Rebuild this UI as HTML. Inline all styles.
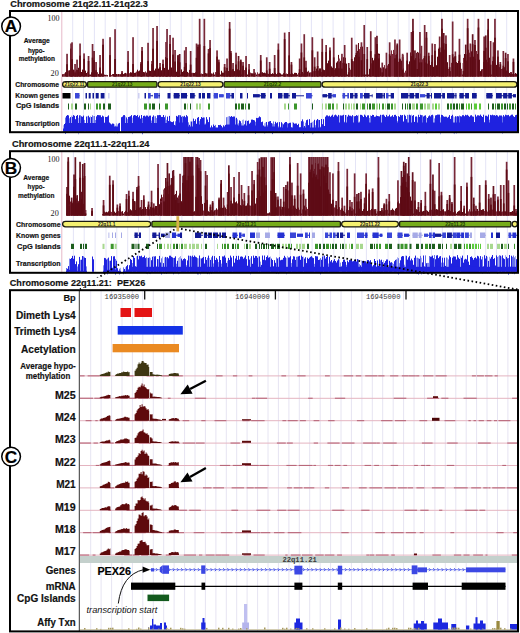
<!DOCTYPE html><html><head><meta charset="utf-8"><style>html,body{margin:0;padding:0;background:#fff;}svg{display:block}</style></head><body>
<svg width="520" height="633" viewBox="0 0 520 633">
<rect width="520" height="633" fill="#fff"/>
<text x="10.3" y="6.6" font-family="'Liberation Sans',sans-serif" font-size="9.25" font-weight="bold" font-style="normal" text-anchor="start" fill="#111"  textLength="137.7" lengthAdjust="spacingAndGlyphs" stroke="#111" stroke-width="0.18">Chromosome 21q22.11-21q22.3</text>
<line x1="72.7" y1="12" x2="72.7" y2="131" stroke="#e4e4f6" stroke-width="1"/><line x1="83.5" y1="12" x2="83.5" y2="131" stroke="#e4e4f6" stroke-width="1"/><line x1="94.4" y1="12" x2="94.4" y2="131" stroke="#e4e4f6" stroke-width="1"/><line x1="105.2" y1="12" x2="105.2" y2="131" stroke="#e4e4f6" stroke-width="1"/><line x1="116.1" y1="12" x2="116.1" y2="131" stroke="#e4e4f6" stroke-width="1"/><line x1="127.0" y1="12" x2="127.0" y2="131" stroke="#e4e4f6" stroke-width="1"/><line x1="137.8" y1="12" x2="137.8" y2="131" stroke="#e4e4f6" stroke-width="1"/><line x1="148.7" y1="12" x2="148.7" y2="131" stroke="#e4e4f6" stroke-width="1"/><line x1="159.5" y1="12" x2="159.5" y2="131" stroke="#e4e4f6" stroke-width="1"/><line x1="170.3" y1="12" x2="170.3" y2="131" stroke="#e4e4f6" stroke-width="1"/><line x1="181.2" y1="12" x2="181.2" y2="131" stroke="#e4e4f6" stroke-width="1"/><line x1="192.1" y1="12" x2="192.1" y2="131" stroke="#e4e4f6" stroke-width="1"/><line x1="202.9" y1="12" x2="202.9" y2="131" stroke="#e4e4f6" stroke-width="1"/><line x1="213.8" y1="12" x2="213.8" y2="131" stroke="#e4e4f6" stroke-width="1"/><line x1="224.6" y1="12" x2="224.6" y2="131" stroke="#e4e4f6" stroke-width="1"/><line x1="235.4" y1="12" x2="235.4" y2="131" stroke="#e4e4f6" stroke-width="1"/><line x1="246.3" y1="12" x2="246.3" y2="131" stroke="#e4e4f6" stroke-width="1"/><line x1="257.1" y1="12" x2="257.1" y2="131" stroke="#e4e4f6" stroke-width="1"/><line x1="268.0" y1="12" x2="268.0" y2="131" stroke="#e4e4f6" stroke-width="1"/><line x1="278.9" y1="12" x2="278.9" y2="131" stroke="#e4e4f6" stroke-width="1"/><line x1="289.7" y1="12" x2="289.7" y2="131" stroke="#e4e4f6" stroke-width="1"/><line x1="300.6" y1="12" x2="300.6" y2="131" stroke="#e4e4f6" stroke-width="1"/><line x1="311.4" y1="12" x2="311.4" y2="131" stroke="#e4e4f6" stroke-width="1"/><line x1="322.2" y1="12" x2="322.2" y2="131" stroke="#e4e4f6" stroke-width="1"/><line x1="333.1" y1="12" x2="333.1" y2="131" stroke="#e4e4f6" stroke-width="1"/><line x1="343.9" y1="12" x2="343.9" y2="131" stroke="#e4e4f6" stroke-width="1"/><line x1="354.8" y1="12" x2="354.8" y2="131" stroke="#e4e4f6" stroke-width="1"/><line x1="365.6" y1="12" x2="365.6" y2="131" stroke="#e4e4f6" stroke-width="1"/><line x1="376.5" y1="12" x2="376.5" y2="131" stroke="#e4e4f6" stroke-width="1"/><line x1="387.3" y1="12" x2="387.3" y2="131" stroke="#e4e4f6" stroke-width="1"/><line x1="398.2" y1="12" x2="398.2" y2="131" stroke="#e4e4f6" stroke-width="1"/><line x1="409.0" y1="12" x2="409.0" y2="131" stroke="#e4e4f6" stroke-width="1"/><line x1="419.9" y1="12" x2="419.9" y2="131" stroke="#e4e4f6" stroke-width="1"/><line x1="430.8" y1="12" x2="430.8" y2="131" stroke="#e4e4f6" stroke-width="1"/><line x1="441.6" y1="12" x2="441.6" y2="131" stroke="#e4e4f6" stroke-width="1"/><line x1="452.4" y1="12" x2="452.4" y2="131" stroke="#e4e4f6" stroke-width="1"/><line x1="463.3" y1="12" x2="463.3" y2="131" stroke="#e4e4f6" stroke-width="1"/><line x1="474.1" y1="12" x2="474.1" y2="131" stroke="#e4e4f6" stroke-width="1"/><line x1="485.0" y1="12" x2="485.0" y2="131" stroke="#e4e4f6" stroke-width="1"/><line x1="495.8" y1="12" x2="495.8" y2="131" stroke="#e4e4f6" stroke-width="1"/><line x1="506.7" y1="12" x2="506.7" y2="131" stroke="#e4e4f6" stroke-width="1"/>
<line x1="61.8" y1="12" x2="61.8" y2="131" stroke="#e6b8c8" stroke-width="1"/>
<rect x="62.0" y="74.5" width="1" height="2.0" fill="#5a0812"/><rect x="62.0" y="74.4" width="1" height="2.1" fill="#5e0a14"/><rect x="63.0" y="74.5" width="1" height="2.0" fill="#5a0812"/><rect x="63.0" y="74.1" width="1" height="2.4" fill="#7e2a3a"/><rect x="64.0" y="74.5" width="1" height="2.0" fill="#5a0812"/><rect x="64.0" y="73.5" width="1" height="3.0" fill="#7e2a3a"/><rect x="65.0" y="74.5" width="1" height="2.0" fill="#5a0812"/><rect x="65.0" y="72.2" width="1" height="4.3" fill="#5e0a14"/><rect x="66.0" y="74.5" width="1" height="2.0" fill="#5a0812"/><rect x="66.0" y="72.0" width="1" height="4.5" fill="#5e0a14"/><rect x="67.0" y="74.5" width="1" height="2.0" fill="#5a0812"/><rect x="67.0" y="70.4" width="1" height="6.1" fill="#5e0a14"/><rect x="68.0" y="74.5" width="1" height="2.0" fill="#5a0812"/><rect x="68.0" y="70.5" width="1" height="6.0" fill="#7e2a3a"/><rect x="69.0" y="74.5" width="1" height="2.0" fill="#5a0812"/><rect x="69.0" y="70.2" width="1" height="6.3" fill="#5e0a14"/><rect x="70.0" y="74.5" width="1" height="2.0" fill="#5a0812"/><rect x="70.0" y="69.8" width="1" height="6.7" fill="#5e0a14"/><rect x="71.0" y="74.5" width="1" height="2.0" fill="#5a0812"/><rect x="71.0" y="68.4" width="1" height="8.1" fill="#5e0a14"/><rect x="72.0" y="74.5" width="1" height="2.0" fill="#5a0812"/><rect x="72.0" y="70.5" width="1" height="6.0" fill="#5e0a14"/><rect x="73.0" y="74.5" width="1" height="2.0" fill="#5a0812"/><rect x="73.0" y="69.6" width="1" height="6.9" fill="#5e0a14"/><rect x="74.0" y="74.5" width="1" height="2.0" fill="#5a0812"/><rect x="74.0" y="70.3" width="1" height="6.2" fill="#7e2a3a"/><rect x="75.0" y="74.5" width="1" height="2.0" fill="#5a0812"/><rect x="75.0" y="71.0" width="1" height="5.5" fill="#5e0a14"/><rect x="76.0" y="74.5" width="1" height="2.0" fill="#5a0812"/><rect x="76.0" y="69.4" width="1" height="7.1" fill="#7e2a3a"/><rect x="77.0" y="74.5" width="1" height="2.0" fill="#5a0812"/><rect x="77.0" y="70.2" width="1" height="6.3" fill="#5e0a14"/><rect x="78.0" y="74.5" width="1" height="2.0" fill="#5a0812"/><rect x="78.0" y="67.8" width="1" height="8.7" fill="#5e0a14"/><rect x="79.0" y="74.5" width="1" height="2.0" fill="#5a0812"/><rect x="79.0" y="71.7" width="1" height="4.8" fill="#5e0a14"/><rect x="80.0" y="74.5" width="1" height="2.0" fill="#5a0812"/><rect x="80.0" y="69.9" width="1" height="6.6" fill="#5e0a14"/><rect x="81.0" y="74.5" width="1" height="2.0" fill="#5a0812"/><rect x="81.0" y="72.0" width="1" height="4.5" fill="#5e0a14"/><rect x="82.0" y="74.5" width="1" height="2.0" fill="#5a0812"/><rect x="82.0" y="69.6" width="1" height="6.9" fill="#5e0a14"/><rect x="83.0" y="74.5" width="1" height="2.0" fill="#5a0812"/><rect x="83.0" y="70.2" width="1" height="6.3" fill="#5e0a14"/><rect x="84.0" y="74.5" width="1" height="2.0" fill="#5a0812"/><rect x="84.0" y="71.0" width="1" height="5.5" fill="#7e2a3a"/><rect x="85.0" y="74.5" width="1" height="2.0" fill="#5a0812"/><rect x="85.0" y="70.6" width="1" height="5.9" fill="#5e0a14"/><rect x="86.0" y="74.5" width="1" height="2.0" fill="#5a0812"/><rect x="86.0" y="73.0" width="1" height="3.5" fill="#5e0a14"/><rect x="87.0" y="74.5" width="1" height="2.0" fill="#5a0812"/><rect x="87.0" y="71.7" width="1" height="4.8" fill="#7e2a3a"/><rect x="88.0" y="74.5" width="1" height="2.0" fill="#5a0812"/><rect x="88.0" y="72.3" width="1" height="4.2" fill="#5e0a14"/><rect x="89.0" y="74.5" width="1" height="2.0" fill="#5a0812"/><rect x="90.0" y="74.5" width="1" height="2.0" fill="#5a0812"/><rect x="91.0" y="74.5" width="1" height="2.0" fill="#5a0812"/><rect x="91.0" y="72.3" width="1" height="4.2" fill="#5e0a14"/><rect x="92.0" y="74.5" width="1" height="2.0" fill="#5a0812"/><rect x="92.0" y="73.4" width="1" height="3.1" fill="#5e0a14"/><rect x="93.0" y="74.5" width="1" height="2.0" fill="#5a0812"/><rect x="93.0" y="73.0" width="1" height="3.5" fill="#7e2a3a"/><rect x="94.0" y="74.5" width="1" height="2.0" fill="#5a0812"/><rect x="94.0" y="72.4" width="1" height="4.1" fill="#5e0a14"/><rect x="95.0" y="74.5" width="1" height="2.0" fill="#5a0812"/><rect x="95.0" y="71.9" width="1" height="4.6" fill="#7e2a3a"/><rect x="96.0" y="74.5" width="1" height="2.0" fill="#5a0812"/><rect x="96.0" y="72.4" width="1" height="4.1" fill="#5e0a14"/><rect x="97.0" y="74.5" width="1" height="2.0" fill="#5a0812"/><rect x="97.0" y="72.2" width="1" height="4.3" fill="#7e2a3a"/><rect x="98.0" y="74.5" width="1" height="2.0" fill="#5a0812"/><rect x="98.0" y="73.9" width="1" height="2.6" fill="#5e0a14"/><rect x="99.0" y="74.5" width="1" height="2.0" fill="#5a0812"/><rect x="99.0" y="72.0" width="1" height="4.5" fill="#5e0a14"/><rect x="100.0" y="74.5" width="1" height="2.0" fill="#5a0812"/><rect x="100.0" y="73.6" width="1" height="2.9" fill="#5e0a14"/><rect x="101.0" y="74.5" width="1" height="2.0" fill="#5a0812"/><rect x="101.0" y="73.5" width="1" height="3.0" fill="#5e0a14"/><rect x="102.0" y="74.5" width="1" height="2.0" fill="#5a0812"/><rect x="102.0" y="74.7" width="1" height="1.8" fill="#5e0a14"/><rect x="103.0" y="75.1" width="1" height="1.4" fill="#5e0a14"/><rect x="104.0" y="74.6" width="1" height="1.9" fill="#5e0a14"/><rect x="105.0" y="74.9" width="1" height="1.6" fill="#5e0a14"/><rect x="106.0" y="74.8" width="1" height="1.7" fill="#7e2a3a"/><rect x="107.0" y="75.1" width="1" height="1.4" fill="#5e0a14"/><rect x="109.0" y="74.3" width="1" height="2.2" fill="#5e0a14"/><rect x="110.0" y="74.3" width="1" height="2.2" fill="#5e0a14"/><rect x="111.0" y="75.0" width="1" height="1.5" fill="#7e2a3a"/><rect x="112.0" y="74.0" width="1" height="2.5" fill="#7e2a3a"/><rect x="113.0" y="74.5" width="1" height="2.0" fill="#5a0812"/><rect x="113.0" y="74.0" width="1" height="2.5" fill="#5e0a14"/><rect x="114.0" y="74.5" width="1" height="2.0" fill="#5a0812"/><rect x="114.0" y="74.4" width="1" height="2.1" fill="#5e0a14"/><rect x="115.0" y="74.5" width="1" height="2.0" fill="#5a0812"/><rect x="115.0" y="74.1" width="1" height="2.4" fill="#5e0a14"/><rect x="116.0" y="74.5" width="1" height="2.0" fill="#5a0812"/><rect x="116.0" y="74.0" width="1" height="2.5" fill="#5e0a14"/><rect x="117.0" y="74.5" width="1" height="2.0" fill="#5a0812"/><rect x="117.0" y="74.5" width="1" height="2.0" fill="#7e2a3a"/><rect x="118.0" y="74.5" width="1" height="2.0" fill="#5a0812"/><rect x="118.0" y="74.0" width="1" height="2.5" fill="#5e0a14"/><rect x="119.0" y="74.5" width="1" height="2.0" fill="#5a0812"/><rect x="119.0" y="74.4" width="1" height="2.1" fill="#7e2a3a"/><rect x="120.0" y="74.5" width="1" height="2.0" fill="#5a0812"/><rect x="120.0" y="74.3" width="1" height="2.2" fill="#5e0a14"/><rect x="121.0" y="74.5" width="1" height="2.0" fill="#5a0812"/><rect x="121.0" y="74.5" width="1" height="2.0" fill="#7e2a3a"/><rect x="122.0" y="74.5" width="1" height="2.0" fill="#5a0812"/><rect x="122.0" y="73.7" width="1" height="2.8" fill="#7e2a3a"/><rect x="123.0" y="74.5" width="1" height="2.0" fill="#5a0812"/><rect x="123.0" y="74.1" width="1" height="2.4" fill="#5e0a14"/><rect x="124.0" y="74.5" width="1" height="2.0" fill="#5a0812"/><rect x="124.0" y="73.3" width="1" height="3.2" fill="#5e0a14"/><rect x="125.0" y="74.5" width="1" height="2.0" fill="#5a0812"/><rect x="125.0" y="72.9" width="1" height="3.6" fill="#5e0a14"/><rect x="126.0" y="74.5" width="1" height="2.0" fill="#5a0812"/><rect x="126.0" y="73.4" width="1" height="3.1" fill="#7e2a3a"/><rect x="127.0" y="74.5" width="1" height="2.0" fill="#5a0812"/><rect x="127.0" y="73.2" width="1" height="3.3" fill="#5e0a14"/><rect x="128.0" y="74.5" width="1" height="2.0" fill="#5a0812"/><rect x="128.0" y="72.7" width="1" height="3.8" fill="#7e2a3a"/><rect x="129.0" y="74.5" width="1" height="2.0" fill="#5a0812"/><rect x="129.0" y="73.2" width="1" height="3.3" fill="#7e2a3a"/><rect x="130.0" y="74.5" width="1" height="2.0" fill="#5a0812"/><rect x="130.0" y="72.2" width="1" height="4.3" fill="#5e0a14"/><rect x="131.0" y="74.5" width="1" height="2.0" fill="#5a0812"/><rect x="131.0" y="72.5" width="1" height="4.0" fill="#5e0a14"/><rect x="132.0" y="74.5" width="1" height="2.0" fill="#5a0812"/><rect x="132.0" y="71.6" width="1" height="4.9" fill="#5e0a14"/><rect x="133.0" y="74.5" width="1" height="2.0" fill="#5a0812"/><rect x="133.0" y="72.4" width="1" height="4.1" fill="#5e0a14"/><rect x="134.0" y="74.5" width="1" height="2.0" fill="#5a0812"/><rect x="134.0" y="72.9" width="1" height="3.6" fill="#5e0a14"/><rect x="135.0" y="74.5" width="1" height="2.0" fill="#5a0812"/><rect x="135.0" y="72.6" width="1" height="3.9" fill="#5e0a14"/><rect x="136.0" y="74.5" width="1" height="2.0" fill="#5a0812"/><rect x="136.0" y="71.6" width="1" height="4.9" fill="#7e2a3a"/><rect x="137.0" y="74.5" width="1" height="2.0" fill="#5a0812"/><rect x="137.0" y="69.7" width="1" height="6.8" fill="#5e0a14"/><rect x="138.0" y="74.5" width="1" height="2.0" fill="#5a0812"/><rect x="138.0" y="71.2" width="1" height="5.3" fill="#5e0a14"/><rect x="139.0" y="74.5" width="1" height="2.0" fill="#5a0812"/><rect x="139.0" y="70.5" width="1" height="6.0" fill="#5e0a14"/><rect x="140.0" y="74.5" width="1" height="2.0" fill="#5a0812"/><rect x="140.0" y="69.3" width="1" height="7.2" fill="#7e2a3a"/><rect x="141.0" y="74.5" width="1" height="2.0" fill="#5a0812"/><rect x="141.0" y="71.0" width="1" height="5.5" fill="#7e2a3a"/><rect x="142.0" y="74.5" width="1" height="2.0" fill="#5a0812"/><rect x="143.0" y="74.5" width="1" height="2.0" fill="#5a0812"/><rect x="143.0" y="72.0" width="1" height="4.5" fill="#5e0a14"/><rect x="144.0" y="74.5" width="1" height="2.0" fill="#5a0812"/><rect x="144.0" y="72.3" width="1" height="4.2" fill="#5e0a14"/><rect x="145.0" y="74.5" width="1" height="2.0" fill="#5a0812"/><rect x="145.0" y="71.4" width="1" height="5.1" fill="#7e2a3a"/><rect x="146.0" y="74.5" width="1" height="2.0" fill="#5a0812"/><rect x="146.0" y="72.6" width="1" height="3.9" fill="#5e0a14"/><rect x="147.0" y="74.5" width="1" height="2.0" fill="#5a0812"/><rect x="147.0" y="70.0" width="1" height="6.5" fill="#7e2a3a"/><rect x="148.0" y="74.5" width="1" height="2.0" fill="#5a0812"/><rect x="148.0" y="70.1" width="1" height="6.4" fill="#7e2a3a"/><rect x="149.0" y="74.5" width="1" height="2.0" fill="#5a0812"/><rect x="149.0" y="70.6" width="1" height="5.9" fill="#5e0a14"/><rect x="150.0" y="74.5" width="1" height="2.0" fill="#5a0812"/><rect x="150.0" y="71.0" width="1" height="5.5" fill="#5e0a14"/><rect x="151.0" y="74.5" width="1" height="2.0" fill="#5a0812"/><rect x="151.0" y="69.9" width="1" height="6.6" fill="#7e2a3a"/><rect x="152.0" y="74.5" width="1" height="2.0" fill="#5a0812"/><rect x="152.0" y="71.9" width="1" height="4.6" fill="#7e2a3a"/><rect x="153.0" y="74.5" width="1" height="2.0" fill="#5a0812"/><rect x="153.0" y="68.5" width="1" height="8.0" fill="#5e0a14"/><rect x="154.0" y="74.5" width="1" height="2.0" fill="#5a0812"/><rect x="154.0" y="70.4" width="1" height="6.1" fill="#5e0a14"/><rect x="155.0" y="74.5" width="1" height="2.0" fill="#5a0812"/><rect x="155.0" y="68.6" width="1" height="7.9" fill="#5e0a14"/><rect x="156.0" y="74.5" width="1" height="2.0" fill="#5a0812"/><rect x="156.0" y="69.2" width="1" height="7.3" fill="#5e0a14"/><rect x="157.0" y="74.5" width="1" height="2.0" fill="#5a0812"/><rect x="158.0" y="74.5" width="1" height="2.0" fill="#5a0812"/><rect x="158.0" y="68.6" width="1" height="7.9" fill="#5e0a14"/><rect x="159.0" y="74.5" width="1" height="2.0" fill="#5a0812"/><rect x="159.0" y="68.2" width="1" height="8.3" fill="#5e0a14"/><rect x="160.0" y="74.5" width="1" height="2.0" fill="#5a0812"/><rect x="160.0" y="67.5" width="1" height="9.0" fill="#5e0a14"/><rect x="161.0" y="74.5" width="1" height="2.0" fill="#5a0812"/><rect x="161.0" y="70.3" width="1" height="6.2" fill="#5e0a14"/><rect x="162.0" y="74.5" width="1" height="2.0" fill="#5a0812"/><rect x="162.0" y="67.9" width="1" height="8.6" fill="#7e2a3a"/><rect x="163.0" y="74.5" width="1" height="2.0" fill="#5a0812"/><rect x="163.0" y="65.8" width="1" height="10.7" fill="#7e2a3a"/><rect x="164.0" y="74.5" width="1" height="2.0" fill="#5a0812"/><rect x="164.0" y="67.9" width="1" height="8.6" fill="#5e0a14"/><rect x="165.0" y="74.5" width="1" height="2.0" fill="#5a0812"/><rect x="165.0" y="70.3" width="1" height="6.2" fill="#7e2a3a"/><rect x="166.0" y="74.5" width="1" height="2.0" fill="#5a0812"/><rect x="166.0" y="70.4" width="1" height="6.1" fill="#5e0a14"/><rect x="167.0" y="74.5" width="1" height="2.0" fill="#5a0812"/><rect x="167.0" y="68.3" width="1" height="8.2" fill="#5e0a14"/><rect x="168.0" y="74.5" width="1" height="2.0" fill="#5a0812"/><rect x="168.0" y="69.7" width="1" height="6.8" fill="#5e0a14"/><rect x="169.0" y="74.5" width="1" height="2.0" fill="#5a0812"/><rect x="169.0" y="67.8" width="1" height="8.7" fill="#7e2a3a"/><rect x="170.0" y="74.5" width="1" height="2.0" fill="#5a0812"/><rect x="170.0" y="66.6" width="1" height="9.9" fill="#5e0a14"/><rect x="171.0" y="74.5" width="1" height="2.0" fill="#5a0812"/><rect x="171.0" y="67.5" width="1" height="9.0" fill="#5e0a14"/><rect x="172.0" y="74.5" width="1" height="2.0" fill="#5a0812"/><rect x="172.0" y="70.0" width="1" height="6.5" fill="#5e0a14"/><rect x="173.0" y="74.5" width="1" height="2.0" fill="#5a0812"/><rect x="173.0" y="68.3" width="1" height="8.2" fill="#7e2a3a"/><rect x="174.0" y="74.5" width="1" height="2.0" fill="#5a0812"/><rect x="174.0" y="70.4" width="1" height="6.1" fill="#5e0a14"/><rect x="175.0" y="74.5" width="1" height="2.0" fill="#5a0812"/><rect x="175.0" y="70.0" width="1" height="6.5" fill="#5e0a14"/><rect x="176.0" y="74.5" width="1" height="2.0" fill="#5a0812"/><rect x="176.0" y="71.7" width="1" height="4.8" fill="#5e0a14"/><rect x="177.0" y="74.5" width="1" height="2.0" fill="#5a0812"/><rect x="177.0" y="69.4" width="1" height="7.1" fill="#7e2a3a"/><rect x="178.0" y="74.5" width="1" height="2.0" fill="#5a0812"/><rect x="178.0" y="70.0" width="1" height="6.5" fill="#5e0a14"/><rect x="179.0" y="74.5" width="1" height="2.0" fill="#5a0812"/><rect x="179.0" y="69.3" width="1" height="7.2" fill="#7e2a3a"/><rect x="180.0" y="74.5" width="1" height="2.0" fill="#5a0812"/><rect x="181.0" y="74.5" width="1" height="2.0" fill="#5a0812"/><rect x="181.0" y="69.4" width="1" height="7.1" fill="#5e0a14"/><rect x="182.0" y="74.5" width="1" height="2.0" fill="#5a0812"/><rect x="182.0" y="71.9" width="1" height="4.6" fill="#5e0a14"/><rect x="183.0" y="74.5" width="1" height="2.0" fill="#5a0812"/><rect x="183.0" y="71.1" width="1" height="5.4" fill="#5e0a14"/><rect x="184.0" y="74.5" width="1" height="2.0" fill="#5a0812"/><rect x="184.0" y="72.4" width="1" height="4.1" fill="#5e0a14"/><rect x="185.0" y="74.5" width="1" height="2.0" fill="#5a0812"/><rect x="185.0" y="71.9" width="1" height="4.6" fill="#7e2a3a"/><rect x="186.0" y="74.5" width="1" height="2.0" fill="#5a0812"/><rect x="186.0" y="71.5" width="1" height="5.0" fill="#5e0a14"/><rect x="187.0" y="74.5" width="1" height="2.0" fill="#5a0812"/><rect x="187.0" y="71.9" width="1" height="4.6" fill="#5e0a14"/><rect x="188.0" y="74.5" width="1" height="2.0" fill="#5a0812"/><rect x="188.0" y="72.8" width="1" height="3.7" fill="#7e2a3a"/><rect x="189.0" y="74.5" width="1" height="2.0" fill="#5a0812"/><rect x="189.0" y="69.9" width="1" height="6.6" fill="#5e0a14"/><rect x="190.0" y="74.5" width="1" height="2.0" fill="#5a0812"/><rect x="190.0" y="71.3" width="1" height="5.2" fill="#5e0a14"/><rect x="191.0" y="74.5" width="1" height="2.0" fill="#5a0812"/><rect x="191.0" y="72.9" width="1" height="3.6" fill="#5e0a14"/><rect x="192.0" y="74.5" width="1" height="2.0" fill="#5a0812"/><rect x="192.0" y="72.8" width="1" height="3.7" fill="#7e2a3a"/><rect x="193.0" y="74.5" width="1" height="2.0" fill="#5a0812"/><rect x="193.0" y="72.9" width="1" height="3.6" fill="#5e0a14"/><rect x="194.0" y="74.5" width="1" height="2.0" fill="#5a0812"/><rect x="194.0" y="73.0" width="1" height="3.5" fill="#5e0a14"/><rect x="195.0" y="74.5" width="1" height="2.0" fill="#5a0812"/><rect x="195.0" y="72.2" width="1" height="4.3" fill="#5e0a14"/><rect x="196.0" y="74.5" width="1" height="2.0" fill="#5a0812"/><rect x="196.0" y="73.7" width="1" height="2.8" fill="#7e2a3a"/><rect x="197.0" y="74.5" width="1" height="2.0" fill="#5a0812"/><rect x="197.0" y="72.6" width="1" height="3.9" fill="#7e2a3a"/><rect x="198.0" y="74.5" width="1" height="2.0" fill="#5a0812"/><rect x="198.0" y="74.2" width="1" height="2.3" fill="#7e2a3a"/><rect x="199.0" y="74.5" width="1" height="2.0" fill="#5a0812"/><rect x="199.0" y="73.7" width="1" height="2.8" fill="#5e0a14"/><rect x="200.0" y="74.5" width="1" height="2.0" fill="#5a0812"/><rect x="200.0" y="74.2" width="1" height="2.3" fill="#5e0a14"/><rect x="201.0" y="74.5" width="1" height="2.0" fill="#5a0812"/><rect x="201.0" y="73.5" width="1" height="3.0" fill="#7e2a3a"/><rect x="202.0" y="74.5" width="1" height="2.0" fill="#5a0812"/><rect x="202.0" y="74.0" width="1" height="2.5" fill="#5e0a14"/><rect x="203.0" y="74.5" width="1" height="2.0" fill="#5a0812"/><rect x="203.0" y="73.9" width="1" height="2.6" fill="#7e2a3a"/><rect x="204.0" y="74.5" width="1" height="2.0" fill="#5a0812"/><rect x="204.0" y="73.8" width="1" height="2.7" fill="#5e0a14"/><rect x="205.0" y="74.5" width="1" height="2.0" fill="#5a0812"/><rect x="205.0" y="73.0" width="1" height="3.5" fill="#5e0a14"/><rect x="206.0" y="74.5" width="1" height="2.0" fill="#5a0812"/><rect x="206.0" y="73.4" width="1" height="3.1" fill="#5e0a14"/><rect x="207.0" y="74.5" width="1" height="2.0" fill="#5a0812"/><rect x="207.0" y="73.4" width="1" height="3.1" fill="#7e2a3a"/><rect x="208.0" y="74.5" width="1" height="2.0" fill="#5a0812"/><rect x="208.0" y="73.4" width="1" height="3.1" fill="#5e0a14"/><rect x="209.0" y="74.5" width="1" height="2.0" fill="#5a0812"/><rect x="209.0" y="73.2" width="1" height="3.3" fill="#5e0a14"/><rect x="210.0" y="74.5" width="1" height="2.0" fill="#5a0812"/><rect x="210.0" y="73.3" width="1" height="3.2" fill="#5e0a14"/><rect x="211.0" y="74.5" width="1" height="2.0" fill="#5a0812"/><rect x="211.0" y="73.4" width="1" height="3.1" fill="#5e0a14"/><rect x="212.0" y="74.5" width="1" height="2.0" fill="#5a0812"/><rect x="212.0" y="73.7" width="1" height="2.8" fill="#7e2a3a"/><rect x="213.0" y="74.5" width="1" height="2.0" fill="#5a0812"/><rect x="213.0" y="72.5" width="1" height="4.0" fill="#5e0a14"/><rect x="214.0" y="74.5" width="1" height="2.0" fill="#5a0812"/><rect x="215.0" y="74.5" width="1" height="2.0" fill="#5a0812"/><rect x="215.0" y="72.1" width="1" height="4.4" fill="#7e2a3a"/><rect x="216.0" y="74.5" width="1" height="2.0" fill="#5a0812"/><rect x="216.0" y="72.4" width="1" height="4.1" fill="#7e2a3a"/><rect x="217.0" y="74.5" width="1" height="2.0" fill="#5a0812"/><rect x="217.0" y="72.4" width="1" height="4.1" fill="#5e0a14"/><rect x="218.0" y="74.5" width="1" height="2.0" fill="#5a0812"/><rect x="218.0" y="72.1" width="1" height="4.4" fill="#5e0a14"/><rect x="219.0" y="74.5" width="1" height="2.0" fill="#5a0812"/><rect x="219.0" y="72.9" width="1" height="3.6" fill="#7e2a3a"/><rect x="220.0" y="74.5" width="1" height="2.0" fill="#5a0812"/><rect x="221.0" y="74.5" width="1" height="2.0" fill="#5a0812"/><rect x="221.0" y="70.8" width="1" height="5.7" fill="#5e0a14"/><rect x="222.0" y="74.5" width="1" height="2.0" fill="#5a0812"/><rect x="222.0" y="72.6" width="1" height="3.9" fill="#5e0a14"/><rect x="223.0" y="74.5" width="1" height="2.0" fill="#5a0812"/><rect x="223.0" y="72.7" width="1" height="3.8" fill="#5e0a14"/><rect x="224.0" y="74.5" width="1" height="2.0" fill="#5a0812"/><rect x="224.0" y="71.9" width="1" height="4.6" fill="#5e0a14"/><rect x="225.0" y="74.5" width="1" height="2.0" fill="#5a0812"/><rect x="225.0" y="70.6" width="1" height="5.9" fill="#7e2a3a"/><rect x="226.0" y="74.5" width="1" height="2.0" fill="#5a0812"/><rect x="226.0" y="71.2" width="1" height="5.3" fill="#5e0a14"/><rect x="227.0" y="74.5" width="1" height="2.0" fill="#5a0812"/><rect x="227.0" y="72.1" width="1" height="4.4" fill="#5e0a14"/><rect x="228.0" y="74.5" width="1" height="2.0" fill="#5a0812"/><rect x="228.0" y="71.0" width="1" height="5.5" fill="#5e0a14"/><rect x="229.0" y="74.5" width="1" height="2.0" fill="#5a0812"/><rect x="229.0" y="70.2" width="1" height="6.3" fill="#5e0a14"/><rect x="230.0" y="74.5" width="1" height="2.0" fill="#5a0812"/><rect x="230.0" y="72.6" width="1" height="3.9" fill="#7e2a3a"/><rect x="231.0" y="74.5" width="1" height="2.0" fill="#5a0812"/><rect x="231.0" y="70.4" width="1" height="6.1" fill="#7e2a3a"/><rect x="232.0" y="74.5" width="1" height="2.0" fill="#5a0812"/><rect x="232.0" y="69.7" width="1" height="6.8" fill="#5e0a14"/><rect x="233.0" y="74.5" width="1" height="2.0" fill="#5a0812"/><rect x="233.0" y="70.5" width="1" height="6.0" fill="#7e2a3a"/><rect x="234.0" y="74.5" width="1" height="2.0" fill="#5a0812"/><rect x="234.0" y="71.1" width="1" height="5.4" fill="#5e0a14"/><rect x="235.0" y="74.5" width="1" height="2.0" fill="#5a0812"/><rect x="235.0" y="69.4" width="1" height="7.1" fill="#7e2a3a"/><rect x="236.0" y="74.5" width="1" height="2.0" fill="#5a0812"/><rect x="236.0" y="70.0" width="1" height="6.5" fill="#7e2a3a"/><rect x="237.0" y="74.5" width="1" height="2.0" fill="#5a0812"/><rect x="237.0" y="69.3" width="1" height="7.2" fill="#5e0a14"/><rect x="238.0" y="74.5" width="1" height="2.0" fill="#5a0812"/><rect x="238.0" y="70.7" width="1" height="5.8" fill="#5e0a14"/><rect x="239.0" y="74.5" width="1" height="2.0" fill="#5a0812"/><rect x="239.0" y="70.2" width="1" height="6.3" fill="#5e0a14"/><rect x="240.0" y="74.5" width="1" height="2.0" fill="#5a0812"/><rect x="240.0" y="69.3" width="1" height="7.2" fill="#5e0a14"/><rect x="241.0" y="74.5" width="1" height="2.0" fill="#5a0812"/><rect x="242.0" y="74.5" width="1" height="2.0" fill="#5a0812"/><rect x="242.0" y="69.6" width="1" height="6.9" fill="#5e0a14"/><rect x="243.0" y="74.5" width="1" height="2.0" fill="#5a0812"/><rect x="243.0" y="70.8" width="1" height="5.7" fill="#7e2a3a"/><rect x="244.0" y="74.5" width="1" height="2.0" fill="#5a0812"/><rect x="244.0" y="70.1" width="1" height="6.4" fill="#7e2a3a"/><rect x="245.0" y="74.5" width="1" height="2.0" fill="#5a0812"/><rect x="245.0" y="70.3" width="1" height="6.2" fill="#7e2a3a"/><rect x="246.0" y="74.5" width="1" height="2.0" fill="#5a0812"/><rect x="246.0" y="72.2" width="1" height="4.3" fill="#5e0a14"/><rect x="247.0" y="74.5" width="1" height="2.0" fill="#5a0812"/><rect x="248.0" y="74.5" width="1" height="2.0" fill="#5a0812"/><rect x="248.0" y="72.0" width="1" height="4.5" fill="#5e0a14"/><rect x="249.0" y="74.5" width="1" height="2.0" fill="#5a0812"/><rect x="249.0" y="71.8" width="1" height="4.7" fill="#5e0a14"/><rect x="250.0" y="74.5" width="1" height="2.0" fill="#5a0812"/><rect x="250.0" y="72.6" width="1" height="3.9" fill="#7e2a3a"/><rect x="251.0" y="74.5" width="1" height="2.0" fill="#5a0812"/><rect x="251.0" y="73.2" width="1" height="3.3" fill="#5e0a14"/><rect x="252.0" y="74.5" width="1" height="2.0" fill="#5a0812"/><rect x="252.0" y="73.3" width="1" height="3.2" fill="#5e0a14"/><rect x="253.0" y="74.5" width="1" height="2.0" fill="#5a0812"/><rect x="253.0" y="73.1" width="1" height="3.4" fill="#7e2a3a"/><rect x="254.0" y="74.5" width="1" height="2.0" fill="#5a0812"/><rect x="254.0" y="72.2" width="1" height="4.3" fill="#5e0a14"/><rect x="255.0" y="74.5" width="1" height="2.0" fill="#5a0812"/><rect x="255.0" y="72.6" width="1" height="3.9" fill="#7e2a3a"/><rect x="256.0" y="74.5" width="1" height="2.0" fill="#5a0812"/><rect x="257.0" y="74.5" width="1" height="2.0" fill="#5a0812"/><rect x="257.0" y="72.3" width="1" height="4.2" fill="#7e2a3a"/><rect x="258.0" y="74.5" width="1" height="2.0" fill="#5a0812"/><rect x="258.0" y="73.8" width="1" height="2.7" fill="#7e2a3a"/><rect x="259.0" y="74.5" width="1" height="2.0" fill="#5a0812"/><rect x="259.0" y="73.5" width="1" height="3.0" fill="#5e0a14"/><rect x="260.0" y="74.5" width="1" height="2.0" fill="#5a0812"/><rect x="260.0" y="74.1" width="1" height="2.4" fill="#5e0a14"/><rect x="261.0" y="74.5" width="1" height="2.0" fill="#5a0812"/><rect x="261.0" y="72.6" width="1" height="3.9" fill="#7e2a3a"/><rect x="262.0" y="74.5" width="1" height="2.0" fill="#5a0812"/><rect x="262.0" y="72.2" width="1" height="4.3" fill="#5e0a14"/><rect x="263.0" y="74.5" width="1" height="2.0" fill="#5a0812"/><rect x="263.0" y="72.9" width="1" height="3.6" fill="#5e0a14"/><rect x="264.0" y="74.5" width="1" height="2.0" fill="#5a0812"/><rect x="264.0" y="72.6" width="1" height="3.9" fill="#5e0a14"/><rect x="265.0" y="74.5" width="1" height="2.0" fill="#5a0812"/><rect x="265.0" y="73.2" width="1" height="3.3" fill="#5e0a14"/><rect x="266.0" y="74.5" width="1" height="2.0" fill="#5a0812"/><rect x="266.0" y="73.2" width="1" height="3.3" fill="#5e0a14"/><rect x="267.0" y="74.5" width="1" height="2.0" fill="#5a0812"/><rect x="267.0" y="73.5" width="1" height="3.0" fill="#5e0a14"/><rect x="268.0" y="74.5" width="1" height="2.0" fill="#5a0812"/><rect x="268.0" y="73.8" width="1" height="2.7" fill="#5e0a14"/><rect x="269.0" y="74.5" width="1" height="2.0" fill="#5a0812"/><rect x="269.0" y="72.2" width="1" height="4.3" fill="#5e0a14"/><rect x="270.0" y="74.5" width="1" height="2.0" fill="#5a0812"/><rect x="270.0" y="73.7" width="1" height="2.8" fill="#5e0a14"/><rect x="271.0" y="74.5" width="1" height="2.0" fill="#5a0812"/><rect x="271.0" y="74.0" width="1" height="2.5" fill="#5e0a14"/><rect x="272.0" y="74.5" width="1" height="2.0" fill="#5a0812"/><rect x="272.0" y="73.2" width="1" height="3.3" fill="#5e0a14"/><rect x="273.0" y="74.5" width="1" height="2.0" fill="#5a0812"/><rect x="273.0" y="73.9" width="1" height="2.6" fill="#5e0a14"/><rect x="274.0" y="74.5" width="1" height="2.0" fill="#5a0812"/><rect x="274.0" y="73.9" width="1" height="2.6" fill="#5e0a14"/><rect x="275.0" y="74.5" width="1" height="2.0" fill="#5a0812"/><rect x="275.0" y="72.9" width="1" height="3.6" fill="#5e0a14"/><rect x="276.0" y="74.5" width="1" height="2.0" fill="#5a0812"/><rect x="276.0" y="74.2" width="1" height="2.3" fill="#5e0a14"/><rect x="277.0" y="74.5" width="1" height="2.0" fill="#5a0812"/><rect x="277.0" y="73.1" width="1" height="3.4" fill="#5e0a14"/><rect x="278.0" y="74.5" width="1" height="2.0" fill="#5a0812"/><rect x="278.0" y="73.1" width="1" height="3.4" fill="#5e0a14"/><rect x="279.0" y="74.5" width="1" height="2.0" fill="#5a0812"/><rect x="279.0" y="72.8" width="1" height="3.7" fill="#5e0a14"/><rect x="280.0" y="74.5" width="1" height="2.0" fill="#5a0812"/><rect x="280.0" y="73.4" width="1" height="3.1" fill="#5e0a14"/><rect x="281.0" y="74.5" width="1" height="2.0" fill="#5a0812"/><rect x="282.0" y="74.5" width="1" height="2.0" fill="#5a0812"/><rect x="283.0" y="74.5" width="1" height="2.0" fill="#5a0812"/><rect x="283.0" y="73.2" width="1" height="3.3" fill="#5e0a14"/><rect x="284.0" y="74.5" width="1" height="2.0" fill="#5a0812"/><rect x="284.0" y="73.5" width="1" height="3.0" fill="#5e0a14"/><rect x="285.0" y="74.5" width="1" height="2.0" fill="#5a0812"/><rect x="285.0" y="74.3" width="1" height="2.2" fill="#5e0a14"/><rect x="286.0" y="74.5" width="1" height="2.0" fill="#5a0812"/><rect x="286.0" y="73.5" width="1" height="3.0" fill="#7e2a3a"/><rect x="287.0" y="74.5" width="1" height="2.0" fill="#5a0812"/><rect x="287.0" y="74.0" width="1" height="2.5" fill="#5e0a14"/><rect x="288.0" y="74.5" width="1" height="2.0" fill="#5a0812"/><rect x="288.0" y="73.4" width="1" height="3.1" fill="#7e2a3a"/><rect x="289.0" y="74.5" width="1" height="2.0" fill="#5a0812"/><rect x="289.0" y="74.3" width="1" height="2.2" fill="#7e2a3a"/><rect x="290.0" y="74.5" width="1" height="2.0" fill="#5a0812"/><rect x="290.0" y="73.9" width="1" height="2.6" fill="#5e0a14"/><rect x="291.0" y="74.5" width="1" height="2.0" fill="#5a0812"/><rect x="291.0" y="73.8" width="1" height="2.7" fill="#5e0a14"/><rect x="292.0" y="74.5" width="1" height="2.0" fill="#5a0812"/><rect x="292.0" y="73.4" width="1" height="3.1" fill="#5e0a14"/><rect x="293.0" y="74.5" width="1" height="2.0" fill="#5a0812"/><rect x="293.0" y="74.3" width="1" height="2.2" fill="#5e0a14"/><rect x="294.0" y="74.5" width="1" height="2.0" fill="#5a0812"/><rect x="294.0" y="72.8" width="1" height="3.7" fill="#5e0a14"/><rect x="295.0" y="74.5" width="1" height="2.0" fill="#5a0812"/><rect x="295.0" y="72.8" width="1" height="3.7" fill="#5e0a14"/><rect x="296.0" y="74.5" width="1" height="2.0" fill="#5a0812"/><rect x="296.0" y="73.0" width="1" height="3.5" fill="#5e0a14"/><rect x="297.0" y="74.5" width="1" height="2.0" fill="#5a0812"/><rect x="298.0" y="74.5" width="1" height="2.0" fill="#5a0812"/><rect x="298.0" y="72.8" width="1" height="3.7" fill="#7e2a3a"/><rect x="299.0" y="74.5" width="1" height="2.0" fill="#5a0812"/><rect x="299.0" y="72.4" width="1" height="4.1" fill="#5e0a14"/><rect x="300.0" y="74.5" width="1" height="2.0" fill="#5a0812"/><rect x="300.0" y="73.9" width="1" height="2.6" fill="#5e0a14"/><rect x="301.0" y="74.5" width="1" height="2.0" fill="#5a0812"/><rect x="301.0" y="73.4" width="1" height="3.1" fill="#7e2a3a"/><rect x="302.0" y="74.5" width="1" height="2.0" fill="#5a0812"/><rect x="302.0" y="72.0" width="1" height="4.5" fill="#5e0a14"/><rect x="303.0" y="74.5" width="1" height="2.0" fill="#5a0812"/><rect x="303.0" y="73.4" width="1" height="3.1" fill="#5e0a14"/><rect x="304.0" y="74.5" width="1" height="2.0" fill="#5a0812"/><rect x="304.0" y="72.7" width="1" height="3.8" fill="#7e2a3a"/><rect x="305.0" y="74.5" width="1" height="2.0" fill="#5a0812"/><rect x="305.0" y="72.1" width="1" height="4.4" fill="#5e0a14"/><rect x="306.0" y="74.5" width="1" height="2.0" fill="#5a0812"/><rect x="306.0" y="72.2" width="1" height="4.3" fill="#7e2a3a"/><rect x="307.0" y="74.5" width="1" height="2.0" fill="#5a0812"/><rect x="307.0" y="71.7" width="1" height="4.8" fill="#5e0a14"/><rect x="308.0" y="74.5" width="1" height="2.0" fill="#5a0812"/><rect x="308.0" y="70.8" width="1" height="5.7" fill="#7e2a3a"/><rect x="309.0" y="74.5" width="1" height="2.0" fill="#5a0812"/><rect x="309.0" y="72.5" width="1" height="4.0" fill="#5e0a14"/><rect x="310.0" y="74.5" width="1" height="2.0" fill="#5a0812"/><rect x="310.0" y="72.3" width="1" height="4.2" fill="#7e2a3a"/><rect x="311.0" y="74.5" width="1" height="2.0" fill="#5a0812"/><rect x="311.0" y="72.3" width="1" height="4.2" fill="#5e0a14"/><rect x="312.0" y="74.5" width="1" height="2.0" fill="#5a0812"/><rect x="312.0" y="70.6" width="1" height="5.9" fill="#7e2a3a"/><rect x="313.0" y="74.5" width="1" height="2.0" fill="#5a0812"/><rect x="313.0" y="71.2" width="1" height="5.3" fill="#7e2a3a"/><rect x="314.0" y="74.5" width="1" height="2.0" fill="#5a0812"/><rect x="314.0" y="69.8" width="1" height="6.7" fill="#7e2a3a"/><rect x="315.0" y="74.5" width="1" height="2.0" fill="#5a0812"/><rect x="315.0" y="71.0" width="1" height="5.5" fill="#7e2a3a"/><rect x="316.0" y="74.5" width="1" height="2.0" fill="#5a0812"/><rect x="316.0" y="68.6" width="1" height="7.9" fill="#5e0a14"/><rect x="317.0" y="74.5" width="1" height="2.0" fill="#5a0812"/><rect x="317.0" y="68.8" width="1" height="7.7" fill="#5e0a14"/><rect x="318.0" y="74.5" width="1" height="2.0" fill="#5a0812"/><rect x="318.0" y="70.5" width="1" height="6.0" fill="#5e0a14"/><rect x="319.0" y="74.5" width="1" height="2.0" fill="#5a0812"/><rect x="319.0" y="68.4" width="1" height="8.1" fill="#5e0a14"/><rect x="320.0" y="74.5" width="1" height="2.0" fill="#5a0812"/><rect x="320.0" y="68.4" width="1" height="8.1" fill="#5e0a14"/><rect x="321.0" y="74.5" width="1" height="2.0" fill="#5a0812"/><rect x="321.0" y="71.9" width="1" height="4.6" fill="#5e0a14"/><rect x="322.0" y="74.5" width="1" height="2.0" fill="#5a0812"/><rect x="322.0" y="72.4" width="1" height="4.1" fill="#5e0a14"/><rect x="323.0" y="74.5" width="1" height="2.0" fill="#5a0812"/><rect x="323.0" y="69.6" width="1" height="6.9" fill="#5e0a14"/><rect x="324.0" y="74.5" width="1" height="2.0" fill="#5a0812"/><rect x="324.0" y="70.1" width="1" height="6.4" fill="#5e0a14"/><rect x="325.0" y="74.5" width="1" height="2.0" fill="#5a0812"/><rect x="325.0" y="69.5" width="1" height="7.0" fill="#5e0a14"/><rect x="326.0" y="74.5" width="1" height="2.0" fill="#5a0812"/><rect x="326.0" y="63.3" width="1" height="13.2" fill="#5e0a14"/><rect x="327.0" y="74.5" width="1" height="2.0" fill="#5a0812"/><rect x="327.0" y="63.2" width="1" height="13.3" fill="#5e0a14"/><rect x="328.0" y="74.5" width="1" height="2.0" fill="#5a0812"/><rect x="328.0" y="60.6" width="1" height="15.9" fill="#5e0a14"/><rect x="329.0" y="74.5" width="1" height="2.0" fill="#5a0812"/><rect x="329.0" y="64.3" width="1" height="12.2" fill="#7e2a3a"/><rect x="330.0" y="74.5" width="1" height="2.0" fill="#5a0812"/><rect x="330.0" y="62.6" width="1" height="13.9" fill="#5e0a14"/><rect x="331.0" y="74.5" width="1" height="2.0" fill="#5a0812"/><rect x="331.0" y="66.4" width="1" height="10.1" fill="#5e0a14"/><rect x="332.0" y="74.5" width="1" height="2.0" fill="#5a0812"/><rect x="332.0" y="67.7" width="1" height="8.8" fill="#5e0a14"/><rect x="333.0" y="74.5" width="1" height="2.0" fill="#5a0812"/><rect x="333.0" y="70.9" width="1" height="5.6" fill="#5e0a14"/><rect x="334.0" y="74.5" width="1" height="2.0" fill="#5a0812"/><rect x="334.0" y="69.8" width="1" height="6.7" fill="#5e0a14"/><rect x="335.0" y="74.5" width="1" height="2.0" fill="#5a0812"/><rect x="335.0" y="68.2" width="1" height="8.3" fill="#5e0a14"/><rect x="336.0" y="74.5" width="1" height="2.0" fill="#5a0812"/><rect x="336.0" y="62.6" width="1" height="13.9" fill="#5e0a14"/><rect x="337.0" y="74.5" width="1" height="2.0" fill="#5a0812"/><rect x="337.0" y="61.3" width="1" height="15.2" fill="#5e0a14"/><rect x="338.0" y="74.5" width="1" height="2.0" fill="#5a0812"/><rect x="338.0" y="54.9" width="1" height="21.6" fill="#5e0a14"/><rect x="339.0" y="74.5" width="1" height="2.0" fill="#5a0812"/><rect x="339.0" y="62.0" width="1" height="14.5" fill="#5e0a14"/><rect x="340.0" y="74.5" width="1" height="2.0" fill="#5a0812"/><rect x="340.0" y="60.8" width="1" height="15.7" fill="#5e0a14"/><rect x="341.0" y="74.5" width="1" height="2.0" fill="#5a0812"/><rect x="341.0" y="57.7" width="1" height="18.8" fill="#5e0a14"/><rect x="342.0" y="74.5" width="1" height="2.0" fill="#5a0812"/><rect x="342.0" y="62.9" width="1" height="13.6" fill="#5e0a14"/><rect x="343.0" y="74.5" width="1" height="2.0" fill="#5a0812"/><rect x="343.0" y="57.2" width="1" height="19.3" fill="#5e0a14"/><rect x="344.0" y="74.5" width="1" height="2.0" fill="#5a0812"/><rect x="344.0" y="62.5" width="1" height="14.0" fill="#5e0a14"/><rect x="345.0" y="74.5" width="1" height="2.0" fill="#5a0812"/><rect x="345.0" y="57.7" width="1" height="18.8" fill="#5e0a14"/><rect x="346.0" y="74.5" width="1" height="2.0" fill="#5a0812"/><rect x="346.0" y="63.6" width="1" height="12.9" fill="#5e0a14"/><rect x="347.0" y="74.5" width="1" height="2.0" fill="#5a0812"/><rect x="348.0" y="74.5" width="1" height="2.0" fill="#5a0812"/><rect x="348.0" y="66.9" width="1" height="9.6" fill="#5e0a14"/><rect x="349.0" y="74.5" width="1" height="2.0" fill="#5a0812"/><rect x="349.0" y="67.9" width="1" height="8.6" fill="#5e0a14"/><rect x="350.0" y="74.5" width="1" height="2.0" fill="#5a0812"/><rect x="350.0" y="69.7" width="1" height="6.8" fill="#7e2a3a"/><rect x="351.0" y="74.5" width="1" height="2.0" fill="#5a0812"/><rect x="351.0" y="67.3" width="1" height="9.2" fill="#5e0a14"/><rect x="352.0" y="74.5" width="1" height="2.0" fill="#5a0812"/><rect x="352.0" y="60.9" width="1" height="15.6" fill="#5e0a14"/><rect x="353.0" y="74.5" width="1" height="2.0" fill="#5a0812"/><rect x="353.0" y="61.2" width="1" height="15.3" fill="#7e2a3a"/><rect x="354.0" y="74.5" width="1" height="2.0" fill="#5a0812"/><rect x="354.0" y="57.3" width="1" height="19.2" fill="#5e0a14"/><rect x="355.0" y="74.5" width="1" height="2.0" fill="#5a0812"/><rect x="355.0" y="55.0" width="1" height="21.5" fill="#5e0a14"/><rect x="356.0" y="74.5" width="1" height="2.0" fill="#5a0812"/><rect x="356.0" y="53.3" width="1" height="23.2" fill="#5e0a14"/><rect x="357.0" y="74.5" width="1" height="2.0" fill="#5a0812"/><rect x="357.0" y="50.9" width="1" height="25.6" fill="#5e0a14"/><rect x="358.0" y="74.5" width="1" height="2.0" fill="#5a0812"/><rect x="358.0" y="43.0" width="1" height="33.5" fill="#5e0a14"/><rect x="359.0" y="74.5" width="1" height="2.0" fill="#5a0812"/><rect x="359.0" y="49.1" width="1" height="27.4" fill="#7e2a3a"/><rect x="360.0" y="74.5" width="1" height="2.0" fill="#5a0812"/><rect x="360.0" y="46.9" width="1" height="29.6" fill="#7e2a3a"/><rect x="361.0" y="74.5" width="1" height="2.0" fill="#5a0812"/><rect x="361.0" y="47.1" width="1" height="29.4" fill="#5e0a14"/><rect x="362.0" y="74.5" width="1" height="2.0" fill="#5a0812"/><rect x="362.0" y="46.6" width="1" height="29.9" fill="#5e0a14"/><rect x="363.0" y="74.5" width="1" height="2.0" fill="#5a0812"/><rect x="364.0" y="74.5" width="1" height="2.0" fill="#5a0812"/><rect x="364.0" y="44.9" width="1" height="31.6" fill="#5e0a14"/><rect x="365.0" y="74.5" width="1" height="2.0" fill="#5a0812"/><rect x="366.0" y="74.5" width="1" height="2.0" fill="#5a0812"/><rect x="367.0" y="74.5" width="1" height="2.0" fill="#5a0812"/><rect x="367.0" y="65.1" width="1" height="11.4" fill="#7e2a3a"/><rect x="368.0" y="74.5" width="1" height="2.0" fill="#5a0812"/><rect x="369.0" y="74.5" width="1" height="2.0" fill="#5a0812"/><rect x="369.0" y="68.8" width="1" height="7.7" fill="#5e0a14"/><rect x="370.0" y="74.5" width="1" height="2.0" fill="#5a0812"/><rect x="370.0" y="63.1" width="1" height="13.4" fill="#7e2a3a"/><rect x="371.0" y="74.5" width="1" height="2.0" fill="#5a0812"/><rect x="371.0" y="63.3" width="1" height="13.2" fill="#7e2a3a"/><rect x="372.0" y="74.5" width="1" height="2.0" fill="#5a0812"/><rect x="372.0" y="57.8" width="1" height="18.7" fill="#5e0a14"/><rect x="373.0" y="74.5" width="1" height="2.0" fill="#5a0812"/><rect x="373.0" y="60.3" width="1" height="16.2" fill="#5e0a14"/><rect x="374.0" y="74.5" width="1" height="2.0" fill="#5a0812"/><rect x="374.0" y="58.4" width="1" height="18.1" fill="#5e0a14"/><rect x="375.0" y="74.5" width="1" height="2.0" fill="#5a0812"/><rect x="375.0" y="48.4" width="1" height="28.1" fill="#5e0a14"/><rect x="376.0" y="74.5" width="1" height="2.0" fill="#5a0812"/><rect x="376.0" y="55.9" width="1" height="20.6" fill="#5e0a14"/><rect x="377.0" y="74.5" width="1" height="2.0" fill="#5a0812"/><rect x="377.0" y="49.9" width="1" height="26.6" fill="#7e2a3a"/><rect x="378.0" y="74.5" width="1" height="2.0" fill="#5a0812"/><rect x="378.0" y="53.5" width="1" height="23.0" fill="#5e0a14"/><rect x="379.0" y="74.5" width="1" height="2.0" fill="#5a0812"/><rect x="379.0" y="53.8" width="1" height="22.7" fill="#5e0a14"/><rect x="380.0" y="74.5" width="1" height="2.0" fill="#5a0812"/><rect x="380.0" y="67.6" width="1" height="8.9" fill="#5e0a14"/><rect x="381.0" y="74.5" width="1" height="2.0" fill="#5a0812"/><rect x="381.0" y="68.5" width="1" height="8.0" fill="#7e2a3a"/><rect x="382.0" y="74.5" width="1" height="2.0" fill="#5a0812"/><rect x="382.0" y="66.3" width="1" height="10.2" fill="#5e0a14"/><rect x="383.0" y="74.5" width="1" height="2.0" fill="#5a0812"/><rect x="383.0" y="67.3" width="1" height="9.2" fill="#5e0a14"/><rect x="384.0" y="74.5" width="1" height="2.0" fill="#5a0812"/><rect x="384.0" y="65.1" width="1" height="11.4" fill="#7e2a3a"/><rect x="385.0" y="74.5" width="1" height="2.0" fill="#5a0812"/><rect x="385.0" y="68.8" width="1" height="7.7" fill="#5e0a14"/><rect x="386.0" y="74.5" width="1" height="2.0" fill="#5a0812"/><rect x="386.0" y="64.8" width="1" height="11.7" fill="#5e0a14"/><rect x="387.0" y="74.5" width="1" height="2.0" fill="#5a0812"/><rect x="387.0" y="65.4" width="1" height="11.1" fill="#7e2a3a"/><rect x="388.0" y="74.5" width="1" height="2.0" fill="#5a0812"/><rect x="388.0" y="64.0" width="1" height="12.5" fill="#5e0a14"/><rect x="389.0" y="74.5" width="1" height="2.0" fill="#5a0812"/><rect x="389.0" y="58.4" width="1" height="18.1" fill="#5e0a14"/><rect x="390.0" y="74.5" width="1" height="2.0" fill="#5a0812"/><rect x="390.0" y="55.7" width="1" height="20.8" fill="#5e0a14"/><rect x="391.0" y="74.5" width="1" height="2.0" fill="#5a0812"/><rect x="391.0" y="50.4" width="1" height="26.1" fill="#7e2a3a"/><rect x="392.0" y="74.5" width="1" height="2.0" fill="#5a0812"/><rect x="392.0" y="54.0" width="1" height="22.5" fill="#7e2a3a"/><rect x="393.0" y="74.5" width="1" height="2.0" fill="#5a0812"/><rect x="393.0" y="49.9" width="1" height="26.6" fill="#7e2a3a"/><rect x="394.0" y="74.5" width="1" height="2.0" fill="#5a0812"/><rect x="394.0" y="53.2" width="1" height="23.3" fill="#5e0a14"/><rect x="395.0" y="74.5" width="1" height="2.0" fill="#5a0812"/><rect x="395.0" y="54.9" width="1" height="21.6" fill="#5e0a14"/><rect x="396.0" y="74.5" width="1" height="2.0" fill="#5a0812"/><rect x="396.0" y="54.3" width="1" height="22.2" fill="#5e0a14"/><rect x="397.0" y="74.5" width="1" height="2.0" fill="#5a0812"/><rect x="397.0" y="57.2" width="1" height="19.3" fill="#7e2a3a"/><rect x="398.0" y="74.5" width="1" height="2.0" fill="#5a0812"/><rect x="398.0" y="61.8" width="1" height="14.7" fill="#7e2a3a"/><rect x="399.0" y="74.5" width="1" height="2.0" fill="#5a0812"/><rect x="399.0" y="62.2" width="1" height="14.3" fill="#5e0a14"/><rect x="400.0" y="74.5" width="1" height="2.0" fill="#5a0812"/><rect x="400.0" y="59.3" width="1" height="17.2" fill="#5e0a14"/><rect x="401.0" y="74.5" width="1" height="2.0" fill="#5a0812"/><rect x="401.0" y="60.7" width="1" height="15.8" fill="#5e0a14"/><rect x="402.0" y="74.5" width="1" height="2.0" fill="#5a0812"/><rect x="402.0" y="67.8" width="1" height="8.7" fill="#5e0a14"/><rect x="403.0" y="74.5" width="1" height="2.0" fill="#5a0812"/><rect x="403.0" y="68.3" width="1" height="8.2" fill="#5e0a14"/><rect x="404.0" y="74.5" width="1" height="2.0" fill="#5a0812"/><rect x="404.0" y="72.6" width="1" height="3.9" fill="#7e2a3a"/><rect x="405.0" y="74.5" width="1" height="2.0" fill="#5a0812"/><rect x="405.0" y="70.7" width="1" height="5.8" fill="#7e2a3a"/><rect x="406.0" y="74.5" width="1" height="2.0" fill="#5a0812"/><rect x="406.0" y="72.9" width="1" height="3.6" fill="#7e2a3a"/><rect x="407.0" y="74.5" width="1" height="2.0" fill="#5a0812"/><rect x="408.0" y="74.5" width="1" height="2.0" fill="#5a0812"/><rect x="408.0" y="64.2" width="1" height="12.3" fill="#7e2a3a"/><rect x="409.0" y="74.5" width="1" height="2.0" fill="#5a0812"/><rect x="409.0" y="61.4" width="1" height="15.1" fill="#5e0a14"/><rect x="410.0" y="74.5" width="1" height="2.0" fill="#5a0812"/><rect x="410.0" y="52.4" width="1" height="24.1" fill="#5e0a14"/><rect x="411.0" y="74.5" width="1" height="2.0" fill="#5a0812"/><rect x="411.0" y="50.6" width="1" height="25.9" fill="#5e0a14"/><rect x="412.0" y="74.5" width="1" height="2.0" fill="#5a0812"/><rect x="412.0" y="55.3" width="1" height="21.2" fill="#7e2a3a"/><rect x="413.0" y="74.5" width="1" height="2.0" fill="#5a0812"/><rect x="413.0" y="54.4" width="1" height="22.1" fill="#5e0a14"/><rect x="414.0" y="74.5" width="1" height="2.0" fill="#5a0812"/><rect x="414.0" y="59.6" width="1" height="16.9" fill="#5e0a14"/><rect x="415.0" y="74.5" width="1" height="2.0" fill="#5a0812"/><rect x="415.0" y="58.1" width="1" height="18.4" fill="#5e0a14"/><rect x="416.0" y="74.5" width="1" height="2.0" fill="#5a0812"/><rect x="416.0" y="53.0" width="1" height="23.5" fill="#5e0a14"/><rect x="417.0" y="74.5" width="1" height="2.0" fill="#5a0812"/><rect x="417.0" y="51.9" width="1" height="24.6" fill="#5e0a14"/><rect x="418.0" y="74.5" width="1" height="2.0" fill="#5a0812"/><rect x="418.0" y="52.6" width="1" height="23.9" fill="#5e0a14"/><rect x="419.0" y="74.5" width="1" height="2.0" fill="#5a0812"/><rect x="419.0" y="58.7" width="1" height="17.8" fill="#5e0a14"/><rect x="420.0" y="74.5" width="1" height="2.0" fill="#5a0812"/><rect x="420.0" y="53.6" width="1" height="22.9" fill="#5e0a14"/><rect x="421.0" y="74.5" width="1" height="2.0" fill="#5a0812"/><rect x="421.0" y="60.8" width="1" height="15.7" fill="#7e2a3a"/><rect x="422.0" y="74.5" width="1" height="2.0" fill="#5a0812"/><rect x="422.0" y="59.3" width="1" height="17.2" fill="#7e2a3a"/><rect x="423.0" y="74.5" width="1" height="2.0" fill="#5a0812"/><rect x="423.0" y="58.2" width="1" height="18.3" fill="#7e2a3a"/><rect x="424.0" y="74.5" width="1" height="2.0" fill="#5a0812"/><rect x="424.0" y="60.8" width="1" height="15.7" fill="#5e0a14"/><rect x="425.0" y="74.5" width="1" height="2.0" fill="#5a0812"/><rect x="425.0" y="62.5" width="1" height="14.0" fill="#5e0a14"/><rect x="426.0" y="74.5" width="1" height="2.0" fill="#5a0812"/><rect x="426.0" y="58.4" width="1" height="18.1" fill="#7e2a3a"/><rect x="427.0" y="74.5" width="1" height="2.0" fill="#5a0812"/><rect x="427.0" y="63.6" width="1" height="12.9" fill="#7e2a3a"/><rect x="428.0" y="74.5" width="1" height="2.0" fill="#5a0812"/><rect x="428.0" y="62.4" width="1" height="14.1" fill="#7e2a3a"/><rect x="429.0" y="74.5" width="1" height="2.0" fill="#5a0812"/><rect x="429.0" y="60.6" width="1" height="15.9" fill="#7e2a3a"/><rect x="430.0" y="74.5" width="1" height="2.0" fill="#5a0812"/><rect x="430.0" y="65.0" width="1" height="11.5" fill="#5e0a14"/><rect x="431.0" y="74.5" width="1" height="2.0" fill="#5a0812"/><rect x="431.0" y="61.8" width="1" height="14.7" fill="#5e0a14"/><rect x="432.0" y="74.5" width="1" height="2.0" fill="#5a0812"/><rect x="432.0" y="59.6" width="1" height="16.9" fill="#5e0a14"/><rect x="433.0" y="74.5" width="1" height="2.0" fill="#5a0812"/><rect x="433.0" y="66.8" width="1" height="9.7" fill="#5e0a14"/><rect x="434.0" y="74.5" width="1" height="2.0" fill="#5a0812"/><rect x="434.0" y="61.0" width="1" height="15.5" fill="#5e0a14"/><rect x="435.0" y="74.5" width="1" height="2.0" fill="#5a0812"/><rect x="435.0" y="60.9" width="1" height="15.6" fill="#5e0a14"/><rect x="436.0" y="74.5" width="1" height="2.0" fill="#5a0812"/><rect x="436.0" y="65.2" width="1" height="11.3" fill="#5e0a14"/><rect x="437.0" y="74.5" width="1" height="2.0" fill="#5a0812"/><rect x="437.0" y="56.7" width="1" height="19.8" fill="#5e0a14"/><rect x="438.0" y="74.5" width="1" height="2.0" fill="#5a0812"/><rect x="438.0" y="48.7" width="1" height="27.8" fill="#5e0a14"/><rect x="439.0" y="74.5" width="1" height="2.0" fill="#5a0812"/><rect x="439.0" y="48.7" width="1" height="27.8" fill="#5e0a14"/><rect x="440.0" y="74.5" width="1" height="2.0" fill="#5a0812"/><rect x="440.0" y="52.2" width="1" height="24.3" fill="#5e0a14"/><rect x="441.0" y="74.5" width="1" height="2.0" fill="#5a0812"/><rect x="441.0" y="54.3" width="1" height="22.2" fill="#5e0a14"/><rect x="442.0" y="74.5" width="1" height="2.0" fill="#5a0812"/><rect x="442.0" y="47.1" width="1" height="29.4" fill="#7e2a3a"/><rect x="443.0" y="74.5" width="1" height="2.0" fill="#5a0812"/><rect x="443.0" y="52.2" width="1" height="24.3" fill="#5e0a14"/><rect x="444.0" y="74.5" width="1" height="2.0" fill="#5a0812"/><rect x="444.0" y="49.6" width="1" height="26.9" fill="#7e2a3a"/><rect x="445.0" y="74.5" width="1" height="2.0" fill="#5a0812"/><rect x="445.0" y="47.0" width="1" height="29.5" fill="#5e0a14"/><rect x="446.0" y="74.5" width="1" height="2.0" fill="#5a0812"/><rect x="446.0" y="50.2" width="1" height="26.3" fill="#5e0a14"/><rect x="447.0" y="74.5" width="1" height="2.0" fill="#5a0812"/><rect x="447.0" y="62.2" width="1" height="14.3" fill="#5e0a14"/><rect x="448.0" y="74.5" width="1" height="2.0" fill="#5a0812"/><rect x="448.0" y="68.9" width="1" height="7.6" fill="#7e2a3a"/><rect x="449.0" y="74.5" width="1" height="2.0" fill="#5a0812"/><rect x="450.0" y="74.5" width="1" height="2.0" fill="#5a0812"/><rect x="450.0" y="71.1" width="1" height="5.4" fill="#5e0a14"/><rect x="451.0" y="74.5" width="1" height="2.0" fill="#5a0812"/><rect x="451.0" y="62.8" width="1" height="13.7" fill="#7e2a3a"/><rect x="452.0" y="74.5" width="1" height="2.0" fill="#5a0812"/><rect x="452.0" y="63.9" width="1" height="12.6" fill="#5e0a14"/><rect x="453.0" y="74.5" width="1" height="2.0" fill="#5a0812"/><rect x="453.0" y="57.5" width="1" height="19.0" fill="#5e0a14"/><rect x="454.0" y="74.5" width="1" height="2.0" fill="#5a0812"/><rect x="454.0" y="56.6" width="1" height="19.9" fill="#7e2a3a"/><rect x="455.0" y="74.5" width="1" height="2.0" fill="#5a0812"/><rect x="455.0" y="59.0" width="1" height="17.5" fill="#7e2a3a"/><rect x="456.0" y="74.5" width="1" height="2.0" fill="#5a0812"/><rect x="456.0" y="62.1" width="1" height="14.4" fill="#5e0a14"/><rect x="457.0" y="74.5" width="1" height="2.0" fill="#5a0812"/><rect x="457.0" y="63.0" width="1" height="13.5" fill="#5e0a14"/><rect x="458.0" y="74.5" width="1" height="2.0" fill="#5a0812"/><rect x="458.0" y="61.0" width="1" height="15.5" fill="#5e0a14"/><rect x="459.0" y="74.5" width="1" height="2.0" fill="#5a0812"/><rect x="459.0" y="65.6" width="1" height="10.9" fill="#5e0a14"/><rect x="460.0" y="74.5" width="1" height="2.0" fill="#5a0812"/><rect x="460.0" y="62.7" width="1" height="13.8" fill="#5e0a14"/><rect x="461.0" y="74.5" width="1" height="2.0" fill="#5a0812"/><rect x="461.0" y="68.8" width="1" height="7.7" fill="#7e2a3a"/><rect x="462.0" y="74.5" width="1" height="2.0" fill="#5a0812"/><rect x="463.0" y="74.5" width="1" height="2.0" fill="#5a0812"/><rect x="463.0" y="57.9" width="1" height="18.6" fill="#7e2a3a"/><rect x="464.0" y="74.5" width="1" height="2.0" fill="#5a0812"/><rect x="464.0" y="54.0" width="1" height="22.5" fill="#5e0a14"/><rect x="465.0" y="74.5" width="1" height="2.0" fill="#5a0812"/><rect x="465.0" y="51.9" width="1" height="24.6" fill="#5e0a14"/><rect x="466.0" y="74.5" width="1" height="2.0" fill="#5a0812"/><rect x="466.0" y="60.6" width="1" height="15.9" fill="#5e0a14"/><rect x="467.0" y="74.5" width="1" height="2.0" fill="#5a0812"/><rect x="467.0" y="51.9" width="1" height="24.6" fill="#5e0a14"/><rect x="468.0" y="74.5" width="1" height="2.0" fill="#5a0812"/><rect x="468.0" y="49.7" width="1" height="26.8" fill="#5e0a14"/><rect x="469.0" y="74.5" width="1" height="2.0" fill="#5a0812"/><rect x="469.0" y="52.7" width="1" height="23.8" fill="#7e2a3a"/><rect x="470.0" y="74.5" width="1" height="2.0" fill="#5a0812"/><rect x="470.0" y="57.0" width="1" height="19.5" fill="#5e0a14"/><rect x="471.0" y="74.5" width="1" height="2.0" fill="#5a0812"/><rect x="471.0" y="51.3" width="1" height="25.2" fill="#5e0a14"/><rect x="472.0" y="74.5" width="1" height="2.0" fill="#5a0812"/><rect x="472.0" y="51.6" width="1" height="24.9" fill="#5e0a14"/><rect x="473.0" y="74.5" width="1" height="2.0" fill="#5a0812"/><rect x="473.0" y="56.7" width="1" height="19.8" fill="#5e0a14"/><rect x="474.0" y="74.5" width="1" height="2.0" fill="#5a0812"/><rect x="474.0" y="55.5" width="1" height="21.0" fill="#7e2a3a"/><rect x="475.0" y="74.5" width="1" height="2.0" fill="#5a0812"/><rect x="475.0" y="58.7" width="1" height="17.8" fill="#5e0a14"/><rect x="476.0" y="74.5" width="1" height="2.0" fill="#5a0812"/><rect x="476.0" y="51.0" width="1" height="25.5" fill="#7e2a3a"/><rect x="477.0" y="74.5" width="1" height="2.0" fill="#5a0812"/><rect x="477.0" y="54.0" width="1" height="22.5" fill="#5e0a14"/><rect x="478.0" y="74.5" width="1" height="2.0" fill="#5a0812"/><rect x="478.0" y="51.1" width="1" height="25.4" fill="#7e2a3a"/><rect x="479.0" y="74.5" width="1" height="2.0" fill="#5a0812"/><rect x="479.0" y="59.7" width="1" height="16.8" fill="#5e0a14"/><rect x="480.0" y="74.5" width="1" height="2.0" fill="#5a0812"/><rect x="480.0" y="71.1" width="1" height="5.4" fill="#5e0a14"/><rect x="481.0" y="74.5" width="1" height="2.0" fill="#5a0812"/><rect x="481.0" y="69.4" width="1" height="7.1" fill="#5e0a14"/><rect x="482.0" y="74.5" width="1" height="2.0" fill="#5a0812"/><rect x="482.0" y="69.1" width="1" height="7.4" fill="#7e2a3a"/><rect x="483.0" y="74.5" width="1" height="2.0" fill="#5a0812"/><rect x="483.0" y="61.9" width="1" height="14.6" fill="#5e0a14"/><rect x="484.0" y="74.5" width="1" height="2.0" fill="#5a0812"/><rect x="484.0" y="63.8" width="1" height="12.7" fill="#7e2a3a"/><rect x="485.0" y="74.5" width="1" height="2.0" fill="#5a0812"/><rect x="485.0" y="59.0" width="1" height="17.5" fill="#5e0a14"/><rect x="486.0" y="74.5" width="1" height="2.0" fill="#5a0812"/><rect x="486.0" y="59.7" width="1" height="16.8" fill="#5e0a14"/><rect x="487.0" y="74.5" width="1" height="2.0" fill="#5a0812"/><rect x="487.0" y="62.1" width="1" height="14.4" fill="#7e2a3a"/><rect x="488.0" y="74.5" width="1" height="2.0" fill="#5a0812"/><rect x="488.0" y="57.9" width="1" height="18.6" fill="#5e0a14"/><rect x="489.0" y="74.5" width="1" height="2.0" fill="#5a0812"/><rect x="489.0" y="57.7" width="1" height="18.8" fill="#5e0a14"/><rect x="490.0" y="74.5" width="1" height="2.0" fill="#5a0812"/><rect x="490.0" y="60.3" width="1" height="16.2" fill="#5e0a14"/><rect x="491.0" y="74.5" width="1" height="2.0" fill="#5a0812"/><rect x="492.0" y="74.5" width="1" height="2.0" fill="#5a0812"/><rect x="492.0" y="61.1" width="1" height="15.4" fill="#5e0a14"/><rect x="493.0" y="74.5" width="1" height="2.0" fill="#5a0812"/><rect x="493.0" y="59.0" width="1" height="17.5" fill="#7e2a3a"/><rect x="494.0" y="74.5" width="1" height="2.0" fill="#5a0812"/><rect x="494.0" y="65.9" width="1" height="10.6" fill="#7e2a3a"/><rect x="495.0" y="74.5" width="1" height="2.0" fill="#5a0812"/><rect x="495.0" y="62.9" width="1" height="13.6" fill="#5e0a14"/><rect x="496.0" y="74.5" width="1" height="2.0" fill="#5a0812"/><rect x="496.0" y="64.9" width="1" height="11.6" fill="#5e0a14"/><rect x="497.0" y="74.5" width="1" height="2.0" fill="#5a0812"/><rect x="497.0" y="60.9" width="1" height="15.6" fill="#5e0a14"/><rect x="498.0" y="74.5" width="1" height="2.0" fill="#5a0812"/><rect x="498.0" y="63.4" width="1" height="13.1" fill="#5e0a14"/><rect x="499.0" y="74.5" width="1" height="2.0" fill="#5a0812"/><rect x="499.0" y="67.1" width="1" height="9.4" fill="#5e0a14"/><rect x="500.0" y="74.5" width="1" height="2.0" fill="#5a0812"/><rect x="500.0" y="67.8" width="1" height="8.7" fill="#5e0a14"/><rect x="501.0" y="74.5" width="1" height="2.0" fill="#5a0812"/><rect x="501.0" y="69.0" width="1" height="7.5" fill="#7e2a3a"/><rect x="502.0" y="74.5" width="1" height="2.0" fill="#5a0812"/><rect x="502.0" y="68.4" width="1" height="8.1" fill="#5e0a14"/><rect x="503.0" y="74.5" width="1" height="2.0" fill="#5a0812"/><rect x="503.0" y="68.6" width="1" height="7.9" fill="#5e0a14"/><rect x="504.0" y="74.5" width="1" height="2.0" fill="#5a0812"/><rect x="504.0" y="67.2" width="1" height="9.3" fill="#5e0a14"/><rect x="505.0" y="74.5" width="1" height="2.0" fill="#5a0812"/><rect x="505.0" y="67.9" width="1" height="8.6" fill="#5e0a14"/><rect x="506.0" y="74.5" width="1" height="2.0" fill="#5a0812"/><rect x="506.0" y="70.5" width="1" height="6.0" fill="#5e0a14"/><rect x="507.0" y="74.5" width="1" height="2.0" fill="#5a0812"/><rect x="507.0" y="71.1" width="1" height="5.4" fill="#5e0a14"/><rect x="508.0" y="74.5" width="1" height="2.0" fill="#5a0812"/><rect x="508.0" y="71.9" width="1" height="4.6" fill="#5e0a14"/><rect x="509.0" y="74.5" width="1" height="2.0" fill="#5a0812"/><rect x="509.0" y="73.0" width="1" height="3.5" fill="#5e0a14"/><rect x="510.0" y="74.5" width="1" height="2.0" fill="#5a0812"/><rect x="510.0" y="73.7" width="1" height="2.8" fill="#5e0a14"/><rect x="511.0" y="74.5" width="1" height="2.0" fill="#5a0812"/><rect x="511.0" y="72.2" width="1" height="4.3" fill="#5e0a14"/><rect x="512.0" y="74.5" width="1" height="2.0" fill="#5a0812"/><rect x="512.0" y="74.0" width="1" height="2.5" fill="#5e0a14"/><rect x="513.0" y="74.5" width="1" height="2.0" fill="#5a0812"/><rect x="513.0" y="74.1" width="1" height="2.4" fill="#5e0a14"/><rect x="514.0" y="74.5" width="1" height="2.0" fill="#5a0812"/><rect x="514.0" y="74.2" width="1" height="2.3" fill="#7e2a3a"/><rect x="515.0" y="74.5" width="1" height="2.0" fill="#5a0812"/><rect x="515.0" y="73.0" width="1" height="3.5" fill="#5e0a14"/><rect x="516.0" y="74.5" width="1" height="2.0" fill="#5a0812"/><rect x="516.0" y="73.7" width="1" height="2.8" fill="#5e0a14"/><rect x="66.2" y="53.8" width="1.7" height="22.7" fill="#782838"/><rect x="66.2" y="64.2" width="1.7" height="12.3" fill="#5e0a14"/><rect x="70.2" y="43.5" width="1.7" height="33.0" fill="#782838"/><rect x="70.2" y="48.6" width="1.7" height="27.9" fill="#5e0a14"/><rect x="71.2" y="42.3" width="1.7" height="34.2" fill="#782838"/><rect x="71.2" y="59.2" width="1.7" height="17.3" fill="#5e0a14"/><rect x="74.2" y="64.0" width="1.7" height="12.5" fill="#782838"/><rect x="74.2" y="72.4" width="1.7" height="4.1" fill="#5e0a14"/><rect x="76.2" y="59.6" width="1.7" height="16.9" fill="#782838"/><rect x="76.2" y="70.0" width="1.7" height="6.5" fill="#5e0a14"/><rect x="79.2" y="43.5" width="1.7" height="33.0" fill="#782838"/><rect x="79.2" y="55.6" width="1.7" height="20.9" fill="#5e0a14"/><rect x="83.2" y="53.4" width="1.7" height="23.1" fill="#782838"/><rect x="83.2" y="58.8" width="1.7" height="17.7" fill="#5e0a14"/><rect x="87.7" y="56.0" width="1.7" height="20.5" fill="#782838"/><rect x="87.7" y="61.0" width="1.7" height="15.5" fill="#5e0a14"/><rect x="91.7" y="44.0" width="1.7" height="32.5" fill="#782838"/><rect x="91.7" y="57.6" width="1.7" height="18.9" fill="#5e0a14"/><rect x="93.2" y="51.0" width="1.7" height="25.5" fill="#641422"/><rect x="93.2" y="60.1" width="1.7" height="16.4" fill="#5e0a14"/><rect x="95.2" y="62.0" width="1.7" height="14.5" fill="#782838"/><rect x="95.2" y="70.2" width="1.7" height="6.3" fill="#5e0a14"/><rect x="99.2" y="55.0" width="1.7" height="21.5" fill="#782838"/><rect x="99.2" y="67.5" width="1.7" height="9.0" fill="#5e0a14"/><rect x="102.2" y="38.8" width="1.7" height="37.7" fill="#782838"/><rect x="102.2" y="44.7" width="1.7" height="31.8" fill="#5e0a14"/><rect x="109.2" y="37.2" width="1.7" height="39.3" fill="#782838"/><rect x="109.2" y="55.1" width="1.7" height="21.4" fill="#5e0a14"/><rect x="114.2" y="29.2" width="1.7" height="47.3" fill="#782838"/><rect x="114.2" y="59.0" width="1.7" height="17.5" fill="#5e0a14"/><rect x="121.2" y="71.0" width="1.7" height="5.5" fill="#782838"/><rect x="121.2" y="72.7" width="1.7" height="3.8" fill="#5e0a14"/><rect x="127.2" y="51.0" width="1.7" height="25.5" fill="#782838"/><rect x="127.2" y="61.9" width="1.7" height="14.6" fill="#5e0a14"/><rect x="132.2" y="37.2" width="1.7" height="39.3" fill="#782838"/><rect x="132.2" y="64.0" width="1.7" height="12.5" fill="#5e0a14"/><rect x="140.2" y="62.0" width="1.7" height="14.5" fill="#782838"/><rect x="140.2" y="63.6" width="1.7" height="12.9" fill="#5e0a14"/><rect x="141.2" y="47.0" width="1.7" height="29.5" fill="#782838"/><rect x="141.2" y="50.9" width="1.7" height="25.6" fill="#5e0a14"/><rect x="147.2" y="42.8" width="1.7" height="33.7" fill="#782838"/><rect x="147.2" y="61.1" width="1.7" height="15.4" fill="#5e0a14"/><rect x="151.2" y="61.0" width="1.7" height="15.5" fill="#782838"/><rect x="151.2" y="64.1" width="1.7" height="12.4" fill="#5e0a14"/><rect x="152.2" y="28.0" width="1.7" height="48.5" fill="#782838"/><rect x="152.2" y="48.7" width="1.7" height="27.8" fill="#5e0a14"/><rect x="156.2" y="26.0" width="1.7" height="50.5" fill="#782838"/><rect x="156.2" y="40.9" width="1.7" height="35.6" fill="#5e0a14"/><rect x="159.2" y="63.0" width="1.7" height="13.5" fill="#782838"/><rect x="159.2" y="67.2" width="1.7" height="9.3" fill="#5e0a14"/><rect x="162.2" y="59.6" width="1.7" height="16.9" fill="#782838"/><rect x="162.2" y="64.0" width="1.7" height="12.5" fill="#5e0a14"/><rect x="165.2" y="42.0" width="1.7" height="34.5" fill="#782838"/><rect x="165.2" y="57.0" width="1.7" height="19.5" fill="#5e0a14"/><rect x="166.2" y="29.0" width="1.7" height="47.5" fill="#782838"/><rect x="166.2" y="58.1" width="1.7" height="18.4" fill="#5e0a14"/><rect x="169.2" y="35.0" width="1.7" height="41.5" fill="#782838"/><rect x="169.2" y="44.0" width="1.7" height="32.5" fill="#5e0a14"/><rect x="172.2" y="37.7" width="1.7" height="38.8" fill="#782838"/><rect x="172.2" y="54.6" width="1.7" height="21.9" fill="#5e0a14"/><rect x="174.2" y="50.0" width="1.7" height="26.5" fill="#782838"/><rect x="174.2" y="61.5" width="1.7" height="15.0" fill="#5e0a14"/><rect x="177.2" y="55.0" width="1.7" height="21.5" fill="#641422"/><rect x="177.2" y="58.4" width="1.7" height="18.1" fill="#5e0a14"/><rect x="177.0" y="56.0" width="1.7" height="20.5" fill="#641422"/><rect x="177.0" y="61.4" width="1.7" height="15.1" fill="#5e0a14"/><rect x="178.8" y="54.0" width="1.7" height="22.5" fill="#641422"/><rect x="178.8" y="62.3" width="1.7" height="14.2" fill="#5e0a14"/><rect x="183.8" y="50.4" width="1.7" height="26.1" fill="#782838"/><rect x="183.8" y="66.9" width="1.7" height="9.6" fill="#5e0a14"/><rect x="185.2" y="47.0" width="1.7" height="29.5" fill="#782838"/><rect x="185.2" y="63.1" width="1.7" height="13.4" fill="#5e0a14"/><rect x="189.8" y="51.0" width="1.7" height="25.5" fill="#782838"/><rect x="189.8" y="64.6" width="1.7" height="11.9" fill="#5e0a14"/><rect x="195.7" y="43.5" width="1.7" height="33.0" fill="#782838"/><rect x="195.7" y="57.8" width="1.7" height="18.7" fill="#5e0a14"/><rect x="197.2" y="44.6" width="1.7" height="31.9" fill="#641422"/><rect x="197.2" y="46.9" width="1.7" height="29.6" fill="#5e0a14"/><rect x="198.8" y="18.8" width="1.7" height="57.7" fill="#782838"/><rect x="198.8" y="44.4" width="1.7" height="32.1" fill="#5e0a14"/><rect x="203.5" y="18.8" width="1.7" height="57.7" fill="#782838"/><rect x="203.5" y="46.0" width="1.7" height="30.5" fill="#5e0a14"/><rect x="207.7" y="49.0" width="1.7" height="27.5" fill="#782838"/><rect x="207.7" y="53.4" width="1.7" height="23.1" fill="#5e0a14"/><rect x="209.2" y="40.0" width="1.7" height="36.5" fill="#782838"/><rect x="209.2" y="48.1" width="1.7" height="28.4" fill="#5e0a14"/><rect x="216.2" y="50.4" width="1.7" height="26.1" fill="#782838"/><rect x="216.2" y="56.6" width="1.7" height="19.9" fill="#5e0a14"/><rect x="218.0" y="59.6" width="1.7" height="16.9" fill="#782838"/><rect x="218.0" y="62.2" width="1.7" height="14.3" fill="#5e0a14"/><rect x="223.8" y="64.0" width="1.7" height="12.5" fill="#782838"/><rect x="223.8" y="67.2" width="1.7" height="9.3" fill="#5e0a14"/><rect x="226.2" y="58.5" width="1.7" height="18.0" fill="#782838"/><rect x="226.2" y="67.8" width="1.7" height="8.7" fill="#5e0a14"/><rect x="228.8" y="22.0" width="1.7" height="54.5" fill="#782838"/><rect x="228.8" y="28.7" width="1.7" height="47.8" fill="#5e0a14"/><rect x="230.0" y="51.0" width="1.7" height="25.5" fill="#641422"/><rect x="230.0" y="53.2" width="1.7" height="23.3" fill="#5e0a14"/><rect x="232.2" y="63.0" width="1.7" height="13.5" fill="#782838"/><rect x="232.2" y="69.1" width="1.7" height="7.4" fill="#5e0a14"/><rect x="235.2" y="52.7" width="1.7" height="23.8" fill="#782838"/><rect x="235.2" y="64.5" width="1.7" height="12.0" fill="#5e0a14"/><rect x="237.7" y="56.0" width="1.7" height="20.5" fill="#641422"/><rect x="237.7" y="61.3" width="1.7" height="15.2" fill="#5e0a14"/><rect x="240.0" y="59.6" width="1.7" height="16.9" fill="#641422"/><rect x="240.0" y="61.6" width="1.7" height="14.9" fill="#5e0a14"/><rect x="242.2" y="62.0" width="1.7" height="14.5" fill="#782838"/><rect x="242.2" y="65.7" width="1.7" height="10.8" fill="#5e0a14"/><rect x="245.2" y="56.0" width="1.7" height="20.5" fill="#782838"/><rect x="245.2" y="67.5" width="1.7" height="9.0" fill="#5e0a14"/><rect x="248.2" y="64.0" width="1.7" height="12.5" fill="#782838"/><rect x="248.2" y="69.5" width="1.7" height="7.0" fill="#5e0a14"/><rect x="253.2" y="69.0" width="1.7" height="7.5" fill="#782838"/><rect x="253.2" y="73.9" width="1.7" height="2.6" fill="#5e0a14"/><rect x="259.9" y="55.0" width="1.7" height="21.5" fill="#782838"/><rect x="259.9" y="60.5" width="1.7" height="16.0" fill="#5e0a14"/><rect x="265.9" y="57.3" width="1.7" height="19.2" fill="#782838"/><rect x="265.9" y="70.3" width="1.7" height="6.2" fill="#5e0a14"/><rect x="268.8" y="62.0" width="1.7" height="14.5" fill="#782838"/><rect x="268.8" y="68.7" width="1.7" height="7.8" fill="#5e0a14"/><rect x="273.8" y="55.0" width="1.7" height="21.5" fill="#782838"/><rect x="273.8" y="68.1" width="1.7" height="8.4" fill="#5e0a14"/><rect x="277.5" y="43.5" width="1.7" height="33.0" fill="#782838"/><rect x="277.5" y="49.7" width="1.7" height="26.8" fill="#5e0a14"/><rect x="283.8" y="32.6" width="1.7" height="43.9" fill="#782838"/><rect x="283.8" y="39.1" width="1.7" height="37.4" fill="#5e0a14"/><rect x="288.3" y="32.0" width="1.7" height="44.5" fill="#782838"/><rect x="288.3" y="55.4" width="1.7" height="21.1" fill="#5e0a14"/><rect x="290.6" y="62.0" width="1.7" height="14.5" fill="#782838"/><rect x="290.6" y="64.6" width="1.7" height="11.9" fill="#5e0a14"/><rect x="298.8" y="58.5" width="1.7" height="18.0" fill="#782838"/><rect x="298.8" y="69.2" width="1.7" height="7.3" fill="#5e0a14"/><rect x="300.6" y="43.5" width="1.7" height="33.0" fill="#782838"/><rect x="300.6" y="52.5" width="1.7" height="24.0" fill="#5e0a14"/><rect x="303.4" y="34.2" width="1.7" height="42.3" fill="#782838"/><rect x="303.4" y="57.4" width="1.7" height="19.1" fill="#5e0a14"/><rect x="305.1" y="60.8" width="1.7" height="15.7" fill="#782838"/><rect x="305.1" y="67.6" width="1.7" height="8.9" fill="#5e0a14"/><rect x="311.5" y="37.2" width="1.7" height="39.3" fill="#782838"/><rect x="311.5" y="50.3" width="1.7" height="26.2" fill="#5e0a14"/><rect x="313.8" y="57.3" width="1.7" height="19.2" fill="#782838"/><rect x="313.8" y="66.7" width="1.7" height="9.8" fill="#5e0a14"/><rect x="316.8" y="51.5" width="1.7" height="25.0" fill="#782838"/><rect x="316.8" y="66.0" width="1.7" height="10.5" fill="#5e0a14"/><rect x="321.4" y="38.8" width="1.7" height="37.7" fill="#782838"/><rect x="321.4" y="51.9" width="1.7" height="24.6" fill="#5e0a14"/><rect x="325.3" y="45.0" width="1.7" height="31.5" fill="#782838"/><rect x="325.3" y="52.0" width="1.7" height="24.5" fill="#5e0a14"/><rect x="329.1" y="47.4" width="1.7" height="29.1" fill="#782838"/><rect x="329.1" y="50.4" width="1.7" height="26.1" fill="#5e0a14"/><rect x="332.9" y="37.7" width="1.7" height="38.8" fill="#782838"/><rect x="332.9" y="57.4" width="1.7" height="19.1" fill="#5e0a14"/><rect x="338.1" y="58.5" width="1.7" height="18.0" fill="#782838"/><rect x="338.1" y="68.3" width="1.7" height="8.2" fill="#5e0a14"/><rect x="341.1" y="53.8" width="1.7" height="22.7" fill="#782838"/><rect x="341.1" y="68.6" width="1.7" height="7.9" fill="#5e0a14"/><rect x="343.8" y="45.0" width="1.7" height="31.5" fill="#782838"/><rect x="343.8" y="63.2" width="1.7" height="13.3" fill="#5e0a14"/><rect x="347.9" y="63.0" width="1.7" height="13.5" fill="#782838"/><rect x="347.9" y="72.2" width="1.7" height="4.3" fill="#5e0a14"/><rect x="350.9" y="37.7" width="1.7" height="38.8" fill="#782838"/><rect x="350.9" y="59.0" width="1.7" height="17.5" fill="#5e0a14"/><rect x="355.6" y="44.6" width="1.7" height="31.9" fill="#782838"/><rect x="355.6" y="53.0" width="1.7" height="23.5" fill="#5e0a14"/><rect x="358.1" y="52.7" width="1.7" height="23.8" fill="#641422"/><rect x="358.1" y="56.8" width="1.7" height="19.7" fill="#5e0a14"/><rect x="360.6" y="42.3" width="1.7" height="34.2" fill="#782838"/><rect x="360.6" y="60.2" width="1.7" height="16.3" fill="#5e0a14"/><rect x="363.4" y="25.0" width="1.7" height="51.5" fill="#782838"/><rect x="363.4" y="54.0" width="1.7" height="22.5" fill="#5e0a14"/><rect x="366.4" y="47.0" width="1.7" height="29.5" fill="#782838"/><rect x="366.4" y="59.1" width="1.7" height="17.4" fill="#5e0a14"/><rect x="369.9" y="31.2" width="1.7" height="45.3" fill="#782838"/><rect x="369.9" y="51.1" width="1.7" height="25.4" fill="#5e0a14"/><rect x="374.5" y="37.2" width="1.7" height="39.3" fill="#782838"/><rect x="374.5" y="54.2" width="1.7" height="22.3" fill="#5e0a14"/><rect x="376.1" y="35.8" width="1.7" height="40.7" fill="#641422"/><rect x="376.1" y="44.0" width="1.7" height="32.5" fill="#5e0a14"/><rect x="378.0" y="55.0" width="1.7" height="21.5" fill="#782838"/><rect x="378.0" y="58.4" width="1.7" height="18.1" fill="#5e0a14"/><rect x="381.4" y="62.6" width="1.7" height="13.9" fill="#782838"/><rect x="381.4" y="72.3" width="1.7" height="4.2" fill="#5e0a14"/><rect x="385.6" y="52.7" width="1.7" height="23.8" fill="#782838"/><rect x="385.6" y="68.2" width="1.7" height="8.3" fill="#5e0a14"/><rect x="388.8" y="42.3" width="1.7" height="34.2" fill="#782838"/><rect x="388.8" y="54.2" width="1.7" height="22.3" fill="#5e0a14"/><rect x="394.1" y="39.5" width="1.7" height="37.0" fill="#782838"/><rect x="394.1" y="58.3" width="1.7" height="18.2" fill="#5e0a14"/><rect x="396.4" y="43.5" width="1.7" height="33.0" fill="#641422"/><rect x="396.4" y="45.3" width="1.7" height="31.2" fill="#5e0a14"/><rect x="398.8" y="39.5" width="1.7" height="37.0" fill="#782838"/><rect x="398.8" y="58.6" width="1.7" height="17.9" fill="#5e0a14"/><rect x="401.8" y="53.8" width="1.7" height="22.7" fill="#782838"/><rect x="401.8" y="57.1" width="1.7" height="19.4" fill="#5e0a14"/><rect x="406.3" y="52.7" width="1.7" height="23.8" fill="#782838"/><rect x="406.3" y="60.6" width="1.7" height="15.9" fill="#5e0a14"/><rect x="401.9" y="55.0" width="1.7" height="21.5" fill="#782838"/><rect x="401.9" y="69.7" width="1.7" height="6.8" fill="#5e0a14"/><rect x="410.6" y="32.0" width="1.7" height="44.5" fill="#782838"/><rect x="410.6" y="56.1" width="1.7" height="20.4" fill="#5e0a14"/><rect x="412.1" y="18.8" width="1.7" height="57.7" fill="#641422"/><rect x="412.1" y="31.0" width="1.7" height="45.5" fill="#5e0a14"/><rect x="414.1" y="50.4" width="1.7" height="26.1" fill="#641422"/><rect x="414.1" y="60.4" width="1.7" height="16.1" fill="#5e0a14"/><rect x="416.4" y="52.7" width="1.7" height="23.8" fill="#782838"/><rect x="416.4" y="69.0" width="1.7" height="7.5" fill="#5e0a14"/><rect x="419.1" y="32.0" width="1.7" height="44.5" fill="#782838"/><rect x="419.1" y="62.4" width="1.7" height="14.1" fill="#5e0a14"/><rect x="420.6" y="45.8" width="1.7" height="30.7" fill="#782838"/><rect x="420.6" y="62.3" width="1.7" height="14.2" fill="#5e0a14"/><rect x="423.8" y="25.0" width="1.7" height="51.5" fill="#782838"/><rect x="423.8" y="55.9" width="1.7" height="20.6" fill="#5e0a14"/><rect x="425.6" y="32.0" width="1.7" height="44.5" fill="#641422"/><rect x="425.6" y="37.7" width="1.7" height="38.8" fill="#5e0a14"/><rect x="427.9" y="52.7" width="1.7" height="23.8" fill="#782838"/><rect x="427.9" y="55.9" width="1.7" height="20.6" fill="#5e0a14"/><rect x="431.4" y="43.5" width="1.7" height="33.0" fill="#782838"/><rect x="431.4" y="55.1" width="1.7" height="21.4" fill="#5e0a14"/><rect x="434.1" y="44.0" width="1.7" height="32.5" fill="#782838"/><rect x="434.1" y="50.7" width="1.7" height="25.8" fill="#5e0a14"/><rect x="438.8" y="36.5" width="1.7" height="40.0" fill="#782838"/><rect x="438.8" y="47.5" width="1.7" height="29.0" fill="#5e0a14"/><rect x="441.1" y="18.8" width="1.7" height="57.7" fill="#641422"/><rect x="441.1" y="28.7" width="1.7" height="47.8" fill="#5e0a14"/><rect x="442.9" y="33.0" width="1.7" height="43.5" fill="#641422"/><rect x="442.9" y="43.3" width="1.7" height="33.2" fill="#5e0a14"/><rect x="445.1" y="35.4" width="1.7" height="41.1" fill="#782838"/><rect x="445.1" y="43.9" width="1.7" height="32.6" fill="#5e0a14"/><rect x="448.8" y="55.0" width="1.7" height="21.5" fill="#782838"/><rect x="448.8" y="67.2" width="1.7" height="9.3" fill="#5e0a14"/><rect x="451.8" y="21.5" width="1.7" height="55.0" fill="#782838"/><rect x="451.8" y="54.2" width="1.7" height="22.3" fill="#5e0a14"/><rect x="454.5" y="51.5" width="1.7" height="25.0" fill="#782838"/><rect x="454.5" y="56.2" width="1.7" height="20.3" fill="#5e0a14"/><rect x="458.6" y="38.8" width="1.7" height="37.7" fill="#782838"/><rect x="458.6" y="54.7" width="1.7" height="21.8" fill="#5e0a14"/><rect x="462.6" y="63.0" width="1.7" height="13.5" fill="#782838"/><rect x="462.6" y="71.0" width="1.7" height="5.5" fill="#5e0a14"/><rect x="464.9" y="44.6" width="1.7" height="31.9" fill="#641422"/><rect x="464.9" y="54.2" width="1.7" height="22.3" fill="#5e0a14"/><rect x="466.8" y="18.8" width="1.7" height="57.7" fill="#782838"/><rect x="466.8" y="28.2" width="1.7" height="48.3" fill="#5e0a14"/><rect x="469.5" y="43.5" width="1.7" height="33.0" fill="#782838"/><rect x="469.5" y="57.2" width="1.7" height="19.3" fill="#5e0a14"/><rect x="471.8" y="34.2" width="1.7" height="42.3" fill="#641422"/><rect x="471.8" y="44.2" width="1.7" height="32.3" fill="#5e0a14"/><rect x="474.1" y="40.0" width="1.7" height="36.5" fill="#782838"/><rect x="474.1" y="45.0" width="1.7" height="31.5" fill="#5e0a14"/><rect x="477.6" y="18.8" width="1.7" height="57.7" fill="#782838"/><rect x="477.6" y="27.5" width="1.7" height="49.0" fill="#5e0a14"/><rect x="483.3" y="36.5" width="1.7" height="40.0" fill="#782838"/><rect x="483.3" y="50.9" width="1.7" height="25.6" fill="#5e0a14"/><rect x="484.9" y="35.4" width="1.7" height="41.1" fill="#641422"/><rect x="484.9" y="47.7" width="1.7" height="28.8" fill="#5e0a14"/><rect x="487.3" y="18.8" width="1.7" height="57.7" fill="#641422"/><rect x="487.3" y="29.7" width="1.7" height="46.8" fill="#5e0a14"/><rect x="489.8" y="41.0" width="1.7" height="35.5" fill="#782838"/><rect x="489.8" y="64.7" width="1.7" height="11.8" fill="#5e0a14"/><rect x="492.6" y="42.3" width="1.7" height="34.2" fill="#782838"/><rect x="492.6" y="56.6" width="1.7" height="19.9" fill="#5e0a14"/><rect x="494.1" y="18.8" width="1.7" height="57.7" fill="#782838"/><rect x="494.1" y="37.7" width="1.7" height="38.8" fill="#5e0a14"/><rect x="497.1" y="50.4" width="1.7" height="26.1" fill="#782838"/><rect x="497.1" y="56.6" width="1.7" height="19.9" fill="#5e0a14"/><rect x="499.5" y="62.0" width="1.7" height="14.5" fill="#782838"/><rect x="499.5" y="64.3" width="1.7" height="12.2" fill="#5e0a14"/><rect x="502.5" y="51.0" width="1.7" height="25.5" fill="#782838"/><rect x="502.5" y="65.7" width="1.7" height="10.8" fill="#5e0a14"/><rect x="504.8" y="52.7" width="1.7" height="23.8" fill="#641422"/><rect x="504.8" y="58.1" width="1.7" height="18.4" fill="#5e0a14"/><rect x="507.1" y="54.0" width="1.7" height="22.5" fill="#782838"/><rect x="507.1" y="61.3" width="1.7" height="15.2" fill="#5e0a14"/><rect x="509.9" y="72.0" width="1.7" height="4.5" fill="#782838"/><rect x="509.9" y="73.9" width="1.7" height="2.6" fill="#5e0a14"/><rect x="512.6" y="58.5" width="1.7" height="18.0" fill="#782838"/><rect x="512.6" y="61.9" width="1.7" height="14.6" fill="#5e0a14"/>
<text x="59.5" y="21" font-family="'Liberation Serif',serif" font-size="9" font-weight="normal" font-style="normal" text-anchor="end" fill="#222"  textLength="12" lengthAdjust="spacingAndGlyphs">100</text>
<text x="58.8" y="75.8" font-family="'Liberation Serif',serif" font-size="9" font-weight="normal" font-style="normal" text-anchor="end" fill="#222"  textLength="8.2" lengthAdjust="spacingAndGlyphs">20</text>
<text x="23.8" y="42.9" font-family="'Liberation Sans',sans-serif" font-size="6.8" font-weight="bold" font-style="normal" text-anchor="start" fill="#111"  textLength="26" lengthAdjust="spacingAndGlyphs" stroke="#111" stroke-width="0.18">Average</text>
<text x="27.9" y="52.5" font-family="'Liberation Sans',sans-serif" font-size="6.8" font-weight="bold" font-style="normal" text-anchor="start" fill="#111"  textLength="16.7" lengthAdjust="spacingAndGlyphs" stroke="#111" stroke-width="0.18">hypo-</text>
<text x="18.7" y="60.8" font-family="'Liberation Sans',sans-serif" font-size="6.8" font-weight="bold" font-style="normal" text-anchor="start" fill="#111"  textLength="36.3" lengthAdjust="spacingAndGlyphs" stroke="#111" stroke-width="0.18">methylation</text>
<text x="59.1" y="86.6" font-family="'Liberation Sans',sans-serif" font-size="6.8" font-weight="bold" font-style="normal" text-anchor="end" fill="#111"  textLength="43.8" lengthAdjust="spacingAndGlyphs" stroke="#111" stroke-width="0.18">Chromosome</text>
<text x="59.1" y="97.9" font-family="'Liberation Sans',sans-serif" font-size="6.8" font-weight="bold" font-style="normal" text-anchor="end" fill="#111"  textLength="43.8" lengthAdjust="spacingAndGlyphs" stroke="#111" stroke-width="0.18">Known genes</text>
<text x="59.1" y="108.3" font-family="'Liberation Sans',sans-serif" font-size="6.8" font-weight="bold" font-style="normal" text-anchor="end" fill="#111"  textLength="43.2" lengthAdjust="spacingAndGlyphs" stroke="#111" stroke-width="0.18">CpG Islands</text>
<text x="59.6" y="126.2" font-family="'Liberation Sans',sans-serif" font-size="6.8" font-weight="bold" font-style="normal" text-anchor="end" fill="#111"  textLength="44.4" lengthAdjust="spacingAndGlyphs" stroke="#111" stroke-width="0.18">Transcription</text>
<rect x="62.6" y="81.69999999999999" width="23.8" height="5.500000000000003" rx="3" fill="#f4f070" stroke="#1a1a10" stroke-width="1.3"/><text x="74.5" y="85.8" font-family="Liberation Sans" font-size="4.8" font-weight="bold" text-anchor="middle" fill="#222">21q22.11</text><rect x="87.6" y="81.69999999999999" width="69.3" height="5.500000000000003" rx="1.2" fill="#76ac1a" stroke="#1a1a10" stroke-width="1.3"/><text x="122.25" y="85.8" font-family="Liberation Sans" font-size="4.8" font-weight="bold" text-anchor="middle" fill="#1e3a06">21q22.13</text><rect x="158.1" y="81.69999999999999" width="64.8" height="5.500000000000003" rx="3" fill="#f4f070" stroke="#1a1a10" stroke-width="1.3"/><text x="190.5" y="85.8" font-family="Liberation Sans" font-size="4.8" font-weight="bold" text-anchor="middle" fill="#222">21q22.13</text><rect x="224.1" y="81.69999999999999" width="96.8" height="5.500000000000003" rx="1.2" fill="#76ac1a" stroke="#1a1a10" stroke-width="1.3"/><text x="272.5" y="85.8" font-family="Liberation Sans" font-size="4.8" font-weight="bold" text-anchor="middle" fill="#1e3a06">21q22.2</text><rect x="322.1" y="81.69999999999999" width="194.8" height="5.500000000000003" rx="3" fill="#f4f070" stroke="#1a1a10" stroke-width="1.3"/><text x="419.5" y="85.8" font-family="Liberation Sans" font-size="4.8" font-weight="bold" text-anchor="middle" fill="#222">21q22.3</text>
<rect x="62.5" y="93" width="8.0" height="5.5" fill="#000"/><rect x="75" y="95.25" width="4.5" height="1" fill="#121a96"/><rect x="75.0" y="93.0" width="4.5" height="5.5" fill="#3a46d8"/><rect x="85.5" y="93" width="1.5" height="5.5" fill="#121a96"/><rect x="88.7" y="93" width="2.0" height="5.5" fill="#121a96"/><rect x="92.5" y="93" width="1.5" height="5.5" fill="#121a96"/><rect x="95.7" y="93" width="3.0" height="5.5" fill="#121a96"/><rect x="100.7" y="93" width="3.799999999999997" height="5.5" fill="#121a96"/><rect x="108.5" y="93" width="0.7999999999999972" height="5.5" fill="#a6aae6"/><rect x="138.5" y="93" width="0.8000000000000114" height="5.5" fill="#a6aae6"/><rect x="144.5" y="93" width="1.5" height="5.5" fill="#121a96"/><rect x="148" y="95.25" width="5" height="1" fill="#121a96"/><rect x="148.0" y="93.0" width="2.7" height="5.5" fill="#3a46d8"/><rect x="152.9" y="94.1" width="0.1" height="3.3" fill="#121a96"/><rect x="154" y="95.25" width="6" height="1" fill="#121a96"/><rect x="154.0" y="93.0" width="4.6" height="5.5" fill="#3a46d8"/><rect x="159.4" y="93.0" width="0.6" height="5.5" fill="#121a96"/><rect x="167.5" y="93" width="3.0" height="5.5" fill="#121a96"/><rect x="173.7" y="95.25" width="6.300000000000011" height="1" fill="#121a96"/><rect x="173.7" y="93.0" width="5.8" height="5.5" fill="#121a96"/><rect x="181" y="95.25" width="6.5" height="1" fill="#121a96"/><rect x="181.0" y="93.0" width="6.0" height="5.5" fill="#121a96"/><rect x="190" y="95.25" width="5.5" height="1" fill="#121a96"/><rect x="190.0" y="93.0" width="4.7" height="5.5" fill="#121a96"/><rect x="198.7" y="93" width="2.3000000000000114" height="5.5" fill="#121a96"/><rect x="202" y="93" width="3" height="5.5" fill="#121a96"/><rect x="207" y="93" width="3.5" height="5.5" fill="#121a96"/><rect x="213.7" y="95.25" width="4.300000000000011" height="1" fill="#2632d2"/><rect x="213.7" y="93.0" width="4.3" height="5.5" fill="#3a46d8"/><rect x="219" y="95.25" width="4.699999999999989" height="1" fill="#2632d2"/><rect x="219.0" y="94.1" width="4.7" height="3.3" fill="#3a46d8"/><rect x="226" y="95.25" width="8" height="1" fill="#121a96"/><rect x="226.0" y="93.0" width="4.3" height="5.5" fill="#3a46d8"/><rect x="231.4" y="93.0" width="2.6" height="5.5" fill="#121a96"/><rect x="240" y="93" width="2.5" height="5.5" fill="#121a96"/><rect x="247" y="93" width="1" height="5.5" fill="#121a96"/><rect x="253" y="95.25" width="13" height="1" fill="#121a96"/><rect x="253.0" y="94.1" width="6.8" height="3.3" fill="#121a96"/><rect x="260.9" y="93.0" width="4.6" height="5.5" fill="#121a96"/><rect x="270" y="93" width="2" height="5.5" fill="#121a96"/><rect x="278" y="95.25" width="4.5" height="1" fill="#121a96"/><rect x="278.0" y="93.0" width="4.4" height="5.5" fill="#121a96"/><rect x="283.7" y="95.25" width="6.300000000000011" height="1" fill="#121a96"/><rect x="283.7" y="93.0" width="4.9" height="5.5" fill="#121a96"/><rect x="289.8" y="93.0" width="0.2" height="5.5" fill="#121a96"/><rect x="292" y="93" width="4" height="5.5" fill="#121a96"/><rect x="306" y="95.25" width="6.5" height="1" fill="#121a96"/><rect x="306.0" y="93.0" width="5.8" height="5.5" fill="#3a46d8"/><rect x="322.5" y="95.25" width="13.5" height="1" fill="#121a96"/><rect x="322.5" y="94.1" width="4.6" height="3.3" fill="#121a96"/><rect x="328.1" y="93.0" width="3.6" height="5.5" fill="#121a96"/><rect x="332.5" y="94.1" width="3.5" height="3.3" fill="#3a46d8"/><rect x="342.5" y="95.25" width="6.5" height="1" fill="#121a96"/><rect x="342.5" y="93.0" width="2.6" height="5.5" fill="#3a46d8"/><rect x="347.3" y="93.0" width="1.7" height="5.5" fill="#3a46d8"/><rect x="350" y="95.25" width="7.5" height="1" fill="#121a96"/><rect x="350.0" y="93.0" width="3.3" height="5.5" fill="#121a96"/><rect x="354.6" y="93.0" width="2.9" height="5.5" fill="#121a96"/><rect x="360" y="95.25" width="12.5" height="1" fill="#121a96"/><rect x="360.0" y="93.0" width="2.8" height="5.5" fill="#3a46d8"/><rect x="364.0" y="93.0" width="5.6" height="5.5" fill="#121a96"/><rect x="371.8" y="94.1" width="0.7" height="3.3" fill="#121a96"/><rect x="376" y="95.25" width="9" height="1" fill="#121a96"/><rect x="376.0" y="93.0" width="6.7" height="5.5" fill="#121a96"/><rect x="383.5" y="93.0" width="1.5" height="5.5" fill="#121a96"/><rect x="386" y="95.25" width="8" height="1" fill="#121a96"/><rect x="386.0" y="93.0" width="2.5" height="5.5" fill="#3a46d8"/><rect x="390.7" y="93.0" width="3.3" height="5.5" fill="#121a96"/><rect x="401" y="95.25" width="18" height="1" fill="#121a96"/><rect x="401.0" y="93.0" width="7.3" height="5.5" fill="#121a96"/><rect x="409.5" y="93.0" width="4.6" height="5.5" fill="#121a96"/><rect x="415.3" y="93.0" width="3.7" height="5.5" fill="#121a96"/><rect x="420" y="95.25" width="12" height="1" fill="#121a96"/><rect x="420.0" y="94.1" width="5.2" height="3.3" fill="#3a46d8"/><rect x="426.6" y="93.0" width="3.1" height="5.5" fill="#121a96"/><rect x="431.0" y="93.0" width="1.0" height="5.5" fill="#121a96"/><rect x="434" y="95.25" width="11" height="1" fill="#121a96"/><rect x="434.0" y="93.0" width="7.0" height="5.5" fill="#121a96"/><rect x="442.2" y="93.0" width="2.8" height="5.5" fill="#121a96"/><rect x="447" y="95.25" width="9.5" height="1" fill="#121a96"/><rect x="447.0" y="93.0" width="7.4" height="5.5" fill="#121a96"/><rect x="455.3" y="93.0" width="1.2" height="5.5" fill="#121a96"/><rect x="459.4" y="95.25" width="9.600000000000023" height="1" fill="#121a96"/><rect x="459.4" y="93.0" width="4.4" height="5.5" fill="#121a96"/><rect x="465.1" y="93.0" width="3.9" height="5.5" fill="#121a96"/><rect x="472" y="95.25" width="4.699999999999989" height="1" fill="#121a96"/><rect x="472.0" y="93.0" width="4.7" height="5.5" fill="#121a96"/><rect x="486.3" y="95.25" width="6.699999999999989" height="1" fill="#121a96"/><rect x="486.3" y="93.0" width="6.1" height="5.5" fill="#121a96"/><rect x="496" y="95.25" width="20" height="1" fill="#121a96"/><rect x="496.0" y="93.0" width="5.8" height="5.5" fill="#121a96"/><rect x="503.1" y="93.0" width="4.3" height="5.5" fill="#121a96"/><rect x="508.2" y="93.0" width="3.7" height="5.5" fill="#121a96"/><rect x="513.0" y="94.1" width="3.0" height="3.3" fill="#121a96"/>
<line x1="296" y1="95.8" x2="304" y2="95.8" stroke="#121a96" stroke-width="1"/>
<rect x="68" y="103.5" width="1" height="6.0" fill="#1d5e1d"/><rect x="71" y="103.5" width="2" height="6.0" fill="#a8d890"/><rect x="75" y="103.5" width="2" height="6.0" fill="#1d5e1d"/><rect x="84" y="103.5" width="2" height="6.0" fill="#1d5e1d"/><rect x="88" y="103.5" width="1" height="6.0" fill="#1d5e1d"/><rect x="90" y="103.5" width="1" height="6.0" fill="#a8d890"/><rect x="96" y="103.5" width="2" height="6.0" fill="#3c962c"/><rect x="99" y="103.5" width="2" height="6.0" fill="#3c962c"/><rect x="103" y="103.5" width="2" height="6.0" fill="#1d5e1d"/><rect x="108" y="103.5" width="3" height="6.0" fill="#1d5e1d"/><rect x="144" y="103.5" width="3" height="6.0" fill="#3c962c"/><rect x="149" y="103.5" width="2" height="6.0" fill="#3c962c"/><rect x="152" y="103.5" width="3" height="6.0" fill="#1d5e1d"/><rect x="159" y="103.5" width="1" height="6.0" fill="#1d5e1d"/><rect x="165" y="103.5" width="3" height="6.0" fill="#3c962c"/><rect x="184" y="103.5" width="2" height="6.0" fill="#1d5e1d"/><rect x="187" y="103.5" width="1" height="6.0" fill="#a8d890"/><rect x="190" y="103.5" width="1" height="6.0" fill="#1d5e1d"/><rect x="196" y="103.5" width="2" height="6.0" fill="#a8d890"/><rect x="199" y="103.5" width="2" height="6.0" fill="#a8d890"/><rect x="208" y="103.5" width="2" height="6.0" fill="#3c962c"/><rect x="235" y="103.5" width="2" height="6.0" fill="#1d5e1d"/><rect x="238" y="103.5" width="2" height="6.0" fill="#3c962c"/><rect x="241" y="103.5" width="3" height="6.0" fill="#1d5e1d"/><rect x="245" y="103.5" width="1" height="6.0" fill="#3c962c"/><rect x="248" y="103.5" width="2" height="6.0" fill="#1d5e1d"/><rect x="284" y="103.5" width="2" height="6.0" fill="#a8d890"/><rect x="288" y="103.5" width="1" height="6.0" fill="#3c962c"/><rect x="294" y="103.5" width="3" height="6.0" fill="#3c962c"/><rect x="312" y="103.5" width="1" height="6.0" fill="#1d5e1d"/><rect x="322" y="103.5" width="1" height="6.0" fill="#a8d890"/><rect x="325" y="103.5" width="2" height="6.0" fill="#a8d890"/><rect x="328" y="103.5" width="3" height="6.0" fill="#3c962c"/><rect x="332" y="103.5" width="2" height="6.0" fill="#3c962c"/><rect x="336" y="103.5" width="2" height="6.0" fill="#a8d890"/><rect x="343" y="103.5" width="1" height="6.0" fill="#1d5e1d"/><rect x="345" y="103.5" width="2" height="6.0" fill="#a8d890"/><rect x="348" y="103.5" width="2" height="6.0" fill="#a8d890"/><rect x="351" y="103.5" width="1" height="6.0" fill="#a8d890"/><rect x="353" y="103.5" width="2" height="6.0" fill="#a8d890"/><rect x="356" y="103.5" width="2" height="6.0" fill="#1d5e1d"/><rect x="360" y="103.5" width="1" height="6.0" fill="#a8d890"/><rect x="362" y="103.5" width="3" height="6.0" fill="#3c962c"/><rect x="367" y="103.5" width="1" height="6.0" fill="#3c962c"/><rect x="369" y="103.5" width="2" height="6.0" fill="#1d5e1d"/><rect x="372" y="103.5" width="3" height="6.0" fill="#3c962c"/><rect x="376" y="103.5" width="2" height="6.0" fill="#a8d890"/><rect x="379" y="103.5" width="1" height="6.0" fill="#3c962c"/><rect x="382" y="103.5" width="2" height="6.0" fill="#3c962c"/><rect x="385" y="103.5" width="1" height="6.0" fill="#a8d890"/><rect x="387" y="103.5" width="3" height="6.0" fill="#1d5e1d"/><rect x="391" y="103.5" width="2" height="6.0" fill="#3c962c"/><rect x="394" y="103.5" width="2" height="6.0" fill="#a8d890"/><rect x="402" y="103.5" width="1" height="6.0" fill="#1d5e1d"/><rect x="405" y="103.5" width="1" height="6.0" fill="#1d5e1d"/><rect x="407" y="103.5" width="1" height="6.0" fill="#3c962c"/><rect x="409" y="103.5" width="2" height="6.0" fill="#1d5e1d"/><rect x="412" y="103.5" width="3" height="6.0" fill="#a8d890"/><rect x="416" y="103.5" width="2" height="6.0" fill="#3c962c"/><rect x="420" y="103.5" width="3" height="6.0" fill="#3c962c"/><rect x="424" y="103.5" width="2" height="6.0" fill="#a8d890"/><rect x="427" y="103.5" width="3" height="6.0" fill="#a8d890"/><rect x="432" y="103.5" width="2" height="6.0" fill="#a8d890"/><rect x="435" y="103.5" width="2" height="6.0" fill="#5ccc3c"/><rect x="438" y="103.5" width="2" height="6.0" fill="#a8d890"/><rect x="447" y="103.5" width="2" height="6.0" fill="#1d5e1d"/><rect x="450" y="103.5" width="2" height="6.0" fill="#3c962c"/><rect x="453" y="103.5" width="2" height="6.0" fill="#1d5e1d"/><rect x="456" y="103.5" width="2" height="6.0" fill="#1d5e1d"/><rect x="459" y="103.5" width="1" height="6.0" fill="#3c962c"/><rect x="461" y="103.5" width="3" height="6.0" fill="#1d5e1d"/><rect x="466" y="103.5" width="1" height="6.0" fill="#5ccc3c"/><rect x="468" y="103.5" width="2" height="6.0" fill="#5ccc3c"/><rect x="471" y="103.5" width="1" height="6.0" fill="#3c962c"/><rect x="474" y="103.5" width="3" height="6.0" fill="#5ccc3c"/><rect x="479" y="103.5" width="2" height="6.0" fill="#5ccc3c"/><rect x="488" y="103.5" width="1" height="6.0" fill="#1d5e1d"/><rect x="492" y="103.5" width="2" height="6.0" fill="#1d5e1d"/><rect x="495" y="103.5" width="1" height="6.0" fill="#3c962c"/><rect x="497" y="103.5" width="3" height="6.0" fill="#1d5e1d"/><rect x="501" y="103.5" width="2" height="6.0" fill="#3c962c"/><rect x="504" y="103.5" width="2" height="6.0" fill="#1d5e1d"/><rect x="507" y="103.5" width="1" height="6.0" fill="#1d5e1d"/><rect x="509" y="103.5" width="2" height="6.0" fill="#3c962c"/><rect x="512" y="103.5" width="2" height="6.0" fill="#1d5e1d"/><rect x="515" y="103.5" width="1" height="6.0" fill="#3c962c"/>
<rect x="63" y="125.2" width="1" height="7.5" fill="#a8aef2"/><rect x="64" y="124.0" width="1" height="7.5" fill="#1f22e0"/><rect x="63" y="128.5" width="2" height="3" fill="#1f22e0"/><rect x="65" y="117.5" width="1" height="16.5" fill="#6670ea"/><rect x="66" y="115.9" width="1" height="15.6" fill="#1f22e0"/><rect x="67" y="115.0" width="1" height="16.5" fill="#1f22e0"/><rect x="68" y="115.4" width="1" height="16.1" fill="#1f22e0"/><rect x="69" y="118.3" width="1" height="13.2" fill="#8088ee"/><rect x="70" y="117.1" width="1" height="14.4" fill="#1f22e0"/><rect x="71" y="115.6" width="1" height="16.5" fill="#a8aef2"/><rect x="72" y="116.8" width="1" height="14.7" fill="#1f22e0"/><rect x="73" y="115.1" width="1" height="16.4" fill="#1f22e0"/><rect x="74" y="115.8" width="1" height="15.7" fill="#1f22e0"/><rect x="75" y="119.2" width="1" height="12.3" fill="#1f22e0"/><rect x="76" y="115.9" width="1" height="15.6" fill="#1f22e0"/><rect x="77" y="115.0" width="1" height="16.5" fill="#1f22e0"/><rect x="78" y="117.8" width="1" height="16.5" fill="#a8aef2"/><rect x="79" y="115.3" width="1" height="16.2" fill="#1f22e0"/><rect x="80" y="115.3" width="1" height="16.5" fill="#6670ea"/><rect x="81" y="116.3" width="1" height="15.2" fill="#1f22e0"/><rect x="82" y="116.8" width="1" height="14.7" fill="#1f22e0"/><rect x="83" y="115.6" width="1" height="15.9" fill="#1f22e0"/><rect x="84" y="119.9" width="1" height="11.6" fill="#8088ee"/><rect x="85" y="123.0" width="1" height="8.5" fill="#8088ee"/><rect x="86" y="116.5" width="1" height="15.0" fill="#1f22e0"/><rect x="87" y="116.2" width="1" height="16.5" fill="#a8aef2"/><rect x="88" y="115.7" width="1" height="15.8" fill="#1f22e0"/><rect x="89" y="117.3" width="1" height="14.2" fill="#1f22e0"/><rect x="90" y="116.2" width="1" height="16.5" fill="#a8aef2"/><rect x="91" y="117.0" width="1" height="14.5" fill="#1f22e0"/><rect x="92" y="115.3" width="1" height="16.5" fill="#6670ea"/><rect x="93" y="116.0" width="1" height="16.5" fill="#a8aef2"/><rect x="94" y="116.0" width="1" height="16.5" fill="#6670ea"/><rect x="95" y="120.0" width="1" height="11.5" fill="#8088ee"/><rect x="96" y="116.4" width="1" height="15.1" fill="#1f22e0"/><rect x="97" y="115.0" width="1" height="16.5" fill="#1f22e0"/><rect x="98" y="115.1" width="1" height="16.4" fill="#1f22e0"/><rect x="99" y="115.2" width="1" height="16.3" fill="#1f22e0"/><rect x="100" y="115.3" width="1" height="16.2" fill="#1f22e0"/><rect x="101" y="117.1" width="1" height="14.4" fill="#1f22e0"/><rect x="102" y="115.6" width="1" height="15.9" fill="#1f22e0"/><rect x="103" y="116.4" width="1" height="15.1" fill="#1f22e0"/><rect x="104" y="122.7" width="1" height="8.8" fill="#1f22e0"/><rect x="105" y="116.9" width="1" height="14.6" fill="#1f22e0"/><rect x="106" y="117.0" width="1" height="14.5" fill="#1f22e0"/><rect x="107" y="116.5" width="1" height="15.0" fill="#1f22e0"/><rect x="108" y="115.4" width="1" height="16.1" fill="#1f22e0"/><rect x="65" y="123.0" width="44" height="8.5" fill="#1f22e0"/><rect x="109" y="122.5" width="1" height="9.0" fill="#1f22e0"/><rect x="110" y="123.5" width="1" height="8.0" fill="#1f22e0"/><rect x="111" y="124.4" width="1" height="7.1" fill="#1f22e0"/><rect x="112" y="123.5" width="1" height="8.0" fill="#1f22e0"/><rect x="113" y="123.7" width="1" height="7.8" fill="#1f22e0"/><rect x="114" y="124.2" width="1" height="9.0" fill="#a8aef2"/><rect x="115" y="125.7" width="1" height="5.8" fill="#8088ee"/><rect x="116" y="123.2" width="1" height="9.0" fill="#a8aef2"/><rect x="117" y="124.5" width="1" height="9.0" fill="#a8aef2"/><rect x="118" y="123.5" width="1" height="8.0" fill="#1f22e0"/><rect x="119" y="122.9" width="1" height="8.6" fill="#1f22e0"/><rect x="109" y="126.5" width="11" height="5" fill="#1f22e0"/><rect x="121" y="117.2" width="1" height="14.3" fill="#1f22e0"/><rect x="122" y="116.6" width="1" height="14.9" fill="#1f22e0"/><rect x="123" y="115.2" width="1" height="16.3" fill="#1f22e0"/><rect x="124" y="115.1" width="1" height="16.4" fill="#1f22e0"/><rect x="125" y="116.3" width="1" height="16.5" fill="#a8aef2"/><rect x="126" y="117.4" width="1" height="14.1" fill="#1f22e0"/><rect x="127" y="119.2" width="1" height="12.3" fill="#8088ee"/><rect x="128" y="117.0" width="1" height="14.5" fill="#1f22e0"/><rect x="129" y="116.7" width="1" height="14.8" fill="#1f22e0"/><rect x="130" y="116.2" width="1" height="15.3" fill="#1f22e0"/><rect x="131" y="115.1" width="1" height="16.4" fill="#1f22e0"/><rect x="132" y="117.6" width="1" height="16.5" fill="#a8aef2"/><rect x="133" y="115.6" width="1" height="15.9" fill="#1f22e0"/><rect x="134" y="115.0" width="1" height="16.5" fill="#1f22e0"/><rect x="135" y="115.3" width="1" height="16.2" fill="#1f22e0"/><rect x="136" y="116.0" width="1" height="15.5" fill="#1f22e0"/><rect x="137" y="115.0" width="1" height="16.5" fill="#1f22e0"/><rect x="138" y="117.2" width="1" height="14.3" fill="#1f22e0"/><rect x="139" y="115.6" width="1" height="15.9" fill="#1f22e0"/><rect x="140" y="118.6" width="1" height="12.9" fill="#1f22e0"/><rect x="141" y="115.0" width="1" height="16.5" fill="#1f22e0"/><rect x="142" y="117.8" width="1" height="16.5" fill="#6670ea"/><rect x="143" y="115.9" width="1" height="15.6" fill="#1f22e0"/><rect x="144" y="115.6" width="1" height="15.9" fill="#1f22e0"/><rect x="145" y="116.5" width="1" height="15.0" fill="#1f22e0"/><rect x="146" y="115.5" width="1" height="16.0" fill="#1f22e0"/><rect x="147" y="115.6" width="1" height="15.9" fill="#1f22e0"/><rect x="148" y="116.7" width="1" height="14.8" fill="#1f22e0"/><rect x="149" y="115.7" width="1" height="15.8" fill="#1f22e0"/><rect x="150" y="115.6" width="1" height="15.9" fill="#1f22e0"/><rect x="151" y="120.5" width="1" height="11.0" fill="#8088ee"/><rect x="152" y="116.8" width="1" height="14.7" fill="#1f22e0"/><rect x="153" y="115.4" width="1" height="16.1" fill="#1f22e0"/><rect x="154" y="116.4" width="1" height="16.5" fill="#a8aef2"/><rect x="155" y="116.2" width="1" height="16.5" fill="#6670ea"/><rect x="156" y="118.1" width="1" height="13.4" fill="#8088ee"/><rect x="157" y="115.2" width="1" height="16.3" fill="#1f22e0"/><rect x="158" y="115.2" width="1" height="16.3" fill="#1f22e0"/><rect x="159" y="115.0" width="1" height="16.5" fill="#1f22e0"/><rect x="160" y="115.2" width="1" height="16.3" fill="#1f22e0"/><rect x="161" y="116.9" width="1" height="14.6" fill="#1f22e0"/><rect x="162" y="116.9" width="1" height="14.6" fill="#1f22e0"/><rect x="163" y="115.0" width="1" height="16.5" fill="#1f22e0"/><rect x="164" y="117.2" width="1" height="14.3" fill="#1f22e0"/><rect x="165" y="115.6" width="1" height="16.5" fill="#6670ea"/><rect x="166" y="119.8" width="1" height="11.7" fill="#8088ee"/><rect x="167" y="116.6" width="1" height="14.9" fill="#1f22e0"/><rect x="168" y="121.0" width="1" height="10.5" fill="#1f22e0"/><rect x="169" y="115.9" width="1" height="15.6" fill="#1f22e0"/><rect x="121" y="123.0" width="49" height="8.5" fill="#1f22e0"/><rect x="170" y="121.3" width="1" height="10.2" fill="#1f22e0"/><rect x="171" y="121.9" width="1" height="9.6" fill="#1f22e0"/><rect x="172" y="122.1" width="1" height="9.4" fill="#1f22e0"/><rect x="173" y="121.3" width="1" height="10.2" fill="#1f22e0"/><rect x="174" y="124.9" width="1" height="6.6" fill="#1f22e0"/><rect x="175" y="121.3" width="1" height="10.5" fill="#6670ea"/><rect x="170" y="125.5" width="6" height="6" fill="#1f22e0"/><rect x="176" y="115.9" width="1" height="15.6" fill="#1f22e0"/><rect x="177" y="116.6" width="1" height="14.9" fill="#1f22e0"/><rect x="178" y="115.2" width="1" height="16.3" fill="#1f22e0"/><rect x="179" y="115.1" width="1" height="16.5" fill="#6670ea"/><rect x="180" y="115.3" width="1" height="16.2" fill="#1f22e0"/><rect x="181" y="116.8" width="1" height="14.7" fill="#1f22e0"/><rect x="182" y="116.1" width="1" height="16.5" fill="#6670ea"/><rect x="183" y="116.6" width="1" height="14.9" fill="#1f22e0"/><rect x="184" y="115.8" width="1" height="15.7" fill="#1f22e0"/><rect x="185" y="117.2" width="1" height="14.3" fill="#1f22e0"/><rect x="186" y="115.1" width="1" height="16.4" fill="#1f22e0"/><rect x="187" y="116.3" width="1" height="15.2" fill="#1f22e0"/><rect x="176" y="122.5" width="12" height="9" fill="#1f22e0"/><rect x="188" y="122.3" width="1" height="11.5" fill="#6670ea"/><rect x="189" y="124.8" width="1" height="6.7" fill="#1f22e0"/><rect x="190" y="121.4" width="1" height="11.5" fill="#a8aef2"/><rect x="191" y="121.5" width="1" height="10.0" fill="#1f22e0"/><rect x="192" y="121.3" width="1" height="11.5" fill="#a8aef2"/><rect x="188" y="126.5" width="5" height="5" fill="#1f22e0"/><rect x="193" y="118.6" width="1" height="12.9" fill="#1f22e0"/><rect x="194" y="121.0" width="1" height="10.5" fill="#1f22e0"/><rect x="195" y="119.3" width="1" height="12.2" fill="#1f22e0"/><rect x="196" y="123.8" width="1" height="7.7" fill="#1f22e0"/><rect x="197" y="117.8" width="1" height="13.7" fill="#1f22e0"/><rect x="198" y="117.0" width="1" height="14.5" fill="#1f22e0"/><rect x="199" y="120.9" width="1" height="10.6" fill="#8088ee"/><rect x="200" y="119.1" width="1" height="12.4" fill="#1f22e0"/><rect x="201" y="117.0" width="1" height="14.5" fill="#1f22e0"/><rect x="202" y="117.8" width="1" height="13.7" fill="#1f22e0"/><rect x="203" y="117.4" width="1" height="14.1" fill="#1f22e0"/><rect x="204" y="117.5" width="1" height="14.5" fill="#6670ea"/><rect x="205" y="123.5" width="1" height="8.0" fill="#8088ee"/><rect x="206" y="117.1" width="1" height="14.4" fill="#1f22e0"/><rect x="207" y="119.5" width="1" height="12.0" fill="#1f22e0"/><rect x="208" y="122.1" width="1" height="9.4" fill="#1f22e0"/><rect x="209" y="117.2" width="1" height="14.3" fill="#1f22e0"/><rect x="193" y="124.5" width="17" height="7" fill="#1f22e0"/><rect x="210" y="127.8" width="1" height="3.7" fill="#8088ee"/><rect x="211" y="125.5" width="1" height="6.0" fill="#1f22e0"/><rect x="212" y="127.5" width="1" height="4.0" fill="#1f22e0"/><rect x="213" y="124.5" width="1" height="7.0" fill="#1f22e0"/><rect x="214" y="125.9" width="1" height="5.6" fill="#1f22e0"/><rect x="215" y="124.9" width="1" height="7.0" fill="#6670ea"/><rect x="216" y="127.9" width="1" height="3.6" fill="#1f22e0"/><rect x="217" y="128.0" width="1" height="3.5" fill="#1f22e0"/><rect x="218" y="125.0" width="1" height="6.5" fill="#1f22e0"/><rect x="219" y="125.1" width="1" height="6.4" fill="#1f22e0"/><rect x="220" y="124.8" width="1" height="6.7" fill="#1f22e0"/><rect x="221" y="125.9" width="1" height="5.6" fill="#1f22e0"/><rect x="222" y="127.6" width="1" height="3.9" fill="#8088ee"/><rect x="223" y="125.3" width="1" height="6.2" fill="#1f22e0"/><rect x="224" y="126.4" width="1" height="5.1" fill="#1f22e0"/><rect x="225" y="124.9" width="1" height="6.6" fill="#1f22e0"/><rect x="210" y="127.5" width="16" height="4" fill="#1f22e0"/><rect x="226" y="117.2" width="1" height="15.5" fill="#6670ea"/><rect x="227" y="116.8" width="1" height="15.5" fill="#a8aef2"/><rect x="228" y="116.3" width="1" height="15.5" fill="#a8aef2"/><rect x="229" y="116.1" width="1" height="15.5" fill="#6670ea"/><rect x="230" y="116.8" width="1" height="14.7" fill="#1f22e0"/><rect x="231" y="116.0" width="1" height="15.5" fill="#1f22e0"/><rect x="232" y="116.9" width="1" height="14.6" fill="#1f22e0"/><rect x="233" y="116.5" width="1" height="15.0" fill="#1f22e0"/><rect x="234" y="116.5" width="1" height="15.0" fill="#1f22e0"/><rect x="235" y="118.4" width="1" height="15.5" fill="#a8aef2"/><rect x="236" y="117.8" width="1" height="13.7" fill="#1f22e0"/><rect x="237" y="119.4" width="1" height="12.1" fill="#8088ee"/><rect x="226" y="124.5" width="12" height="7" fill="#1f22e0"/><rect x="238" y="123.3" width="1" height="8.2" fill="#8088ee"/><rect x="239" y="120.4" width="1" height="11.1" fill="#1f22e0"/><rect x="240" y="121.2" width="1" height="10.3" fill="#1f22e0"/><rect x="241" y="123.2" width="1" height="8.3" fill="#8088ee"/><rect x="242" y="119.9" width="1" height="12.0" fill="#a8aef2"/><rect x="243" y="119.5" width="1" height="12.0" fill="#a8aef2"/><rect x="244" y="124.3" width="1" height="7.2" fill="#1f22e0"/><rect x="245" y="120.7" width="1" height="10.8" fill="#1f22e0"/><rect x="246" y="120.3" width="1" height="12.0" fill="#a8aef2"/><rect x="247" y="121.0" width="1" height="10.5" fill="#1f22e0"/><rect x="248" y="120.5" width="1" height="11.0" fill="#1f22e0"/><rect x="249" y="123.7" width="1" height="7.8" fill="#1f22e0"/><rect x="250" y="122.6" width="1" height="8.9" fill="#1f22e0"/><rect x="251" y="119.6" width="1" height="11.9" fill="#1f22e0"/><rect x="252" y="119.6" width="1" height="11.9" fill="#1f22e0"/><rect x="253" y="120.0" width="1" height="11.5" fill="#1f22e0"/><rect x="254" y="120.4" width="1" height="11.1" fill="#1f22e0"/><rect x="255" y="121.8" width="1" height="12.0" fill="#6670ea"/><rect x="238" y="125.5" width="18" height="6" fill="#1f22e0"/><rect x="256" y="117.9" width="1" height="13.6" fill="#1f22e0"/><rect x="257" y="118.1" width="1" height="13.4" fill="#1f22e0"/><rect x="258" y="117.6" width="1" height="13.9" fill="#1f22e0"/><rect x="259" y="116.4" width="1" height="15.1" fill="#1f22e0"/><rect x="260" y="117.2" width="1" height="14.3" fill="#1f22e0"/><rect x="256" y="124.5" width="5" height="7" fill="#1f22e0"/><rect x="261" y="122.1" width="1" height="9.4" fill="#1f22e0"/><rect x="262" y="121.6" width="1" height="9.9" fill="#1f22e0"/><rect x="263" y="125.5" width="1" height="6.0" fill="#1f22e0"/><rect x="264" y="123.2" width="1" height="10.5" fill="#a8aef2"/><rect x="265" y="122.6" width="1" height="10.5" fill="#a8aef2"/><rect x="266" y="122.0" width="1" height="9.5" fill="#1f22e0"/><rect x="267" y="124.8" width="1" height="6.7" fill="#8088ee"/><rect x="268" y="121.8" width="1" height="9.7" fill="#1f22e0"/><rect x="269" y="121.3" width="1" height="10.2" fill="#1f22e0"/><rect x="270" y="121.0" width="1" height="10.5" fill="#1f22e0"/><rect x="271" y="123.1" width="1" height="8.4" fill="#1f22e0"/><rect x="272" y="123.6" width="1" height="10.5" fill="#6670ea"/><rect x="273" y="121.4" width="1" height="10.5" fill="#6670ea"/><rect x="274" y="124.1" width="1" height="7.4" fill="#8088ee"/><rect x="275" y="121.8" width="1" height="9.7" fill="#1f22e0"/><rect x="276" y="123.2" width="1" height="8.3" fill="#1f22e0"/><rect x="261" y="126.5" width="16" height="5" fill="#1f22e0"/><rect x="277" y="122.3" width="1" height="9.2" fill="#1f22e0"/><rect x="278" y="126.4" width="1" height="5.1" fill="#8088ee"/><rect x="279" y="122.1" width="1" height="9.4" fill="#1f22e0"/><rect x="280" y="126.8" width="1" height="4.7" fill="#8088ee"/><rect x="281" y="122.2" width="1" height="9.3" fill="#1f22e0"/><rect x="282" y="123.4" width="1" height="9.5" fill="#6670ea"/><rect x="283" y="124.3" width="1" height="7.2" fill="#1f22e0"/><rect x="284" y="122.8" width="1" height="8.7" fill="#1f22e0"/><rect x="285" y="122.0" width="1" height="9.5" fill="#1f22e0"/><rect x="286" y="122.0" width="1" height="9.5" fill="#1f22e0"/><rect x="287" y="123.2" width="1" height="9.5" fill="#6670ea"/><rect x="288" y="123.4" width="1" height="8.1" fill="#1f22e0"/><rect x="289" y="122.9" width="1" height="8.6" fill="#1f22e0"/><rect x="290" y="122.7" width="1" height="8.8" fill="#1f22e0"/><rect x="291" y="127.1" width="1" height="4.4" fill="#8088ee"/><rect x="292" y="122.2" width="1" height="9.5" fill="#a8aef2"/><rect x="293" y="122.7" width="1" height="8.8" fill="#1f22e0"/><rect x="294" y="123.7" width="1" height="7.8" fill="#1f22e0"/><rect x="295" y="123.5" width="1" height="8.0" fill="#1f22e0"/><rect x="296" y="123.5" width="1" height="8.0" fill="#1f22e0"/><rect x="297" y="125.0" width="1" height="6.5" fill="#1f22e0"/><rect x="298" y="123.8" width="1" height="7.7" fill="#1f22e0"/><rect x="299" y="127.0" width="1" height="4.5" fill="#8088ee"/><rect x="277" y="127.5" width="23" height="4" fill="#1f22e0"/><rect x="300" y="127.3" width="1" height="4.2" fill="#1f22e0"/><rect x="301" y="121.2" width="1" height="10.3" fill="#1f22e0"/><rect x="302" y="119.4" width="1" height="12.1" fill="#1f22e0"/><rect x="303" y="121.5" width="1" height="12.5" fill="#6670ea"/><rect x="304" y="126.0" width="1" height="5.5" fill="#1f22e0"/><rect x="305" y="122.7" width="1" height="8.8" fill="#8088ee"/><rect x="306" y="120.2" width="1" height="11.3" fill="#1f22e0"/><rect x="307" y="119.6" width="1" height="11.9" fill="#1f22e0"/><rect x="308" y="125.1" width="1" height="6.4" fill="#1f22e0"/><rect x="309" y="119.1" width="1" height="12.4" fill="#1f22e0"/><rect x="310" y="122.9" width="1" height="8.6" fill="#8088ee"/><rect x="311" y="122.7" width="1" height="8.8" fill="#1f22e0"/><rect x="312" y="121.9" width="1" height="12.5" fill="#a8aef2"/><rect x="313" y="121.1" width="1" height="12.5" fill="#a8aef2"/><rect x="314" y="119.8" width="1" height="11.7" fill="#1f22e0"/><rect x="315" y="125.2" width="1" height="6.3" fill="#8088ee"/><rect x="316" y="120.3" width="1" height="11.2" fill="#1f22e0"/><rect x="317" y="119.0" width="1" height="12.5" fill="#1f22e0"/><rect x="318" y="119.8" width="1" height="12.5" fill="#6670ea"/><rect x="319" y="120.0" width="1" height="11.5" fill="#1f22e0"/><rect x="320" y="126.7" width="1" height="4.8" fill="#8088ee"/><rect x="321" y="119.0" width="1" height="12.5" fill="#1f22e0"/><rect x="322" y="124.2" width="1" height="7.3" fill="#1f22e0"/><rect x="323" y="119.2" width="1" height="12.3" fill="#1f22e0"/><rect x="324" y="126.0" width="1" height="5.5" fill="#1f22e0"/><rect x="300" y="127.5" width="25" height="4" fill="#1f22e0"/><rect x="325" y="116.7" width="1" height="14.8" fill="#1f22e0"/><rect x="326" y="115.4" width="1" height="16.1" fill="#1f22e0"/><rect x="327" y="115.4" width="1" height="16.1" fill="#1f22e0"/><rect x="328" y="116.3" width="1" height="15.2" fill="#1f22e0"/><rect x="329" y="115.6" width="1" height="15.9" fill="#1f22e0"/><rect x="330" y="116.8" width="1" height="14.7" fill="#1f22e0"/><rect x="331" y="115.7" width="1" height="15.8" fill="#1f22e0"/><rect x="332" y="114.7" width="1" height="16.8" fill="#1f22e0"/><rect x="333" y="116.8" width="1" height="14.7" fill="#1f22e0"/><rect x="334" y="115.3" width="1" height="16.2" fill="#1f22e0"/><rect x="335" y="114.6" width="1" height="16.9" fill="#1f22e0"/><rect x="336" y="115.4" width="1" height="16.1" fill="#1f22e0"/><rect x="337" y="116.5" width="1" height="15.0" fill="#1f22e0"/><rect x="338" y="114.9" width="1" height="16.6" fill="#1f22e0"/><rect x="339" y="115.5" width="1" height="16.9" fill="#a8aef2"/><rect x="340" y="115.4" width="1" height="16.1" fill="#1f22e0"/><rect x="341" y="115.6" width="1" height="15.9" fill="#1f22e0"/><rect x="342" y="115.4" width="1" height="16.1" fill="#1f22e0"/><rect x="343" y="114.8" width="1" height="16.7" fill="#1f22e0"/><rect x="344" y="121.7" width="1" height="9.8" fill="#8088ee"/><rect x="345" y="115.0" width="1" height="16.5" fill="#1f22e0"/><rect x="346" y="115.1" width="1" height="16.9" fill="#a8aef2"/><rect x="347" y="116.6" width="1" height="14.9" fill="#1f22e0"/><rect x="348" y="114.8" width="1" height="16.7" fill="#1f22e0"/><rect x="349" y="115.7" width="1" height="15.8" fill="#1f22e0"/><rect x="350" y="115.7" width="1" height="15.8" fill="#1f22e0"/><rect x="351" y="116.3" width="1" height="15.2" fill="#1f22e0"/><rect x="352" y="115.1" width="1" height="16.4" fill="#1f22e0"/><rect x="353" y="116.0" width="1" height="16.9" fill="#a8aef2"/><rect x="354" y="116.3" width="1" height="15.2" fill="#1f22e0"/><rect x="355" y="116.0" width="1" height="15.5" fill="#1f22e0"/><rect x="356" y="115.1" width="1" height="16.4" fill="#1f22e0"/><rect x="357" y="115.7" width="1" height="15.8" fill="#1f22e0"/><rect x="358" y="114.8" width="1" height="16.9" fill="#a8aef2"/><rect x="359" y="121.5" width="1" height="10.0" fill="#8088ee"/><rect x="360" y="114.8" width="1" height="16.7" fill="#1f22e0"/><rect x="361" y="114.9" width="1" height="16.6" fill="#1f22e0"/><rect x="362" y="115.6" width="1" height="15.9" fill="#1f22e0"/><rect x="363" y="117.0" width="1" height="14.5" fill="#1f22e0"/><rect x="364" y="114.6" width="1" height="16.9" fill="#1f22e0"/><rect x="365" y="115.6" width="1" height="15.9" fill="#1f22e0"/><rect x="366" y="117.1" width="1" height="14.4" fill="#1f22e0"/><rect x="367" y="115.4" width="1" height="16.1" fill="#1f22e0"/><rect x="368" y="115.3" width="1" height="16.2" fill="#1f22e0"/><rect x="369" y="117.9" width="1" height="13.6" fill="#8088ee"/><rect x="370" y="115.4" width="1" height="16.9" fill="#6670ea"/><rect x="371" y="116.0" width="1" height="15.5" fill="#1f22e0"/><rect x="372" y="114.8" width="1" height="16.7" fill="#1f22e0"/><rect x="373" y="115.0" width="1" height="16.5" fill="#1f22e0"/><rect x="374" y="116.8" width="1" height="14.7" fill="#1f22e0"/><rect x="375" y="116.6" width="1" height="14.9" fill="#1f22e0"/><rect x="376" y="115.5" width="1" height="16.0" fill="#1f22e0"/><rect x="377" y="116.0" width="1" height="15.5" fill="#1f22e0"/><rect x="378" y="116.2" width="1" height="15.3" fill="#1f22e0"/><rect x="379" y="116.4" width="1" height="15.1" fill="#1f22e0"/><rect x="380" y="114.8" width="1" height="16.7" fill="#1f22e0"/><rect x="381" y="115.1" width="1" height="16.9" fill="#a8aef2"/><rect x="382" y="114.8" width="1" height="16.7" fill="#1f22e0"/><rect x="383" y="114.6" width="1" height="16.9" fill="#1f22e0"/><rect x="384" y="115.7" width="1" height="15.8" fill="#1f22e0"/><rect x="385" y="117.0" width="1" height="14.5" fill="#1f22e0"/><rect x="386" y="114.9" width="1" height="16.6" fill="#1f22e0"/><rect x="387" y="116.4" width="1" height="15.1" fill="#1f22e0"/><rect x="388" y="116.2" width="1" height="15.3" fill="#1f22e0"/><rect x="389" y="114.7" width="1" height="16.8" fill="#1f22e0"/><rect x="390" y="116.7" width="1" height="14.8" fill="#1f22e0"/><rect x="391" y="116.3" width="1" height="15.2" fill="#1f22e0"/><rect x="392" y="115.2" width="1" height="16.3" fill="#1f22e0"/><rect x="393" y="116.8" width="1" height="14.7" fill="#1f22e0"/><rect x="394" y="114.9" width="1" height="16.6" fill="#1f22e0"/><rect x="395" y="114.8" width="1" height="16.7" fill="#1f22e0"/><rect x="396" y="116.2" width="1" height="15.3" fill="#1f22e0"/><rect x="397" y="120.9" width="1" height="10.6" fill="#8088ee"/><rect x="398" y="116.1" width="1" height="15.4" fill="#1f22e0"/><rect x="399" y="116.9" width="1" height="14.6" fill="#1f22e0"/><rect x="400" y="114.9" width="1" height="16.6" fill="#1f22e0"/><rect x="401" y="115.4" width="1" height="16.1" fill="#1f22e0"/><rect x="402" y="115.0" width="1" height="16.5" fill="#1f22e0"/><rect x="403" y="121.5" width="1" height="10.0" fill="#1f22e0"/><rect x="404" y="114.7" width="1" height="16.8" fill="#1f22e0"/><rect x="405" y="115.8" width="1" height="15.7" fill="#1f22e0"/><rect x="406" y="119.1" width="1" height="12.4" fill="#1f22e0"/><rect x="407" y="114.9" width="1" height="16.9" fill="#6670ea"/><rect x="408" y="115.1" width="1" height="16.9" fill="#a8aef2"/><rect x="409" y="114.7" width="1" height="16.8" fill="#1f22e0"/><rect x="410" y="115.3" width="1" height="16.2" fill="#1f22e0"/><rect x="411" y="114.6" width="1" height="16.9" fill="#a8aef2"/><rect x="412" y="115.8" width="1" height="15.7" fill="#1f22e0"/><rect x="413" y="115.0" width="1" height="16.5" fill="#1f22e0"/><rect x="414" y="121.9" width="1" height="9.6" fill="#1f22e0"/><rect x="415" y="116.6" width="1" height="14.9" fill="#1f22e0"/><rect x="416" y="116.4" width="1" height="15.1" fill="#1f22e0"/><rect x="417" y="117.2" width="1" height="16.9" fill="#a8aef2"/><rect x="418" y="114.8" width="1" height="16.7" fill="#1f22e0"/><rect x="419" y="117.0" width="1" height="14.5" fill="#1f22e0"/><rect x="420" y="114.8" width="1" height="16.7" fill="#1f22e0"/><rect x="421" y="115.2" width="1" height="16.3" fill="#1f22e0"/><rect x="422" y="115.2" width="1" height="16.9" fill="#6670ea"/><rect x="423" y="116.5" width="1" height="15.0" fill="#1f22e0"/><rect x="424" y="115.7" width="1" height="15.8" fill="#1f22e0"/><rect x="425" y="115.3" width="1" height="16.2" fill="#1f22e0"/><rect x="426" y="116.9" width="1" height="16.9" fill="#a8aef2"/><rect x="427" y="118.0" width="1" height="13.5" fill="#1f22e0"/><rect x="428" y="116.4" width="1" height="15.1" fill="#1f22e0"/><rect x="429" y="115.4" width="1" height="16.1" fill="#1f22e0"/><rect x="430" y="116.4" width="1" height="15.1" fill="#1f22e0"/><rect x="431" y="115.1" width="1" height="16.4" fill="#1f22e0"/><rect x="432" y="114.7" width="1" height="16.8" fill="#1f22e0"/><rect x="433" y="115.6" width="1" height="16.9" fill="#a8aef2"/><rect x="434" y="118.4" width="1" height="13.1" fill="#8088ee"/><rect x="435" y="115.4" width="1" height="16.1" fill="#1f22e0"/><rect x="436" y="115.1" width="1" height="16.4" fill="#1f22e0"/><rect x="437" y="114.6" width="1" height="16.9" fill="#1f22e0"/><rect x="438" y="114.6" width="1" height="16.9" fill="#1f22e0"/><rect x="439" y="114.6" width="1" height="16.9" fill="#1f22e0"/><rect x="440" y="117.4" width="1" height="16.9" fill="#a8aef2"/><rect x="441" y="114.8" width="1" height="16.7" fill="#1f22e0"/><rect x="442" y="115.1" width="1" height="16.4" fill="#1f22e0"/><rect x="443" y="116.3" width="1" height="15.2" fill="#1f22e0"/><rect x="444" y="116.8" width="1" height="14.7" fill="#1f22e0"/><rect x="445" y="116.6" width="1" height="14.9" fill="#1f22e0"/><rect x="446" y="116.7" width="1" height="14.8" fill="#1f22e0"/><rect x="447" y="117.7" width="1" height="13.8" fill="#1f22e0"/><rect x="448" y="116.8" width="1" height="14.7" fill="#1f22e0"/><rect x="449" y="115.1" width="1" height="16.4" fill="#1f22e0"/><rect x="450" y="118.9" width="1" height="12.6" fill="#1f22e0"/><rect x="451" y="115.9" width="1" height="15.6" fill="#1f22e0"/><rect x="452" y="114.8" width="1" height="16.7" fill="#1f22e0"/><rect x="453" y="116.4" width="1" height="16.9" fill="#a8aef2"/><rect x="454" y="117.2" width="1" height="16.9" fill="#a8aef2"/><rect x="455" y="116.2" width="1" height="15.3" fill="#1f22e0"/><rect x="456" y="116.5" width="1" height="16.9" fill="#6670ea"/><rect x="457" y="116.1" width="1" height="15.4" fill="#1f22e0"/><rect x="458" y="116.4" width="1" height="15.1" fill="#1f22e0"/><rect x="459" y="115.5" width="1" height="16.9" fill="#6670ea"/><rect x="460" y="116.2" width="1" height="15.3" fill="#1f22e0"/><rect x="461" y="116.5" width="1" height="15.0" fill="#1f22e0"/><rect x="462" y="115.2" width="1" height="16.3" fill="#1f22e0"/><rect x="463" y="115.2" width="1" height="16.3" fill="#1f22e0"/><rect x="464" y="116.2" width="1" height="15.3" fill="#1f22e0"/><rect x="465" y="114.8" width="1" height="16.7" fill="#1f22e0"/><rect x="466" y="115.3" width="1" height="16.2" fill="#1f22e0"/><rect x="467" y="114.8" width="1" height="16.7" fill="#1f22e0"/><rect x="468" y="115.8" width="1" height="15.7" fill="#1f22e0"/><rect x="469" y="116.8" width="1" height="14.7" fill="#1f22e0"/><rect x="470" y="115.5" width="1" height="16.0" fill="#1f22e0"/><rect x="471" y="115.2" width="1" height="16.3" fill="#1f22e0"/><rect x="472" y="116.4" width="1" height="15.1" fill="#1f22e0"/><rect x="473" y="116.7" width="1" height="14.8" fill="#1f22e0"/><rect x="474" y="122.1" width="1" height="9.4" fill="#1f22e0"/><rect x="475" y="114.6" width="1" height="16.9" fill="#1f22e0"/><rect x="476" y="116.5" width="1" height="15.0" fill="#1f22e0"/><rect x="477" y="115.3" width="1" height="16.2" fill="#1f22e0"/><rect x="478" y="115.3" width="1" height="16.2" fill="#1f22e0"/><rect x="479" y="115.7" width="1" height="15.8" fill="#1f22e0"/><rect x="480" y="114.6" width="1" height="16.9" fill="#1f22e0"/><rect x="481" y="115.9" width="1" height="15.6" fill="#1f22e0"/><rect x="482" y="117.0" width="1" height="14.5" fill="#1f22e0"/><rect x="483" y="114.7" width="1" height="16.8" fill="#1f22e0"/><rect x="484" y="122.0" width="1" height="9.5" fill="#8088ee"/><rect x="485" y="115.7" width="1" height="15.8" fill="#1f22e0"/><rect x="486" y="115.7" width="1" height="15.8" fill="#1f22e0"/><rect x="487" y="116.5" width="1" height="15.0" fill="#1f22e0"/><rect x="488" y="114.6" width="1" height="16.9" fill="#1f22e0"/><rect x="489" y="119.7" width="1" height="11.8" fill="#8088ee"/><rect x="490" y="114.9" width="1" height="16.6" fill="#1f22e0"/><rect x="491" y="115.3" width="1" height="16.2" fill="#1f22e0"/><rect x="492" y="114.7" width="1" height="16.8" fill="#1f22e0"/><rect x="493" y="115.3" width="1" height="16.2" fill="#1f22e0"/><rect x="494" y="115.1" width="1" height="16.4" fill="#1f22e0"/><rect x="495" y="115.8" width="1" height="15.7" fill="#1f22e0"/><rect x="496" y="115.0" width="1" height="16.5" fill="#1f22e0"/><rect x="497" y="115.5" width="1" height="16.0" fill="#1f22e0"/><rect x="498" y="116.6" width="1" height="14.9" fill="#1f22e0"/><rect x="499" y="115.4" width="1" height="16.1" fill="#1f22e0"/><rect x="500" y="115.5" width="1" height="16.0" fill="#1f22e0"/><rect x="501" y="115.5" width="1" height="16.0" fill="#1f22e0"/><rect x="502" y="116.6" width="1" height="16.9" fill="#6670ea"/><rect x="503" y="115.1" width="1" height="16.4" fill="#1f22e0"/><rect x="504" y="116.4" width="1" height="15.1" fill="#1f22e0"/><rect x="505" y="114.7" width="1" height="16.8" fill="#1f22e0"/><rect x="506" y="115.2" width="1" height="16.3" fill="#1f22e0"/><rect x="507" y="115.2" width="1" height="16.3" fill="#1f22e0"/><rect x="508" y="114.9" width="1" height="16.6" fill="#1f22e0"/><rect x="509" y="116.3" width="1" height="15.2" fill="#1f22e0"/><rect x="510" y="115.5" width="1" height="16.0" fill="#1f22e0"/><rect x="511" y="114.7" width="1" height="16.8" fill="#1f22e0"/><rect x="512" y="114.6" width="1" height="16.9" fill="#1f22e0"/><rect x="513" y="116.2" width="1" height="15.3" fill="#1f22e0"/><rect x="514" y="117.0" width="1" height="14.5" fill="#1f22e0"/><rect x="515" y="115.2" width="1" height="16.3" fill="#1f22e0"/><rect x="516" y="114.8" width="1" height="16.7" fill="#1f22e0"/><rect x="325" y="122.5" width="192" height="9" fill="#1f22e0"/>
<rect x="10" y="11" width="508" height="121.2" fill="none" stroke="#000" stroke-width="2"/>
<circle cx="11.1" cy="26.3" r="9.35" fill="#fff" stroke="#000" stroke-width="1.5"/>
<text x="11.1" y="32.3" font-family="'Liberation Sans',sans-serif" font-size="17.3" font-weight="bold" font-style="normal" text-anchor="middle" fill="#000"  stroke="#000" stroke-width="0.18">A</text>
<text x="12" y="147.1" font-family="'Liberation Sans',sans-serif" font-size="9.25" font-weight="bold" font-style="normal" text-anchor="start" fill="#111"  textLength="137.5" lengthAdjust="spacingAndGlyphs" stroke="#111" stroke-width="0.18">Chromosome 22q11.1-22q11.24</text>
<line x1="73.4" y1="152" x2="73.4" y2="272" stroke="#e4e4f6" stroke-width="1"/><line x1="84.2" y1="152" x2="84.2" y2="272" stroke="#e4e4f6" stroke-width="1"/><line x1="95.1" y1="152" x2="95.1" y2="272" stroke="#e4e4f6" stroke-width="1"/><line x1="106.0" y1="152" x2="106.0" y2="272" stroke="#e4e4f6" stroke-width="1"/><line x1="116.8" y1="152" x2="116.8" y2="272" stroke="#e4e4f6" stroke-width="1"/><line x1="127.7" y1="152" x2="127.7" y2="272" stroke="#e4e4f6" stroke-width="1"/><line x1="138.5" y1="152" x2="138.5" y2="272" stroke="#e4e4f6" stroke-width="1"/><line x1="149.4" y1="152" x2="149.4" y2="272" stroke="#e4e4f6" stroke-width="1"/><line x1="160.2" y1="152" x2="160.2" y2="272" stroke="#e4e4f6" stroke-width="1"/><line x1="171.1" y1="152" x2="171.1" y2="272" stroke="#e4e4f6" stroke-width="1"/><line x1="181.9" y1="152" x2="181.9" y2="272" stroke="#e4e4f6" stroke-width="1"/><line x1="192.8" y1="152" x2="192.8" y2="272" stroke="#e4e4f6" stroke-width="1"/><line x1="203.6" y1="152" x2="203.6" y2="272" stroke="#e4e4f6" stroke-width="1"/><line x1="214.4" y1="152" x2="214.4" y2="272" stroke="#e4e4f6" stroke-width="1"/><line x1="225.3" y1="152" x2="225.3" y2="272" stroke="#e4e4f6" stroke-width="1"/><line x1="236.2" y1="152" x2="236.2" y2="272" stroke="#e4e4f6" stroke-width="1"/><line x1="247.0" y1="152" x2="247.0" y2="272" stroke="#e4e4f6" stroke-width="1"/><line x1="257.9" y1="152" x2="257.9" y2="272" stroke="#e4e4f6" stroke-width="1"/><line x1="268.7" y1="152" x2="268.7" y2="272" stroke="#e4e4f6" stroke-width="1"/><line x1="279.6" y1="152" x2="279.6" y2="272" stroke="#e4e4f6" stroke-width="1"/><line x1="290.4" y1="152" x2="290.4" y2="272" stroke="#e4e4f6" stroke-width="1"/><line x1="301.2" y1="152" x2="301.2" y2="272" stroke="#e4e4f6" stroke-width="1"/><line x1="312.1" y1="152" x2="312.1" y2="272" stroke="#e4e4f6" stroke-width="1"/><line x1="322.9" y1="152" x2="322.9" y2="272" stroke="#e4e4f6" stroke-width="1"/><line x1="333.8" y1="152" x2="333.8" y2="272" stroke="#e4e4f6" stroke-width="1"/><line x1="344.6" y1="152" x2="344.6" y2="272" stroke="#e4e4f6" stroke-width="1"/><line x1="355.5" y1="152" x2="355.5" y2="272" stroke="#e4e4f6" stroke-width="1"/><line x1="366.4" y1="152" x2="366.4" y2="272" stroke="#e4e4f6" stroke-width="1"/><line x1="377.2" y1="152" x2="377.2" y2="272" stroke="#e4e4f6" stroke-width="1"/><line x1="388.0" y1="152" x2="388.0" y2="272" stroke="#e4e4f6" stroke-width="1"/><line x1="398.9" y1="152" x2="398.9" y2="272" stroke="#e4e4f6" stroke-width="1"/><line x1="409.8" y1="152" x2="409.8" y2="272" stroke="#e4e4f6" stroke-width="1"/><line x1="420.6" y1="152" x2="420.6" y2="272" stroke="#e4e4f6" stroke-width="1"/><line x1="431.5" y1="152" x2="431.5" y2="272" stroke="#e4e4f6" stroke-width="1"/><line x1="442.3" y1="152" x2="442.3" y2="272" stroke="#e4e4f6" stroke-width="1"/><line x1="453.1" y1="152" x2="453.1" y2="272" stroke="#e4e4f6" stroke-width="1"/><line x1="464.0" y1="152" x2="464.0" y2="272" stroke="#e4e4f6" stroke-width="1"/><line x1="474.9" y1="152" x2="474.9" y2="272" stroke="#e4e4f6" stroke-width="1"/><line x1="485.7" y1="152" x2="485.7" y2="272" stroke="#e4e4f6" stroke-width="1"/><line x1="496.5" y1="152" x2="496.5" y2="272" stroke="#e4e4f6" stroke-width="1"/><line x1="507.4" y1="152" x2="507.4" y2="272" stroke="#e4e4f6" stroke-width="1"/>
<line x1="61.8" y1="152" x2="61.8" y2="272" stroke="#e6b8c8" stroke-width="1"/>
<rect x="66.0" y="213.5" width="1" height="2.0" fill="#5a0812"/><rect x="67.0" y="213.5" width="1" height="2.0" fill="#5a0812"/><rect x="67.0" y="204.1" width="1" height="11.4" fill="#5e0a14"/><rect x="68.0" y="213.5" width="1" height="2.0" fill="#5a0812"/><rect x="69.0" y="213.5" width="1" height="2.0" fill="#5a0812"/><rect x="69.0" y="195.7" width="1" height="19.8" fill="#5e0a14"/><rect x="70.0" y="213.5" width="1" height="2.0" fill="#5a0812"/><rect x="70.0" y="201.6" width="1" height="13.9" fill="#7e2a3a"/><rect x="71.0" y="213.5" width="1" height="2.0" fill="#5a0812"/><rect x="71.0" y="198.8" width="1" height="16.7" fill="#5e0a14"/><rect x="72.0" y="213.5" width="1" height="2.0" fill="#5a0812"/><rect x="72.0" y="203.1" width="1" height="12.4" fill="#5e0a14"/><rect x="73.0" y="213.5" width="1" height="2.0" fill="#5a0812"/><rect x="73.0" y="195.0" width="1" height="20.5" fill="#5e0a14"/><rect x="74.0" y="213.5" width="1" height="2.0" fill="#5a0812"/><rect x="74.0" y="200.8" width="1" height="14.7" fill="#7e2a3a"/><rect x="75.0" y="213.5" width="1" height="2.0" fill="#5a0812"/><rect x="75.0" y="194.9" width="1" height="20.6" fill="#5e0a14"/><rect x="76.0" y="213.5" width="1" height="2.0" fill="#5a0812"/><rect x="76.0" y="198.4" width="1" height="17.1" fill="#5e0a14"/><rect x="77.0" y="213.5" width="1" height="2.0" fill="#5a0812"/><rect x="77.0" y="195.4" width="1" height="20.1" fill="#5e0a14"/><rect x="78.0" y="213.5" width="1" height="2.0" fill="#5a0812"/><rect x="78.0" y="200.9" width="1" height="14.6" fill="#7e2a3a"/><rect x="79.0" y="213.5" width="1" height="2.0" fill="#5a0812"/><rect x="79.0" y="198.6" width="1" height="16.9" fill="#5e0a14"/><rect x="80.0" y="213.5" width="1" height="2.0" fill="#5a0812"/><rect x="80.0" y="203.1" width="1" height="12.4" fill="#5e0a14"/><rect x="81.0" y="213.5" width="1" height="2.0" fill="#5a0812"/><rect x="81.0" y="201.7" width="1" height="13.8" fill="#7e2a3a"/><rect x="82.0" y="213.5" width="1" height="2.0" fill="#5a0812"/><rect x="82.0" y="207.2" width="1" height="8.3" fill="#5e0a14"/><rect x="83.0" y="213.5" width="1" height="2.0" fill="#5a0812"/><rect x="83.0" y="203.8" width="1" height="11.7" fill="#5e0a14"/><rect x="84.0" y="213.5" width="1" height="2.0" fill="#5a0812"/><rect x="84.0" y="210.3" width="1" height="5.2" fill="#5e0a14"/><rect x="85.0" y="213.5" width="1" height="2.0" fill="#5a0812"/><rect x="85.0" y="212.0" width="1" height="3.5" fill="#5e0a14"/><rect x="91.0" y="213.5" width="1" height="2.0" fill="#5a0812"/><rect x="91.0" y="212.4" width="1" height="3.1" fill="#7e2a3a"/><rect x="92.0" y="213.5" width="1" height="2.0" fill="#5a0812"/><rect x="92.0" y="212.5" width="1" height="3.0" fill="#5e0a14"/><rect x="102.0" y="214.0" width="1" height="1.5" fill="#7e2a3a"/><rect x="103.0" y="213.5" width="1" height="2.0" fill="#5a0812"/><rect x="104.0" y="213.5" width="1" height="2.0" fill="#5a0812"/><rect x="104.0" y="211.5" width="1" height="4.0" fill="#5e0a14"/><rect x="105.0" y="213.5" width="1" height="2.0" fill="#5a0812"/><rect x="105.0" y="212.3" width="1" height="3.2" fill="#5e0a14"/><rect x="106.0" y="213.5" width="1" height="2.0" fill="#5a0812"/><rect x="106.0" y="211.8" width="1" height="3.7" fill="#5e0a14"/><rect x="107.0" y="213.5" width="1" height="2.0" fill="#5a0812"/><rect x="107.0" y="212.3" width="1" height="3.2" fill="#5e0a14"/><rect x="108.0" y="213.5" width="1" height="2.0" fill="#5a0812"/><rect x="108.0" y="211.3" width="1" height="4.2" fill="#5e0a14"/><rect x="109.0" y="213.5" width="1" height="2.0" fill="#5a0812"/><rect x="109.0" y="211.7" width="1" height="3.8" fill="#5e0a14"/><rect x="110.0" y="213.5" width="1" height="2.0" fill="#5a0812"/><rect x="110.0" y="211.5" width="1" height="4.0" fill="#7e2a3a"/><rect x="111.0" y="213.5" width="1" height="2.0" fill="#5a0812"/><rect x="111.0" y="211.9" width="1" height="3.6" fill="#7e2a3a"/><rect x="112.0" y="213.5" width="1" height="2.0" fill="#5a0812"/><rect x="113.0" y="213.5" width="1" height="2.0" fill="#5a0812"/><rect x="113.0" y="212.0" width="1" height="3.5" fill="#7e2a3a"/><rect x="114.0" y="213.5" width="1" height="2.0" fill="#5a0812"/><rect x="114.0" y="211.6" width="1" height="3.9" fill="#5e0a14"/><rect x="115.0" y="213.5" width="1" height="2.0" fill="#5a0812"/><rect x="115.0" y="212.8" width="1" height="2.7" fill="#5e0a14"/><rect x="116.0" y="213.5" width="1" height="2.0" fill="#5a0812"/><rect x="116.0" y="211.9" width="1" height="3.6" fill="#5e0a14"/><rect x="117.0" y="213.5" width="1" height="2.0" fill="#5a0812"/><rect x="117.0" y="212.7" width="1" height="2.8" fill="#7e2a3a"/><rect x="118.0" y="213.5" width="1" height="2.0" fill="#5a0812"/><rect x="118.0" y="211.1" width="1" height="4.4" fill="#7e2a3a"/><rect x="119.0" y="213.5" width="1" height="2.0" fill="#5a0812"/><rect x="119.0" y="212.2" width="1" height="3.3" fill="#5e0a14"/><rect x="120.0" y="213.5" width="1" height="2.0" fill="#5a0812"/><rect x="120.0" y="211.8" width="1" height="3.7" fill="#5e0a14"/><rect x="121.0" y="213.5" width="1" height="2.0" fill="#5a0812"/><rect x="121.0" y="211.6" width="1" height="3.9" fill="#7e2a3a"/><rect x="122.0" y="213.5" width="1" height="2.0" fill="#5a0812"/><rect x="122.0" y="211.1" width="1" height="4.4" fill="#5e0a14"/><rect x="123.0" y="213.5" width="1" height="2.0" fill="#5a0812"/><rect x="124.0" y="213.5" width="1" height="2.0" fill="#5a0812"/><rect x="124.0" y="212.0" width="1" height="3.5" fill="#7e2a3a"/><rect x="125.0" y="213.5" width="1" height="2.0" fill="#5a0812"/><rect x="125.0" y="210.8" width="1" height="4.7" fill="#5e0a14"/><rect x="126.0" y="213.5" width="1" height="2.0" fill="#5a0812"/><rect x="126.0" y="212.3" width="1" height="3.2" fill="#5e0a14"/><rect x="127.0" y="213.5" width="1" height="2.0" fill="#5a0812"/><rect x="127.0" y="212.2" width="1" height="3.3" fill="#5e0a14"/><rect x="128.0" y="213.5" width="1" height="2.0" fill="#5a0812"/><rect x="128.0" y="209.6" width="1" height="5.9" fill="#5e0a14"/><rect x="129.0" y="213.5" width="1" height="2.0" fill="#5a0812"/><rect x="129.0" y="210.5" width="1" height="5.0" fill="#5e0a14"/><rect x="130.0" y="213.5" width="1" height="2.0" fill="#5a0812"/><rect x="130.0" y="209.3" width="1" height="6.2" fill="#5e0a14"/><rect x="131.0" y="213.5" width="1" height="2.0" fill="#5a0812"/><rect x="131.0" y="210.3" width="1" height="5.2" fill="#5e0a14"/><rect x="132.0" y="213.5" width="1" height="2.0" fill="#5a0812"/><rect x="132.0" y="211.3" width="1" height="4.2" fill="#5e0a14"/><rect x="133.0" y="213.5" width="1" height="2.0" fill="#5a0812"/><rect x="133.0" y="208.7" width="1" height="6.8" fill="#7e2a3a"/><rect x="134.0" y="213.5" width="1" height="2.0" fill="#5a0812"/><rect x="134.0" y="208.8" width="1" height="6.7" fill="#7e2a3a"/><rect x="135.0" y="213.5" width="1" height="2.0" fill="#5a0812"/><rect x="135.0" y="210.0" width="1" height="5.5" fill="#5e0a14"/><rect x="136.0" y="213.5" width="1" height="2.0" fill="#5a0812"/><rect x="136.0" y="208.6" width="1" height="6.9" fill="#5e0a14"/><rect x="137.0" y="213.5" width="1" height="2.0" fill="#5a0812"/><rect x="137.0" y="207.2" width="1" height="8.3" fill="#5e0a14"/><rect x="138.0" y="213.5" width="1" height="2.0" fill="#5a0812"/><rect x="138.0" y="209.2" width="1" height="6.3" fill="#5e0a14"/><rect x="139.0" y="213.5" width="1" height="2.0" fill="#5a0812"/><rect x="139.0" y="207.5" width="1" height="8.0" fill="#5e0a14"/><rect x="140.0" y="213.5" width="1" height="2.0" fill="#5a0812"/><rect x="140.0" y="207.1" width="1" height="8.4" fill="#5e0a14"/><rect x="141.0" y="213.5" width="1" height="2.0" fill="#5a0812"/><rect x="141.0" y="209.1" width="1" height="6.4" fill="#5e0a14"/><rect x="142.0" y="213.5" width="1" height="2.0" fill="#5a0812"/><rect x="142.0" y="209.0" width="1" height="6.5" fill="#5e0a14"/><rect x="143.0" y="213.5" width="1" height="2.0" fill="#5a0812"/><rect x="144.0" y="213.5" width="1" height="2.0" fill="#5a0812"/><rect x="144.0" y="209.1" width="1" height="6.4" fill="#7e2a3a"/><rect x="145.0" y="213.5" width="1" height="2.0" fill="#5a0812"/><rect x="145.0" y="207.1" width="1" height="8.4" fill="#5e0a14"/><rect x="146.0" y="213.5" width="1" height="2.0" fill="#5a0812"/><rect x="146.0" y="209.0" width="1" height="6.5" fill="#7e2a3a"/><rect x="147.0" y="213.5" width="1" height="2.0" fill="#5a0812"/><rect x="147.0" y="206.7" width="1" height="8.8" fill="#5e0a14"/><rect x="148.0" y="213.5" width="1" height="2.0" fill="#5a0812"/><rect x="148.0" y="206.9" width="1" height="8.6" fill="#7e2a3a"/><rect x="149.0" y="213.5" width="1" height="2.0" fill="#5a0812"/><rect x="149.0" y="209.2" width="1" height="6.3" fill="#5e0a14"/><rect x="150.0" y="213.5" width="1" height="2.0" fill="#5a0812"/><rect x="150.0" y="206.8" width="1" height="8.7" fill="#5e0a14"/><rect x="151.0" y="213.5" width="1" height="2.0" fill="#5a0812"/><rect x="151.0" y="210.4" width="1" height="5.1" fill="#5e0a14"/><rect x="152.0" y="213.5" width="1" height="2.0" fill="#5a0812"/><rect x="152.0" y="207.6" width="1" height="7.9" fill="#5e0a14"/><rect x="153.0" y="213.5" width="1" height="2.0" fill="#5a0812"/><rect x="153.0" y="209.5" width="1" height="6.0" fill="#5e0a14"/><rect x="154.0" y="213.5" width="1" height="2.0" fill="#5a0812"/><rect x="154.0" y="209.3" width="1" height="6.2" fill="#5e0a14"/><rect x="155.0" y="213.5" width="1" height="2.0" fill="#5a0812"/><rect x="155.0" y="205.9" width="1" height="9.6" fill="#5e0a14"/><rect x="156.0" y="213.5" width="1" height="2.0" fill="#5a0812"/><rect x="156.0" y="206.0" width="1" height="9.5" fill="#5e0a14"/><rect x="157.0" y="213.5" width="1" height="2.0" fill="#5a0812"/><rect x="158.0" y="213.5" width="1" height="2.0" fill="#5a0812"/><rect x="158.0" y="203.9" width="1" height="11.6" fill="#7e2a3a"/><rect x="159.0" y="213.5" width="1" height="2.0" fill="#5a0812"/><rect x="159.0" y="204.2" width="1" height="11.3" fill="#5e0a14"/><rect x="160.0" y="213.5" width="1" height="2.0" fill="#5a0812"/><rect x="160.0" y="198.6" width="1" height="16.9" fill="#5e0a14"/><rect x="161.0" y="213.5" width="1" height="2.0" fill="#5a0812"/><rect x="161.0" y="194.7" width="1" height="20.8" fill="#5e0a14"/><rect x="162.0" y="213.5" width="1" height="2.0" fill="#5a0812"/><rect x="162.0" y="197.2" width="1" height="18.3" fill="#7e2a3a"/><rect x="163.0" y="213.5" width="1" height="2.0" fill="#5a0812"/><rect x="163.0" y="194.4" width="1" height="21.1" fill="#5e0a14"/><rect x="164.0" y="213.5" width="1" height="2.0" fill="#5a0812"/><rect x="164.0" y="188.3" width="1" height="27.2" fill="#5e0a14"/><rect x="165.0" y="213.5" width="1" height="2.0" fill="#5a0812"/><rect x="165.0" y="186.0" width="1" height="29.5" fill="#7e2a3a"/><rect x="166.0" y="213.5" width="1" height="2.0" fill="#5a0812"/><rect x="166.0" y="190.0" width="1" height="25.5" fill="#5e0a14"/><rect x="167.0" y="213.5" width="1" height="2.0" fill="#5a0812"/><rect x="167.0" y="188.9" width="1" height="26.6" fill="#5e0a14"/><rect x="168.0" y="213.5" width="1" height="2.0" fill="#5a0812"/><rect x="168.0" y="194.1" width="1" height="21.4" fill="#5e0a14"/><rect x="169.0" y="213.5" width="1" height="2.0" fill="#5a0812"/><rect x="169.0" y="180.8" width="1" height="34.7" fill="#5e0a14"/><rect x="170.0" y="213.5" width="1" height="2.0" fill="#5a0812"/><rect x="170.0" y="185.2" width="1" height="30.3" fill="#7e2a3a"/><rect x="171.0" y="213.5" width="1" height="2.0" fill="#5a0812"/><rect x="171.0" y="189.2" width="1" height="26.3" fill="#5e0a14"/><rect x="172.0" y="213.5" width="1" height="2.0" fill="#5a0812"/><rect x="172.0" y="183.2" width="1" height="32.3" fill="#7e2a3a"/><rect x="173.0" y="213.5" width="1" height="2.0" fill="#5a0812"/><rect x="173.0" y="184.4" width="1" height="31.1" fill="#5e0a14"/><rect x="174.0" y="213.5" width="1" height="2.0" fill="#5a0812"/><rect x="174.0" y="194.8" width="1" height="20.7" fill="#5e0a14"/><rect x="175.0" y="213.5" width="1" height="2.0" fill="#5a0812"/><rect x="175.0" y="196.6" width="1" height="18.9" fill="#7e2a3a"/><rect x="176.0" y="213.5" width="1" height="2.0" fill="#5a0812"/><rect x="176.0" y="190.8" width="1" height="24.7" fill="#5e0a14"/><rect x="177.0" y="213.5" width="1" height="2.0" fill="#5a0812"/><rect x="177.0" y="197.5" width="1" height="18.0" fill="#5e0a14"/><rect x="178.0" y="213.5" width="1" height="2.0" fill="#5a0812"/><rect x="178.0" y="195.5" width="1" height="20.0" fill="#7e2a3a"/><rect x="179.0" y="213.5" width="1" height="2.0" fill="#5a0812"/><rect x="179.0" y="202.8" width="1" height="12.7" fill="#5e0a14"/><rect x="180.0" y="213.5" width="1" height="2.0" fill="#5a0812"/><rect x="180.0" y="203.0" width="1" height="12.5" fill="#7e2a3a"/><rect x="181.0" y="213.5" width="1" height="2.0" fill="#5a0812"/><rect x="181.0" y="201.2" width="1" height="14.3" fill="#5e0a14"/><rect x="182.0" y="213.5" width="1" height="2.0" fill="#5a0812"/><rect x="182.0" y="202.6" width="1" height="12.9" fill="#5e0a14"/><rect x="183.0" y="213.5" width="1" height="2.0" fill="#5a0812"/><rect x="183.0" y="196.7" width="1" height="18.8" fill="#5e0a14"/><rect x="184.0" y="213.5" width="1" height="2.0" fill="#5a0812"/><rect x="184.0" y="185.3" width="1" height="30.2" fill="#5e0a14"/><rect x="185.0" y="213.5" width="1" height="2.0" fill="#5a0812"/><rect x="185.0" y="196.1" width="1" height="19.4" fill="#5e0a14"/><rect x="186.0" y="213.5" width="1" height="2.0" fill="#5a0812"/><rect x="186.0" y="190.9" width="1" height="24.6" fill="#5e0a14"/><rect x="187.0" y="213.5" width="1" height="2.0" fill="#5a0812"/><rect x="187.0" y="187.8" width="1" height="27.7" fill="#5e0a14"/><rect x="188.0" y="213.5" width="1" height="2.0" fill="#5a0812"/><rect x="188.0" y="183.6" width="1" height="31.9" fill="#5e0a14"/><rect x="189.0" y="213.5" width="1" height="2.0" fill="#5a0812"/><rect x="189.0" y="191.7" width="1" height="23.8" fill="#5e0a14"/><rect x="190.0" y="213.5" width="1" height="2.0" fill="#5a0812"/><rect x="190.0" y="179.7" width="1" height="35.8" fill="#5e0a14"/><rect x="191.0" y="213.5" width="1" height="2.0" fill="#5a0812"/><rect x="191.0" y="181.3" width="1" height="34.2" fill="#5e0a14"/><rect x="192.0" y="213.5" width="1" height="2.0" fill="#5a0812"/><rect x="192.0" y="201.2" width="1" height="14.3" fill="#7e2a3a"/><rect x="193.0" y="213.5" width="1" height="2.0" fill="#5a0812"/><rect x="193.0" y="211.8" width="1" height="3.7" fill="#5e0a14"/><rect x="194.0" y="213.5" width="1" height="2.0" fill="#5a0812"/><rect x="194.0" y="211.2" width="1" height="4.3" fill="#5e0a14"/><rect x="195.0" y="213.5" width="1" height="2.0" fill="#5a0812"/><rect x="195.0" y="212.7" width="1" height="2.8" fill="#7e2a3a"/><rect x="196.0" y="213.5" width="1" height="2.0" fill="#5a0812"/><rect x="196.0" y="189.6" width="1" height="25.9" fill="#7e2a3a"/><rect x="197.0" y="213.5" width="1" height="2.0" fill="#5a0812"/><rect x="197.0" y="192.3" width="1" height="23.2" fill="#7e2a3a"/><rect x="198.0" y="213.5" width="1" height="2.0" fill="#5a0812"/><rect x="198.0" y="189.9" width="1" height="25.6" fill="#7e2a3a"/><rect x="199.0" y="213.5" width="1" height="2.0" fill="#5a0812"/><rect x="199.0" y="185.2" width="1" height="30.3" fill="#5e0a14"/><rect x="200.0" y="213.5" width="1" height="2.0" fill="#5a0812"/><rect x="200.0" y="197.7" width="1" height="17.8" fill="#7e2a3a"/><rect x="201.0" y="213.5" width="1" height="2.0" fill="#5a0812"/><rect x="201.0" y="196.2" width="1" height="19.3" fill="#5e0a14"/><rect x="202.0" y="213.5" width="1" height="2.0" fill="#5a0812"/><rect x="202.0" y="203.9" width="1" height="11.6" fill="#5e0a14"/><rect x="203.0" y="213.5" width="1" height="2.0" fill="#5a0812"/><rect x="203.0" y="210.6" width="1" height="4.9" fill="#7e2a3a"/><rect x="204.0" y="213.5" width="1" height="2.0" fill="#5a0812"/><rect x="204.0" y="202.9" width="1" height="12.6" fill="#5e0a14"/><rect x="205.0" y="213.5" width="1" height="2.0" fill="#5a0812"/><rect x="205.0" y="204.2" width="1" height="11.3" fill="#5e0a14"/><rect x="206.0" y="213.5" width="1" height="2.0" fill="#5a0812"/><rect x="206.0" y="207.5" width="1" height="8.0" fill="#5e0a14"/><rect x="207.0" y="213.5" width="1" height="2.0" fill="#5a0812"/><rect x="208.0" y="213.5" width="1" height="2.0" fill="#5a0812"/><rect x="208.0" y="211.2" width="1" height="4.3" fill="#5e0a14"/><rect x="209.0" y="213.5" width="1" height="2.0" fill="#5a0812"/><rect x="209.0" y="212.0" width="1" height="3.5" fill="#5e0a14"/><rect x="210.0" y="213.5" width="1" height="2.0" fill="#5a0812"/><rect x="210.0" y="211.8" width="1" height="3.7" fill="#7e2a3a"/><rect x="211.0" y="213.5" width="1" height="2.0" fill="#5a0812"/><rect x="211.0" y="210.1" width="1" height="5.4" fill="#5e0a14"/><rect x="212.0" y="213.5" width="1" height="2.0" fill="#5a0812"/><rect x="212.0" y="211.0" width="1" height="4.5" fill="#7e2a3a"/><rect x="213.0" y="213.5" width="1" height="2.0" fill="#5a0812"/><rect x="213.0" y="211.5" width="1" height="4.0" fill="#5e0a14"/><rect x="214.0" y="213.5" width="1" height="2.0" fill="#5a0812"/><rect x="214.0" y="210.3" width="1" height="5.2" fill="#5e0a14"/><rect x="215.0" y="213.5" width="1" height="2.0" fill="#5a0812"/><rect x="215.0" y="209.8" width="1" height="5.7" fill="#7e2a3a"/><rect x="216.0" y="213.5" width="1" height="2.0" fill="#5a0812"/><rect x="216.0" y="208.3" width="1" height="7.2" fill="#5e0a14"/><rect x="217.0" y="213.5" width="1" height="2.0" fill="#5a0812"/><rect x="217.0" y="209.6" width="1" height="5.9" fill="#7e2a3a"/><rect x="218.0" y="213.5" width="1" height="2.0" fill="#5a0812"/><rect x="218.0" y="208.8" width="1" height="6.7" fill="#5e0a14"/><rect x="219.0" y="213.5" width="1" height="2.0" fill="#5a0812"/><rect x="219.0" y="208.8" width="1" height="6.7" fill="#5e0a14"/><rect x="220.0" y="213.5" width="1" height="2.0" fill="#5a0812"/><rect x="220.0" y="207.7" width="1" height="7.8" fill="#5e0a14"/><rect x="221.0" y="213.5" width="1" height="2.0" fill="#5a0812"/><rect x="221.0" y="206.4" width="1" height="9.1" fill="#7e2a3a"/><rect x="222.0" y="213.5" width="1" height="2.0" fill="#5a0812"/><rect x="222.0" y="208.0" width="1" height="7.5" fill="#5e0a14"/><rect x="223.0" y="213.5" width="1" height="2.0" fill="#5a0812"/><rect x="223.0" y="208.1" width="1" height="7.4" fill="#7e2a3a"/><rect x="224.0" y="213.5" width="1" height="2.0" fill="#5a0812"/><rect x="224.0" y="205.5" width="1" height="10.0" fill="#7e2a3a"/><rect x="225.0" y="213.5" width="1" height="2.0" fill="#5a0812"/><rect x="225.0" y="207.5" width="1" height="8.0" fill="#5e0a14"/><rect x="226.0" y="213.5" width="1" height="2.0" fill="#5a0812"/><rect x="226.0" y="209.1" width="1" height="6.4" fill="#7e2a3a"/><rect x="227.0" y="213.5" width="1" height="2.0" fill="#5a0812"/><rect x="227.0" y="207.3" width="1" height="8.2" fill="#5e0a14"/><rect x="228.0" y="213.5" width="1" height="2.0" fill="#5a0812"/><rect x="229.0" y="213.5" width="1" height="2.0" fill="#5a0812"/><rect x="230.0" y="213.5" width="1" height="2.0" fill="#5a0812"/><rect x="230.0" y="203.9" width="1" height="11.6" fill="#5e0a14"/><rect x="231.0" y="213.5" width="1" height="2.0" fill="#5a0812"/><rect x="231.0" y="205.7" width="1" height="9.8" fill="#5e0a14"/><rect x="232.0" y="213.5" width="1" height="2.0" fill="#5a0812"/><rect x="232.0" y="203.4" width="1" height="12.1" fill="#5e0a14"/><rect x="233.0" y="213.5" width="1" height="2.0" fill="#5a0812"/><rect x="233.0" y="204.2" width="1" height="11.3" fill="#5e0a14"/><rect x="234.0" y="213.5" width="1" height="2.0" fill="#5a0812"/><rect x="234.0" y="202.3" width="1" height="13.2" fill="#5e0a14"/><rect x="235.0" y="213.5" width="1" height="2.0" fill="#5a0812"/><rect x="235.0" y="202.3" width="1" height="13.2" fill="#5e0a14"/><rect x="236.0" y="213.5" width="1" height="2.0" fill="#5a0812"/><rect x="236.0" y="201.3" width="1" height="14.2" fill="#5e0a14"/><rect x="237.0" y="213.5" width="1" height="2.0" fill="#5a0812"/><rect x="237.0" y="203.4" width="1" height="12.1" fill="#7e2a3a"/><rect x="238.0" y="213.5" width="1" height="2.0" fill="#5a0812"/><rect x="238.0" y="202.2" width="1" height="13.3" fill="#5e0a14"/><rect x="239.0" y="213.5" width="1" height="2.0" fill="#5a0812"/><rect x="239.0" y="201.5" width="1" height="14.0" fill="#5e0a14"/><rect x="240.0" y="213.5" width="1" height="2.0" fill="#5a0812"/><rect x="240.0" y="205.1" width="1" height="10.4" fill="#5e0a14"/><rect x="241.0" y="213.5" width="1" height="2.0" fill="#5a0812"/><rect x="241.0" y="205.1" width="1" height="10.4" fill="#7e2a3a"/><rect x="242.0" y="213.5" width="1" height="2.0" fill="#5a0812"/><rect x="242.0" y="199.3" width="1" height="16.2" fill="#5e0a14"/><rect x="243.0" y="213.5" width="1" height="2.0" fill="#5a0812"/><rect x="243.0" y="204.6" width="1" height="10.9" fill="#5e0a14"/><rect x="244.0" y="213.5" width="1" height="2.0" fill="#5a0812"/><rect x="244.0" y="203.0" width="1" height="12.5" fill="#5e0a14"/><rect x="245.0" y="213.5" width="1" height="2.0" fill="#5a0812"/><rect x="245.0" y="205.8" width="1" height="9.7" fill="#5e0a14"/><rect x="246.0" y="213.5" width="1" height="2.0" fill="#5a0812"/><rect x="246.0" y="205.5" width="1" height="10.0" fill="#5e0a14"/><rect x="247.0" y="213.5" width="1" height="2.0" fill="#5a0812"/><rect x="247.0" y="203.3" width="1" height="12.2" fill="#5e0a14"/><rect x="248.0" y="213.5" width="1" height="2.0" fill="#5a0812"/><rect x="248.0" y="201.9" width="1" height="13.6" fill="#7e2a3a"/><rect x="249.0" y="213.5" width="1" height="2.0" fill="#5a0812"/><rect x="249.0" y="205.3" width="1" height="10.2" fill="#5e0a14"/><rect x="250.0" y="213.5" width="1" height="2.0" fill="#5a0812"/><rect x="250.0" y="205.6" width="1" height="9.9" fill="#7e2a3a"/><rect x="251.0" y="213.5" width="1" height="2.0" fill="#5a0812"/><rect x="251.0" y="200.8" width="1" height="14.7" fill="#5e0a14"/><rect x="252.0" y="213.5" width="1" height="2.0" fill="#5a0812"/><rect x="252.0" y="202.4" width="1" height="13.1" fill="#7e2a3a"/><rect x="253.0" y="213.5" width="1" height="2.0" fill="#5a0812"/><rect x="253.0" y="205.5" width="1" height="10.0" fill="#7e2a3a"/><rect x="254.0" y="213.5" width="1" height="2.0" fill="#5a0812"/><rect x="254.0" y="204.7" width="1" height="10.8" fill="#7e2a3a"/><rect x="255.0" y="213.5" width="1" height="2.0" fill="#5a0812"/><rect x="255.0" y="203.6" width="1" height="11.9" fill="#5e0a14"/><rect x="256.0" y="213.5" width="1" height="2.0" fill="#5a0812"/><rect x="256.0" y="198.1" width="1" height="17.4" fill="#7e2a3a"/><rect x="257.0" y="213.5" width="1" height="2.0" fill="#5a0812"/><rect x="257.0" y="195.1" width="1" height="20.4" fill="#5e0a14"/><rect x="258.0" y="213.5" width="1" height="2.0" fill="#5a0812"/><rect x="258.0" y="190.4" width="1" height="25.1" fill="#7e2a3a"/><rect x="259.0" y="213.5" width="1" height="2.0" fill="#5a0812"/><rect x="259.0" y="197.8" width="1" height="17.7" fill="#5e0a14"/><rect x="260.0" y="213.5" width="1" height="2.0" fill="#5a0812"/><rect x="260.0" y="196.0" width="1" height="19.5" fill="#5e0a14"/><rect x="261.0" y="213.5" width="1" height="2.0" fill="#5a0812"/><rect x="261.0" y="191.4" width="1" height="24.1" fill="#7e2a3a"/><rect x="262.0" y="213.5" width="1" height="2.0" fill="#5a0812"/><rect x="262.0" y="188.9" width="1" height="26.6" fill="#5e0a14"/><rect x="263.0" y="213.5" width="1" height="2.0" fill="#5a0812"/><rect x="263.0" y="192.7" width="1" height="22.8" fill="#5e0a14"/><rect x="264.0" y="213.5" width="1" height="2.0" fill="#5a0812"/><rect x="264.0" y="189.0" width="1" height="26.5" fill="#5e0a14"/><rect x="265.0" y="213.5" width="1" height="2.0" fill="#5a0812"/><rect x="265.0" y="190.7" width="1" height="24.8" fill="#5e0a14"/><rect x="266.0" y="213.5" width="1" height="2.0" fill="#5a0812"/><rect x="266.0" y="196.1" width="1" height="19.4" fill="#5e0a14"/><rect x="267.0" y="213.5" width="1" height="2.0" fill="#5a0812"/><rect x="267.0" y="213.6" width="1" height="1.9" fill="#5e0a14"/><rect x="268.0" y="213.5" width="1" height="2.0" fill="#5a0812"/><rect x="268.0" y="213.4" width="1" height="2.1" fill="#5e0a14"/><rect x="269.0" y="213.5" width="1" height="2.0" fill="#5a0812"/><rect x="269.0" y="212.4" width="1" height="3.1" fill="#5e0a14"/><rect x="270.0" y="213.5" width="1" height="2.0" fill="#5a0812"/><rect x="270.0" y="213.4" width="1" height="2.1" fill="#5e0a14"/><rect x="271.0" y="213.5" width="1" height="2.0" fill="#5a0812"/><rect x="271.0" y="200.1" width="1" height="15.4" fill="#5e0a14"/><rect x="272.0" y="213.5" width="1" height="2.0" fill="#5a0812"/><rect x="272.0" y="199.8" width="1" height="15.7" fill="#5e0a14"/><rect x="273.0" y="213.5" width="1" height="2.0" fill="#5a0812"/><rect x="273.0" y="200.5" width="1" height="15.0" fill="#5e0a14"/><rect x="274.0" y="213.5" width="1" height="2.0" fill="#5a0812"/><rect x="274.0" y="197.2" width="1" height="18.3" fill="#5e0a14"/><rect x="275.0" y="213.5" width="1" height="2.0" fill="#5a0812"/><rect x="275.0" y="204.3" width="1" height="11.2" fill="#7e2a3a"/><rect x="276.0" y="213.5" width="1" height="2.0" fill="#5a0812"/><rect x="276.0" y="207.2" width="1" height="8.3" fill="#5e0a14"/><rect x="277.0" y="213.5" width="1" height="2.0" fill="#5a0812"/><rect x="277.0" y="209.8" width="1" height="5.7" fill="#5e0a14"/><rect x="278.0" y="213.5" width="1" height="2.0" fill="#5a0812"/><rect x="278.0" y="206.2" width="1" height="9.3" fill="#7e2a3a"/><rect x="279.0" y="213.5" width="1" height="2.0" fill="#5a0812"/><rect x="279.0" y="206.4" width="1" height="9.1" fill="#7e2a3a"/><rect x="280.0" y="213.5" width="1" height="2.0" fill="#5a0812"/><rect x="280.0" y="208.4" width="1" height="7.1" fill="#5e0a14"/><rect x="281.0" y="213.5" width="1" height="2.0" fill="#5a0812"/><rect x="281.0" y="209.4" width="1" height="6.1" fill="#5e0a14"/><rect x="282.0" y="213.5" width="1" height="2.0" fill="#5a0812"/><rect x="282.0" y="206.9" width="1" height="8.6" fill="#5e0a14"/><rect x="283.0" y="213.5" width="1" height="2.0" fill="#5a0812"/><rect x="283.0" y="208.5" width="1" height="7.0" fill="#7e2a3a"/><rect x="284.0" y="213.5" width="1" height="2.0" fill="#5a0812"/><rect x="284.0" y="207.1" width="1" height="8.4" fill="#7e2a3a"/><rect x="285.0" y="213.5" width="1" height="2.0" fill="#5a0812"/><rect x="285.0" y="208.9" width="1" height="6.6" fill="#5e0a14"/><rect x="286.0" y="213.5" width="1" height="2.0" fill="#5a0812"/><rect x="286.0" y="207.8" width="1" height="7.7" fill="#5e0a14"/><rect x="287.0" y="213.5" width="1" height="2.0" fill="#5a0812"/><rect x="287.0" y="205.2" width="1" height="10.3" fill="#5e0a14"/><rect x="288.0" y="213.5" width="1" height="2.0" fill="#5a0812"/><rect x="288.0" y="208.4" width="1" height="7.1" fill="#5e0a14"/><rect x="289.0" y="213.5" width="1" height="2.0" fill="#5a0812"/><rect x="289.0" y="207.9" width="1" height="7.6" fill="#5e0a14"/><rect x="290.0" y="213.5" width="1" height="2.0" fill="#5a0812"/><rect x="290.0" y="206.5" width="1" height="9.0" fill="#5e0a14"/><rect x="291.0" y="213.5" width="1" height="2.0" fill="#5a0812"/><rect x="291.0" y="209.1" width="1" height="6.4" fill="#5e0a14"/><rect x="292.0" y="213.5" width="1" height="2.0" fill="#5a0812"/><rect x="292.0" y="209.0" width="1" height="6.5" fill="#7e2a3a"/><rect x="293.0" y="213.5" width="1" height="2.0" fill="#5a0812"/><rect x="293.0" y="205.6" width="1" height="9.9" fill="#5e0a14"/><rect x="294.0" y="213.5" width="1" height="2.0" fill="#5a0812"/><rect x="294.0" y="207.9" width="1" height="7.6" fill="#5e0a14"/><rect x="295.0" y="213.5" width="1" height="2.0" fill="#5a0812"/><rect x="295.0" y="207.7" width="1" height="7.8" fill="#5e0a14"/><rect x="296.0" y="213.5" width="1" height="2.0" fill="#5a0812"/><rect x="296.0" y="208.9" width="1" height="6.6" fill="#5e0a14"/><rect x="297.0" y="213.5" width="1" height="2.0" fill="#5a0812"/><rect x="297.0" y="208.8" width="1" height="6.7" fill="#5e0a14"/><rect x="298.0" y="213.5" width="1" height="2.0" fill="#5a0812"/><rect x="298.0" y="207.6" width="1" height="7.9" fill="#5e0a14"/><rect x="299.0" y="213.5" width="1" height="2.0" fill="#5a0812"/><rect x="299.0" y="209.7" width="1" height="5.8" fill="#7e2a3a"/><rect x="300.0" y="213.5" width="1" height="2.0" fill="#5a0812"/><rect x="300.0" y="206.6" width="1" height="8.9" fill="#7e2a3a"/><rect x="301.0" y="213.5" width="1" height="2.0" fill="#5a0812"/><rect x="302.0" y="213.5" width="1" height="2.0" fill="#5a0812"/><rect x="302.0" y="209.4" width="1" height="6.1" fill="#7e2a3a"/><rect x="303.0" y="213.5" width="1" height="2.0" fill="#5a0812"/><rect x="303.0" y="208.8" width="1" height="6.7" fill="#5e0a14"/><rect x="304.0" y="213.5" width="1" height="2.0" fill="#5a0812"/><rect x="304.0" y="205.6" width="1" height="9.9" fill="#5e0a14"/><rect x="305.0" y="213.5" width="1" height="2.0" fill="#5a0812"/><rect x="305.0" y="207.7" width="1" height="7.8" fill="#7e2a3a"/><rect x="306.0" y="213.5" width="1" height="2.0" fill="#5a0812"/><rect x="306.0" y="207.2" width="1" height="8.3" fill="#5e0a14"/><rect x="307.0" y="213.5" width="1" height="2.0" fill="#5a0812"/><rect x="307.0" y="208.9" width="1" height="6.6" fill="#7e2a3a"/><rect x="308.0" y="213.5" width="1" height="2.0" fill="#5a0812"/><rect x="309.0" y="213.5" width="1" height="2.0" fill="#5a0812"/><rect x="309.0" y="189.8" width="1" height="25.7" fill="#5e0a14"/><rect x="310.0" y="213.5" width="1" height="2.0" fill="#5a0812"/><rect x="310.0" y="169.5" width="1" height="46.0" fill="#7e2a3a"/><rect x="311.0" y="213.5" width="1" height="2.0" fill="#5a0812"/><rect x="311.0" y="167.7" width="1" height="47.8" fill="#7e2a3a"/><rect x="312.0" y="213.5" width="1" height="2.0" fill="#5a0812"/><rect x="312.0" y="177.5" width="1" height="38.0" fill="#5e0a14"/><rect x="313.0" y="213.5" width="1" height="2.0" fill="#5a0812"/><rect x="313.0" y="171.0" width="1" height="44.5" fill="#5e0a14"/><rect x="314.0" y="213.5" width="1" height="2.0" fill="#5a0812"/><rect x="314.0" y="168.9" width="1" height="46.6" fill="#7e2a3a"/><rect x="315.0" y="213.5" width="1" height="2.0" fill="#5a0812"/><rect x="315.0" y="163.0" width="1" height="52.5" fill="#7e2a3a"/><rect x="316.0" y="213.5" width="1" height="2.0" fill="#5a0812"/><rect x="316.0" y="174.7" width="1" height="40.8" fill="#5e0a14"/><rect x="317.0" y="213.5" width="1" height="2.0" fill="#5a0812"/><rect x="317.0" y="164.0" width="1" height="51.5" fill="#7e2a3a"/><rect x="318.0" y="213.5" width="1" height="2.0" fill="#5a0812"/><rect x="318.0" y="163.5" width="1" height="52.0" fill="#5e0a14"/><rect x="319.0" y="213.5" width="1" height="2.0" fill="#5a0812"/><rect x="319.0" y="179.4" width="1" height="36.1" fill="#5e0a14"/><rect x="320.0" y="213.5" width="1" height="2.0" fill="#5a0812"/><rect x="320.0" y="186.3" width="1" height="29.2" fill="#5e0a14"/><rect x="321.0" y="213.5" width="1" height="2.0" fill="#5a0812"/><rect x="321.0" y="170.9" width="1" height="44.6" fill="#5e0a14"/><rect x="322.0" y="213.5" width="1" height="2.0" fill="#5a0812"/><rect x="323.0" y="213.5" width="1" height="2.0" fill="#5a0812"/><rect x="323.0" y="173.1" width="1" height="42.4" fill="#5e0a14"/><rect x="324.0" y="213.5" width="1" height="2.0" fill="#5a0812"/><rect x="324.0" y="175.8" width="1" height="39.7" fill="#7e2a3a"/><rect x="325.0" y="213.5" width="1" height="2.0" fill="#5a0812"/><rect x="325.0" y="183.0" width="1" height="32.5" fill="#5e0a14"/><rect x="326.0" y="213.5" width="1" height="2.0" fill="#5a0812"/><rect x="326.0" y="182.9" width="1" height="32.6" fill="#5e0a14"/><rect x="327.0" y="213.5" width="1" height="2.0" fill="#5a0812"/><rect x="327.0" y="183.7" width="1" height="31.8" fill="#5e0a14"/><rect x="328.0" y="213.5" width="1" height="2.0" fill="#5a0812"/><rect x="328.0" y="189.5" width="1" height="26.0" fill="#5e0a14"/><rect x="329.0" y="213.5" width="1" height="2.0" fill="#5a0812"/><rect x="329.0" y="192.2" width="1" height="23.3" fill="#7e2a3a"/><rect x="330.0" y="213.5" width="1" height="2.0" fill="#5a0812"/><rect x="330.0" y="202.8" width="1" height="12.7" fill="#5e0a14"/><rect x="331.0" y="213.5" width="1" height="2.0" fill="#5a0812"/><rect x="331.0" y="203.7" width="1" height="11.8" fill="#5e0a14"/><rect x="332.0" y="213.5" width="1" height="2.0" fill="#5a0812"/><rect x="332.0" y="209.5" width="1" height="6.0" fill="#5e0a14"/><rect x="333.0" y="213.5" width="1" height="2.0" fill="#5a0812"/><rect x="333.0" y="208.3" width="1" height="7.2" fill="#5e0a14"/><rect x="334.0" y="213.5" width="1" height="2.0" fill="#5a0812"/><rect x="334.0" y="207.4" width="1" height="8.1" fill="#7e2a3a"/><rect x="335.0" y="213.5" width="1" height="2.0" fill="#5a0812"/><rect x="335.0" y="208.2" width="1" height="7.3" fill="#7e2a3a"/><rect x="336.0" y="213.5" width="1" height="2.0" fill="#5a0812"/><rect x="336.0" y="206.4" width="1" height="9.1" fill="#7e2a3a"/><rect x="337.0" y="213.5" width="1" height="2.0" fill="#5a0812"/><rect x="337.0" y="209.1" width="1" height="6.4" fill="#7e2a3a"/><rect x="338.0" y="213.5" width="1" height="2.0" fill="#5a0812"/><rect x="338.0" y="208.7" width="1" height="6.8" fill="#5e0a14"/><rect x="339.0" y="213.5" width="1" height="2.0" fill="#5a0812"/><rect x="339.0" y="207.1" width="1" height="8.4" fill="#7e2a3a"/><rect x="340.0" y="213.5" width="1" height="2.0" fill="#5a0812"/><rect x="340.0" y="209.8" width="1" height="5.7" fill="#7e2a3a"/><rect x="341.0" y="213.5" width="1" height="2.0" fill="#5a0812"/><rect x="341.0" y="208.2" width="1" height="7.3" fill="#5e0a14"/><rect x="342.0" y="213.5" width="1" height="2.0" fill="#5a0812"/><rect x="342.0" y="209.4" width="1" height="6.1" fill="#5e0a14"/><rect x="343.0" y="213.5" width="1" height="2.0" fill="#5a0812"/><rect x="343.0" y="210.8" width="1" height="4.7" fill="#5e0a14"/><rect x="344.0" y="213.5" width="1" height="2.0" fill="#5a0812"/><rect x="344.0" y="208.0" width="1" height="7.5" fill="#5e0a14"/><rect x="345.0" y="213.5" width="1" height="2.0" fill="#5a0812"/><rect x="346.0" y="213.5" width="1" height="2.0" fill="#5a0812"/><rect x="346.0" y="209.5" width="1" height="6.0" fill="#7e2a3a"/><rect x="347.0" y="213.5" width="1" height="2.0" fill="#5a0812"/><rect x="347.0" y="210.9" width="1" height="4.6" fill="#5e0a14"/><rect x="348.0" y="213.5" width="1" height="2.0" fill="#5a0812"/><rect x="348.0" y="210.1" width="1" height="5.4" fill="#7e2a3a"/><rect x="349.0" y="213.5" width="1" height="2.0" fill="#5a0812"/><rect x="349.0" y="209.5" width="1" height="6.0" fill="#5e0a14"/><rect x="350.0" y="213.5" width="1" height="2.0" fill="#5a0812"/><rect x="350.0" y="209.3" width="1" height="6.2" fill="#7e2a3a"/><rect x="351.0" y="213.5" width="1" height="2.0" fill="#5a0812"/><rect x="351.0" y="207.7" width="1" height="7.8" fill="#5e0a14"/><rect x="352.0" y="213.5" width="1" height="2.0" fill="#5a0812"/><rect x="352.0" y="208.0" width="1" height="7.5" fill="#5e0a14"/><rect x="353.0" y="213.5" width="1" height="2.0" fill="#5a0812"/><rect x="353.0" y="209.3" width="1" height="6.2" fill="#7e2a3a"/><rect x="354.0" y="213.5" width="1" height="2.0" fill="#5a0812"/><rect x="354.0" y="208.2" width="1" height="7.3" fill="#5e0a14"/><rect x="355.0" y="213.5" width="1" height="2.0" fill="#5a0812"/><rect x="356.0" y="213.5" width="1" height="2.0" fill="#5a0812"/><rect x="356.0" y="207.9" width="1" height="7.6" fill="#5e0a14"/><rect x="357.0" y="213.5" width="1" height="2.0" fill="#5a0812"/><rect x="358.0" y="213.5" width="1" height="2.0" fill="#5a0812"/><rect x="358.0" y="207.9" width="1" height="7.6" fill="#7e2a3a"/><rect x="359.0" y="213.5" width="1" height="2.0" fill="#5a0812"/><rect x="359.0" y="208.6" width="1" height="6.9" fill="#5e0a14"/><rect x="360.0" y="213.5" width="1" height="2.0" fill="#5a0812"/><rect x="360.0" y="209.9" width="1" height="5.6" fill="#5e0a14"/><rect x="361.0" y="213.5" width="1" height="2.0" fill="#5a0812"/><rect x="361.0" y="210.3" width="1" height="5.2" fill="#7e2a3a"/><rect x="362.0" y="213.5" width="1" height="2.0" fill="#5a0812"/><rect x="362.0" y="210.9" width="1" height="4.6" fill="#5e0a14"/><rect x="363.0" y="213.5" width="1" height="2.0" fill="#5a0812"/><rect x="363.0" y="209.1" width="1" height="6.4" fill="#5e0a14"/><rect x="364.0" y="213.5" width="1" height="2.0" fill="#5a0812"/><rect x="364.0" y="207.8" width="1" height="7.7" fill="#7e2a3a"/><rect x="365.0" y="213.5" width="1" height="2.0" fill="#5a0812"/><rect x="365.0" y="211.2" width="1" height="4.3" fill="#7e2a3a"/><rect x="366.0" y="213.5" width="1" height="2.0" fill="#5a0812"/><rect x="366.0" y="208.2" width="1" height="7.3" fill="#5e0a14"/><rect x="367.0" y="213.5" width="1" height="2.0" fill="#5a0812"/><rect x="367.0" y="210.9" width="1" height="4.6" fill="#5e0a14"/><rect x="368.0" y="213.5" width="1" height="2.0" fill="#5a0812"/><rect x="368.0" y="210.0" width="1" height="5.5" fill="#5e0a14"/><rect x="369.0" y="213.5" width="1" height="2.0" fill="#5a0812"/><rect x="369.0" y="209.2" width="1" height="6.3" fill="#5e0a14"/><rect x="370.0" y="213.5" width="1" height="2.0" fill="#5a0812"/><rect x="370.0" y="210.1" width="1" height="5.4" fill="#7e2a3a"/><rect x="371.0" y="213.5" width="1" height="2.0" fill="#5a0812"/><rect x="371.0" y="208.9" width="1" height="6.6" fill="#5e0a14"/><rect x="372.0" y="213.5" width="1" height="2.0" fill="#5a0812"/><rect x="372.0" y="211.8" width="1" height="3.7" fill="#5e0a14"/><rect x="373.0" y="213.5" width="1" height="2.0" fill="#5a0812"/><rect x="373.0" y="209.4" width="1" height="6.1" fill="#7e2a3a"/><rect x="374.0" y="213.5" width="1" height="2.0" fill="#5a0812"/><rect x="374.0" y="209.3" width="1" height="6.2" fill="#5e0a14"/><rect x="375.0" y="213.5" width="1" height="2.0" fill="#5a0812"/><rect x="375.0" y="211.6" width="1" height="3.9" fill="#5e0a14"/><rect x="376.0" y="213.5" width="1" height="2.0" fill="#5a0812"/><rect x="377.0" y="213.5" width="1" height="2.0" fill="#5a0812"/><rect x="377.0" y="211.3" width="1" height="4.2" fill="#7e2a3a"/><rect x="378.0" y="213.5" width="1" height="2.0" fill="#5a0812"/><rect x="378.0" y="210.9" width="1" height="4.6" fill="#5e0a14"/><rect x="379.0" y="213.5" width="1" height="2.0" fill="#5a0812"/><rect x="379.0" y="210.9" width="1" height="4.6" fill="#5e0a14"/><rect x="380.0" y="213.5" width="1" height="2.0" fill="#5a0812"/><rect x="380.0" y="211.0" width="1" height="4.5" fill="#5e0a14"/><rect x="381.0" y="213.5" width="1" height="2.0" fill="#5a0812"/><rect x="381.0" y="211.9" width="1" height="3.6" fill="#5e0a14"/><rect x="382.0" y="213.5" width="1" height="2.0" fill="#5a0812"/><rect x="382.0" y="211.9" width="1" height="3.6" fill="#7e2a3a"/><rect x="383.0" y="213.5" width="1" height="2.0" fill="#5a0812"/><rect x="383.0" y="211.4" width="1" height="4.1" fill="#5e0a14"/><rect x="384.0" y="213.5" width="1" height="2.0" fill="#5a0812"/><rect x="385.0" y="213.5" width="1" height="2.0" fill="#5a0812"/><rect x="385.0" y="210.1" width="1" height="5.4" fill="#7e2a3a"/><rect x="386.0" y="213.5" width="1" height="2.0" fill="#5a0812"/><rect x="387.0" y="213.5" width="1" height="2.0" fill="#5a0812"/><rect x="387.0" y="209.8" width="1" height="5.7" fill="#7e2a3a"/><rect x="388.0" y="213.5" width="1" height="2.0" fill="#5a0812"/><rect x="389.0" y="213.5" width="1" height="2.0" fill="#5a0812"/><rect x="389.0" y="210.3" width="1" height="5.2" fill="#7e2a3a"/><rect x="390.0" y="213.5" width="1" height="2.0" fill="#5a0812"/><rect x="390.0" y="210.2" width="1" height="5.3" fill="#7e2a3a"/><rect x="391.0" y="213.5" width="1" height="2.0" fill="#5a0812"/><rect x="391.0" y="209.9" width="1" height="5.6" fill="#5e0a14"/><rect x="392.0" y="213.5" width="1" height="2.0" fill="#5a0812"/><rect x="392.0" y="208.5" width="1" height="7.0" fill="#5e0a14"/><rect x="393.0" y="213.5" width="1" height="2.0" fill="#5a0812"/><rect x="393.0" y="209.8" width="1" height="5.7" fill="#5e0a14"/><rect x="394.0" y="213.5" width="1" height="2.0" fill="#5a0812"/><rect x="394.0" y="210.7" width="1" height="4.8" fill="#7e2a3a"/><rect x="395.0" y="213.5" width="1" height="2.0" fill="#5a0812"/><rect x="395.0" y="208.7" width="1" height="6.8" fill="#5e0a14"/><rect x="396.0" y="213.5" width="1" height="2.0" fill="#5a0812"/><rect x="396.0" y="207.9" width="1" height="7.6" fill="#5e0a14"/><rect x="397.0" y="213.5" width="1" height="2.0" fill="#5a0812"/><rect x="397.0" y="206.8" width="1" height="8.7" fill="#7e2a3a"/><rect x="398.0" y="213.5" width="1" height="2.0" fill="#5a0812"/><rect x="398.0" y="200.9" width="1" height="14.6" fill="#5e0a14"/><rect x="399.0" y="213.5" width="1" height="2.0" fill="#5a0812"/><rect x="399.0" y="203.4" width="1" height="12.1" fill="#7e2a3a"/><rect x="400.0" y="213.5" width="1" height="2.0" fill="#5a0812"/><rect x="400.0" y="197.1" width="1" height="18.4" fill="#5e0a14"/><rect x="401.0" y="213.5" width="1" height="2.0" fill="#5a0812"/><rect x="402.0" y="213.5" width="1" height="2.0" fill="#5a0812"/><rect x="402.0" y="200.2" width="1" height="15.3" fill="#7e2a3a"/><rect x="403.0" y="213.5" width="1" height="2.0" fill="#5a0812"/><rect x="403.0" y="190.4" width="1" height="25.1" fill="#7e2a3a"/><rect x="404.0" y="213.5" width="1" height="2.0" fill="#5a0812"/><rect x="404.0" y="196.8" width="1" height="18.7" fill="#5e0a14"/><rect x="405.0" y="213.5" width="1" height="2.0" fill="#5a0812"/><rect x="405.0" y="188.8" width="1" height="26.7" fill="#7e2a3a"/><rect x="406.0" y="213.5" width="1" height="2.0" fill="#5a0812"/><rect x="406.0" y="186.9" width="1" height="28.6" fill="#5e0a14"/><rect x="407.0" y="213.5" width="1" height="2.0" fill="#5a0812"/><rect x="407.0" y="187.2" width="1" height="28.3" fill="#5e0a14"/><rect x="408.0" y="213.5" width="1" height="2.0" fill="#5a0812"/><rect x="408.0" y="197.8" width="1" height="17.7" fill="#5e0a14"/><rect x="409.0" y="213.5" width="1" height="2.0" fill="#5a0812"/><rect x="409.0" y="192.2" width="1" height="23.3" fill="#7e2a3a"/><rect x="410.0" y="213.5" width="1" height="2.0" fill="#5a0812"/><rect x="410.0" y="196.6" width="1" height="18.9" fill="#5e0a14"/><rect x="411.0" y="213.5" width="1" height="2.0" fill="#5a0812"/><rect x="411.0" y="200.6" width="1" height="14.9" fill="#5e0a14"/><rect x="412.0" y="213.5" width="1" height="2.0" fill="#5a0812"/><rect x="412.0" y="201.3" width="1" height="14.2" fill="#7e2a3a"/><rect x="413.0" y="213.5" width="1" height="2.0" fill="#5a0812"/><rect x="414.0" y="213.5" width="1" height="2.0" fill="#5a0812"/><rect x="414.0" y="208.4" width="1" height="7.1" fill="#7e2a3a"/><rect x="415.0" y="213.5" width="1" height="2.0" fill="#5a0812"/><rect x="415.0" y="211.2" width="1" height="4.3" fill="#7e2a3a"/><rect x="416.0" y="213.5" width="1" height="2.0" fill="#5a0812"/><rect x="416.0" y="209.2" width="1" height="6.3" fill="#5e0a14"/><rect x="417.0" y="213.5" width="1" height="2.0" fill="#5a0812"/><rect x="417.0" y="209.8" width="1" height="5.7" fill="#5e0a14"/><rect x="418.0" y="213.5" width="1" height="2.0" fill="#5a0812"/><rect x="418.0" y="209.8" width="1" height="5.7" fill="#5e0a14"/><rect x="419.0" y="213.5" width="1" height="2.0" fill="#5a0812"/><rect x="419.0" y="211.9" width="1" height="3.6" fill="#5e0a14"/><rect x="420.0" y="213.5" width="1" height="2.0" fill="#5a0812"/><rect x="420.0" y="210.3" width="1" height="5.2" fill="#5e0a14"/><rect x="421.0" y="213.5" width="1" height="2.0" fill="#5a0812"/><rect x="421.0" y="209.1" width="1" height="6.4" fill="#5e0a14"/><rect x="422.0" y="213.5" width="1" height="2.0" fill="#5a0812"/><rect x="422.0" y="211.4" width="1" height="4.1" fill="#5e0a14"/><rect x="423.0" y="213.5" width="1" height="2.0" fill="#5a0812"/><rect x="423.0" y="210.9" width="1" height="4.6" fill="#5e0a14"/><rect x="424.0" y="213.5" width="1" height="2.0" fill="#5a0812"/><rect x="424.0" y="210.9" width="1" height="4.6" fill="#5e0a14"/><rect x="425.0" y="213.5" width="1" height="2.0" fill="#5a0812"/><rect x="425.0" y="209.5" width="1" height="6.0" fill="#7e2a3a"/><rect x="426.0" y="213.5" width="1" height="2.0" fill="#5a0812"/><rect x="426.0" y="210.1" width="1" height="5.4" fill="#7e2a3a"/><rect x="427.0" y="213.5" width="1" height="2.0" fill="#5a0812"/><rect x="427.0" y="210.8" width="1" height="4.7" fill="#5e0a14"/><rect x="428.0" y="213.5" width="1" height="2.0" fill="#5a0812"/><rect x="428.0" y="211.8" width="1" height="3.7" fill="#5e0a14"/><rect x="429.0" y="213.5" width="1" height="2.0" fill="#5a0812"/><rect x="429.0" y="210.1" width="1" height="5.4" fill="#7e2a3a"/><rect x="430.0" y="213.5" width="1" height="2.0" fill="#5a0812"/><rect x="430.0" y="209.5" width="1" height="6.0" fill="#7e2a3a"/><rect x="431.0" y="213.5" width="1" height="2.0" fill="#5a0812"/><rect x="431.0" y="209.8" width="1" height="5.7" fill="#7e2a3a"/><rect x="432.0" y="213.5" width="1" height="2.0" fill="#5a0812"/><rect x="432.0" y="211.8" width="1" height="3.7" fill="#5e0a14"/><rect x="433.0" y="213.5" width="1" height="2.0" fill="#5a0812"/><rect x="433.0" y="211.3" width="1" height="4.2" fill="#5e0a14"/><rect x="434.0" y="213.5" width="1" height="2.0" fill="#5a0812"/><rect x="434.0" y="209.3" width="1" height="6.2" fill="#7e2a3a"/><rect x="435.0" y="213.5" width="1" height="2.0" fill="#5a0812"/><rect x="435.0" y="209.6" width="1" height="5.9" fill="#5e0a14"/><rect x="436.0" y="213.5" width="1" height="2.0" fill="#5a0812"/><rect x="436.0" y="209.1" width="1" height="6.4" fill="#5e0a14"/><rect x="437.0" y="213.5" width="1" height="2.0" fill="#5a0812"/><rect x="437.0" y="209.5" width="1" height="6.0" fill="#5e0a14"/><rect x="438.0" y="213.5" width="1" height="2.0" fill="#5a0812"/><rect x="438.0" y="209.9" width="1" height="5.6" fill="#5e0a14"/><rect x="439.0" y="213.5" width="1" height="2.0" fill="#5a0812"/><rect x="439.0" y="209.9" width="1" height="5.6" fill="#5e0a14"/><rect x="440.0" y="213.5" width="1" height="2.0" fill="#5a0812"/><rect x="440.0" y="211.0" width="1" height="4.5" fill="#5e0a14"/><rect x="441.0" y="213.5" width="1" height="2.0" fill="#5a0812"/><rect x="441.0" y="210.1" width="1" height="5.4" fill="#7e2a3a"/><rect x="442.0" y="213.5" width="1" height="2.0" fill="#5a0812"/><rect x="442.0" y="209.7" width="1" height="5.8" fill="#5e0a14"/><rect x="443.0" y="213.5" width="1" height="2.0" fill="#5a0812"/><rect x="443.0" y="209.2" width="1" height="6.3" fill="#5e0a14"/><rect x="444.0" y="213.5" width="1" height="2.0" fill="#5a0812"/><rect x="444.0" y="211.3" width="1" height="4.2" fill="#7e2a3a"/><rect x="445.0" y="213.5" width="1" height="2.0" fill="#5a0812"/><rect x="445.0" y="211.3" width="1" height="4.2" fill="#5e0a14"/><rect x="446.0" y="213.5" width="1" height="2.0" fill="#5a0812"/><rect x="446.0" y="210.0" width="1" height="5.5" fill="#7e2a3a"/><rect x="447.0" y="213.5" width="1" height="2.0" fill="#5a0812"/><rect x="447.0" y="210.5" width="1" height="5.0" fill="#5e0a14"/><rect x="448.0" y="213.5" width="1" height="2.0" fill="#5a0812"/><rect x="448.0" y="209.9" width="1" height="5.6" fill="#5e0a14"/><rect x="449.0" y="213.5" width="1" height="2.0" fill="#5a0812"/><rect x="449.0" y="211.0" width="1" height="4.5" fill="#7e2a3a"/><rect x="450.0" y="213.5" width="1" height="2.0" fill="#5a0812"/><rect x="450.0" y="211.1" width="1" height="4.4" fill="#5e0a14"/><rect x="451.0" y="213.5" width="1" height="2.0" fill="#5a0812"/><rect x="452.0" y="213.5" width="1" height="2.0" fill="#5a0812"/><rect x="452.0" y="212.2" width="1" height="3.3" fill="#5e0a14"/><rect x="453.0" y="213.5" width="1" height="2.0" fill="#5a0812"/><rect x="453.0" y="212.2" width="1" height="3.3" fill="#5e0a14"/><rect x="454.0" y="213.5" width="1" height="2.0" fill="#5a0812"/><rect x="454.0" y="211.1" width="1" height="4.4" fill="#7e2a3a"/><rect x="455.0" y="213.5" width="1" height="2.0" fill="#5a0812"/><rect x="455.0" y="211.3" width="1" height="4.2" fill="#5e0a14"/><rect x="456.0" y="213.5" width="1" height="2.0" fill="#5a0812"/><rect x="457.0" y="213.5" width="1" height="2.0" fill="#5a0812"/><rect x="457.0" y="211.9" width="1" height="3.6" fill="#5e0a14"/><rect x="458.0" y="213.5" width="1" height="2.0" fill="#5a0812"/><rect x="458.0" y="211.1" width="1" height="4.4" fill="#5e0a14"/><rect x="459.0" y="213.5" width="1" height="2.0" fill="#5a0812"/><rect x="459.0" y="210.5" width="1" height="5.0" fill="#5e0a14"/><rect x="460.0" y="213.5" width="1" height="2.0" fill="#5a0812"/><rect x="460.0" y="211.9" width="1" height="3.6" fill="#5e0a14"/><rect x="461.0" y="213.5" width="1" height="2.0" fill="#5a0812"/><rect x="461.0" y="211.6" width="1" height="3.9" fill="#7e2a3a"/><rect x="462.0" y="213.5" width="1" height="2.0" fill="#5a0812"/><rect x="462.0" y="212.0" width="1" height="3.5" fill="#5e0a14"/><rect x="463.0" y="213.5" width="1" height="2.0" fill="#5a0812"/><rect x="463.0" y="211.0" width="1" height="4.5" fill="#5e0a14"/><rect x="464.0" y="213.5" width="1" height="2.0" fill="#5a0812"/><rect x="464.0" y="212.1" width="1" height="3.4" fill="#7e2a3a"/><rect x="465.0" y="213.5" width="1" height="2.0" fill="#5a0812"/><rect x="466.0" y="213.5" width="1" height="2.0" fill="#5a0812"/><rect x="466.0" y="211.2" width="1" height="4.3" fill="#7e2a3a"/><rect x="467.0" y="213.5" width="1" height="2.0" fill="#5a0812"/><rect x="467.0" y="211.6" width="1" height="3.9" fill="#5e0a14"/><rect x="468.0" y="213.5" width="1" height="2.0" fill="#5a0812"/><rect x="468.0" y="211.4" width="1" height="4.1" fill="#7e2a3a"/><rect x="469.0" y="213.5" width="1" height="2.0" fill="#5a0812"/><rect x="469.0" y="209.3" width="1" height="6.2" fill="#7e2a3a"/><rect x="470.0" y="213.5" width="1" height="2.0" fill="#5a0812"/><rect x="470.0" y="211.5" width="1" height="4.0" fill="#5e0a14"/><rect x="471.0" y="213.5" width="1" height="2.0" fill="#5a0812"/><rect x="471.0" y="209.5" width="1" height="6.0" fill="#5e0a14"/><rect x="472.0" y="213.5" width="1" height="2.0" fill="#5a0812"/><rect x="472.0" y="211.4" width="1" height="4.1" fill="#7e2a3a"/><rect x="473.0" y="213.5" width="1" height="2.0" fill="#5a0812"/><rect x="473.0" y="210.0" width="1" height="5.5" fill="#7e2a3a"/><rect x="474.0" y="213.5" width="1" height="2.0" fill="#5a0812"/><rect x="474.0" y="209.2" width="1" height="6.3" fill="#7e2a3a"/><rect x="475.0" y="213.5" width="1" height="2.0" fill="#5a0812"/><rect x="475.0" y="211.2" width="1" height="4.3" fill="#7e2a3a"/><rect x="476.0" y="213.5" width="1" height="2.0" fill="#5a0812"/><rect x="476.0" y="208.8" width="1" height="6.7" fill="#7e2a3a"/><rect x="477.0" y="213.5" width="1" height="2.0" fill="#5a0812"/><rect x="477.0" y="209.0" width="1" height="6.5" fill="#5e0a14"/><rect x="478.0" y="213.5" width="1" height="2.0" fill="#5a0812"/><rect x="478.0" y="210.9" width="1" height="4.6" fill="#7e2a3a"/><rect x="479.0" y="213.5" width="1" height="2.0" fill="#5a0812"/><rect x="480.0" y="213.5" width="1" height="2.0" fill="#5a0812"/><rect x="480.0" y="209.6" width="1" height="5.9" fill="#5e0a14"/><rect x="481.0" y="213.5" width="1" height="2.0" fill="#5a0812"/><rect x="481.0" y="210.0" width="1" height="5.5" fill="#5e0a14"/><rect x="482.0" y="213.5" width="1" height="2.0" fill="#5a0812"/><rect x="482.0" y="209.4" width="1" height="6.1" fill="#5e0a14"/><rect x="483.0" y="213.5" width="1" height="2.0" fill="#5a0812"/><rect x="483.0" y="209.2" width="1" height="6.3" fill="#5e0a14"/><rect x="484.0" y="213.5" width="1" height="2.0" fill="#5a0812"/><rect x="484.0" y="211.0" width="1" height="4.5" fill="#7e2a3a"/><rect x="485.0" y="213.5" width="1" height="2.0" fill="#5a0812"/><rect x="485.0" y="210.1" width="1" height="5.4" fill="#7e2a3a"/><rect x="486.0" y="213.5" width="1" height="2.0" fill="#5a0812"/><rect x="486.0" y="210.1" width="1" height="5.4" fill="#5e0a14"/><rect x="487.0" y="213.5" width="1" height="2.0" fill="#5a0812"/><rect x="487.0" y="211.6" width="1" height="3.9" fill="#7e2a3a"/><rect x="488.0" y="213.5" width="1" height="2.0" fill="#5a0812"/><rect x="489.0" y="213.5" width="1" height="2.0" fill="#5a0812"/><rect x="489.0" y="210.2" width="1" height="5.3" fill="#5e0a14"/><rect x="490.0" y="213.5" width="1" height="2.0" fill="#5a0812"/><rect x="490.0" y="210.9" width="1" height="4.6" fill="#7e2a3a"/><rect x="491.0" y="213.5" width="1" height="2.0" fill="#5a0812"/><rect x="491.0" y="209.3" width="1" height="6.2" fill="#7e2a3a"/><rect x="492.0" y="213.5" width="1" height="2.0" fill="#5a0812"/><rect x="492.0" y="209.6" width="1" height="5.9" fill="#7e2a3a"/><rect x="493.0" y="213.5" width="1" height="2.0" fill="#5a0812"/><rect x="494.0" y="213.5" width="1" height="2.0" fill="#5a0812"/><rect x="494.0" y="211.9" width="1" height="3.6" fill="#5e0a14"/><rect x="495.0" y="213.5" width="1" height="2.0" fill="#5a0812"/><rect x="495.0" y="209.8" width="1" height="5.7" fill="#5e0a14"/><rect x="496.0" y="213.5" width="1" height="2.0" fill="#5a0812"/><rect x="496.0" y="211.4" width="1" height="4.1" fill="#7e2a3a"/><rect x="497.0" y="213.5" width="1" height="2.0" fill="#5a0812"/><rect x="497.0" y="210.3" width="1" height="5.2" fill="#5e0a14"/><rect x="498.0" y="213.5" width="1" height="2.0" fill="#5a0812"/><rect x="498.0" y="210.1" width="1" height="5.4" fill="#5e0a14"/><rect x="499.0" y="213.5" width="1" height="2.0" fill="#5a0812"/><rect x="499.0" y="211.2" width="1" height="4.3" fill="#5e0a14"/><rect x="500.0" y="213.5" width="1" height="2.0" fill="#5a0812"/><rect x="500.0" y="212.2" width="1" height="3.3" fill="#5e0a14"/><rect x="501.0" y="213.5" width="1" height="2.0" fill="#5a0812"/><rect x="501.0" y="212.1" width="1" height="3.4" fill="#5e0a14"/><rect x="502.0" y="213.5" width="1" height="2.0" fill="#5a0812"/><rect x="502.0" y="211.5" width="1" height="4.0" fill="#7e2a3a"/><rect x="503.0" y="213.5" width="1" height="2.0" fill="#5a0812"/><rect x="503.0" y="210.3" width="1" height="5.2" fill="#7e2a3a"/><rect x="504.0" y="213.5" width="1" height="2.0" fill="#5a0812"/><rect x="504.0" y="211.2" width="1" height="4.3" fill="#5e0a14"/><rect x="505.0" y="213.5" width="1" height="2.0" fill="#5a0812"/><rect x="505.0" y="211.3" width="1" height="4.2" fill="#5e0a14"/><rect x="506.0" y="213.5" width="1" height="2.0" fill="#5a0812"/><rect x="506.0" y="211.8" width="1" height="3.7" fill="#5e0a14"/><rect x="507.0" y="213.5" width="1" height="2.0" fill="#5a0812"/><rect x="507.0" y="211.7" width="1" height="3.8" fill="#7e2a3a"/><rect x="508.0" y="213.5" width="1" height="2.0" fill="#5a0812"/><rect x="508.0" y="211.9" width="1" height="3.6" fill="#5e0a14"/><rect x="509.0" y="213.5" width="1" height="2.0" fill="#5a0812"/><rect x="509.0" y="212.1" width="1" height="3.4" fill="#7e2a3a"/><rect x="510.0" y="213.5" width="1" height="2.0" fill="#5a0812"/><rect x="510.0" y="212.0" width="1" height="3.5" fill="#5e0a14"/><rect x="511.0" y="213.5" width="1" height="2.0" fill="#5a0812"/><rect x="511.0" y="211.8" width="1" height="3.7" fill="#5e0a14"/><rect x="512.0" y="213.5" width="1" height="2.0" fill="#5a0812"/><rect x="512.0" y="211.0" width="1" height="4.5" fill="#5e0a14"/><rect x="513.0" y="213.5" width="1" height="2.0" fill="#5a0812"/><rect x="513.0" y="211.6" width="1" height="3.9" fill="#5e0a14"/><rect x="514.0" y="213.5" width="1" height="2.0" fill="#5a0812"/><rect x="514.0" y="212.9" width="1" height="2.6" fill="#7e2a3a"/><rect x="515.0" y="213.5" width="1" height="2.0" fill="#5a0812"/><rect x="515.0" y="211.7" width="1" height="3.8" fill="#5e0a14"/><rect x="516.0" y="213.5" width="1" height="2.0" fill="#5a0812"/><rect x="516.0" y="211.1" width="1" height="4.4" fill="#5e0a14"/><rect x="66.2" y="187.0" width="1.7" height="28.5" fill="#641422"/><rect x="66.2" y="193.8" width="1.7" height="21.7" fill="#5e0a14"/><rect x="67.4" y="157.2" width="1.7" height="58.3" fill="#641422"/><rect x="67.4" y="161.6" width="1.7" height="53.9" fill="#5e0a14"/><rect x="68.5" y="204.5" width="1.7" height="11.0" fill="#641422"/><rect x="68.5" y="205.7" width="1.7" height="9.8" fill="#5e0a14"/><rect x="70.8" y="197.6" width="1.7" height="17.9" fill="#641422"/><rect x="70.8" y="201.5" width="1.7" height="14.0" fill="#5e0a14"/><rect x="73.2" y="174.5" width="1.7" height="41.0" fill="#641422"/><rect x="73.2" y="186.7" width="1.7" height="28.8" fill="#5e0a14"/><rect x="74.5" y="157.2" width="1.7" height="58.3" fill="#641422"/><rect x="74.5" y="179.1" width="1.7" height="36.4" fill="#5e0a14"/><rect x="76.2" y="195.3" width="1.7" height="20.2" fill="#641422"/><rect x="76.2" y="203.2" width="1.7" height="12.3" fill="#5e0a14"/><rect x="77.2" y="202.0" width="1.7" height="13.5" fill="#641422"/><rect x="77.2" y="203.1" width="1.7" height="12.4" fill="#5e0a14"/><rect x="79.2" y="161.8" width="1.7" height="53.7" fill="#641422"/><rect x="79.2" y="177.7" width="1.7" height="37.8" fill="#5e0a14"/><rect x="80.7" y="191.8" width="1.7" height="23.7" fill="#641422"/><rect x="80.7" y="198.8" width="1.7" height="16.7" fill="#5e0a14"/><rect x="81.9" y="164.0" width="1.7" height="51.5" fill="#641422"/><rect x="81.9" y="177.9" width="1.7" height="37.6" fill="#5e0a14"/><rect x="83.7" y="163.0" width="1.7" height="52.5" fill="#641422"/><rect x="83.7" y="176.0" width="1.7" height="39.5" fill="#5e0a14"/><rect x="84.7" y="210.0" width="1.7" height="5.5" fill="#782838"/><rect x="84.7" y="213.4" width="1.7" height="2.1" fill="#5e0a14"/><rect x="91.2" y="208.0" width="1.7" height="7.5" fill="#782838"/><rect x="91.2" y="210.8" width="1.7" height="4.7" fill="#5e0a14"/><rect x="102.7" y="200.0" width="1.7" height="15.5" fill="#782838"/><rect x="102.7" y="205.4" width="1.7" height="10.1" fill="#5e0a14"/><rect x="108.9" y="175.7" width="1.7" height="39.8" fill="#782838"/><rect x="108.9" y="184.8" width="1.7" height="30.7" fill="#5e0a14"/><rect x="112.2" y="180.3" width="1.7" height="35.2" fill="#782838"/><rect x="112.2" y="184.6" width="1.7" height="30.9" fill="#5e0a14"/><rect x="116.5" y="204.5" width="1.7" height="11.0" fill="#782838"/><rect x="116.5" y="207.7" width="1.7" height="7.8" fill="#5e0a14"/><rect x="119.2" y="203.4" width="1.7" height="12.1" fill="#782838"/><rect x="119.2" y="206.2" width="1.7" height="9.3" fill="#5e0a14"/><rect x="125.7" y="194.0" width="1.7" height="21.5" fill="#782838"/><rect x="125.7" y="199.0" width="1.7" height="16.5" fill="#5e0a14"/><rect x="128.0" y="190.7" width="1.7" height="24.8" fill="#782838"/><rect x="128.0" y="195.8" width="1.7" height="19.7" fill="#5e0a14"/><rect x="132.2" y="191.8" width="1.7" height="23.7" fill="#782838"/><rect x="132.2" y="198.9" width="1.7" height="16.6" fill="#5e0a14"/><rect x="133.8" y="201.0" width="1.7" height="14.5" fill="#641422"/><rect x="133.8" y="202.2" width="1.7" height="13.3" fill="#5e0a14"/><rect x="136.2" y="187.0" width="1.7" height="28.5" fill="#641422"/><rect x="136.2" y="189.6" width="1.7" height="25.9" fill="#5e0a14"/><rect x="137.7" y="176.0" width="1.7" height="39.5" fill="#782838"/><rect x="137.7" y="185.8" width="1.7" height="29.7" fill="#5e0a14"/><rect x="140.7" y="200.0" width="1.7" height="15.5" fill="#782838"/><rect x="140.7" y="209.8" width="1.7" height="5.7" fill="#5e0a14"/><rect x="143.0" y="195.3" width="1.7" height="20.2" fill="#782838"/><rect x="143.0" y="199.6" width="1.7" height="15.9" fill="#5e0a14"/><rect x="147.7" y="201.5" width="1.7" height="14.0" fill="#782838"/><rect x="147.7" y="204.6" width="1.7" height="10.9" fill="#5e0a14"/><rect x="150.7" y="190.7" width="1.7" height="24.8" fill="#782838"/><rect x="150.7" y="202.2" width="1.7" height="13.3" fill="#5e0a14"/><rect x="153.0" y="203.4" width="1.7" height="12.1" fill="#782838"/><rect x="153.0" y="207.5" width="1.7" height="8.0" fill="#5e0a14"/><rect x="157.2" y="164.0" width="1.7" height="51.5" fill="#782838"/><rect x="157.2" y="187.9" width="1.7" height="27.6" fill="#5e0a14"/><rect x="160.2" y="201.0" width="1.7" height="14.5" fill="#782838"/><rect x="160.2" y="202.5" width="1.7" height="13.0" fill="#5e0a14"/><rect x="163.2" y="189.5" width="1.7" height="26.0" fill="#782838"/><rect x="163.2" y="201.4" width="1.7" height="14.1" fill="#5e0a14"/><rect x="165.0" y="178.0" width="1.7" height="37.5" fill="#641422"/><rect x="165.0" y="186.8" width="1.7" height="28.7" fill="#5e0a14"/><rect x="166.6" y="163.0" width="1.7" height="52.5" fill="#641422"/><rect x="166.6" y="181.6" width="1.7" height="33.9" fill="#5e0a14"/><rect x="168.3" y="173.4" width="1.7" height="42.1" fill="#641422"/><rect x="168.3" y="185.9" width="1.7" height="29.6" fill="#5e0a14"/><rect x="170.7" y="178.0" width="1.7" height="37.5" fill="#641422"/><rect x="170.7" y="184.2" width="1.7" height="31.3" fill="#5e0a14"/><rect x="172.6" y="170.0" width="1.7" height="45.5" fill="#641422"/><rect x="172.6" y="175.8" width="1.7" height="39.7" fill="#5e0a14"/><rect x="172.0" y="171.0" width="1.7" height="44.5" fill="#641422"/><rect x="172.0" y="177.4" width="1.7" height="38.1" fill="#5e0a14"/><rect x="175.0" y="194.0" width="1.7" height="21.5" fill="#641422"/><rect x="175.0" y="200.0" width="1.7" height="15.5" fill="#5e0a14"/><rect x="177.2" y="198.8" width="1.7" height="16.7" fill="#641422"/><rect x="177.2" y="203.1" width="1.7" height="12.4" fill="#5e0a14"/><rect x="179.2" y="173.8" width="1.7" height="41.7" fill="#782838"/><rect x="179.2" y="193.5" width="1.7" height="22.0" fill="#5e0a14"/><rect x="182.2" y="175.7" width="1.7" height="39.8" fill="#641422"/><rect x="182.2" y="182.9" width="1.7" height="32.6" fill="#5e0a14"/><rect x="183.2" y="157.0" width="1.7" height="58.5" fill="#641422"/><rect x="183.2" y="174.9" width="1.7" height="40.6" fill="#5e0a14"/><rect x="184.7" y="157.0" width="1.7" height="58.5" fill="#641422"/><rect x="184.7" y="163.1" width="1.7" height="52.4" fill="#5e0a14"/><rect x="186.2" y="157.0" width="1.7" height="58.5" fill="#641422"/><rect x="186.2" y="180.2" width="1.7" height="35.3" fill="#5e0a14"/><rect x="187.7" y="157.0" width="1.7" height="58.5" fill="#641422"/><rect x="187.7" y="175.9" width="1.7" height="39.6" fill="#5e0a14"/><rect x="189.2" y="157.0" width="1.7" height="58.5" fill="#641422"/><rect x="189.2" y="161.7" width="1.7" height="53.8" fill="#5e0a14"/><rect x="190.7" y="157.0" width="1.7" height="58.5" fill="#641422"/><rect x="190.7" y="176.2" width="1.7" height="39.3" fill="#5e0a14"/><rect x="191.8" y="157.0" width="1.7" height="58.5" fill="#641422"/><rect x="191.8" y="175.6" width="1.7" height="39.9" fill="#5e0a14"/><rect x="195.2" y="157.0" width="1.7" height="58.5" fill="#782838"/><rect x="195.2" y="196.8" width="1.7" height="18.7" fill="#5e0a14"/><rect x="196.7" y="157.0" width="1.7" height="58.5" fill="#641422"/><rect x="196.7" y="164.7" width="1.7" height="50.8" fill="#5e0a14"/><rect x="198.2" y="158.0" width="1.7" height="57.5" fill="#641422"/><rect x="198.2" y="168.1" width="1.7" height="47.4" fill="#5e0a14"/><rect x="199.7" y="160.0" width="1.7" height="55.5" fill="#782838"/><rect x="199.7" y="171.2" width="1.7" height="44.3" fill="#5e0a14"/><rect x="204.7" y="171.0" width="1.7" height="44.5" fill="#782838"/><rect x="204.7" y="185.6" width="1.7" height="29.9" fill="#5e0a14"/><rect x="206.2" y="175.0" width="1.7" height="40.5" fill="#782838"/><rect x="206.2" y="199.9" width="1.7" height="15.6" fill="#5e0a14"/><rect x="209.6" y="204.5" width="1.7" height="11.0" fill="#782838"/><rect x="209.6" y="206.8" width="1.7" height="8.7" fill="#5e0a14"/><rect x="211.8" y="201.0" width="1.7" height="14.5" fill="#782838"/><rect x="211.8" y="202.6" width="1.7" height="12.9" fill="#5e0a14"/><rect x="218.2" y="197.6" width="1.7" height="17.9" fill="#782838"/><rect x="218.2" y="199.5" width="1.7" height="16.0" fill="#5e0a14"/><rect x="220.3" y="180.0" width="1.7" height="35.5" fill="#641422"/><rect x="220.3" y="183.6" width="1.7" height="31.9" fill="#5e0a14"/><rect x="222.7" y="197.6" width="1.7" height="17.9" fill="#782838"/><rect x="222.7" y="207.5" width="1.7" height="8.0" fill="#5e0a14"/><rect x="226.8" y="192.0" width="1.7" height="23.5" fill="#782838"/><rect x="226.8" y="204.5" width="1.7" height="11.0" fill="#5e0a14"/><rect x="228.0" y="165.3" width="1.7" height="50.2" fill="#641422"/><rect x="228.0" y="173.6" width="1.7" height="41.9" fill="#5e0a14"/><rect x="230.2" y="187.0" width="1.7" height="28.5" fill="#782838"/><rect x="230.2" y="200.7" width="1.7" height="14.8" fill="#5e0a14"/><rect x="233.2" y="177.0" width="1.7" height="38.5" fill="#782838"/><rect x="233.2" y="197.5" width="1.7" height="18.0" fill="#5e0a14"/><rect x="238.2" y="172.0" width="1.7" height="43.5" fill="#782838"/><rect x="238.2" y="193.9" width="1.7" height="21.6" fill="#5e0a14"/><rect x="240.7" y="185.0" width="1.7" height="30.5" fill="#782838"/><rect x="240.7" y="205.8" width="1.7" height="9.7" fill="#5e0a14"/><rect x="243.5" y="193.0" width="1.7" height="22.5" fill="#782838"/><rect x="243.5" y="200.9" width="1.7" height="14.6" fill="#5e0a14"/><rect x="247.7" y="186.0" width="1.7" height="29.5" fill="#782838"/><rect x="247.7" y="195.2" width="1.7" height="20.3" fill="#5e0a14"/><rect x="251.2" y="171.0" width="1.7" height="44.5" fill="#782838"/><rect x="251.2" y="190.4" width="1.7" height="25.1" fill="#5e0a14"/><rect x="253.3" y="180.0" width="1.7" height="35.5" fill="#782838"/><rect x="253.3" y="184.2" width="1.7" height="31.3" fill="#5e0a14"/><rect x="256.8" y="162.0" width="1.7" height="53.5" fill="#782838"/><rect x="256.8" y="174.6" width="1.7" height="40.9" fill="#5e0a14"/><rect x="258.6" y="158.4" width="1.7" height="57.1" fill="#641422"/><rect x="258.6" y="169.5" width="1.7" height="46.0" fill="#5e0a14"/><rect x="260.4" y="157.2" width="1.7" height="58.3" fill="#641422"/><rect x="260.4" y="176.6" width="1.7" height="38.9" fill="#5e0a14"/><rect x="262.1" y="157.2" width="1.7" height="58.3" fill="#641422"/><rect x="262.1" y="166.9" width="1.7" height="48.6" fill="#5e0a14"/><rect x="263.8" y="157.2" width="1.7" height="58.3" fill="#641422"/><rect x="263.8" y="177.3" width="1.7" height="38.2" fill="#5e0a14"/><rect x="265.3" y="157.2" width="1.7" height="58.3" fill="#782838"/><rect x="265.3" y="185.2" width="1.7" height="30.3" fill="#5e0a14"/><rect x="270.3" y="157.2" width="1.7" height="58.3" fill="#782838"/><rect x="270.3" y="190.7" width="1.7" height="24.8" fill="#5e0a14"/><rect x="271.8" y="157.2" width="1.7" height="58.3" fill="#641422"/><rect x="271.8" y="179.2" width="1.7" height="36.3" fill="#5e0a14"/><rect x="273.3" y="157.2" width="1.7" height="58.3" fill="#641422"/><rect x="273.3" y="172.1" width="1.7" height="43.4" fill="#5e0a14"/><rect x="274.8" y="193.0" width="1.7" height="22.5" fill="#641422"/><rect x="274.8" y="196.7" width="1.7" height="18.8" fill="#5e0a14"/><rect x="277.1" y="196.5" width="1.7" height="19.0" fill="#782838"/><rect x="277.1" y="199.7" width="1.7" height="15.8" fill="#5e0a14"/><rect x="279.9" y="198.8" width="1.7" height="16.7" fill="#782838"/><rect x="279.9" y="206.6" width="1.7" height="8.9" fill="#5e0a14"/><rect x="282.9" y="187.0" width="1.7" height="28.5" fill="#782838"/><rect x="282.9" y="201.6" width="1.7" height="13.9" fill="#5e0a14"/><rect x="285.1" y="185.0" width="1.7" height="30.5" fill="#641422"/><rect x="285.1" y="189.0" width="1.7" height="26.5" fill="#5e0a14"/><rect x="286.8" y="181.5" width="1.7" height="34.0" fill="#641422"/><rect x="286.8" y="190.4" width="1.7" height="25.1" fill="#5e0a14"/><rect x="289.1" y="157.0" width="1.7" height="58.5" fill="#641422"/><rect x="289.1" y="164.4" width="1.7" height="51.1" fill="#5e0a14"/><rect x="291.1" y="182.6" width="1.7" height="32.9" fill="#782838"/><rect x="291.1" y="195.3" width="1.7" height="20.2" fill="#5e0a14"/><rect x="293.8" y="195.3" width="1.7" height="20.2" fill="#782838"/><rect x="293.8" y="198.8" width="1.7" height="16.7" fill="#5e0a14"/><rect x="296.8" y="163.0" width="1.7" height="52.5" fill="#782838"/><rect x="296.8" y="185.7" width="1.7" height="29.8" fill="#5e0a14"/><rect x="299.8" y="173.4" width="1.7" height="42.1" fill="#782838"/><rect x="299.8" y="194.7" width="1.7" height="20.8" fill="#5e0a14"/><rect x="302.6" y="189.5" width="1.7" height="26.0" fill="#782838"/><rect x="302.6" y="193.7" width="1.7" height="21.8" fill="#5e0a14"/><rect x="304.9" y="198.8" width="1.7" height="16.7" fill="#782838"/><rect x="304.9" y="210.4" width="1.7" height="5.1" fill="#5e0a14"/><rect x="308.1" y="157.0" width="1.7" height="58.5" fill="#782838"/><rect x="308.1" y="182.7" width="1.7" height="32.8" fill="#5e0a14"/><rect x="309.1" y="157.0" width="1.7" height="58.5" fill="#641422"/><rect x="309.1" y="172.1" width="1.7" height="43.4" fill="#5e0a14"/><rect x="311.1" y="157.0" width="1.7" height="58.5" fill="#641422"/><rect x="311.1" y="164.5" width="1.7" height="51.0" fill="#5e0a14"/><rect x="313.1" y="157.0" width="1.7" height="58.5" fill="#641422"/><rect x="313.1" y="173.6" width="1.7" height="41.9" fill="#5e0a14"/><rect x="315.1" y="157.0" width="1.7" height="58.5" fill="#641422"/><rect x="315.1" y="176.8" width="1.7" height="38.7" fill="#5e0a14"/><rect x="317.1" y="157.0" width="1.7" height="58.5" fill="#641422"/><rect x="317.1" y="179.3" width="1.7" height="36.2" fill="#5e0a14"/><rect x="319.1" y="157.0" width="1.7" height="58.5" fill="#641422"/><rect x="319.1" y="169.3" width="1.7" height="46.2" fill="#5e0a14"/><rect x="321.1" y="157.0" width="1.7" height="58.5" fill="#641422"/><rect x="321.1" y="166.5" width="1.7" height="49.0" fill="#5e0a14"/><rect x="323.1" y="157.0" width="1.7" height="58.5" fill="#641422"/><rect x="323.1" y="167.3" width="1.7" height="48.2" fill="#5e0a14"/><rect x="325.1" y="157.0" width="1.7" height="58.5" fill="#641422"/><rect x="325.1" y="164.6" width="1.7" height="50.9" fill="#5e0a14"/><rect x="326.8" y="157.0" width="1.7" height="58.5" fill="#641422"/><rect x="326.8" y="167.2" width="1.7" height="48.3" fill="#5e0a14"/><rect x="329.1" y="172.2" width="1.7" height="43.3" fill="#782838"/><rect x="329.1" y="193.9" width="1.7" height="21.6" fill="#5e0a14"/><rect x="332.1" y="173.4" width="1.7" height="42.1" fill="#782838"/><rect x="332.1" y="199.8" width="1.7" height="15.7" fill="#5e0a14"/><rect x="335.3" y="201.0" width="1.7" height="14.5" fill="#782838"/><rect x="335.3" y="205.1" width="1.7" height="10.4" fill="#5e0a14"/><rect x="337.6" y="162.0" width="1.7" height="53.5" fill="#782838"/><rect x="337.6" y="171.1" width="1.7" height="44.4" fill="#5e0a14"/><rect x="341.3" y="197.6" width="1.7" height="17.9" fill="#782838"/><rect x="341.3" y="208.7" width="1.7" height="6.8" fill="#5e0a14"/><rect x="343.6" y="205.7" width="1.7" height="9.8" fill="#782838"/><rect x="343.6" y="212.0" width="1.7" height="3.5" fill="#5e0a14"/><rect x="346.4" y="168.8" width="1.7" height="46.7" fill="#782838"/><rect x="346.4" y="186.5" width="1.7" height="29.0" fill="#5e0a14"/><rect x="349.1" y="200.0" width="1.7" height="15.5" fill="#782838"/><rect x="349.1" y="206.6" width="1.7" height="8.9" fill="#5e0a14"/><rect x="351.1" y="202.0" width="1.7" height="13.5" fill="#782838"/><rect x="351.1" y="210.8" width="1.7" height="4.7" fill="#5e0a14"/><rect x="353.8" y="173.4" width="1.7" height="42.1" fill="#782838"/><rect x="353.8" y="196.8" width="1.7" height="18.7" fill="#5e0a14"/><rect x="356.1" y="194.0" width="1.7" height="21.5" fill="#641422"/><rect x="356.1" y="201.5" width="1.7" height="14.0" fill="#5e0a14"/><rect x="357.9" y="193.0" width="1.7" height="22.5" fill="#641422"/><rect x="357.9" y="201.3" width="1.7" height="14.2" fill="#5e0a14"/><rect x="360.1" y="191.8" width="1.7" height="23.7" fill="#782838"/><rect x="360.1" y="199.0" width="1.7" height="16.5" fill="#5e0a14"/><rect x="363.8" y="197.6" width="1.7" height="17.9" fill="#782838"/><rect x="363.8" y="203.4" width="1.7" height="12.1" fill="#5e0a14"/><rect x="365.3" y="173.4" width="1.7" height="42.1" fill="#782838"/><rect x="365.3" y="183.8" width="1.7" height="31.7" fill="#5e0a14"/><rect x="368.3" y="189.5" width="1.7" height="26.0" fill="#782838"/><rect x="368.3" y="193.5" width="1.7" height="22.0" fill="#5e0a14"/><rect x="371.8" y="188.4" width="1.7" height="27.1" fill="#782838"/><rect x="371.8" y="192.0" width="1.7" height="23.5" fill="#5e0a14"/><rect x="374.6" y="209.0" width="1.7" height="6.5" fill="#782838"/><rect x="374.6" y="210.5" width="1.7" height="5.0" fill="#5e0a14"/><rect x="377.6" y="157.0" width="1.7" height="58.5" fill="#782838"/><rect x="377.6" y="177.5" width="1.7" height="38.0" fill="#5e0a14"/><rect x="381.1" y="208.0" width="1.7" height="7.5" fill="#782838"/><rect x="381.1" y="210.1" width="1.7" height="5.4" fill="#5e0a14"/><rect x="383.3" y="203.4" width="1.7" height="12.1" fill="#641422"/><rect x="383.3" y="205.2" width="1.7" height="10.3" fill="#5e0a14"/><rect x="385.6" y="198.8" width="1.7" height="16.7" fill="#782838"/><rect x="385.6" y="204.3" width="1.7" height="11.2" fill="#5e0a14"/><rect x="388.4" y="194.0" width="1.7" height="21.5" fill="#782838"/><rect x="388.4" y="201.4" width="1.7" height="14.1" fill="#5e0a14"/><rect x="397.1" y="180.3" width="1.7" height="35.2" fill="#782838"/><rect x="397.1" y="202.3" width="1.7" height="13.2" fill="#5e0a14"/><rect x="400.6" y="171.0" width="1.7" height="44.5" fill="#641422"/><rect x="400.6" y="185.7" width="1.7" height="29.8" fill="#5e0a14"/><rect x="402.9" y="161.8" width="1.7" height="53.7" fill="#641422"/><rect x="402.9" y="165.7" width="1.7" height="49.8" fill="#5e0a14"/><rect x="401.9" y="177.0" width="1.7" height="38.5" fill="#641422"/><rect x="401.9" y="182.7" width="1.7" height="32.8" fill="#5e0a14"/><rect x="403.1" y="171.0" width="1.7" height="44.5" fill="#641422"/><rect x="403.1" y="175.2" width="1.7" height="40.3" fill="#5e0a14"/><rect x="404.9" y="163.0" width="1.7" height="52.5" fill="#641422"/><rect x="404.9" y="181.8" width="1.7" height="33.7" fill="#5e0a14"/><rect x="406.5" y="173.4" width="1.7" height="42.1" fill="#641422"/><rect x="406.5" y="187.6" width="1.7" height="27.9" fill="#5e0a14"/><rect x="407.9" y="157.0" width="1.7" height="58.5" fill="#641422"/><rect x="407.9" y="176.0" width="1.7" height="39.5" fill="#5e0a14"/><rect x="409.5" y="208.0" width="1.7" height="7.5" fill="#641422"/><rect x="409.5" y="208.7" width="1.7" height="6.8" fill="#5e0a14"/><rect x="411.8" y="172.2" width="1.7" height="43.3" fill="#641422"/><rect x="411.8" y="180.0" width="1.7" height="35.5" fill="#5e0a14"/><rect x="414.1" y="181.5" width="1.7" height="34.0" fill="#782838"/><rect x="414.1" y="200.4" width="1.7" height="15.1" fill="#5e0a14"/><rect x="417.6" y="202.0" width="1.7" height="13.5" fill="#782838"/><rect x="417.6" y="207.0" width="1.7" height="8.5" fill="#5e0a14"/><rect x="420.3" y="200.0" width="1.7" height="15.5" fill="#782838"/><rect x="420.3" y="203.1" width="1.7" height="12.4" fill="#5e0a14"/><rect x="424.5" y="191.8" width="1.7" height="23.7" fill="#782838"/><rect x="424.5" y="205.9" width="1.7" height="9.6" fill="#5e0a14"/><rect x="429.6" y="159.5" width="1.7" height="56.0" fill="#782838"/><rect x="429.6" y="183.8" width="1.7" height="31.7" fill="#5e0a14"/><rect x="432.1" y="174.5" width="1.7" height="41.0" fill="#641422"/><rect x="432.1" y="189.7" width="1.7" height="25.8" fill="#5e0a14"/><rect x="433.8" y="190.7" width="1.7" height="24.8" fill="#782838"/><rect x="433.8" y="204.2" width="1.7" height="11.3" fill="#5e0a14"/><rect x="438.3" y="163.0" width="1.7" height="52.5" fill="#782838"/><rect x="438.3" y="196.3" width="1.7" height="19.2" fill="#5e0a14"/><rect x="440.6" y="191.8" width="1.7" height="23.7" fill="#782838"/><rect x="440.6" y="195.3" width="1.7" height="20.2" fill="#5e0a14"/><rect x="446.4" y="200.0" width="1.7" height="15.5" fill="#782838"/><rect x="446.4" y="204.0" width="1.7" height="11.5" fill="#5e0a14"/><rect x="448.8" y="195.0" width="1.7" height="20.5" fill="#641422"/><rect x="448.8" y="198.5" width="1.7" height="17.0" fill="#5e0a14"/><rect x="451.1" y="202.0" width="1.7" height="13.5" fill="#782838"/><rect x="451.1" y="203.7" width="1.7" height="11.8" fill="#5e0a14"/><rect x="453.8" y="157.0" width="1.7" height="58.5" fill="#782838"/><rect x="453.8" y="184.5" width="1.7" height="31.0" fill="#5e0a14"/><rect x="460.3" y="186.0" width="1.7" height="29.5" fill="#782838"/><rect x="460.3" y="201.0" width="1.7" height="14.5" fill="#5e0a14"/><rect x="463.3" y="205.7" width="1.7" height="9.8" fill="#782838"/><rect x="463.3" y="208.5" width="1.7" height="7.0" fill="#5e0a14"/><rect x="466.1" y="182.6" width="1.7" height="32.9" fill="#782838"/><rect x="466.1" y="186.7" width="1.7" height="28.8" fill="#5e0a14"/><rect x="470.6" y="157.0" width="1.7" height="58.5" fill="#782838"/><rect x="470.6" y="176.9" width="1.7" height="38.6" fill="#5e0a14"/><rect x="472.9" y="197.6" width="1.7" height="17.9" fill="#641422"/><rect x="472.9" y="204.0" width="1.7" height="11.5" fill="#5e0a14"/><rect x="475.1" y="205.7" width="1.7" height="9.8" fill="#782838"/><rect x="475.1" y="211.1" width="1.7" height="4.4" fill="#5e0a14"/><rect x="478.8" y="185.0" width="1.7" height="30.5" fill="#782838"/><rect x="478.8" y="202.6" width="1.7" height="12.9" fill="#5e0a14"/><rect x="484.9" y="180.3" width="1.7" height="35.2" fill="#782838"/><rect x="484.9" y="184.9" width="1.7" height="30.6" fill="#5e0a14"/><rect x="487.9" y="194.0" width="1.7" height="21.5" fill="#782838"/><rect x="487.9" y="198.8" width="1.7" height="16.7" fill="#5e0a14"/><rect x="490.1" y="197.6" width="1.7" height="17.9" fill="#641422"/><rect x="490.1" y="204.6" width="1.7" height="10.9" fill="#5e0a14"/><rect x="492.6" y="186.0" width="1.7" height="29.5" fill="#641422"/><rect x="492.6" y="194.3" width="1.7" height="21.2" fill="#5e0a14"/><rect x="494.1" y="194.0" width="1.7" height="21.5" fill="#782838"/><rect x="494.1" y="201.2" width="1.7" height="14.3" fill="#5e0a14"/><rect x="497.1" y="196.5" width="1.7" height="19.0" fill="#782838"/><rect x="497.1" y="199.7" width="1.7" height="15.8" fill="#5e0a14"/><rect x="499.9" y="185.0" width="1.7" height="30.5" fill="#782838"/><rect x="499.9" y="199.0" width="1.7" height="16.5" fill="#5e0a14"/><rect x="502.9" y="185.0" width="1.7" height="30.5" fill="#782838"/><rect x="502.9" y="203.4" width="1.7" height="12.1" fill="#5e0a14"/><rect x="505.8" y="161.8" width="1.7" height="53.7" fill="#782838"/><rect x="505.8" y="169.6" width="1.7" height="45.9" fill="#5e0a14"/><rect x="507.6" y="180.3" width="1.7" height="35.2" fill="#782838"/><rect x="507.6" y="192.9" width="1.7" height="22.6" fill="#5e0a14"/><rect x="513.4" y="185.0" width="1.7" height="30.5" fill="#782838"/><rect x="513.4" y="205.5" width="1.7" height="10.0" fill="#5e0a14"/><rect x="515.1" y="209.0" width="1.7" height="6.5" fill="#782838"/><rect x="515.1" y="212.9" width="1.7" height="2.6" fill="#5e0a14"/>
<text x="59.5" y="161.5" font-family="'Liberation Serif',serif" font-size="9" font-weight="normal" font-style="normal" text-anchor="end" fill="#222"  textLength="12" lengthAdjust="spacingAndGlyphs">100</text>
<text x="58.8" y="215.5" font-family="'Liberation Serif',serif" font-size="9" font-weight="normal" font-style="normal" text-anchor="end" fill="#222"  textLength="8.2" lengthAdjust="spacingAndGlyphs">20</text>
<text x="23.3" y="180.2" font-family="'Liberation Sans',sans-serif" font-size="7.1" font-weight="bold" font-style="normal" text-anchor="start" fill="#111"  textLength="25.9" lengthAdjust="spacingAndGlyphs" stroke="#111" stroke-width="0.18">Average</text>
<text x="27.6" y="189.3" font-family="'Liberation Sans',sans-serif" font-size="7.1" font-weight="bold" font-style="normal" text-anchor="start" fill="#111"  textLength="17" lengthAdjust="spacingAndGlyphs" stroke="#111" stroke-width="0.18">hypo-</text>
<text x="18" y="197.5" font-family="'Liberation Sans',sans-serif" font-size="7.1" font-weight="bold" font-style="normal" text-anchor="start" fill="#111"  textLength="36.4" lengthAdjust="spacingAndGlyphs" stroke="#111" stroke-width="0.18">methylation</text>
<text x="60.6" y="227.1" font-family="'Liberation Sans',sans-serif" font-size="7.2" font-weight="bold" font-style="normal" text-anchor="end" fill="#111"  textLength="44.5" lengthAdjust="spacingAndGlyphs" stroke="#111" stroke-width="0.18">Chromosome</text>
<text x="60.6" y="237.7" font-family="'Liberation Sans',sans-serif" font-size="7.2" font-weight="bold" font-style="normal" text-anchor="end" fill="#111"  textLength="44.5" lengthAdjust="spacingAndGlyphs" stroke="#111" stroke-width="0.18">Known genes</text>
<text x="60.6" y="249.3" font-family="'Liberation Sans',sans-serif" font-size="7.2" font-weight="bold" font-style="normal" text-anchor="end" fill="#111"  textLength="43.5" lengthAdjust="spacingAndGlyphs" stroke="#111" stroke-width="0.18">CpG Islands</text>
<text x="60.6" y="266.4" font-family="'Liberation Sans',sans-serif" font-size="7.2" font-weight="bold" font-style="normal" text-anchor="end" fill="#111"  textLength="44.5" lengthAdjust="spacingAndGlyphs" stroke="#111" stroke-width="0.18">Transcription</text>
<rect x="62.6" y="221.29999999999998" width="88.10000000000001" height="5.600000000000011" rx="3" fill="#f4f070" stroke="#1a1a10" stroke-width="1.3"/><text x="106.65" y="225.5" font-family="Liberation Sans" font-size="4.8" font-weight="bold" text-anchor="middle" fill="#222">22q11.1</text><rect x="151.9" y="221.29999999999998" width="188.5" height="5.600000000000011" rx="1.2" fill="#76ac1a" stroke="#1a1a10" stroke-width="1.3"/><text x="246.15" y="225.5" font-family="Liberation Sans" font-size="4.8" font-weight="bold" text-anchor="middle" fill="#1e3a06">22q11.21</text><rect x="341.6" y="221.29999999999998" width="56.8" height="5.600000000000011" rx="3" fill="#f4f070" stroke="#1a1a10" stroke-width="1.3"/><text x="370.0" y="225.5" font-family="Liberation Sans" font-size="4.8" font-weight="bold" text-anchor="middle" fill="#222">22q11.22</text><rect x="399.6" y="221.29999999999998" width="111.3" height="5.600000000000011" rx="1.2" fill="#76ac1a" stroke="#1a1a10" stroke-width="1.3"/><text x="455.25" y="225.5" font-family="Liberation Sans" font-size="4.8" font-weight="bold" text-anchor="middle" fill="#1e3a06">22q11.23</text><rect x="512.1" y="221.29999999999998" width="5.3" height="5.600000000000011" rx="3" fill="#f4f070" stroke="#1a1a10" stroke-width="1.3"/>
<rect x="108.5" y="232.5" width="0.7999999999999972" height="5.5" fill="#a6aae6"/><rect x="112" y="232.5" width="1" height="5.5" fill="#a6aae6"/><rect x="115" y="232.5" width="1" height="5.5" fill="#a6aae6"/><rect x="121" y="232.5" width="1" height="5.5" fill="#a6aae6"/><rect x="134.5" y="234.75" width="6.5" height="1" fill="#121a96"/><rect x="134.5" y="232.5" width="3.3" height="5.5" fill="#121a96"/><rect x="139.0" y="232.5" width="2.0" height="5.5" fill="#121a96"/><rect x="152.3" y="234.75" width="7.699999999999989" height="1" fill="#121a96"/><rect x="152.3" y="232.5" width="4.1" height="5.5" fill="#121a96"/><rect x="158.6" y="232.5" width="1.4" height="5.5" fill="#121a96"/><rect x="161" y="234.75" width="5" height="1" fill="#121a96"/><rect x="161.0" y="233.6" width="3.7" height="3.3" fill="#121a96"/><rect x="165.7" y="232.5" width="0.3" height="5.5" fill="#121a96"/><rect x="166" y="232.5" width="4" height="5.5" fill="#a6aae6"/><rect x="172" y="234.75" width="8" height="1" fill="#2632d2"/><rect x="172.0" y="232.5" width="4.1" height="5.5" fill="#2632d2"/><rect x="177.5" y="233.6" width="2.5" height="3.3" fill="#2632d2"/><rect x="180" y="232.5" width="2" height="5.5" fill="#121a96"/><rect x="195" y="234.75" width="8" height="1" fill="#121a96"/><rect x="195.0" y="232.5" width="6.2" height="5.5" fill="#121a96"/><rect x="204" y="234.75" width="8" height="1" fill="#121a96"/><rect x="204.0" y="232.5" width="3.1" height="5.5" fill="#121a96"/><rect x="208.0" y="232.5" width="4.0" height="5.5" fill="#121a96"/><rect x="213" y="234.75" width="8" height="1" fill="#121a96"/><rect x="213.0" y="232.5" width="5.0" height="5.5" fill="#121a96"/><rect x="219.3" y="232.5" width="1.7" height="5.5" fill="#121a96"/><rect x="222" y="232.5" width="4" height="5.5" fill="#121a96"/><rect x="232.5" y="234.75" width="5.5" height="1" fill="#2632d2"/><rect x="232.5" y="232.5" width="4.4" height="5.5" fill="#2632d2"/><rect x="237.8" y="232.5" width="0.2" height="5.5" fill="#2632d2"/><rect x="239" y="234.75" width="6" height="1" fill="#2632d2"/><rect x="239.0" y="232.5" width="2.5" height="5.5" fill="#2632d2"/><rect x="242.3" y="233.6" width="2.7" height="3.3" fill="#3a46d8"/><rect x="250" y="234.75" width="5" height="1" fill="#2632d2"/><rect x="250.0" y="232.5" width="5.0" height="5.5" fill="#2632d2"/><rect x="256" y="232.5" width="4" height="5.5" fill="#a6aae6"/><rect x="265" y="234.75" width="5" height="1" fill="#a6aae6"/><rect x="265.0" y="232.5" width="4.9" height="5.5" fill="#a6aae6"/><rect x="277.5" y="234.75" width="7.5" height="1" fill="#2632d2"/><rect x="277.5" y="232.5" width="6.8" height="5.5" fill="#2632d2"/><rect x="290" y="234.75" width="6" height="1" fill="#121a96"/><rect x="290.0" y="232.5" width="6.0" height="5.5" fill="#3a46d8"/><rect x="297" y="234.75" width="6" height="1" fill="#2632d2"/><rect x="297.0" y="233.6" width="6.0" height="3.3" fill="#2632d2"/><rect x="305" y="234.75" width="5" height="1" fill="#2632d2"/><rect x="305.0" y="232.5" width="2.8" height="5.5" fill="#3a46d8"/><rect x="309.0" y="232.5" width="1.0" height="5.5" fill="#2632d2"/><rect x="312" y="232.5" width="3" height="5.5" fill="#a6aae6"/><rect x="325" y="234.75" width="7" height="1" fill="#121a96"/><rect x="325.0" y="232.5" width="3.2" height="5.5" fill="#3a46d8"/><rect x="329.5" y="232.5" width="2.5" height="5.5" fill="#3a46d8"/><rect x="333" y="234.75" width="6" height="1" fill="#121a96"/><rect x="333.0" y="232.5" width="2.6" height="5.5" fill="#3a46d8"/><rect x="336.7" y="232.5" width="2.3" height="5.5" fill="#121a96"/><rect x="340" y="234.75" width="5" height="1" fill="#121a96"/><rect x="340.0" y="232.5" width="3.2" height="5.5" fill="#121a96"/><rect x="347" y="232.5" width="3" height="5.5" fill="#2632d2"/><rect x="357" y="234.75" width="10.5" height="1" fill="#2632d2"/><rect x="357.0" y="232.5" width="7.1" height="5.5" fill="#3a46d8"/><rect x="365.1" y="232.5" width="2.4" height="5.5" fill="#2632d2"/><rect x="372.5" y="234.75" width="10.0" height="1" fill="#2632d2"/><rect x="372.5" y="232.5" width="6.2" height="5.5" fill="#2632d2"/><rect x="379.7" y="233.6" width="2.7" height="3.3" fill="#2632d2"/><rect x="387" y="234.75" width="5" height="1" fill="#a6aae6"/><rect x="387.0" y="232.5" width="5.0" height="5.5" fill="#3a46d8"/><rect x="397.5" y="234.75" width="5.5" height="1" fill="#2632d2"/><rect x="397.5" y="232.5" width="5.0" height="5.5" fill="#3a46d8"/><rect x="404" y="234.75" width="6" height="1" fill="#2632d2"/><rect x="404.0" y="233.6" width="4.9" height="3.3" fill="#2632d2"/><rect x="412.5" y="234.75" width="10.5" height="1" fill="#a6aae6"/><rect x="412.5" y="232.5" width="5.3" height="5.5" fill="#a6aae6"/><rect x="418.7" y="232.5" width="2.9" height="5.5" fill="#a6aae6"/><rect x="424" y="234.75" width="11" height="1" fill="#2632d2"/><rect x="424.0" y="233.6" width="4.0" height="3.3" fill="#3a46d8"/><rect x="429.0" y="232.5" width="2.7" height="5.5" fill="#3a46d8"/><rect x="432.7" y="232.5" width="2.3" height="5.5" fill="#2632d2"/><rect x="435" y="234.75" width="11" height="1" fill="#121a96"/><rect x="435.0" y="233.6" width="6.1" height="3.3" fill="#121a96"/><rect x="442.3" y="232.5" width="3.7" height="5.5" fill="#3a46d8"/><rect x="447" y="234.75" width="9.5" height="1" fill="#121a96"/><rect x="447.0" y="232.5" width="4.9" height="5.5" fill="#121a96"/><rect x="452.8" y="232.5" width="3.7" height="5.5" fill="#3a46d8"/><rect x="456.5" y="234.75" width="7.5" height="1" fill="#2632d2"/><rect x="456.5" y="232.5" width="3.8" height="5.5" fill="#2632d2"/><rect x="461.1" y="232.5" width="2.9" height="5.5" fill="#2632d2"/><rect x="465" y="234.75" width="7" height="1" fill="#a6aae6"/><rect x="465.0" y="232.5" width="3.9" height="5.5" fill="#3a46d8"/><rect x="469.9" y="232.5" width="2.1" height="5.5" fill="#a6aae6"/><rect x="480" y="234.75" width="6" height="1" fill="#a6aae6"/><rect x="480.0" y="232.5" width="5.3" height="5.5" fill="#a6aae6"/><rect x="491" y="232.5" width="2" height="5.5" fill="#2632d2"/><rect x="496" y="232.5" width="4" height="5.5" fill="#121a96"/><rect x="508.5" y="234.75" width="8.5" height="1" fill="#2632d2"/><rect x="508.5" y="232.5" width="2.7" height="5.5" fill="#3a46d8"/><rect x="512.4" y="232.5" width="3.8" height="5.5" fill="#2632d2"/>
<rect x="71" y="243.8" width="3" height="5.199999999999989" fill="#1d5e1d"/><rect x="80" y="243.8" width="2" height="5.199999999999989" fill="#1d5e1d"/><rect x="83" y="243.8" width="1" height="5.199999999999989" fill="#1d5e1d"/><rect x="85" y="243.8" width="2" height="5.199999999999989" fill="#1d5e1d"/><rect x="102.5" y="243.8" width="2" height="5.199999999999989" fill="#a8d890"/><rect x="110.7" y="243.8" width="3" height="5.199999999999989" fill="#3c962c"/><rect x="114.7" y="243.8" width="2" height="5.199999999999989" fill="#a8d890"/><rect x="131.5" y="243.8" width="3" height="5.199999999999989" fill="#1d5e1d"/><rect x="135.5" y="243.8" width="1" height="5.199999999999989" fill="#1d5e1d"/><rect x="137.5" y="243.8" width="2" height="5.199999999999989" fill="#1d5e1d"/><rect x="146" y="243.8" width="3" height="5.199999999999989" fill="#1d5e1d"/><rect x="157" y="243.8" width="1" height="5.199999999999989" fill="#1d5e1d"/><rect x="159" y="243.8" width="3" height="5.199999999999989" fill="#3c962c"/><rect x="164" y="243.8" width="1" height="5.199999999999989" fill="#a8d890"/><rect x="167" y="243.8" width="2" height="5.199999999999989" fill="#a8d890"/><rect x="170" y="243.8" width="1" height="5.199999999999989" fill="#a8d890"/><rect x="173" y="243.8" width="2" height="5.199999999999989" fill="#3c962c"/><rect x="176" y="243.8" width="2" height="5.199999999999989" fill="#1d5e1d"/><rect x="179" y="243.8" width="1" height="5.199999999999989" fill="#a8d890"/><rect x="181" y="243.8" width="2" height="5.199999999999989" fill="#3c962c"/><rect x="184" y="243.8" width="3" height="5.199999999999989" fill="#a8d890"/><rect x="189" y="243.8" width="2" height="5.199999999999989" fill="#a8d890"/><rect x="192" y="243.8" width="3" height="5.199999999999989" fill="#a8d890"/><rect x="196" y="243.8" width="3" height="5.199999999999989" fill="#a8d890"/><rect x="201" y="243.8" width="1" height="5.199999999999989" fill="#a8d890"/><rect x="205" y="243.8" width="2" height="5.199999999999989" fill="#1d5e1d"/><rect x="217" y="243.8" width="1" height="5.199999999999989" fill="#a8d890"/><rect x="222" y="243.8" width="1" height="5.199999999999989" fill="#3c962c"/><rect x="224" y="243.8" width="2" height="5.199999999999989" fill="#3c962c"/><rect x="227" y="243.8" width="2" height="5.199999999999989" fill="#3c962c"/><rect x="232" y="243.8" width="2" height="5.199999999999989" fill="#1d5e1d"/><rect x="235" y="243.8" width="1" height="5.199999999999989" fill="#3c962c"/><rect x="237" y="243.8" width="2" height="5.199999999999989" fill="#3c962c"/><rect x="244" y="243.8" width="1" height="5.199999999999989" fill="#a8d890"/><rect x="246" y="243.8" width="2" height="5.199999999999989" fill="#1d5e1d"/><rect x="249" y="243.8" width="2" height="5.199999999999989" fill="#a8d890"/><rect x="255" y="243.8" width="2" height="5.199999999999989" fill="#1d5e1d"/><rect x="259" y="243.8" width="1" height="5.199999999999989" fill="#1d5e1d"/><rect x="261" y="243.8" width="1" height="5.199999999999989" fill="#1d5e1d"/><rect x="263" y="243.8" width="2" height="5.199999999999989" fill="#1d5e1d"/><rect x="266" y="243.8" width="1" height="5.199999999999989" fill="#1d5e1d"/><rect x="268" y="243.8" width="1" height="5.199999999999989" fill="#1d5e1d"/><rect x="271" y="243.8" width="3" height="5.199999999999989" fill="#1d5e1d"/><rect x="275" y="243.8" width="1" height="5.199999999999989" fill="#3c962c"/><rect x="277" y="243.8" width="3" height="5.199999999999989" fill="#1d5e1d"/><rect x="282" y="243.8" width="2" height="5.199999999999989" fill="#a8d890"/><rect x="285" y="243.8" width="2" height="5.199999999999989" fill="#a8d890"/><rect x="288" y="243.8" width="2" height="5.199999999999989" fill="#3c962c"/><rect x="291" y="243.8" width="1" height="5.199999999999989" fill="#3c962c"/><rect x="296" y="243.8" width="2" height="5.199999999999989" fill="#a8d890"/><rect x="299" y="243.8" width="2" height="5.199999999999989" fill="#a8d890"/><rect x="302" y="243.8" width="3" height="5.199999999999989" fill="#a8d890"/><rect x="307" y="243.8" width="2" height="5.199999999999989" fill="#1d5e1d"/><rect x="315" y="243.8" width="3" height="5.199999999999989" fill="#3c962c"/><rect x="319" y="243.8" width="2" height="5.199999999999989" fill="#1d5e1d"/><rect x="323" y="243.8" width="2" height="5.199999999999989" fill="#1d5e1d"/><rect x="326" y="243.8" width="3" height="5.199999999999989" fill="#3c962c"/><rect x="330" y="243.8" width="1" height="5.199999999999989" fill="#3c962c"/><rect x="332" y="243.8" width="2" height="5.199999999999989" fill="#1d5e1d"/><rect x="335" y="243.8" width="2" height="5.199999999999989" fill="#1d5e1d"/><rect x="340" y="243.8" width="1" height="5.199999999999989" fill="#1d5e1d"/><rect x="342" y="243.8" width="2" height="5.199999999999989" fill="#1d5e1d"/><rect x="345" y="243.8" width="2" height="5.199999999999989" fill="#a8d890"/><rect x="349" y="243.8" width="1" height="5.199999999999989" fill="#a8d890"/><rect x="351" y="243.8" width="2" height="5.199999999999989" fill="#3c962c"/><rect x="356" y="243.8" width="3" height="5.199999999999989" fill="#a8d890"/><rect x="360" y="243.8" width="3" height="5.199999999999989" fill="#a8d890"/><rect x="370" y="243.8" width="3" height="5.199999999999989" fill="#1d5e1d"/><rect x="374" y="243.8" width="1" height="5.199999999999989" fill="#1d5e1d"/><rect x="376" y="243.8" width="2" height="5.199999999999989" fill="#3c962c"/><rect x="379" y="243.8" width="2" height="5.199999999999989" fill="#3c962c"/><rect x="385" y="243.8" width="3" height="5.199999999999989" fill="#3c962c"/><rect x="389" y="243.8" width="3" height="5.199999999999989" fill="#1d5e1d"/><rect x="397.5" y="243.8" width="2" height="5.199999999999989" fill="#1d5e1d"/><rect x="400.5" y="243.8" width="3" height="5.199999999999989" fill="#3c962c"/><rect x="404.5" y="243.8" width="3" height="5.199999999999989" fill="#3c962c"/><rect x="409.5" y="243.8" width="2" height="5.199999999999989" fill="#1d5e1d"/><rect x="416" y="243.8" width="3" height="5.199999999999989" fill="#1d5e1d"/><rect x="421" y="243.8" width="2" height="5.199999999999989" fill="#1d5e1d"/><rect x="425" y="243.8" width="3" height="5.199999999999989" fill="#3c962c"/><rect x="429" y="243.8" width="2" height="5.199999999999989" fill="#1d5e1d"/><rect x="432" y="243.8" width="3" height="5.199999999999989" fill="#1d5e1d"/><rect x="438" y="243.8" width="3" height="5.199999999999989" fill="#1d5e1d"/><rect x="442" y="243.8" width="1" height="5.199999999999989" fill="#1d5e1d"/><rect x="446" y="243.8" width="1" height="5.199999999999989" fill="#1d5e1d"/><rect x="450" y="243.8" width="2" height="5.199999999999989" fill="#a8d890"/><rect x="454" y="243.8" width="3" height="5.199999999999989" fill="#1d5e1d"/><rect x="458" y="243.8" width="3" height="5.199999999999989" fill="#1d5e1d"/><rect x="461" y="243.8" width="1" height="5.199999999999989" fill="#a8d890"/><rect x="464" y="243.8" width="1" height="5.199999999999989" fill="#3c962c"/><rect x="466" y="243.8" width="2" height="5.199999999999989" fill="#5ccc3c"/><rect x="469" y="243.8" width="2" height="5.199999999999989" fill="#3c962c"/><rect x="472" y="243.8" width="2" height="5.199999999999989" fill="#5ccc3c"/><rect x="475" y="243.8" width="2" height="5.199999999999989" fill="#5ccc3c"/><rect x="478" y="243.8" width="1" height="5.199999999999989" fill="#5ccc3c"/><rect x="480" y="243.8" width="1" height="5.199999999999989" fill="#5ccc3c"/><rect x="487" y="243.8" width="2" height="5.199999999999989" fill="#a8d890"/><rect x="490" y="243.8" width="3" height="5.199999999999989" fill="#a8d890"/><rect x="497" y="243.8" width="3" height="5.199999999999989" fill="#a8d890"/><rect x="501" y="243.8" width="2" height="5.199999999999989" fill="#1d5e1d"/><rect x="504" y="243.8" width="3" height="5.199999999999989" fill="#a8d890"/><rect x="508" y="243.8" width="1" height="5.199999999999989" fill="#1d5e1d"/><rect x="514" y="243.8" width="1" height="5.199999999999989" fill="#3c962c"/>
<rect x="66" y="268.0" width="1" height="5.8" fill="#6670ea"/><rect x="67" y="268.8" width="1" height="3.0" fill="#1f22e0"/><rect x="68" y="266.1" width="1" height="5.7" fill="#1f22e0"/><rect x="66" y="270.8" width="3" height="1" fill="#1f22e0"/><rect x="69" y="258.6" width="1" height="13.2" fill="#8088ee"/><rect x="70" y="259.0" width="1" height="12.8" fill="#1f22e0"/><rect x="71" y="258.0" width="1" height="13.8" fill="#1f22e0"/><rect x="72" y="255.9" width="1" height="15.9" fill="#1f22e0"/><rect x="73" y="258.8" width="1" height="13.0" fill="#1f22e0"/><rect x="74" y="255.7" width="1" height="16.1" fill="#1f22e0"/><rect x="69" y="269.8" width="6" height="2" fill="#1f22e0"/><rect x="75" y="264.1" width="1" height="7.7" fill="#1f22e0"/><rect x="76" y="261.4" width="1" height="10.4" fill="#1f22e0"/><rect x="77" y="266.5" width="1" height="5.3" fill="#8088ee"/><rect x="78" y="264.2" width="1" height="7.6" fill="#1f22e0"/><rect x="75" y="270.8" width="4" height="1" fill="#1f22e0"/><rect x="79" y="256.9" width="1" height="14.9" fill="#1f22e0"/><rect x="80" y="259.8" width="1" height="12.0" fill="#8088ee"/><rect x="81" y="259.7" width="1" height="12.1" fill="#1f22e0"/><rect x="79" y="270.8" width="3" height="1" fill="#1f22e0"/><rect x="82" y="256.0" width="1" height="15.8" fill="#1f22e0"/><rect x="83" y="256.3" width="1" height="15.8" fill="#6670ea"/><rect x="84" y="257.5" width="1" height="14.3" fill="#1f22e0"/><rect x="85" y="258.0" width="1" height="13.8" fill="#1f22e0"/><rect x="86" y="266.4" width="1" height="5.4" fill="#8088ee"/><rect x="82" y="270.8" width="5" height="1" fill="#1f22e0"/><rect x="92" y="256.5" width="1" height="15.3" fill="#1f22e0"/><rect x="93" y="259.3" width="1" height="12.5" fill="#1f22e0"/><rect x="103" y="265.3" width="1" height="6.5" fill="#8088ee"/><rect x="104" y="257.9" width="1" height="13.9" fill="#1f22e0"/><rect x="105" y="258.2" width="1" height="13.6" fill="#1f22e0"/><rect x="106" y="259.5" width="1" height="12.3" fill="#1f22e0"/><rect x="103" y="270.8" width="4" height="1" fill="#1f22e0"/><rect x="107" y="258.6" width="1" height="15.8" fill="#6670ea"/><rect x="108" y="257.6" width="1" height="14.2" fill="#1f22e0"/><rect x="109" y="260.7" width="1" height="11.1" fill="#8088ee"/><rect x="110" y="260.7" width="1" height="11.1" fill="#1f22e0"/><rect x="111" y="256.1" width="1" height="15.7" fill="#1f22e0"/><rect x="112" y="267.8" width="1" height="4.0" fill="#1f22e0"/><rect x="113" y="256.4" width="1" height="15.4" fill="#1f22e0"/><rect x="114" y="256.2" width="1" height="15.6" fill="#1f22e0"/><rect x="115" y="258.9" width="1" height="15.8" fill="#6670ea"/><rect x="116" y="260.7" width="1" height="11.1" fill="#1f22e0"/><rect x="107" y="269.8" width="10" height="2" fill="#1f22e0"/><rect x="117" y="268.2" width="1" height="3.6" fill="#1f22e0"/><rect x="118" y="271.0" width="1" height="0.8" fill="#1f22e0"/><rect x="119" y="268.7" width="1" height="5.8" fill="#6670ea"/><rect x="120" y="267.8" width="1" height="5.8" fill="#a8aef2"/><rect x="117" y="270.8" width="4" height="1" fill="#1f22e0"/><rect x="123" y="267.4" width="1" height="6.8" fill="#6670ea"/><rect x="124" y="269.0" width="1" height="2.8" fill="#1f22e0"/><rect x="125" y="267.2" width="1" height="6.8" fill="#a8aef2"/><rect x="126" y="266.2" width="1" height="5.6" fill="#1f22e0"/><rect x="127" y="265.0" width="1" height="6.8" fill="#1f22e0"/><rect x="128" y="269.4" width="1" height="2.4" fill="#1f22e0"/><rect x="129" y="265.2" width="1" height="6.6" fill="#1f22e0"/><rect x="123" y="270.8" width="7" height="1" fill="#1f22e0"/><rect x="130" y="258.9" width="1" height="12.9" fill="#1f22e0"/><rect x="131" y="259.9" width="1" height="11.9" fill="#1f22e0"/><rect x="132" y="263.0" width="1" height="8.8" fill="#8088ee"/><rect x="133" y="256.1" width="1" height="15.7" fill="#1f22e0"/><rect x="134" y="257.9" width="1" height="13.9" fill="#1f22e0"/><rect x="135" y="266.3" width="1" height="5.5" fill="#1f22e0"/><rect x="136" y="256.3" width="1" height="16.3" fill="#a8aef2"/><rect x="137" y="255.8" width="1" height="16.0" fill="#1f22e0"/><rect x="138" y="259.4" width="1" height="12.4" fill="#1f22e0"/><rect x="139" y="255.9" width="1" height="15.9" fill="#1f22e0"/><rect x="140" y="256.3" width="1" height="15.5" fill="#1f22e0"/><rect x="141" y="255.7" width="1" height="16.1" fill="#1f22e0"/><rect x="142" y="257.3" width="1" height="14.5" fill="#1f22e0"/><rect x="143" y="257.0" width="1" height="14.8" fill="#1f22e0"/><rect x="144" y="255.6" width="1" height="16.2" fill="#1f22e0"/><rect x="145" y="258.1" width="1" height="13.7" fill="#1f22e0"/><rect x="146" y="257.2" width="1" height="16.3" fill="#6670ea"/><rect x="147" y="257.9" width="1" height="16.3" fill="#a8aef2"/><rect x="148" y="257.9" width="1" height="13.9" fill="#1f22e0"/><rect x="149" y="257.3" width="1" height="16.3" fill="#6670ea"/><rect x="150" y="257.8" width="1" height="16.3" fill="#a8aef2"/><rect x="151" y="260.2" width="1" height="11.6" fill="#1f22e0"/><rect x="152" y="256.7" width="1" height="15.1" fill="#1f22e0"/><rect x="153" y="256.0" width="1" height="16.3" fill="#a8aef2"/><rect x="154" y="256.5" width="1" height="15.3" fill="#1f22e0"/><rect x="155" y="256.2" width="1" height="15.6" fill="#1f22e0"/><rect x="156" y="266.4" width="1" height="5.4" fill="#8088ee"/><rect x="157" y="259.0" width="1" height="12.8" fill="#1f22e0"/><rect x="158" y="259.3" width="1" height="12.5" fill="#8088ee"/><rect x="159" y="255.9" width="1" height="15.9" fill="#1f22e0"/><rect x="160" y="262.5" width="1" height="9.3" fill="#1f22e0"/><rect x="161" y="258.3" width="1" height="16.3" fill="#6670ea"/><rect x="162" y="256.6" width="1" height="16.3" fill="#a8aef2"/><rect x="163" y="263.1" width="1" height="8.7" fill="#1f22e0"/><rect x="164" y="257.6" width="1" height="16.3" fill="#a8aef2"/><rect x="165" y="256.9" width="1" height="14.9" fill="#1f22e0"/><rect x="166" y="257.5" width="1" height="16.3" fill="#6670ea"/><rect x="167" y="257.1" width="1" height="14.7" fill="#1f22e0"/><rect x="168" y="258.3" width="1" height="13.5" fill="#1f22e0"/><rect x="169" y="255.7" width="1" height="16.1" fill="#1f22e0"/><rect x="170" y="255.7" width="1" height="16.1" fill="#1f22e0"/><rect x="171" y="256.8" width="1" height="15.0" fill="#1f22e0"/><rect x="172" y="257.4" width="1" height="14.4" fill="#1f22e0"/><rect x="173" y="258.0" width="1" height="16.3" fill="#6670ea"/><rect x="174" y="257.8" width="1" height="14.0" fill="#1f22e0"/><rect x="175" y="256.3" width="1" height="15.5" fill="#1f22e0"/><rect x="176" y="263.7" width="1" height="8.1" fill="#8088ee"/><rect x="177" y="260.8" width="1" height="11.0" fill="#1f22e0"/><rect x="178" y="258.0" width="1" height="16.3" fill="#a8aef2"/><rect x="179" y="257.1" width="1" height="16.3" fill="#a8aef2"/><rect x="130" y="266.8" width="50" height="5" fill="#1f22e0"/><rect x="180" y="256.0" width="1" height="16.3" fill="#a8aef2"/><rect x="181" y="258.6" width="1" height="13.2" fill="#1f22e0"/><rect x="182" y="260.4" width="1" height="11.4" fill="#1f22e0"/><rect x="183" y="259.0" width="1" height="12.8" fill="#1f22e0"/><rect x="184" y="258.3" width="1" height="13.5" fill="#1f22e0"/><rect x="185" y="259.1" width="1" height="12.7" fill="#1f22e0"/><rect x="186" y="265.2" width="1" height="6.6" fill="#8088ee"/><rect x="187" y="260.4" width="1" height="11.4" fill="#1f22e0"/><rect x="188" y="255.6" width="1" height="16.2" fill="#1f22e0"/><rect x="189" y="255.8" width="1" height="16.3" fill="#a8aef2"/><rect x="190" y="255.8" width="1" height="16.0" fill="#1f22e0"/><rect x="191" y="256.6" width="1" height="16.3" fill="#6670ea"/><rect x="192" y="255.6" width="1" height="16.2" fill="#1f22e0"/><rect x="193" y="257.0" width="1" height="14.8" fill="#1f22e0"/><rect x="194" y="255.5" width="1" height="16.3" fill="#1f22e0"/><rect x="195" y="256.7" width="1" height="15.1" fill="#1f22e0"/><rect x="196" y="257.3" width="1" height="14.5" fill="#1f22e0"/><rect x="197" y="258.1" width="1" height="16.3" fill="#6670ea"/><rect x="198" y="258.3" width="1" height="16.3" fill="#a8aef2"/><rect x="199" y="255.5" width="1" height="16.3" fill="#1f22e0"/><rect x="200" y="258.3" width="1" height="16.3" fill="#a8aef2"/><rect x="201" y="258.5" width="1" height="13.3" fill="#1f22e0"/><rect x="202" y="257.8" width="1" height="14.0" fill="#1f22e0"/><rect x="203" y="256.9" width="1" height="14.9" fill="#1f22e0"/><rect x="204" y="263.5" width="1" height="8.3" fill="#1f22e0"/><rect x="205" y="257.0" width="1" height="14.8" fill="#1f22e0"/><rect x="206" y="259.9" width="1" height="11.9" fill="#1f22e0"/><rect x="207" y="257.8" width="1" height="16.3" fill="#6670ea"/><rect x="208" y="255.6" width="1" height="16.2" fill="#1f22e0"/><rect x="209" y="258.0" width="1" height="16.3" fill="#a8aef2"/><rect x="210" y="259.9" width="1" height="11.9" fill="#1f22e0"/><rect x="211" y="257.3" width="1" height="16.3" fill="#6670ea"/><rect x="212" y="255.8" width="1" height="16.0" fill="#1f22e0"/><rect x="213" y="263.4" width="1" height="8.4" fill="#8088ee"/><rect x="214" y="256.1" width="1" height="15.7" fill="#1f22e0"/><rect x="215" y="260.0" width="1" height="11.8" fill="#1f22e0"/><rect x="216" y="257.8" width="1" height="14.0" fill="#1f22e0"/><rect x="217" y="259.4" width="1" height="12.4" fill="#1f22e0"/><rect x="218" y="262.1" width="1" height="9.7" fill="#8088ee"/><rect x="219" y="256.0" width="1" height="15.8" fill="#1f22e0"/><rect x="220" y="260.0" width="1" height="11.8" fill="#1f22e0"/><rect x="221" y="263.6" width="1" height="8.2" fill="#8088ee"/><rect x="222" y="256.4" width="1" height="15.4" fill="#1f22e0"/><rect x="223" y="256.5" width="1" height="15.3" fill="#1f22e0"/><rect x="224" y="255.5" width="1" height="16.3" fill="#1f22e0"/><rect x="225" y="257.6" width="1" height="14.2" fill="#1f22e0"/><rect x="226" y="262.9" width="1" height="8.9" fill="#1f22e0"/><rect x="227" y="260.7" width="1" height="11.1" fill="#8088ee"/><rect x="228" y="257.9" width="1" height="13.9" fill="#1f22e0"/><rect x="229" y="259.9" width="1" height="11.9" fill="#1f22e0"/><rect x="230" y="255.6" width="1" height="16.2" fill="#1f22e0"/><rect x="231" y="257.5" width="1" height="14.3" fill="#1f22e0"/><rect x="232" y="266.3" width="1" height="5.5" fill="#8088ee"/><rect x="233" y="255.9" width="1" height="15.9" fill="#1f22e0"/><rect x="234" y="262.7" width="1" height="9.1" fill="#1f22e0"/><rect x="235" y="258.5" width="1" height="13.3" fill="#1f22e0"/><rect x="236" y="255.9" width="1" height="15.9" fill="#1f22e0"/><rect x="237" y="259.9" width="1" height="11.9" fill="#1f22e0"/><rect x="238" y="255.8" width="1" height="16.0" fill="#1f22e0"/><rect x="239" y="259.5" width="1" height="12.3" fill="#1f22e0"/><rect x="240" y="256.7" width="1" height="15.1" fill="#1f22e0"/><rect x="241" y="256.4" width="1" height="15.4" fill="#1f22e0"/><rect x="242" y="256.8" width="1" height="15.0" fill="#1f22e0"/><rect x="243" y="258.7" width="1" height="13.1" fill="#1f22e0"/><rect x="244" y="257.5" width="1" height="14.3" fill="#1f22e0"/><rect x="245" y="255.5" width="1" height="16.3" fill="#1f22e0"/><rect x="246" y="259.1" width="1" height="12.7" fill="#1f22e0"/><rect x="247" y="265.7" width="1" height="6.1" fill="#1f22e0"/><rect x="248" y="256.0" width="1" height="15.8" fill="#1f22e0"/><rect x="249" y="259.6" width="1" height="12.2" fill="#1f22e0"/><rect x="250" y="258.2" width="1" height="16.3" fill="#a8aef2"/><rect x="251" y="256.2" width="1" height="15.6" fill="#1f22e0"/><rect x="252" y="263.8" width="1" height="8.0" fill="#1f22e0"/><rect x="253" y="255.6" width="1" height="16.2" fill="#1f22e0"/><rect x="254" y="257.8" width="1" height="14.0" fill="#1f22e0"/><rect x="255" y="255.9" width="1" height="15.9" fill="#1f22e0"/><rect x="256" y="256.0" width="1" height="15.8" fill="#1f22e0"/><rect x="257" y="257.7" width="1" height="14.1" fill="#1f22e0"/><rect x="258" y="256.4" width="1" height="16.3" fill="#a8aef2"/><rect x="259" y="256.4" width="1" height="15.4" fill="#1f22e0"/><rect x="260" y="261.6" width="1" height="10.2" fill="#8088ee"/><rect x="261" y="264.9" width="1" height="6.9" fill="#1f22e0"/><rect x="262" y="255.5" width="1" height="16.3" fill="#1f22e0"/><rect x="263" y="259.8" width="1" height="12.0" fill="#1f22e0"/><rect x="264" y="255.5" width="1" height="16.3" fill="#1f22e0"/><rect x="265" y="260.2" width="1" height="11.6" fill="#1f22e0"/><rect x="266" y="257.0" width="1" height="14.8" fill="#1f22e0"/><rect x="267" y="255.5" width="1" height="16.3" fill="#1f22e0"/><rect x="268" y="257.7" width="1" height="14.1" fill="#1f22e0"/><rect x="269" y="257.2" width="1" height="14.6" fill="#1f22e0"/><rect x="270" y="256.5" width="1" height="16.3" fill="#a8aef2"/><rect x="271" y="258.6" width="1" height="13.2" fill="#1f22e0"/><rect x="272" y="260.0" width="1" height="11.8" fill="#1f22e0"/><rect x="273" y="266.4" width="1" height="5.4" fill="#1f22e0"/><rect x="274" y="260.2" width="1" height="11.6" fill="#1f22e0"/><rect x="275" y="262.8" width="1" height="9.0" fill="#1f22e0"/><rect x="276" y="257.4" width="1" height="16.3" fill="#6670ea"/><rect x="277" y="258.5" width="1" height="13.3" fill="#1f22e0"/><rect x="278" y="257.8" width="1" height="16.3" fill="#a8aef2"/><rect x="279" y="257.1" width="1" height="14.7" fill="#1f22e0"/><rect x="280" y="260.3" width="1" height="11.5" fill="#1f22e0"/><rect x="281" y="259.8" width="1" height="12.0" fill="#1f22e0"/><rect x="282" y="259.7" width="1" height="12.1" fill="#1f22e0"/><rect x="283" y="257.9" width="1" height="13.9" fill="#1f22e0"/><rect x="284" y="255.8" width="1" height="16.0" fill="#1f22e0"/><rect x="285" y="257.4" width="1" height="14.4" fill="#1f22e0"/><rect x="286" y="258.1" width="1" height="16.3" fill="#a8aef2"/><rect x="287" y="255.9" width="1" height="16.3" fill="#a8aef2"/><rect x="288" y="257.5" width="1" height="14.3" fill="#1f22e0"/><rect x="289" y="257.4" width="1" height="14.4" fill="#1f22e0"/><rect x="290" y="256.2" width="1" height="15.6" fill="#1f22e0"/><rect x="291" y="263.1" width="1" height="8.7" fill="#8088ee"/><rect x="292" y="259.3" width="1" height="12.5" fill="#1f22e0"/><rect x="293" y="256.2" width="1" height="15.6" fill="#1f22e0"/><rect x="294" y="256.5" width="1" height="15.3" fill="#1f22e0"/><rect x="295" y="259.9" width="1" height="11.9" fill="#1f22e0"/><rect x="296" y="256.8" width="1" height="16.3" fill="#6670ea"/><rect x="297" y="256.6" width="1" height="16.3" fill="#6670ea"/><rect x="298" y="256.4" width="1" height="15.4" fill="#1f22e0"/><rect x="299" y="255.9" width="1" height="15.9" fill="#1f22e0"/><rect x="180" y="266.8" width="120" height="5" fill="#1f22e0"/><rect x="300" y="259.8" width="1" height="12.0" fill="#1f22e0"/><rect x="301" y="255.6" width="1" height="16.2" fill="#1f22e0"/><rect x="302" y="256.8" width="1" height="15.0" fill="#1f22e0"/><rect x="303" y="256.6" width="1" height="16.3" fill="#a8aef2"/><rect x="304" y="258.6" width="1" height="13.2" fill="#1f22e0"/><rect x="305" y="257.2" width="1" height="14.6" fill="#1f22e0"/><rect x="306" y="263.1" width="1" height="8.7" fill="#1f22e0"/><rect x="307" y="257.7" width="1" height="14.1" fill="#1f22e0"/><rect x="308" y="258.9" width="1" height="12.9" fill="#1f22e0"/><rect x="309" y="257.7" width="1" height="14.1" fill="#1f22e0"/><rect x="310" y="256.8" width="1" height="15.0" fill="#1f22e0"/><rect x="311" y="256.2" width="1" height="15.6" fill="#1f22e0"/><rect x="312" y="257.5" width="1" height="14.3" fill="#1f22e0"/><rect x="313" y="258.1" width="1" height="13.7" fill="#1f22e0"/><rect x="314" y="263.8" width="1" height="8.0" fill="#8088ee"/><rect x="315" y="256.1" width="1" height="15.7" fill="#1f22e0"/><rect x="316" y="256.3" width="1" height="15.5" fill="#1f22e0"/><rect x="317" y="256.4" width="1" height="15.4" fill="#1f22e0"/><rect x="318" y="260.0" width="1" height="11.8" fill="#1f22e0"/><rect x="319" y="259.6" width="1" height="12.2" fill="#1f22e0"/><rect x="320" y="258.1" width="1" height="16.3" fill="#6670ea"/><rect x="321" y="259.8" width="1" height="12.0" fill="#1f22e0"/><rect x="322" y="256.5" width="1" height="15.3" fill="#1f22e0"/><rect x="323" y="256.1" width="1" height="16.3" fill="#a8aef2"/><rect x="324" y="255.6" width="1" height="16.2" fill="#1f22e0"/><rect x="325" y="258.6" width="1" height="13.2" fill="#1f22e0"/><rect x="326" y="257.0" width="1" height="14.8" fill="#1f22e0"/><rect x="327" y="255.9" width="1" height="15.9" fill="#1f22e0"/><rect x="328" y="263.5" width="1" height="8.3" fill="#8088ee"/><rect x="329" y="256.8" width="1" height="15.0" fill="#1f22e0"/><rect x="300" y="266.8" width="30" height="5" fill="#1f22e0"/><rect x="330" y="261.4" width="1" height="10.4" fill="#1f22e0"/><rect x="331" y="260.0" width="1" height="11.8" fill="#1f22e0"/><rect x="332" y="262.5" width="1" height="9.3" fill="#1f22e0"/><rect x="333" y="260.7" width="1" height="11.1" fill="#1f22e0"/><rect x="334" y="259.1" width="1" height="12.7" fill="#1f22e0"/><rect x="335" y="261.0" width="1" height="10.8" fill="#1f22e0"/><rect x="336" y="262.5" width="1" height="9.3" fill="#1f22e0"/><rect x="337" y="260.5" width="1" height="11.3" fill="#1f22e0"/><rect x="338" y="259.2" width="1" height="12.6" fill="#1f22e0"/><rect x="339" y="259.5" width="1" height="12.8" fill="#a8aef2"/><rect x="340" y="262.6" width="1" height="9.2" fill="#8088ee"/><rect x="341" y="265.9" width="1" height="5.9" fill="#8088ee"/><rect x="342" y="261.9" width="1" height="9.9" fill="#1f22e0"/><rect x="343" y="259.7" width="1" height="12.1" fill="#1f22e0"/><rect x="344" y="259.7" width="1" height="12.1" fill="#1f22e0"/><rect x="345" y="261.8" width="1" height="10.0" fill="#1f22e0"/><rect x="346" y="264.8" width="1" height="7.0" fill="#8088ee"/><rect x="347" y="260.6" width="1" height="11.2" fill="#1f22e0"/><rect x="348" y="262.2" width="1" height="9.6" fill="#1f22e0"/><rect x="349" y="259.9" width="1" height="11.9" fill="#1f22e0"/><rect x="350" y="260.1" width="1" height="11.7" fill="#1f22e0"/><rect x="351" y="259.7" width="1" height="12.1" fill="#1f22e0"/><rect x="352" y="261.4" width="1" height="10.4" fill="#1f22e0"/><rect x="353" y="261.1" width="1" height="10.7" fill="#1f22e0"/><rect x="354" y="259.7" width="1" height="12.1" fill="#1f22e0"/><rect x="355" y="259.7" width="1" height="12.1" fill="#1f22e0"/><rect x="356" y="261.5" width="1" height="10.3" fill="#1f22e0"/><rect x="357" y="259.1" width="1" height="12.7" fill="#1f22e0"/><rect x="358" y="259.5" width="1" height="12.8" fill="#6670ea"/><rect x="359" y="263.9" width="1" height="7.9" fill="#8088ee"/><rect x="360" y="265.3" width="1" height="6.5" fill="#1f22e0"/><rect x="361" y="260.4" width="1" height="12.8" fill="#a8aef2"/><rect x="362" y="261.1" width="1" height="10.7" fill="#1f22e0"/><rect x="363" y="261.2" width="1" height="10.6" fill="#1f22e0"/><rect x="364" y="261.1" width="1" height="10.7" fill="#1f22e0"/><rect x="365" y="261.2" width="1" height="10.6" fill="#1f22e0"/><rect x="366" y="263.2" width="1" height="8.6" fill="#1f22e0"/><rect x="367" y="260.1" width="1" height="11.7" fill="#1f22e0"/><rect x="368" y="260.1" width="1" height="11.7" fill="#1f22e0"/><rect x="369" y="261.4" width="1" height="10.4" fill="#1f22e0"/><rect x="370" y="260.2" width="1" height="11.6" fill="#1f22e0"/><rect x="371" y="263.0" width="1" height="8.8" fill="#1f22e0"/><rect x="372" y="265.9" width="1" height="5.9" fill="#8088ee"/><rect x="373" y="265.1" width="1" height="6.7" fill="#1f22e0"/><rect x="374" y="259.0" width="1" height="12.8" fill="#1f22e0"/><rect x="375" y="261.0" width="1" height="10.8" fill="#1f22e0"/><rect x="376" y="266.6" width="1" height="5.2" fill="#8088ee"/><rect x="377" y="260.4" width="1" height="11.4" fill="#1f22e0"/><rect x="378" y="265.9" width="1" height="5.9" fill="#1f22e0"/><rect x="379" y="259.3" width="1" height="12.5" fill="#1f22e0"/><rect x="380" y="260.4" width="1" height="12.8" fill="#6670ea"/><rect x="381" y="259.7" width="1" height="12.1" fill="#1f22e0"/><rect x="382" y="262.1" width="1" height="9.7" fill="#1f22e0"/><rect x="383" y="260.2" width="1" height="12.8" fill="#a8aef2"/><rect x="384" y="262.9" width="1" height="8.9" fill="#1f22e0"/><rect x="385" y="261.1" width="1" height="10.7" fill="#1f22e0"/><rect x="386" y="259.5" width="1" height="12.3" fill="#1f22e0"/><rect x="387" y="259.5" width="1" height="12.3" fill="#1f22e0"/><rect x="388" y="266.8" width="1" height="5.0" fill="#8088ee"/><rect x="389" y="260.8" width="1" height="11.0" fill="#1f22e0"/><rect x="390" y="262.6" width="1" height="9.2" fill="#1f22e0"/><rect x="391" y="262.2" width="1" height="9.6" fill="#1f22e0"/><rect x="392" y="262.9" width="1" height="8.9" fill="#8088ee"/><rect x="393" y="263.9" width="1" height="7.9" fill="#8088ee"/><rect x="394" y="261.2" width="1" height="10.6" fill="#1f22e0"/><rect x="395" y="259.9" width="1" height="11.9" fill="#1f22e0"/><rect x="396" y="259.3" width="1" height="12.8" fill="#6670ea"/><rect x="330" y="266.8" width="67" height="5" fill="#1f22e0"/><rect x="397" y="257.3" width="1" height="16.3" fill="#a8aef2"/><rect x="398" y="258.2" width="1" height="16.3" fill="#6670ea"/><rect x="399" y="263.2" width="1" height="8.6" fill="#8088ee"/><rect x="400" y="260.3" width="1" height="11.5" fill="#1f22e0"/><rect x="401" y="256.7" width="1" height="15.1" fill="#1f22e0"/><rect x="402" y="256.0" width="1" height="15.8" fill="#1f22e0"/><rect x="403" y="256.2" width="1" height="15.6" fill="#1f22e0"/><rect x="404" y="264.7" width="1" height="7.1" fill="#8088ee"/><rect x="405" y="255.5" width="1" height="16.3" fill="#a8aef2"/><rect x="406" y="255.8" width="1" height="16.0" fill="#1f22e0"/><rect x="407" y="259.6" width="1" height="12.2" fill="#1f22e0"/><rect x="408" y="257.4" width="1" height="14.4" fill="#1f22e0"/><rect x="409" y="256.1" width="1" height="15.7" fill="#1f22e0"/><rect x="410" y="260.4" width="1" height="11.4" fill="#1f22e0"/><rect x="411" y="258.6" width="1" height="13.2" fill="#1f22e0"/><rect x="412" y="260.3" width="1" height="11.5" fill="#1f22e0"/><rect x="413" y="264.8" width="1" height="7.0" fill="#1f22e0"/><rect x="414" y="257.8" width="1" height="14.0" fill="#1f22e0"/><rect x="415" y="255.6" width="1" height="16.2" fill="#1f22e0"/><rect x="416" y="257.8" width="1" height="16.3" fill="#a8aef2"/><rect x="417" y="257.7" width="1" height="16.3" fill="#6670ea"/><rect x="418" y="258.3" width="1" height="16.3" fill="#6670ea"/><rect x="419" y="258.8" width="1" height="13.0" fill="#1f22e0"/><rect x="397" y="266.8" width="23" height="5" fill="#1f22e0"/><rect x="420" y="255.9" width="1" height="16.8" fill="#6670ea"/><rect x="421" y="257.8" width="1" height="16.8" fill="#a8aef2"/><rect x="422" y="262.4" width="1" height="9.4" fill="#1f22e0"/><rect x="423" y="255.5" width="1" height="16.3" fill="#1f22e0"/><rect x="424" y="266.5" width="1" height="5.3" fill="#1f22e0"/><rect x="425" y="255.4" width="1" height="16.8" fill="#6670ea"/><rect x="426" y="263.2" width="1" height="8.6" fill="#1f22e0"/><rect x="427" y="262.9" width="1" height="8.9" fill="#8088ee"/><rect x="428" y="262.9" width="1" height="8.9" fill="#8088ee"/><rect x="429" y="256.0" width="1" height="16.8" fill="#6670ea"/><rect x="430" y="256.7" width="1" height="15.1" fill="#1f22e0"/><rect x="431" y="256.6" width="1" height="15.2" fill="#1f22e0"/><rect x="432" y="255.6" width="1" height="16.2" fill="#1f22e0"/><rect x="433" y="258.2" width="1" height="13.6" fill="#1f22e0"/><rect x="434" y="255.0" width="1" height="16.8" fill="#6670ea"/><rect x="435" y="259.2" width="1" height="12.6" fill="#1f22e0"/><rect x="436" y="255.5" width="1" height="16.3" fill="#1f22e0"/><rect x="437" y="255.2" width="1" height="16.6" fill="#1f22e0"/><rect x="438" y="258.1" width="1" height="13.7" fill="#1f22e0"/><rect x="439" y="256.6" width="1" height="15.2" fill="#1f22e0"/><rect x="440" y="256.1" width="1" height="15.7" fill="#1f22e0"/><rect x="441" y="262.6" width="1" height="9.2" fill="#8088ee"/><rect x="442" y="257.7" width="1" height="14.1" fill="#1f22e0"/><rect x="443" y="262.6" width="1" height="9.2" fill="#8088ee"/><rect x="444" y="257.7" width="1" height="14.1" fill="#1f22e0"/><rect x="445" y="265.9" width="1" height="5.9" fill="#1f22e0"/><rect x="446" y="257.4" width="1" height="16.8" fill="#6670ea"/><rect x="447" y="257.8" width="1" height="16.8" fill="#a8aef2"/><rect x="448" y="259.4" width="1" height="12.4" fill="#8088ee"/><rect x="449" y="255.5" width="1" height="16.3" fill="#1f22e0"/><rect x="450" y="257.2" width="1" height="14.6" fill="#1f22e0"/><rect x="451" y="263.5" width="1" height="8.3" fill="#1f22e0"/><rect x="452" y="257.7" width="1" height="14.1" fill="#1f22e0"/><rect x="453" y="256.4" width="1" height="15.4" fill="#1f22e0"/><rect x="454" y="256.5" width="1" height="15.3" fill="#1f22e0"/><rect x="455" y="256.6" width="1" height="15.2" fill="#1f22e0"/><rect x="456" y="259.5" width="1" height="12.3" fill="#1f22e0"/><rect x="457" y="255.1" width="1" height="16.7" fill="#1f22e0"/><rect x="458" y="257.6" width="1" height="14.2" fill="#1f22e0"/><rect x="459" y="258.9" width="1" height="12.9" fill="#1f22e0"/><rect x="460" y="256.3" width="1" height="16.8" fill="#a8aef2"/><rect x="461" y="257.8" width="1" height="14.0" fill="#1f22e0"/><rect x="462" y="255.6" width="1" height="16.2" fill="#1f22e0"/><rect x="463" y="262.7" width="1" height="9.1" fill="#1f22e0"/><rect x="464" y="259.6" width="1" height="12.2" fill="#1f22e0"/><rect x="465" y="258.8" width="1" height="13.0" fill="#1f22e0"/><rect x="466" y="259.4" width="1" height="12.4" fill="#1f22e0"/><rect x="467" y="255.2" width="1" height="16.6" fill="#1f22e0"/><rect x="468" y="261.6" width="1" height="10.2" fill="#1f22e0"/><rect x="469" y="264.9" width="1" height="6.9" fill="#1f22e0"/><rect x="470" y="257.0" width="1" height="14.8" fill="#1f22e0"/><rect x="471" y="256.4" width="1" height="15.4" fill="#1f22e0"/><rect x="472" y="257.8" width="1" height="14.0" fill="#1f22e0"/><rect x="473" y="259.7" width="1" height="12.1" fill="#1f22e0"/><rect x="474" y="258.0" width="1" height="13.8" fill="#1f22e0"/><rect x="475" y="257.3" width="1" height="14.5" fill="#1f22e0"/><rect x="476" y="258.5" width="1" height="13.3" fill="#1f22e0"/><rect x="477" y="255.8" width="1" height="16.0" fill="#1f22e0"/><rect x="478" y="256.4" width="1" height="15.4" fill="#1f22e0"/><rect x="479" y="258.4" width="1" height="13.4" fill="#8088ee"/><rect x="480" y="256.1" width="1" height="15.7" fill="#1f22e0"/><rect x="481" y="259.4" width="1" height="12.4" fill="#1f22e0"/><rect x="482" y="256.7" width="1" height="16.8" fill="#6670ea"/><rect x="483" y="266.4" width="1" height="5.4" fill="#1f22e0"/><rect x="484" y="255.2" width="1" height="16.6" fill="#1f22e0"/><rect x="485" y="258.5" width="1" height="13.3" fill="#1f22e0"/><rect x="486" y="255.9" width="1" height="15.9" fill="#1f22e0"/><rect x="487" y="256.8" width="1" height="16.8" fill="#a8aef2"/><rect x="488" y="260.9" width="1" height="10.9" fill="#1f22e0"/><rect x="489" y="256.8" width="1" height="16.8" fill="#a8aef2"/><rect x="490" y="258.6" width="1" height="13.2" fill="#1f22e0"/><rect x="491" y="256.8" width="1" height="15.0" fill="#1f22e0"/><rect x="492" y="255.0" width="1" height="16.8" fill="#1f22e0"/><rect x="493" y="259.0" width="1" height="12.8" fill="#1f22e0"/><rect x="494" y="258.1" width="1" height="13.7" fill="#1f22e0"/><rect x="495" y="265.5" width="1" height="6.3" fill="#1f22e0"/><rect x="496" y="255.4" width="1" height="16.4" fill="#1f22e0"/><rect x="497" y="256.9" width="1" height="16.8" fill="#6670ea"/><rect x="498" y="256.2" width="1" height="16.8" fill="#a8aef2"/><rect x="499" y="255.2" width="1" height="16.8" fill="#6670ea"/><rect x="500" y="255.7" width="1" height="16.1" fill="#1f22e0"/><rect x="501" y="256.5" width="1" height="16.8" fill="#a8aef2"/><rect x="502" y="255.3" width="1" height="16.5" fill="#1f22e0"/><rect x="503" y="258.3" width="1" height="13.5" fill="#1f22e0"/><rect x="504" y="259.1" width="1" height="12.7" fill="#1f22e0"/><rect x="505" y="255.2" width="1" height="16.8" fill="#a8aef2"/><rect x="506" y="256.9" width="1" height="14.9" fill="#1f22e0"/><rect x="507" y="258.4" width="1" height="13.4" fill="#1f22e0"/><rect x="508" y="258.0" width="1" height="16.8" fill="#6670ea"/><rect x="509" y="255.0" width="1" height="16.8" fill="#1f22e0"/><rect x="510" y="266.6" width="1" height="5.2" fill="#8088ee"/><rect x="511" y="255.7" width="1" height="16.1" fill="#1f22e0"/><rect x="512" y="256.8" width="1" height="16.8" fill="#6670ea"/><rect x="513" y="255.5" width="1" height="16.8" fill="#6670ea"/><rect x="514" y="257.4" width="1" height="16.8" fill="#6670ea"/><rect x="515" y="256.0" width="1" height="16.8" fill="#a8aef2"/><rect x="516" y="259.2" width="1" height="12.6" fill="#1f22e0"/><rect x="420" y="266.8" width="97" height="5" fill="#1f22e0"/>
<rect x="10" y="151.2" width="508" height="121.6" fill="none" stroke="#000" stroke-width="2"/>
<circle cx="11.1" cy="167.8" r="9.35" fill="#fff" stroke="#000" stroke-width="1.5"/>
<text x="11.1" y="173.8" font-family="'Liberation Sans',sans-serif" font-size="17.3" font-weight="bold" font-style="normal" text-anchor="middle" fill="#000"  stroke="#000" stroke-width="0.18">B</text>
<line x1="90.7" y1="291" x2="90.7" y2="631" stroke="#e6e4f2" stroke-width="1"/><line x1="101.1" y1="291" x2="101.1" y2="631" stroke="#e6e4f2" stroke-width="1"/><line x1="111.6" y1="291" x2="111.6" y2="631" stroke="#e6e4f2" stroke-width="1"/><line x1="122.0" y1="291" x2="122.0" y2="631" stroke="#e6e4f2" stroke-width="1"/><line x1="132.4" y1="291" x2="132.4" y2="631" stroke="#e6e4f2" stroke-width="1"/><line x1="142.8" y1="291" x2="142.8" y2="631" stroke="#e6e4f2" stroke-width="1"/><line x1="153.3" y1="291" x2="153.3" y2="631" stroke="#e6e4f2" stroke-width="1"/><line x1="163.7" y1="291" x2="163.7" y2="631" stroke="#e6e4f2" stroke-width="1"/><line x1="174.1" y1="291" x2="174.1" y2="631" stroke="#e6e4f2" stroke-width="1"/><line x1="184.6" y1="291" x2="184.6" y2="631" stroke="#e6e4f2" stroke-width="1"/><line x1="195.0" y1="291" x2="195.0" y2="631" stroke="#e6e4f2" stroke-width="1"/><line x1="205.4" y1="291" x2="205.4" y2="631" stroke="#e6e4f2" stroke-width="1"/><line x1="215.9" y1="291" x2="215.9" y2="631" stroke="#e6e4f2" stroke-width="1"/><line x1="226.3" y1="291" x2="226.3" y2="631" stroke="#e6e4f2" stroke-width="1"/><line x1="236.7" y1="291" x2="236.7" y2="631" stroke="#e6e4f2" stroke-width="1"/><line x1="247.1" y1="291" x2="247.1" y2="631" stroke="#e6e4f2" stroke-width="1"/><line x1="257.6" y1="291" x2="257.6" y2="631" stroke="#e6e4f2" stroke-width="1"/><line x1="268.0" y1="291" x2="268.0" y2="631" stroke="#e6e4f2" stroke-width="1"/><line x1="278.4" y1="291" x2="278.4" y2="631" stroke="#e6e4f2" stroke-width="1"/><line x1="288.9" y1="291" x2="288.9" y2="631" stroke="#e6e4f2" stroke-width="1"/><line x1="299.3" y1="291" x2="299.3" y2="631" stroke="#e6e4f2" stroke-width="1"/><line x1="309.7" y1="291" x2="309.7" y2="631" stroke="#e6e4f2" stroke-width="1"/><line x1="320.2" y1="291" x2="320.2" y2="631" stroke="#e6e4f2" stroke-width="1"/><line x1="330.6" y1="291" x2="330.6" y2="631" stroke="#e6e4f2" stroke-width="1"/><line x1="341.0" y1="291" x2="341.0" y2="631" stroke="#e6e4f2" stroke-width="1"/><line x1="351.4" y1="291" x2="351.4" y2="631" stroke="#e6e4f2" stroke-width="1"/><line x1="361.9" y1="291" x2="361.9" y2="631" stroke="#e6e4f2" stroke-width="1"/><line x1="372.3" y1="291" x2="372.3" y2="631" stroke="#e6e4f2" stroke-width="1"/><line x1="382.7" y1="291" x2="382.7" y2="631" stroke="#e6e4f2" stroke-width="1"/><line x1="393.2" y1="291" x2="393.2" y2="631" stroke="#e6e4f2" stroke-width="1"/><line x1="403.6" y1="291" x2="403.6" y2="631" stroke="#e6e4f2" stroke-width="1"/><line x1="414.0" y1="291" x2="414.0" y2="631" stroke="#e6e4f2" stroke-width="1"/><line x1="424.5" y1="291" x2="424.5" y2="631" stroke="#e6e4f2" stroke-width="1"/><line x1="434.9" y1="291" x2="434.9" y2="631" stroke="#e6e4f2" stroke-width="1"/><line x1="445.3" y1="291" x2="445.3" y2="631" stroke="#e6e4f2" stroke-width="1"/><line x1="455.8" y1="291" x2="455.8" y2="631" stroke="#e6e4f2" stroke-width="1"/><line x1="466.2" y1="291" x2="466.2" y2="631" stroke="#e6e4f2" stroke-width="1"/><line x1="476.6" y1="291" x2="476.6" y2="631" stroke="#e6e4f2" stroke-width="1"/><line x1="487.0" y1="291" x2="487.0" y2="631" stroke="#e6e4f2" stroke-width="1"/><line x1="497.5" y1="291" x2="497.5" y2="631" stroke="#e6e4f2" stroke-width="1"/><line x1="507.9" y1="291" x2="507.9" y2="631" stroke="#e6e4f2" stroke-width="1"/>
<line x1="174.5" y1="229.4" x2="80" y2="289.2" stroke="#000" stroke-width="1.8" stroke-dasharray="1.6 2.5"/>
<line x1="181" y1="228.9" x2="518" y2="289.6" stroke="#000" stroke-width="1.8" stroke-dasharray="1.6 2.5"/>
<rect x="176.4" y="216.2" width="2.8" height="15.2" fill="#d8b04c"/>
<rect x="12" y="277.6" width="136" height="9.6" fill="#fff"/>
<text x="9.8" y="285.8" font-family="'Liberation Sans',sans-serif" font-size="9.6" font-weight="bold" font-style="normal" text-anchor="start" fill="#111" xml:space="preserve" textLength="135.4" lengthAdjust="spacingAndGlyphs" stroke="#111" stroke-width="0.18">Chromosome 22q11.21:  PEX26</text>
<line x1="144.7" y1="291" x2="144.7" y2="299.5" stroke="#111" stroke-width="1.3"/>
<text x="139.2" y="299.3" font-family="'Liberation Mono',monospace" font-size="7.8" font-weight="normal" font-style="normal" text-anchor="end" fill="#3a3a3a"  textLength="34.6" lengthAdjust="spacingAndGlyphs">16935000</text>
<line x1="275.4" y1="291" x2="275.4" y2="299.5" stroke="#111" stroke-width="1.3"/>
<text x="269.9" y="299.3" font-family="'Liberation Mono',monospace" font-size="7.8" font-weight="normal" font-style="normal" text-anchor="end" fill="#3a3a3a"  textLength="34.6" lengthAdjust="spacingAndGlyphs">16940000</text>
<line x1="406" y1="291" x2="406" y2="299.5" stroke="#111" stroke-width="1.3"/>
<text x="400.5" y="299.3" font-family="'Liberation Mono',monospace" font-size="7.8" font-weight="normal" font-style="normal" text-anchor="end" fill="#3a3a3a"  textLength="34.6" lengthAdjust="spacingAndGlyphs">16945000</text>
<text x="75.7" y="301.2" font-family="'Liberation Sans',sans-serif" font-size="9.6" font-weight="bold" font-style="normal" text-anchor="end" fill="#111"  textLength="12.3" lengthAdjust="spacingAndGlyphs" stroke="#111" stroke-width="0.18">Bp</text>
<text x="75.7" y="318.5" font-family="'Liberation Sans',sans-serif" font-size="10" font-weight="bold" font-style="normal" text-anchor="end" fill="#111"  textLength="59.7" lengthAdjust="spacingAndGlyphs" stroke="#111" stroke-width="0.18">Dimeth Lys4</text>
<text x="75.7" y="335.2" font-family="'Liberation Sans',sans-serif" font-size="10" font-weight="bold" font-style="normal" text-anchor="end" fill="#111"  textLength="61.5" lengthAdjust="spacingAndGlyphs" stroke="#111" stroke-width="0.18">Trimeth Lys4</text>
<text x="75.7" y="352.6" font-family="'Liberation Sans',sans-serif" font-size="10" font-weight="bold" font-style="normal" text-anchor="end" fill="#111"  textLength="54.7" lengthAdjust="spacingAndGlyphs" stroke="#111" stroke-width="0.18">Acetylation</text>
<text x="75.7" y="368.9" font-family="'Liberation Sans',sans-serif" font-size="8.3" font-weight="bold" font-style="normal" text-anchor="end" fill="#111"  textLength="55.4" lengthAdjust="spacingAndGlyphs" stroke="#111" stroke-width="0.18">Average hypo-</text>
<text x="70.3" y="379.2" font-family="'Liberation Sans',sans-serif" font-size="8.3" font-weight="bold" font-style="normal" text-anchor="end" fill="#111"  textLength="44.6" lengthAdjust="spacingAndGlyphs" stroke="#111" stroke-width="0.18">methylation</text>
<text x="75.7" y="398.5" font-family="'Liberation Sans',sans-serif" font-size="10" font-weight="bold" font-style="normal" text-anchor="end" fill="#111"  textLength="20.7" lengthAdjust="spacingAndGlyphs" stroke="#111" stroke-width="0.18">M25</text>
<text x="75.7" y="420.9" font-family="'Liberation Sans',sans-serif" font-size="10" font-weight="bold" font-style="normal" text-anchor="end" fill="#111"  textLength="20.7" lengthAdjust="spacingAndGlyphs" stroke="#111" stroke-width="0.18">M24</text>
<text x="75.7" y="443.3" font-family="'Liberation Sans',sans-serif" font-size="10" font-weight="bold" font-style="normal" text-anchor="end" fill="#111"  textLength="20.7" lengthAdjust="spacingAndGlyphs" stroke="#111" stroke-width="0.18">M23</text>
<text x="75.7" y="465.7" font-family="'Liberation Sans',sans-serif" font-size="10" font-weight="bold" font-style="normal" text-anchor="end" fill="#111"  textLength="20.7" lengthAdjust="spacingAndGlyphs" stroke="#111" stroke-width="0.18">M22</text>
<text x="75.7" y="488.1" font-family="'Liberation Sans',sans-serif" font-size="10" font-weight="bold" font-style="normal" text-anchor="end" fill="#111"  textLength="19.5" lengthAdjust="spacingAndGlyphs" stroke="#111" stroke-width="0.18">M21</text>
<text x="75.7" y="510.5" font-family="'Liberation Sans',sans-serif" font-size="10" font-weight="bold" font-style="normal" text-anchor="end" fill="#111"  textLength="20.7" lengthAdjust="spacingAndGlyphs" stroke="#111" stroke-width="0.18">M19</text>
<text x="75.7" y="532.9" font-family="'Liberation Sans',sans-serif" font-size="10" font-weight="bold" font-style="normal" text-anchor="end" fill="#111"  textLength="20.7" lengthAdjust="spacingAndGlyphs" stroke="#111" stroke-width="0.18">M18</text>
<text x="75.7" y="555.3" font-family="'Liberation Sans',sans-serif" font-size="10" font-weight="bold" font-style="normal" text-anchor="end" fill="#111"  textLength="20.7" lengthAdjust="spacingAndGlyphs" stroke="#111" stroke-width="0.18">M17</text>
<text x="75.7" y="573.8" font-family="'Liberation Sans',sans-serif" font-size="10" font-weight="bold" font-style="normal" text-anchor="end" fill="#111"  textLength="30" lengthAdjust="spacingAndGlyphs" stroke="#111" stroke-width="0.18">Genes</text>
<text x="75.7" y="590" font-family="'Liberation Sans',sans-serif" font-size="10" font-weight="bold" font-style="normal" text-anchor="end" fill="#111"  textLength="30" lengthAdjust="spacingAndGlyphs" stroke="#111" stroke-width="0.18">mRNA</text>
<text x="75.7" y="601.8" font-family="'Liberation Sans',sans-serif" font-size="10" font-weight="bold" font-style="normal" text-anchor="end" fill="#111"  textLength="58.7" lengthAdjust="spacingAndGlyphs" stroke="#111" stroke-width="0.18">CpG Islands</text>
<text x="75.7" y="625.8" font-family="'Liberation Sans',sans-serif" font-size="10" font-weight="bold" font-style="normal" text-anchor="end" fill="#111"  textLength="38.5" lengthAdjust="spacingAndGlyphs" stroke="#111" stroke-width="0.18">Affy Txn</text>
<rect x="120.5" y="308" width="10.5" height="9" fill="#e41414"/>
<rect x="134.5" y="308" width="17.5" height="9" fill="#e41414"/>
<rect x="117.7" y="326" width="65.1" height="8.6" fill="#1432e6"/>
<rect x="112.6" y="344" width="66.4" height="8.3" fill="#ea8a22"/>
<line x1="80" y1="375.90000000000003" x2="517" y2="375.90000000000003" stroke="#e4b4c0" stroke-width="1"/><rect x="80.0" y="375.3" width="4.6" height="1.1" fill="#b8687a"/><rect x="87.6" y="375.3" width="12.2" height="1.1" fill="#b8687a"/><rect x="100.1" y="375.3" width="9.6" height="1.1" fill="#b8687a"/><rect x="126.5" y="375.3" width="7.0" height="1.1" fill="#b8687a"/><rect x="146.6" y="375.3" width="7.4" height="1.1" fill="#b8687a"/><rect x="155.8" y="375.3" width="3.0" height="1.1" fill="#b8687a"/><rect x="160.7" y="375.3" width="8.3" height="1.1" fill="#b8687a"/><rect x="172.5" y="375.3" width="10.3" height="1.1" fill="#b8687a"/><rect x="215.9" y="375.3" width="6.7" height="1.1" fill="#b8687a"/><rect x="232.9" y="375.3" width="4.3" height="1.1" fill="#b8687a"/><rect x="248.7" y="375.3" width="3.7" height="1.1" fill="#b8687a"/><rect x="281.4" y="375.3" width="4.7" height="1.1" fill="#b8687a"/><rect x="297.3" y="375.3" width="8.3" height="1.1" fill="#b8687a"/><rect x="325.0" y="375.3" width="4.8" height="1.1" fill="#b8687a"/><rect x="343.7" y="375.3" width="9.5" height="1.1" fill="#b8687a"/><rect x="355.8" y="375.3" width="5.5" height="1.1" fill="#b8687a"/><rect x="365.2" y="375.3" width="12.3" height="1.1" fill="#b8687a"/><rect x="378.2" y="375.3" width="6.3" height="1.1" fill="#b8687a"/><rect x="390.1" y="375.3" width="8.2" height="1.1" fill="#b8687a"/><rect x="401.8" y="375.3" width="6.5" height="1.1" fill="#b8687a"/><rect x="408.4" y="375.3" width="7.4" height="1.1" fill="#b8687a"/><rect x="416.1" y="375.3" width="3.2" height="1.1" fill="#b8687a"/><rect x="423.0" y="375.3" width="10.3" height="1.1" fill="#b8687a"/><rect x="435.6" y="375.3" width="11.1" height="1.1" fill="#b8687a"/><rect x="471.9" y="375.3" width="4.0" height="1.1" fill="#b8687a"/><rect x="476.9" y="375.3" width="7.0" height="1.1" fill="#b8687a"/><rect x="484.9" y="375.3" width="7.6" height="1.1" fill="#b8687a"/><rect x="494.6" y="375.3" width="3.2" height="1.1" fill="#b8687a"/><path d="M99.8,375.9 L99.8,374.7 L100.8,374.7 L100.8,374.3 L101.8,374.3 L101.8,373.9 L102.8,373.9 L102.8,373.7 L103.8,373.7 L103.8,373.6 L104.8,373.6 L104.8,372.9 L105.8,372.9 L105.8,372.6 L106.8,372.6 L106.8,372.6 L107.8,372.6 L107.8,371.6 L108.8,371.6 L108.8,372.1 L109.8,372.1 L109.8,371.8 L110.4,371.8 L110.4,375.9 Z" fill="#3e3612"/><path d="M115.2,375.9 L115.2,374.8 L116.2,374.8 L116.2,374.0 L117.2,374.0 L117.2,373.6 L118.2,373.6 L118.2,373.6 L119.2,373.6 L119.2,373.1 L120.2,373.1 L120.2,372.9 L121.2,372.9 L121.2,372.3 L122.2,372.3 L122.2,372.2 L123.2,372.2 L123.2,371.6 L124.2,371.6 L124.2,372.0 L125.2,372.0 L125.2,372.1 L126.2,372.1 L126.2,372.0 L127.2,372.0 L127.2,371.6 L128.2,371.6 L128.2,372.2 L129.2,372.2 L129.2,372.1 L129.6,372.1 L129.6,375.9 Z" fill="#3e3612"/><path d="M134.6,375.9 L134.6,370.8 L135.6,370.8 L135.6,369.2 L136.6,369.2 L136.6,367.7 L137.6,367.7 L137.6,364.3 L138.6,364.3 L138.6,362.5 L139.6,362.5 L139.6,364.0 L140.6,364.0 L140.6,362.7 L141.6,362.7 L141.6,361.1 L142.6,361.1 L142.6,361.1 L143.6,361.1 L143.6,362.4 L144.6,362.4 L144.6,363.0 L145.6,363.0 L145.6,363.0 L146.6,363.0 L146.6,364.8 L147.6,364.8 L147.6,364.4 L148.6,364.4 L148.6,366.9 L149.6,366.9 L149.6,372.1 L150.6,372.1 L150.6,371.9 L151.6,371.9 L151.6,372.1 L152.6,372.1 L152.6,374.3 L153.6,374.3 L153.6,374.5 L154.6,374.5 L154.6,374.7 L155.6,374.7 L155.6,374.7 L156.6,374.7 L156.6,374.6 L157.6,374.6 L157.6,374.8 L158.6,374.8 L158.6,374.8 L159.6,374.8 L159.6,374.9 L160.6,374.9 L160.6,375.3 L161.6,375.3 L161.6,375.5 L162.0,375.5 L162.0,375.9 Z" fill="#3e3612"/><rect x="149.2" y="364.8" width="0.8" height="10.8" fill="#fff" fill-opacity="0.85"/><path d="M168.8,375.9 L168.8,373.9 L169.8,373.9 L169.8,373.7 L170.8,373.7 L170.8,373.6 L171.8,373.6 L171.8,373.5 L172.8,373.5 L172.8,373.3 L173.8,373.3 L173.8,372.9 L174.8,372.9 L174.8,373.0 L175.8,373.0 L175.8,373.3 L176.8,373.3 L176.8,373.3 L177.8,373.3 L177.8,373.4 L178.8,373.4 L178.8,375.2 L179.0,375.2 L179.0,375.9 Z" fill="#3e3612"/>
<line x1="80" y1="398.3" x2="517" y2="398.3" stroke="#e4b4c0" stroke-width="1"/><rect x="80.0" y="397.7" width="13.1" height="1.1" fill="#b8687a"/><rect x="94.3" y="397.7" width="7.6" height="1.1" fill="#b8687a"/><rect x="104.1" y="397.7" width="4.7" height="1.1" fill="#b8687a"/><rect x="120.4" y="397.7" width="7.4" height="1.1" fill="#b8687a"/><rect x="129.3" y="397.7" width="7.0" height="1.1" fill="#b8687a"/><rect x="138.2" y="397.7" width="10.0" height="1.1" fill="#b8687a"/><rect x="167.8" y="397.7" width="2.8" height="1.1" fill="#b8687a"/><rect x="194.8" y="397.7" width="11.3" height="1.1" fill="#b8687a"/><rect x="251.9" y="397.7" width="3.5" height="1.1" fill="#b8687a"/><rect x="255.7" y="397.7" width="11.4" height="1.1" fill="#b8687a"/><rect x="308.2" y="397.7" width="4.5" height="1.1" fill="#b8687a"/><rect x="334.9" y="397.7" width="10.3" height="1.1" fill="#b8687a"/><rect x="393.7" y="397.7" width="12.6" height="1.1" fill="#b8687a"/><rect x="427.1" y="397.7" width="11.8" height="1.1" fill="#b8687a"/><rect x="441.3" y="397.7" width="7.1" height="1.1" fill="#b8687a"/><rect x="463.5" y="397.7" width="13.2" height="1.1" fill="#b8687a"/><rect x="512.1" y="397.7" width="4.9" height="1.1" fill="#b8687a"/><path d="M99.8,398.3 L99.8,397.2 L100.8,397.2 L100.8,396.7 L101.8,396.7 L101.8,396.8 L102.8,396.8 L102.8,396.4 L103.8,396.4 L103.8,396.2 L104.8,396.2 L104.8,396.0 L105.8,396.0 L105.8,395.4 L106.8,395.4 L106.8,395.3 L107.8,395.3 L107.8,394.8 L108.8,394.8 L108.8,394.9 L109.8,394.9 L109.8,394.9 L110.4,394.9 L110.4,398.3 Z" fill="#5e0a0c"/><path d="M115.2,398.3 L115.2,397.3 L116.2,397.3 L116.2,397.0 L117.2,397.0 L117.2,396.8 L118.2,396.8 L118.2,396.5 L119.2,396.5 L119.2,396.0 L120.2,396.0 L120.2,396.2 L121.2,396.2 L121.2,395.8 L122.2,395.8 L122.2,395.7 L123.2,395.7 L123.2,395.5 L124.2,395.5 L124.2,395.5 L125.2,395.5 L125.2,395.0 L126.2,395.0 L126.2,395.5 L127.2,395.5 L127.2,394.9 L128.2,394.9 L128.2,395.7 L129.2,395.7 L129.2,395.8 L129.6,395.8 L129.6,398.3 Z" fill="#5e0a0c"/><path d="M134.6,398.3 L134.6,393.1 L135.6,393.1 L135.6,391.7 L136.6,391.7 L136.6,390.0 L137.6,390.0 L137.6,387.8 L138.6,387.8 L138.6,386.8 L139.6,386.8 L139.6,387.3 L140.6,387.3 L140.6,385.6 L141.6,385.6 L141.6,383.4 L142.6,383.4 L142.6,386.2 L143.6,386.2 L143.6,384.5 L144.6,384.5 L144.6,387.1 L145.6,387.1 L145.6,387.8 L146.6,387.8 L146.6,389.0 L147.6,389.0 L147.6,389.6 L148.6,389.6 L148.6,389.0 L149.6,389.0 L149.6,392.5 L150.6,392.5 L150.6,393.4 L151.6,393.4 L151.6,393.4 L152.6,393.4 L152.6,396.7 L153.6,396.7 L153.6,396.5 L154.6,396.5 L154.6,396.8 L155.6,396.8 L155.6,396.7 L156.6,396.7 L156.6,396.9 L157.6,396.9 L157.6,397.1 L158.6,397.1 L158.6,397.1 L159.6,397.1 L159.6,397.2 L160.6,397.2 L160.6,397.6 L161.6,397.6 L161.6,397.9 L162.0,397.9 L162.0,398.3 Z" fill="#5e0a0c"/><rect x="149.2" y="387.9" width="0.8" height="10.1" fill="#fff" fill-opacity="0.85"/>
<line x1="80" y1="420.70000000000005" x2="517" y2="420.70000000000005" stroke="#e4b4c0" stroke-width="1"/><rect x="85.6" y="420.1" width="5.9" height="1.1" fill="#b8687a"/><rect x="95.3" y="420.1" width="2.4" height="1.1" fill="#b8687a"/><rect x="99.9" y="420.1" width="3.3" height="1.1" fill="#b8687a"/><rect x="104.9" y="420.1" width="7.1" height="1.1" fill="#b8687a"/><rect x="125.8" y="420.1" width="8.8" height="1.1" fill="#b8687a"/><rect x="135.5" y="420.1" width="12.3" height="1.1" fill="#b8687a"/><rect x="149.0" y="420.1" width="5.0" height="1.1" fill="#b8687a"/><rect x="154.4" y="420.1" width="3.5" height="1.1" fill="#b8687a"/><rect x="174.5" y="420.1" width="5.4" height="1.1" fill="#b8687a"/><rect x="182.6" y="420.1" width="6.6" height="1.1" fill="#b8687a"/><rect x="201.3" y="420.1" width="4.3" height="1.1" fill="#b8687a"/><rect x="214.5" y="420.1" width="11.8" height="1.1" fill="#b8687a"/><rect x="242.5" y="420.1" width="7.1" height="1.1" fill="#b8687a"/><rect x="251.1" y="420.1" width="13.5" height="1.1" fill="#b8687a"/><rect x="282.4" y="420.1" width="3.9" height="1.1" fill="#b8687a"/><rect x="287.7" y="420.1" width="10.0" height="1.1" fill="#b8687a"/><rect x="299.9" y="420.1" width="6.0" height="1.1" fill="#b8687a"/><rect x="313.6" y="420.1" width="5.7" height="1.1" fill="#b8687a"/><rect x="328.1" y="420.1" width="6.5" height="1.1" fill="#b8687a"/><rect x="356.9" y="420.1" width="7.3" height="1.1" fill="#b8687a"/><rect x="381.1" y="420.1" width="11.4" height="1.1" fill="#b8687a"/><rect x="395.0" y="420.1" width="11.0" height="1.1" fill="#b8687a"/><rect x="419.4" y="420.1" width="7.8" height="1.1" fill="#b8687a"/><rect x="444.5" y="420.1" width="10.8" height="1.1" fill="#b8687a"/><rect x="468.4" y="420.1" width="2.4" height="1.1" fill="#b8687a"/><rect x="473.5" y="420.1" width="2.6" height="1.1" fill="#b8687a"/><rect x="478.6" y="420.1" width="5.3" height="1.1" fill="#b8687a"/><rect x="486.7" y="420.1" width="4.7" height="1.1" fill="#b8687a"/><rect x="494.0" y="420.1" width="3.0" height="1.1" fill="#b8687a"/><rect x="498.5" y="420.1" width="11.9" height="1.1" fill="#b8687a"/><rect x="516.9" y="420.1" width="0.1" height="1.1" fill="#b8687a"/><path d="M99.8,420.7 L99.8,419.2 L100.8,419.2 L100.8,418.6 L101.8,418.6 L101.8,418.5 L102.8,418.5 L102.8,418.1 L103.8,418.1 L103.8,417.8 L104.8,417.8 L104.8,417.6 L105.8,417.6 L105.8,416.9 L106.8,416.9 L106.8,416.0 L107.8,416.0 L107.8,415.8 L108.8,415.8 L108.8,415.3 L109.8,415.3 L109.8,415.8 L110.4,415.8 L110.4,420.7 Z" fill="#5e0a0c"/><path d="M115.2,420.7 L115.2,419.7 L116.2,419.7 L116.2,419.0 L117.2,419.0 L117.2,418.8 L118.2,418.8 L118.2,418.8 L119.2,418.8 L119.2,418.4 L120.2,418.4 L120.2,418.3 L121.2,418.3 L121.2,418.1 L122.2,418.1 L122.2,417.7 L123.2,417.7 L123.2,417.4 L124.2,417.4 L124.2,416.8 L125.2,416.8 L125.2,416.8 L126.2,416.8 L126.2,417.3 L127.2,417.3 L127.2,417.2 L128.2,417.2 L128.2,417.8 L129.2,417.8 L129.2,417.7 L129.6,417.7 L129.6,420.7 Z" fill="#5e0a0c"/><path d="M134.6,420.7 L134.6,414.2 L135.6,414.2 L135.6,412.9 L136.6,412.9 L136.6,410.5 L137.6,410.5 L137.6,409.0 L138.6,409.0 L138.6,408.1 L139.6,408.1 L139.6,404.9 L140.6,404.9 L140.6,407.1 L141.6,407.1 L141.6,404.3 L142.6,404.3 L142.6,406.8 L143.6,406.8 L143.6,405.9 L144.6,405.9 L144.6,406.5 L145.6,406.5 L145.6,408.2 L146.6,408.2 L146.6,409.7 L147.6,409.7 L147.6,409.0 L148.6,409.0 L148.6,410.4 L149.6,410.4 L149.6,414.3 L150.6,414.3 L150.6,414.6 L151.6,414.6 L151.6,414.2 L152.6,414.2 L152.6,418.6 L153.6,418.6 L153.6,418.8 L154.6,418.8 L154.6,418.7 L155.6,418.7 L155.6,418.8 L156.6,418.8 L156.6,419.1 L157.6,419.1 L157.6,419.2 L158.6,419.2 L158.6,419.5 L159.6,419.5 L159.6,419.6 L160.6,419.6 L160.6,420.0 L161.6,420.0 L161.6,420.3 L162.0,420.3 L162.0,420.7 Z" fill="#5e0a0c"/><rect x="149.2" y="408.6" width="0.8" height="11.9" fill="#fff" fill-opacity="0.85"/><path d="M168.8,420.7 L168.8,419.2 L169.8,419.2 L169.8,418.9 L170.8,418.9 L170.8,418.5 L171.8,418.5 L171.8,418.3 L172.8,418.3 L172.8,418.1 L173.8,418.1 L173.8,418.4 L174.8,418.4 L174.8,418.1 L175.8,418.1 L175.8,418.1 L176.8,418.1 L176.8,418.6 L177.8,418.6 L177.8,418.7 L178.8,418.7 L178.8,420.1 L179.0,420.1 L179.0,420.7 Z" fill="#5e0a0c"/><rect x="162" y="418.90000000000003" width="4" height="1.5" fill="#5e0a0c"/><rect x="242" y="419.20000000000005" width="9" height="1.2" fill="#5e0a0c"/>
<line x1="80" y1="443.1" x2="517" y2="443.1" stroke="#e4b4c0" stroke-width="1"/><rect x="80.0" y="442.5" width="10.9" height="1.1" fill="#b8687a"/><rect x="93.5" y="442.5" width="4.4" height="1.1" fill="#b8687a"/><rect x="102.4" y="442.5" width="11.3" height="1.1" fill="#b8687a"/><rect x="115.2" y="442.5" width="5.4" height="1.1" fill="#b8687a"/><rect x="124.5" y="442.5" width="3.3" height="1.1" fill="#b8687a"/><rect x="138.7" y="442.5" width="12.3" height="1.1" fill="#b8687a"/><rect x="170.2" y="442.5" width="9.6" height="1.1" fill="#b8687a"/><rect x="182.7" y="442.5" width="12.4" height="1.1" fill="#b8687a"/><rect x="195.7" y="442.5" width="8.9" height="1.1" fill="#b8687a"/><rect x="230.5" y="442.5" width="9.4" height="1.1" fill="#b8687a"/><rect x="276.9" y="442.5" width="8.9" height="1.1" fill="#b8687a"/><rect x="286.9" y="442.5" width="5.9" height="1.1" fill="#b8687a"/><rect x="313.7" y="442.5" width="4.3" height="1.1" fill="#b8687a"/><rect x="327.4" y="442.5" width="12.2" height="1.1" fill="#b8687a"/><rect x="341.9" y="442.5" width="12.6" height="1.1" fill="#b8687a"/><rect x="363.1" y="442.5" width="13.4" height="1.1" fill="#b8687a"/><rect x="376.6" y="442.5" width="3.2" height="1.1" fill="#b8687a"/><rect x="383.1" y="442.5" width="13.6" height="1.1" fill="#b8687a"/><rect x="421.9" y="442.5" width="10.7" height="1.1" fill="#b8687a"/><rect x="447.2" y="442.5" width="10.5" height="1.1" fill="#b8687a"/><rect x="478.0" y="442.5" width="12.7" height="1.1" fill="#b8687a"/><rect x="507.2" y="442.5" width="9.8" height="1.1" fill="#b8687a"/><path d="M99.8,443.1 L99.8,442.2 L100.8,442.2 L100.8,441.7 L101.8,441.7 L101.8,441.5 L102.8,441.5 L102.8,441.6 L103.8,441.6 L103.8,441.4 L104.8,441.4 L104.8,441.0 L105.8,441.0 L105.8,440.6 L106.8,440.6 L106.8,440.6 L107.8,440.6 L107.8,440.3 L108.8,440.3 L108.8,439.8 L109.8,439.8 L109.8,440.5 L110.4,440.5 L110.4,443.1 Z" fill="#5e0a0c"/><path d="M115.2,443.1 L115.2,442.0 L116.2,442.0 L116.2,441.3 L117.2,441.3 L117.2,441.0 L118.2,441.0 L118.2,440.5 L119.2,440.5 L119.2,440.2 L120.2,440.2 L120.2,439.5 L121.2,439.5 L121.2,439.5 L122.2,439.5 L122.2,439.5 L123.2,439.5 L123.2,439.3 L124.2,439.3 L124.2,438.4 L125.2,438.4 L125.2,438.6 L126.2,438.6 L126.2,438.5 L127.2,438.5 L127.2,438.9 L128.2,438.9 L128.2,439.4 L129.2,439.4 L129.2,439.6 L129.6,439.6 L129.6,443.1 Z" fill="#5e0a0c"/><path d="M134.6,443.1 L134.6,438.1 L135.6,438.1 L135.6,437.4 L136.6,437.4 L136.6,435.5 L137.6,435.5 L137.6,433.3 L138.6,433.3 L138.6,432.1 L139.6,432.1 L139.6,431.2 L140.6,431.2 L140.6,431.2 L141.6,431.2 L141.6,430.7 L142.6,430.7 L142.6,429.6 L143.6,429.6 L143.6,432.3 L144.6,432.3 L144.6,432.8 L145.6,432.8 L145.6,433.8 L146.6,433.8 L146.6,433.2 L147.6,433.2 L147.6,434.8 L148.6,434.8 L148.6,435.2 L149.6,435.2 L149.6,437.3 L150.6,437.3 L150.6,437.5 L151.6,437.5 L151.6,438.4 L152.6,438.4 L152.6,441.2 L153.6,441.2 L153.6,441.5 L154.6,441.5 L154.6,441.5 L155.6,441.5 L155.6,441.5 L156.6,441.5 L156.6,441.7 L157.6,441.7 L157.6,441.9 L158.6,441.9 L158.6,442.0 L159.6,442.0 L159.6,442.1 L160.6,442.1 L160.6,442.4 L161.6,442.4 L161.6,442.7 L162.0,442.7 L162.0,443.1 Z" fill="#5e0a0c"/><rect x="149.2" y="433.4" width="0.8" height="9.4" fill="#fff" fill-opacity="0.85"/><path d="M168.8,443.1 L168.8,441.9 L169.8,441.9 L169.8,441.7 L170.8,441.7 L170.8,441.6 L171.8,441.6 L171.8,441.3 L172.8,441.3 L172.8,441.6 L173.8,441.6 L173.8,441.5 L174.8,441.5 L174.8,441.3 L175.8,441.3 L175.8,441.5 L176.8,441.5 L176.8,441.6 L177.8,441.6 L177.8,441.6 L178.8,441.6 L178.8,442.6 L179.0,442.6 L179.0,443.1 Z" fill="#5e0a0c"/><rect x="242" y="440.8" width="9" height="2" fill="#5e0a0c"/>
<line x1="80" y1="465.50000000000006" x2="517" y2="465.50000000000006" stroke="#e4b4c0" stroke-width="1"/><rect x="95.8" y="464.9" width="3.3" height="1.1" fill="#b8687a"/><rect x="100.5" y="464.9" width="11.0" height="1.1" fill="#b8687a"/><rect x="112.4" y="464.9" width="11.0" height="1.1" fill="#b8687a"/><rect x="124.1" y="464.9" width="11.4" height="1.1" fill="#b8687a"/><rect x="167.6" y="464.9" width="3.0" height="1.1" fill="#b8687a"/><rect x="219.9" y="464.9" width="10.3" height="1.1" fill="#b8687a"/><rect x="232.8" y="464.9" width="9.3" height="1.1" fill="#b8687a"/><rect x="245.0" y="464.9" width="13.8" height="1.1" fill="#b8687a"/><rect x="259.4" y="464.9" width="9.7" height="1.1" fill="#b8687a"/><rect x="286.4" y="464.9" width="10.2" height="1.1" fill="#b8687a"/><rect x="298.8" y="464.9" width="13.7" height="1.1" fill="#b8687a"/><rect x="313.4" y="464.9" width="2.6" height="1.1" fill="#b8687a"/><rect x="327.9" y="464.9" width="5.1" height="1.1" fill="#b8687a"/><rect x="334.8" y="464.9" width="5.7" height="1.1" fill="#b8687a"/><rect x="343.4" y="464.9" width="3.7" height="1.1" fill="#b8687a"/><rect x="364.6" y="464.9" width="6.4" height="1.1" fill="#b8687a"/><rect x="374.2" y="464.9" width="4.8" height="1.1" fill="#b8687a"/><rect x="390.7" y="464.9" width="7.4" height="1.1" fill="#b8687a"/><rect x="414.1" y="464.9" width="3.8" height="1.1" fill="#b8687a"/><rect x="421.1" y="464.9" width="4.2" height="1.1" fill="#b8687a"/><rect x="426.2" y="464.9" width="4.1" height="1.1" fill="#b8687a"/><rect x="446.9" y="464.9" width="7.2" height="1.1" fill="#b8687a"/><rect x="502.3" y="464.9" width="3.7" height="1.1" fill="#b8687a"/><path d="M99.8,465.5 L99.8,464.3 L100.8,464.3 L100.8,463.4 L101.8,463.4 L101.8,463.1 L102.8,463.1 L102.8,462.7 L103.8,462.7 L103.8,462.6 L104.8,462.6 L104.8,462.2 L105.8,462.2 L105.8,462.1 L106.8,462.1 L106.8,461.5 L107.8,461.5 L107.8,461.1 L108.8,461.1 L108.8,460.6 L109.8,460.6 L109.8,461.1 L110.4,461.1 L110.4,465.5 Z" fill="#5e0a0c"/><path d="M115.2,465.5 L115.2,464.5 L116.2,464.5 L116.2,464.2 L117.2,464.2 L117.2,463.9 L118.2,463.9 L118.2,463.8 L119.2,463.8 L119.2,463.5 L120.2,463.5 L120.2,463.3 L121.2,463.3 L121.2,462.9 L122.2,462.9 L122.2,462.9 L123.2,462.9 L123.2,462.8 L124.2,462.8 L124.2,462.4 L125.2,462.4 L125.2,462.1 L126.2,462.1 L126.2,462.6 L127.2,462.6 L127.2,462.8 L128.2,462.8 L128.2,462.5 L129.2,462.5 L129.2,462.7 L129.6,462.7 L129.6,465.5 Z" fill="#5e0a0c"/><path d="M134.6,465.5 L134.6,459.5 L135.6,459.5 L135.6,457.6 L136.6,457.6 L136.6,457.1 L137.6,457.1 L137.6,455.6 L138.6,455.6 L138.6,453.1 L139.6,453.1 L139.6,453.9 L140.6,453.9 L140.6,450.9 L141.6,450.9 L141.6,449.7 L142.6,449.7 L142.6,451.6 L143.6,451.6 L143.6,450.5 L144.6,450.5 L144.6,454.0 L145.6,454.0 L145.6,452.4 L146.6,452.4 L146.6,453.8 L147.6,453.8 L147.6,455.4 L148.6,455.4 L148.6,456.1 L149.6,456.1 L149.6,459.2 L150.6,459.2 L150.6,459.3 L151.6,459.3 L151.6,459.2 L152.6,459.2 L152.6,463.4 L153.6,463.4 L153.6,463.5 L154.6,463.5 L154.6,463.5 L155.6,463.5 L155.6,463.6 L156.6,463.6 L156.6,463.9 L157.6,463.9 L157.6,464.2 L158.6,464.2 L158.6,464.2 L159.6,464.2 L159.6,464.5 L160.6,464.5 L160.6,464.8 L161.6,464.8 L161.6,465.1 L162.0,465.1 L162.0,465.5 Z" fill="#5e0a0c"/><rect x="149.2" y="454.4" width="0.8" height="10.8" fill="#fff" fill-opacity="0.85"/><path d="M168.8,465.5 L168.8,463.0 L169.8,463.0 L169.8,462.7 L170.8,462.7 L170.8,462.3 L171.8,462.3 L171.8,462.5 L172.8,462.5 L172.8,461.9 L173.8,461.9 L173.8,462.4 L174.8,462.4 L174.8,462.0 L175.8,462.0 L175.8,462.6 L176.8,462.6 L176.8,462.4 L177.8,462.4 L177.8,462.3 L178.8,462.3 L178.8,464.7 L179.0,464.7 L179.0,465.5 Z" fill="#5e0a0c"/><rect x="242" y="463.20000000000005" width="9" height="2" fill="#5e0a0c"/>
<line x1="80" y1="487.90000000000003" x2="517" y2="487.90000000000003" stroke="#e4b4c0" stroke-width="1"/><rect x="104.5" y="487.3" width="9.8" height="1.1" fill="#b8687a"/><rect x="124.2" y="487.3" width="12.2" height="1.1" fill="#b8687a"/><rect x="136.8" y="487.3" width="8.8" height="1.1" fill="#b8687a"/><rect x="203.0" y="487.3" width="8.6" height="1.1" fill="#b8687a"/><rect x="213.2" y="487.3" width="10.8" height="1.1" fill="#b8687a"/><rect x="231.6" y="487.3" width="12.5" height="1.1" fill="#b8687a"/><rect x="246.6" y="487.3" width="7.2" height="1.1" fill="#b8687a"/><rect x="254.5" y="487.3" width="13.1" height="1.1" fill="#b8687a"/><rect x="287.1" y="487.3" width="4.8" height="1.1" fill="#b8687a"/><rect x="293.8" y="487.3" width="8.7" height="1.1" fill="#b8687a"/><rect x="303.9" y="487.3" width="10.4" height="1.1" fill="#b8687a"/><rect x="324.8" y="487.3" width="4.4" height="1.1" fill="#b8687a"/><rect x="342.0" y="487.3" width="7.1" height="1.1" fill="#b8687a"/><rect x="358.8" y="487.3" width="7.9" height="1.1" fill="#b8687a"/><rect x="369.4" y="487.3" width="12.7" height="1.1" fill="#b8687a"/><rect x="384.5" y="487.3" width="11.7" height="1.1" fill="#b8687a"/><rect x="397.9" y="487.3" width="9.0" height="1.1" fill="#b8687a"/><rect x="407.5" y="487.3" width="5.6" height="1.1" fill="#b8687a"/><rect x="416.4" y="487.3" width="7.9" height="1.1" fill="#b8687a"/><rect x="431.9" y="487.3" width="12.6" height="1.1" fill="#b8687a"/><rect x="453.9" y="487.3" width="13.8" height="1.1" fill="#b8687a"/><rect x="471.2" y="487.3" width="9.7" height="1.1" fill="#b8687a"/><rect x="483.2" y="487.3" width="4.6" height="1.1" fill="#b8687a"/><rect x="488.3" y="487.3" width="2.1" height="1.1" fill="#b8687a"/><rect x="492.2" y="487.3" width="13.2" height="1.1" fill="#b8687a"/><rect x="506.7" y="487.3" width="10.3" height="1.1" fill="#b8687a"/><path d="M99.8,487.9 L99.8,486.3 L100.8,486.3 L100.8,485.9 L101.8,485.9 L101.8,485.4 L102.8,485.4 L102.8,484.8 L103.8,484.8 L103.8,484.4 L104.8,484.4 L104.8,484.0 L105.8,484.0 L105.8,483.6 L106.8,483.6 L106.8,483.3 L107.8,483.3 L107.8,481.8 L108.8,481.8 L108.8,481.9 L109.8,481.9 L109.8,483.1 L110.4,483.1 L110.4,487.9 Z" fill="#5e0a0c"/><path d="M115.2,487.9 L115.2,486.3 L116.2,486.3 L116.2,485.5 L117.2,485.5 L117.2,484.8 L118.2,484.8 L118.2,484.5 L119.2,484.5 L119.2,484.1 L120.2,484.1 L120.2,483.4 L121.2,483.4 L121.2,483.3 L122.2,483.3 L122.2,483.0 L123.2,483.0 L123.2,482.8 L124.2,482.8 L124.2,482.7 L125.2,482.7 L125.2,481.6 L126.2,481.6 L126.2,481.9 L127.2,481.9 L127.2,481.6 L128.2,481.6 L128.2,482.8 L129.2,482.8 L129.2,482.7 L129.6,482.7 L129.6,487.9 Z" fill="#5e0a0c"/><path d="M134.6,487.9 L134.6,481.7 L135.6,481.7 L135.6,480.9 L136.6,480.9 L136.6,478.7 L137.6,478.7 L137.6,477.4 L138.6,477.4 L138.6,473.7 L139.6,473.7 L139.6,473.8 L140.6,473.8 L140.6,472.0 L141.6,472.0 L141.6,474.3 L142.6,474.3 L142.6,471.3 L143.6,471.3 L143.6,471.7 L144.6,471.7 L144.6,475.7 L145.6,475.7 L145.6,474.5 L146.6,474.5 L146.6,475.5 L147.6,475.5 L147.6,477.9 L148.6,477.9 L148.6,477.0 L149.6,477.0 L149.6,481.7 L150.6,481.7 L150.6,482.1 L151.6,482.1 L151.6,481.6 L152.6,481.6 L152.6,486.1 L153.6,486.1 L153.6,486.2 L154.6,486.2 L154.6,486.0 L155.6,486.0 L155.6,486.1 L156.6,486.1 L156.6,486.4 L157.6,486.4 L157.6,486.4 L158.6,486.4 L158.6,486.7 L159.6,486.7 L159.6,486.8 L160.6,486.8 L160.6,487.3 L161.6,487.3 L161.6,487.5 L162.0,487.5 L162.0,487.9 Z" fill="#5e0a0c"/><rect x="149.2" y="476.1" width="0.8" height="11.6" fill="#fff" fill-opacity="0.85"/><path d="M168.8,487.9 L168.8,483.9 L169.8,483.9 L169.8,483.9 L170.8,483.9 L170.8,483.0 L171.8,483.0 L171.8,482.7 L172.8,482.7 L172.8,482.5 L173.8,482.5 L173.8,481.4 L174.8,481.4 L174.8,481.3 L175.8,481.3 L175.8,482.5 L176.8,482.5 L176.8,482.1 L177.8,482.1 L177.8,482.4 L178.8,482.4 L178.8,486.7 L179.0,486.7 L179.0,487.9 Z" fill="#5e0a0c"/>
<line x1="80" y1="510.3" x2="517" y2="510.3" stroke="#e4b4c0" stroke-width="1"/><rect x="108.3" y="509.7" width="2.9" height="1.1" fill="#b8687a"/><rect x="126.5" y="509.7" width="9.7" height="1.1" fill="#b8687a"/><rect x="151.4" y="509.7" width="3.1" height="1.1" fill="#b8687a"/><rect x="179.1" y="509.7" width="7.8" height="1.1" fill="#b8687a"/><rect x="189.2" y="509.7" width="11.6" height="1.1" fill="#b8687a"/><rect x="231.4" y="509.7" width="6.7" height="1.1" fill="#b8687a"/><rect x="256.4" y="509.7" width="13.9" height="1.1" fill="#b8687a"/><rect x="277.2" y="509.7" width="9.2" height="1.1" fill="#b8687a"/><rect x="287.6" y="509.7" width="12.0" height="1.1" fill="#b8687a"/><rect x="332.2" y="509.7" width="12.1" height="1.1" fill="#b8687a"/><rect x="361.2" y="509.7" width="8.3" height="1.1" fill="#b8687a"/><rect x="404.5" y="509.7" width="12.6" height="1.1" fill="#b8687a"/><rect x="420.3" y="509.7" width="8.3" height="1.1" fill="#b8687a"/><rect x="439.1" y="509.7" width="3.2" height="1.1" fill="#b8687a"/><rect x="464.7" y="509.7" width="13.0" height="1.1" fill="#b8687a"/><rect x="479.4" y="509.7" width="5.8" height="1.1" fill="#b8687a"/><path d="M99.8,510.3 L99.8,509.1 L100.8,509.1 L100.8,508.5 L101.8,508.5 L101.8,508.1 L102.8,508.1 L102.8,507.9 L103.8,507.9 L103.8,507.7 L104.8,507.7 L104.8,507.2 L105.8,507.2 L105.8,507.4 L106.8,507.4 L106.8,506.7 L107.8,506.7 L107.8,506.3 L108.8,506.3 L108.8,506.2 L109.8,506.2 L109.8,506.4 L110.4,506.4 L110.4,510.3 Z" fill="#5e0a0c"/><path d="M115.2,510.3 L115.2,508.4 L116.2,508.4 L116.2,507.4 L117.2,507.4 L117.2,507.1 L118.2,507.1 L118.2,506.8 L119.2,506.8 L119.2,506.4 L120.2,506.4 L120.2,505.2 L121.2,505.2 L121.2,504.6 L122.2,504.6 L122.2,503.9 L123.2,503.9 L123.2,504.3 L124.2,504.3 L124.2,504.2 L125.2,504.2 L125.2,503.4 L126.2,503.4 L126.2,503.3 L127.2,503.3 L127.2,504.2 L128.2,504.2 L128.2,503.9 L129.2,503.9 L129.2,505.1 L129.6,505.1 L129.6,510.3 Z" fill="#5e0a0c"/><path d="M134.6,510.3 L134.6,506.1 L135.6,506.1 L135.6,503.4 L136.6,503.4 L136.6,503.4 L137.6,503.4 L137.6,499.9 L138.6,499.9 L138.6,500.6 L139.6,500.6 L139.6,500.0 L140.6,500.0 L140.6,497.2 L141.6,497.2 L141.6,496.5 L142.6,496.5 L142.6,497.9 L143.6,497.9 L143.6,499.5 L144.6,499.5 L144.6,498.3 L145.6,498.3 L145.6,500.8 L146.6,500.8 L146.6,501.5 L147.6,501.5 L147.6,501.3 L148.6,501.3 L148.6,502.7 L149.6,502.7 L149.6,505.4 L150.6,505.4 L150.6,505.6 L151.6,505.6 L151.6,504.8 L152.6,504.8 L152.6,508.6 L153.6,508.6 L153.6,508.6 L154.6,508.6 L154.6,508.8 L155.6,508.8 L155.6,508.6 L156.6,508.6 L156.6,508.8 L157.6,508.8 L157.6,508.9 L158.6,508.9 L158.6,509.2 L159.6,509.2 L159.6,509.3 L160.6,509.3 L160.6,509.7 L161.6,509.7 L161.6,509.9 L162.0,509.9 L162.0,510.3 Z" fill="#5e0a0c"/><rect x="149.2" y="500.6" width="0.8" height="9.4" fill="#fff" fill-opacity="0.85"/><path d="M168.8,510.3 L168.8,507.5 L169.8,507.5 L169.8,506.9 L170.8,506.9 L170.8,506.3 L171.8,506.3 L171.8,505.3 L172.8,505.3 L172.8,505.8 L173.8,505.8 L173.8,505.3 L174.8,505.3 L174.8,504.9 L175.8,504.9 L175.8,505.4 L176.8,505.4 L176.8,506.2 L177.8,506.2 L177.8,506.6 L178.8,506.6 L178.8,509.2 L179.0,509.2 L179.0,510.3 Z" fill="#5e0a0c"/>
<line x1="80" y1="532.6999999999999" x2="517" y2="532.6999999999999" stroke="#e4b4c0" stroke-width="1"/><rect x="83.1" y="532.1" width="8.4" height="1.1" fill="#b8687a"/><rect x="92.6" y="532.1" width="12.7" height="1.1" fill="#b8687a"/><rect x="108.6" y="532.1" width="2.2" height="1.1" fill="#b8687a"/><rect x="114.7" y="532.1" width="7.9" height="1.1" fill="#b8687a"/><rect x="125.3" y="532.1" width="6.8" height="1.1" fill="#b8687a"/><rect x="134.7" y="532.1" width="11.1" height="1.1" fill="#b8687a"/><rect x="151.6" y="532.1" width="12.7" height="1.1" fill="#b8687a"/><rect x="166.7" y="532.1" width="9.4" height="1.1" fill="#b8687a"/><rect x="176.6" y="532.1" width="7.4" height="1.1" fill="#b8687a"/><rect x="193.7" y="532.1" width="10.6" height="1.1" fill="#b8687a"/><rect x="220.9" y="532.1" width="11.6" height="1.1" fill="#b8687a"/><rect x="235.1" y="532.1" width="12.1" height="1.1" fill="#b8687a"/><rect x="247.3" y="532.1" width="13.1" height="1.1" fill="#b8687a"/><rect x="260.8" y="532.1" width="9.5" height="1.1" fill="#b8687a"/><rect x="274.0" y="532.1" width="10.5" height="1.1" fill="#b8687a"/><rect x="287.7" y="532.1" width="13.7" height="1.1" fill="#b8687a"/><rect x="341.3" y="532.1" width="7.4" height="1.1" fill="#b8687a"/><rect x="375.3" y="532.1" width="9.6" height="1.1" fill="#b8687a"/><rect x="391.0" y="532.1" width="12.7" height="1.1" fill="#b8687a"/><rect x="405.9" y="532.1" width="10.0" height="1.1" fill="#b8687a"/><rect x="419.7" y="532.1" width="3.9" height="1.1" fill="#b8687a"/><rect x="450.4" y="532.1" width="3.7" height="1.1" fill="#b8687a"/><rect x="496.3" y="532.1" width="7.3" height="1.1" fill="#b8687a"/><rect x="513.2" y="532.1" width="3.8" height="1.1" fill="#b8687a"/><path d="M99.8,532.7 L99.8,531.1 L100.8,531.1 L100.8,530.4 L101.8,530.4 L101.8,530.1 L102.8,530.1 L102.8,529.8 L103.8,529.8 L103.8,529.6 L104.8,529.6 L104.8,528.8 L105.8,528.8 L105.8,528.0 L106.8,528.0 L106.8,527.6 L107.8,527.6 L107.8,527.2 L108.8,527.2 L108.8,527.0 L109.8,527.0 L109.8,526.8 L110.4,526.8 L110.4,532.7 Z" fill="#5e0a0c"/><path d="M115.2,532.7 L115.2,531.5 L116.2,531.5 L116.2,530.9 L117.2,530.9 L117.2,530.3 L118.2,530.3 L118.2,530.0 L119.2,530.0 L119.2,529.7 L120.2,529.7 L120.2,529.4 L121.2,529.4 L121.2,528.9 L122.2,528.9 L122.2,529.1 L123.2,529.1 L123.2,528.3 L124.2,528.3 L124.2,528.6 L125.2,528.6 L125.2,528.7 L126.2,528.7 L126.2,527.9 L127.2,527.9 L127.2,528.9 L128.2,528.9 L128.2,528.7 L129.2,528.7 L129.2,528.8 L129.6,528.8 L129.6,532.7 Z" fill="#5e0a0c"/><path d="M134.6,532.7 L134.6,525.4 L135.6,525.4 L135.6,523.9 L136.6,523.9 L136.6,521.1 L137.6,521.1 L137.6,518.4 L138.6,518.4 L138.6,514.6 L139.6,514.6 L139.6,514.7 L140.6,514.7 L140.6,515.8 L141.6,515.8 L141.6,513.0 L142.6,513.0 L142.6,512.2 L143.6,512.2 L143.6,516.2 L144.6,516.2 L144.6,515.2 L145.6,515.2 L145.6,514.9 L146.6,514.9 L146.6,516.4 L147.6,516.4 L147.6,519.6 L148.6,519.6 L148.6,518.2 L149.6,518.2 L149.6,524.6 L150.6,524.6 L150.6,524.6 L151.6,524.6 L151.6,524.9 L152.6,524.9 L152.6,530.0 L153.6,530.0 L153.6,530.1 L154.6,530.1 L154.6,530.6 L155.6,530.6 L155.6,530.5 L156.6,530.5 L156.6,530.7 L157.6,530.7 L157.6,530.9 L158.6,530.9 L158.6,531.4 L159.6,531.4 L159.6,531.7 L160.6,531.7 L160.6,532.1 L161.6,532.1 L161.6,532.3 L162.0,532.3 L162.0,532.7 Z" fill="#5e0a0c"/><rect x="149.2" y="517.4" width="0.8" height="15.0" fill="#fff" fill-opacity="0.85"/><path d="M168.8,532.7 L168.8,530.8 L169.8,530.8 L169.8,530.5 L170.8,530.5 L170.8,530.2 L171.8,530.2 L171.8,530.2 L172.8,530.2 L172.8,530.2 L173.8,530.2 L173.8,529.5 L174.8,529.5 L174.8,529.6 L175.8,529.6 L175.8,529.9 L176.8,529.9 L176.8,530.0 L177.8,530.0 L177.8,530.1 L178.8,530.1 L178.8,531.9 L179.0,531.9 L179.0,532.7 Z" fill="#5e0a0c"/><rect x="242" y="530.4" width="9" height="2" fill="#5e0a0c"/>
<line x1="80" y1="555.0999999999999" x2="517" y2="555.0999999999999" stroke="#e4b4c0" stroke-width="1"/><rect x="80.0" y="554.5" width="9.2" height="1.1" fill="#b8687a"/><rect x="92.6" y="554.5" width="2.9" height="1.1" fill="#b8687a"/><rect x="124.2" y="554.5" width="7.8" height="1.1" fill="#b8687a"/><rect x="132.6" y="554.5" width="6.8" height="1.1" fill="#b8687a"/><rect x="141.1" y="554.5" width="7.2" height="1.1" fill="#b8687a"/><rect x="151.2" y="554.5" width="6.9" height="1.1" fill="#b8687a"/><rect x="165.8" y="554.5" width="5.5" height="1.1" fill="#b8687a"/><rect x="183.8" y="554.5" width="12.2" height="1.1" fill="#b8687a"/><rect x="199.0" y="554.5" width="3.3" height="1.1" fill="#b8687a"/><rect x="205.7" y="554.5" width="8.9" height="1.1" fill="#b8687a"/><rect x="215.5" y="554.5" width="5.8" height="1.1" fill="#b8687a"/><rect x="221.3" y="554.5" width="7.9" height="1.1" fill="#b8687a"/><rect x="243.5" y="554.5" width="7.1" height="1.1" fill="#b8687a"/><rect x="253.5" y="554.5" width="11.2" height="1.1" fill="#b8687a"/><rect x="285.3" y="554.5" width="2.3" height="1.1" fill="#b8687a"/><rect x="290.8" y="554.5" width="9.8" height="1.1" fill="#b8687a"/><rect x="302.0" y="554.5" width="10.6" height="1.1" fill="#b8687a"/><rect x="315.2" y="554.5" width="8.5" height="1.1" fill="#b8687a"/><rect x="324.8" y="554.5" width="9.6" height="1.1" fill="#b8687a"/><rect x="337.1" y="554.5" width="4.9" height="1.1" fill="#b8687a"/><rect x="366.3" y="554.5" width="3.2" height="1.1" fill="#b8687a"/><rect x="369.8" y="554.5" width="4.5" height="1.1" fill="#b8687a"/><rect x="375.8" y="554.5" width="12.8" height="1.1" fill="#b8687a"/><rect x="391.3" y="554.5" width="3.5" height="1.1" fill="#b8687a"/><rect x="413.8" y="554.5" width="3.1" height="1.1" fill="#b8687a"/><rect x="432.4" y="554.5" width="8.5" height="1.1" fill="#b8687a"/><rect x="453.9" y="554.5" width="7.3" height="1.1" fill="#b8687a"/><rect x="463.5" y="554.5" width="6.1" height="1.1" fill="#b8687a"/><rect x="473.2" y="554.5" width="9.7" height="1.1" fill="#b8687a"/><rect x="485.5" y="554.5" width="2.0" height="1.1" fill="#b8687a"/><rect x="511.8" y="554.5" width="5.2" height="1.1" fill="#b8687a"/><path d="M99.8,555.1 L99.8,553.6 L100.8,553.6 L100.8,552.5 L101.8,552.5 L101.8,552.2 L102.8,552.2 L102.8,551.7 L103.8,551.7 L103.8,551.2 L104.8,551.2 L104.8,550.9 L105.8,550.9 L105.8,550.5 L106.8,550.5 L106.8,549.5 L107.8,549.5 L107.8,548.6 L108.8,548.6 L108.8,549.2 L109.8,549.2 L109.8,548.6 L110.4,548.6 L110.4,555.1 Z" fill="#5e0a0c"/><path d="M115.2,555.1 L115.2,553.5 L116.2,553.5 L116.2,552.7 L117.2,552.7 L117.2,552.4 L118.2,552.4 L118.2,552.0 L119.2,552.0 L119.2,551.5 L120.2,551.5 L120.2,551.4 L121.2,551.4 L121.2,550.4 L122.2,550.4 L122.2,549.9 L123.2,549.9 L123.2,549.9 L124.2,549.9 L124.2,549.5 L125.2,549.5 L125.2,549.3 L126.2,549.3 L126.2,549.4 L127.2,549.4 L127.2,550.1 L128.2,550.1 L128.2,550.1 L129.2,550.1 L129.2,550.9 L129.6,550.9 L129.6,555.1 Z" fill="#5e0a0c"/><path d="M134.6,555.1 L134.6,549.1 L135.6,549.1 L135.6,547.9 L136.6,547.9 L136.6,546.1 L137.6,546.1 L137.6,543.7 L138.6,543.7 L138.6,543.4 L139.6,543.4 L139.6,541.0 L140.6,541.0 L140.6,540.3 L141.6,540.3 L141.6,540.3 L142.6,540.3 L142.6,542.0 L143.6,542.0 L143.6,541.9 L144.6,541.9 L144.6,541.8 L145.6,541.8 L145.6,543.4 L146.6,543.4 L146.6,545.2 L147.6,545.2 L147.6,545.2 L148.6,545.2 L148.6,545.0 L149.6,545.0 L149.6,549.6 L150.6,549.6 L150.6,549.3 L151.6,549.3 L151.6,549.1 L152.6,549.1 L152.6,553.3 L153.6,553.3 L153.6,553.1 L154.6,553.1 L154.6,553.4 L155.6,553.4 L155.6,553.5 L156.6,553.5 L156.6,553.5 L157.6,553.5 L157.6,553.8 L158.6,553.8 L158.6,553.9 L159.6,553.9 L159.6,554.1 L160.6,554.1 L160.6,554.4 L161.6,554.4 L161.6,554.7 L162.0,554.7 L162.0,555.1 Z" fill="#5e0a0c"/><rect x="149.2" y="544.0" width="0.8" height="10.8" fill="#fff" fill-opacity="0.85"/><path d="M168.8,555.1 L168.8,553.1 L169.8,553.1 L169.8,552.9 L170.8,552.9 L170.8,552.2 L171.8,552.2 L171.8,551.9 L172.8,551.9 L172.8,552.3 L173.8,552.3 L173.8,552.2 L174.8,552.2 L174.8,551.8 L175.8,551.8 L175.8,552.2 L176.8,552.2 L176.8,552.1 L177.8,552.1 L177.8,552.5 L178.8,552.5 L178.8,554.3 L179.0,554.3 L179.0,555.1 Z" fill="#5e0a0c"/><rect x="242" y="553.3" width="9" height="1.5" fill="#5e0a0c"/>
<line x1="205.9" y1="380.7" x2="190.1" y2="389.1" stroke="#000" stroke-width="2.3"/><path d="M180.4,394.3 L187.7,384.5 L192.6,393.7 Z" fill="#000"/>
<rect x="433" y="396.2" width="5" height="1.8" fill="#5e0a0c"/>
<rect x="432" y="417.8" width="7.5" height="3" fill="#4a0608"/>
<rect x="414" y="553.5" width="3" height="1.5" fill="#5e0a0c"/>
<line x1="205.9" y1="468" x2="190.0" y2="476.9" stroke="#000" stroke-width="2.3"/><path d="M180.4,482.3 L187.5,472.4 L192.5,481.5 Z" fill="#000"/>
<rect x="80" y="556" width="438" height="7" fill="#c4d0cc"/>
<text x="299.7" y="561.9" font-family="'Liberation Mono',monospace" font-size="7" font-weight="bold" font-style="normal" text-anchor="middle" fill="#3a3a3a"  textLength="34.5" lengthAdjust="spacingAndGlyphs">22q11.21</text>
<text x="97.4" y="574.5" font-family="'Liberation Sans',sans-serif" font-size="10.8" font-weight="bold" font-style="normal" text-anchor="start" fill="#000"  textLength="33.6" lengthAdjust="spacingAndGlyphs" stroke="#000" stroke-width="0.18">PEX26</text>
<line x1="150" y1="569.7" x2="505.5" y2="569.7" stroke="#7c86ee" stroke-width="1"/>
<path d="M156,568.2 L157.5,569.7 L156,571.2 M160.2,568.2 L161.7,569.7 L160.2,571.2 M164.39999999999998,568.2 L165.89999999999998,569.7 L164.39999999999998,571.2 M168.59999999999997,568.2 L170.09999999999997,569.7 L168.59999999999997,571.2 M172.79999999999995,568.2 L174.29999999999995,569.7 L172.79999999999995,571.2 M176.99999999999994,568.2 L178.49999999999994,569.7 L176.99999999999994,571.2 M181.19999999999993,568.2 L182.69999999999993,569.7 L181.19999999999993,571.2 M185.39999999999992,568.2 L186.89999999999992,569.7 L185.39999999999992,571.2 M189.5999999999999,568.2 L191.0999999999999,569.7 L189.5999999999999,571.2 M193.7999999999999,568.2 L195.2999999999999,569.7 L193.7999999999999,571.2 M197.9999999999999,568.2 L199.4999999999999,569.7 L197.9999999999999,571.2 M202.19999999999987,568.2 L203.69999999999987,569.7 L202.19999999999987,571.2 M206.39999999999986,568.2 L207.89999999999986,569.7 L206.39999999999986,571.2 M210.59999999999985,568.2 L212.09999999999985,569.7 L210.59999999999985,571.2 M214.79999999999984,568.2 L216.29999999999984,569.7 L214.79999999999984,571.2 M218.99999999999983,568.2 L220.49999999999983,569.7 L218.99999999999983,571.2 M223.19999999999982,568.2 L224.69999999999982,569.7 L223.19999999999982,571.2 M227.3999999999998,568.2 L228.8999999999998,569.7 L227.3999999999998,571.2 M231.5999999999998,568.2 L233.0999999999998,569.7 L231.5999999999998,571.2 M235.79999999999978,568.2 L237.29999999999978,569.7 L235.79999999999978,571.2 M239.99999999999977,568.2 L241.49999999999977,569.7 L239.99999999999977,571.2 M244.19999999999976,568.2 L245.69999999999976,569.7 L244.19999999999976,571.2 M248.39999999999975,568.2 L249.89999999999975,569.7 L248.39999999999975,571.2 M252.59999999999974,568.2 L254.09999999999974,569.7 L252.59999999999974,571.2 M256.7999999999997,568.2 L258.2999999999997,569.7 L256.7999999999997,571.2 M260.9999999999997,568.2 L262.4999999999997,569.7 L260.9999999999997,571.2 M265.1999999999997,568.2 L266.6999999999997,569.7 L265.1999999999997,571.2 M269.3999999999997,568.2 L270.8999999999997,569.7 L269.3999999999997,571.2 M273.5999999999997,568.2 L275.0999999999997,569.7 L273.5999999999997,571.2 M277.79999999999967,568.2 L279.29999999999967,569.7 L277.79999999999967,571.2 M281.99999999999966,568.2 L283.49999999999966,569.7 L281.99999999999966,571.2 M286.19999999999965,568.2 L287.69999999999965,569.7 L286.19999999999965,571.2 M290.39999999999964,568.2 L291.89999999999964,569.7 L290.39999999999964,571.2 M294.5999999999996,568.2 L296.0999999999996,569.7 L294.5999999999996,571.2 M298.7999999999996,568.2 L300.2999999999996,569.7 L298.7999999999996,571.2 M302.9999999999996,568.2 L304.4999999999996,569.7 L302.9999999999996,571.2 M307.1999999999996,568.2 L308.6999999999996,569.7 L307.1999999999996,571.2 M311.3999999999996,568.2 L312.8999999999996,569.7 L311.3999999999996,571.2 M315.59999999999957,568.2 L317.09999999999957,569.7 L315.59999999999957,571.2 M319.79999999999956,568.2 L321.29999999999956,569.7 L319.79999999999956,571.2 M323.99999999999955,568.2 L325.49999999999955,569.7 L323.99999999999955,571.2 M328.19999999999953,568.2 L329.69999999999953,569.7 L328.19999999999953,571.2 M332.3999999999995,568.2 L333.8999999999995,569.7 L332.3999999999995,571.2 M336.5999999999995,568.2 L338.0999999999995,569.7 L336.5999999999995,571.2 M340.7999999999995,568.2 L342.2999999999995,569.7 L340.7999999999995,571.2 M344.9999999999995,568.2 L346.4999999999995,569.7 L344.9999999999995,571.2 M349.1999999999995,568.2 L350.6999999999995,569.7 L349.1999999999995,571.2 M353.39999999999947,568.2 L354.89999999999947,569.7 L353.39999999999947,571.2 M357.59999999999945,568.2 L359.09999999999945,569.7 L357.59999999999945,571.2 M361.79999999999944,568.2 L363.29999999999944,569.7 L361.79999999999944,571.2 M365.99999999999943,568.2 L367.49999999999943,569.7 L365.99999999999943,571.2 M370.1999999999994,568.2 L371.6999999999994,569.7 L370.1999999999994,571.2 M374.3999999999994,568.2 L375.8999999999994,569.7 L374.3999999999994,571.2 M378.5999999999994,568.2 L380.0999999999994,569.7 L378.5999999999994,571.2 M382.7999999999994,568.2 L384.2999999999994,569.7 L382.7999999999994,571.2 M386.9999999999994,568.2 L388.4999999999994,569.7 L386.9999999999994,571.2 M391.19999999999936,568.2 L392.69999999999936,569.7 L391.19999999999936,571.2 M395.39999999999935,568.2 L396.89999999999935,569.7 L395.39999999999935,571.2 M399.59999999999934,568.2 L401.09999999999934,569.7 L399.59999999999934,571.2 M403.79999999999933,568.2 L405.29999999999933,569.7 L403.79999999999933,571.2 M407.9999999999993,568.2 L409.4999999999993,569.7 L407.9999999999993,571.2 M412.1999999999993,568.2 L413.6999999999993,569.7 L412.1999999999993,571.2 M416.3999999999993,568.2 L417.8999999999993,569.7 L416.3999999999993,571.2 M420.5999999999993,568.2 L422.0999999999993,569.7 L420.5999999999993,571.2 M424.7999999999993,568.2 L426.2999999999993,569.7 L424.7999999999993,571.2 M428.99999999999926,568.2 L430.49999999999926,569.7 L428.99999999999926,571.2 M433.19999999999925,568.2 L434.69999999999925,569.7 L433.19999999999925,571.2 M437.39999999999924,568.2 L438.89999999999924,569.7 L437.39999999999924,571.2 M441.5999999999992,568.2 L443.0999999999992,569.7 L441.5999999999992,571.2 M445.7999999999992,568.2 L447.2999999999992,569.7 L445.7999999999992,571.2 M449.9999999999992,568.2 L451.4999999999992,569.7 L449.9999999999992,571.2 M454.1999999999992,568.2 L455.6999999999992,569.7 L454.1999999999992,571.2 M458.3999999999992,568.2 L459.8999999999992,569.7 L458.3999999999992,571.2 M462.59999999999917,568.2 L464.09999999999917,569.7 L462.59999999999917,571.2 " stroke="#3c48e4" stroke-width="0.9" fill="none"/>
<rect x="151" y="568.2" width="3.1999999999999886" height="3.2999999999999545" fill="#3c48e4"/>
<rect x="162.3" y="565.4" width="6.699999999999989" height="8.399999999999977" fill="#3c48e4"/>
<rect x="201.2" y="565.4" width="4.200000000000017" height="8.399999999999977" fill="#3c48e4"/>
<rect x="294.4" y="565.7" width="8.0" height="8.799999999999955" fill="#3c48e4"/>
<rect x="337.8" y="565.7" width="4.399999999999977" height="8.799999999999955" fill="#3c48e4"/>
<rect x="411.7" y="565.4" width="5.699999999999989" height="8.800000000000068" fill="#3c48e4"/>
<rect x="417.4" y="567.4" width="9.600000000000023" height="4.899999999999977" fill="#3c48e4"/>
<rect x="466" y="567.4" width="39.5" height="4.899999999999977" fill="#3c48e4"/>
<path d="M159.8,567.6 L162.3,565.4 L162.3,573.8 L159.8,571.8 Z" fill="#3c48e4"/>
<line x1="131" y1="586.3" x2="505.5" y2="586.3" stroke="#000" stroke-width="1.3"/>
<rect x="131" y="582.6" width="44.30000000000001" height="7.2" fill="#000"/>
<rect x="201.5" y="582.6" width="3.6999999999999886" height="7.2" fill="#000"/>
<rect x="294.4" y="582.6" width="8.0" height="7.2" fill="#000"/>
<rect x="337.8" y="582.6" width="4.399999999999977" height="7.2" fill="#000"/>
<rect x="412.6" y="582.6" width="15.399999999999977" height="7.2" fill="#000"/>
<rect x="461.7" y="582.6" width="43.80000000000001" height="7.2" fill="#000"/>
<rect x="147.5" y="594.6" width="21.6" height="6.5" fill="#135a1e"/>
<path d="M118.3,603.5 Q122,574.5 143.5,569.7" stroke="#111" stroke-width="1" fill="none"/>
<path d="M150.3,569.7 L142.6,566.6 L142.6,572.8 Z" fill="#000"/>
<text x="86.5" y="612.7" font-family="'Liberation Sans',sans-serif" font-size="9.2" font-weight="normal" font-style="italic" text-anchor="start" fill="#111"  textLength="70.8" lengthAdjust="spacingAndGlyphs">transcription start</text>
<line x1="80" y1="629.5" x2="517" y2="629.5" stroke="#c8c0a0" stroke-width="0.8"/>
<rect x="148" y="627.5" width="1" height="2" fill="#1c28e0"/>
<rect x="150" y="625.5" width="2" height="4" fill="#1c28e0"/>
<rect x="152" y="618.9" width="1.3000000000000114" height="10.6" fill="#1c28e0"/>
<rect x="153.3" y="624.5" width="2.6999999999999886" height="5" fill="#1c28e0"/>
<rect x="156" y="625.5" width="4" height="4" fill="#1c28e0"/>
<rect x="160" y="623.0" width="2" height="6.5" fill="#1c28e0"/>
<rect x="164" y="622.5" width="2" height="7" fill="#1c28e0"/>
<rect x="166" y="625.5" width="1" height="4" fill="#1c28e0"/>
<rect x="201.2" y="622.5" width="4.300000000000011" height="7" fill="#1c28e0"/>
<rect x="202.5" y="618.0" width="2.0" height="11.5" fill="#1c28e0"/>
<rect x="244" y="604.0" width="3.1999999999999886" height="25.5" fill="#c0c0f0"/>
<rect x="242.2" y="622.5" width="6.800000000000011" height="7" fill="#b4b4ec"/>
<rect x="294.4" y="622.5" width="8.100000000000023" height="7" fill="#1c28e0"/>
<rect x="296" y="618.5" width="4" height="11" fill="#1c28e0"/>
<rect x="338" y="619.5" width="3" height="10" fill="#1c28e0"/>
<rect x="413.7" y="623.5" width="13.100000000000023" height="6" fill="#1c28e0"/>
<rect x="416" y="620.5" width="2" height="9" fill="#1c28e0"/>
<rect x="421" y="621.0" width="3" height="8.5" fill="#1c28e0"/>
<rect x="433.3" y="622.5" width="14.699999999999989" height="7" fill="#1c28e0"/>
<rect x="438" y="618.5" width="4" height="11" fill="#1c28e0"/>
<rect x="451.3" y="624.0" width="4.899999999999977" height="5.5" fill="#1c28e0"/>
<rect x="466" y="625.5" width="3.3000000000000114" height="4" fill="#1c28e0"/>
<rect x="473.5" y="623.5" width="12.100000000000023" height="6" fill="#1c28e0"/>
<rect x="475.5" y="617.2" width="2.0" height="12.3" fill="#1c28e0"/>
<rect x="480" y="620.5" width="3" height="9" fill="#1c28e0"/>
<rect x="496.4" y="621.0" width="3.3000000000000114" height="8.5" fill="#9a8a40"/>
<rect x="510" y="624.0" width="8" height="5.5" fill="#1c28e0"/>
<rect x="84" y="628.0" width="1.5" height="1.5" fill="#a89a60"/>
<rect x="96" y="628.2" width="1.5" height="1.3" fill="#a89a60"/>
<rect x="100" y="628.9" width="1.5" height="0.6" fill="#a89a60"/>
<rect x="108" y="627.8" width="1.5" height="1.7" fill="#a89a60"/>
<rect x="110" y="627.8" width="1.5" height="1.7" fill="#a89a60"/>
<rect x="112" y="627.7" width="1.5" height="1.8" fill="#a89a60"/>
<rect x="128" y="628.3" width="1.5" height="1.2" fill="#a89a60"/>
<rect x="136" y="628.8" width="1.5" height="0.7" fill="#a89a60"/>
<rect x="138" y="627.5" width="1.5" height="2.0" fill="#a89a60"/>
<rect x="140" y="628.6" width="1.5" height="0.9" fill="#a89a60"/>
<rect x="148" y="627.5" width="1.5" height="2.0" fill="#a89a60"/>
<rect x="152" y="628.6" width="1.5" height="0.9" fill="#a89a60"/>
<rect x="158" y="628.6" width="1.5" height="0.9" fill="#a89a60"/>
<rect x="166" y="627.8" width="1.5" height="1.7" fill="#a89a60"/>
<rect x="168" y="628.9" width="1.5" height="0.6" fill="#a89a60"/>
<rect x="170" y="627.7" width="1.5" height="1.8" fill="#a89a60"/>
<rect x="180" y="627.8" width="1.5" height="1.7" fill="#a89a60"/>
<rect x="182" y="628.3" width="1.5" height="1.2" fill="#a89a60"/>
<rect x="184" y="628.7" width="1.5" height="0.8" fill="#a89a60"/>
<rect x="206" y="627.9" width="1.5" height="1.6" fill="#a89a60"/>
<rect x="218" y="627.7" width="1.5" height="1.8" fill="#a89a60"/>
<rect x="222" y="627.8" width="1.5" height="1.7" fill="#a89a60"/>
<rect x="228" y="627.8" width="1.5" height="1.7" fill="#a89a60"/>
<rect x="232" y="628.6" width="1.5" height="0.9" fill="#a89a60"/>
<rect x="238" y="628.6" width="1.5" height="0.9" fill="#a89a60"/>
<rect x="240" y="628.0" width="1.5" height="1.5" fill="#a89a60"/>
<rect x="246" y="628.3" width="1.5" height="1.2" fill="#a89a60"/>
<rect x="264" y="627.5" width="1.5" height="2.0" fill="#a89a60"/>
<rect x="282" y="627.8" width="1.5" height="1.7" fill="#a89a60"/>
<rect x="284" y="628.7" width="1.5" height="0.8" fill="#a89a60"/>
<rect x="286" y="627.7" width="1.5" height="1.8" fill="#a89a60"/>
<rect x="290" y="628.6" width="1.5" height="0.9" fill="#a89a60"/>
<rect x="294" y="628.4" width="1.5" height="1.1" fill="#a89a60"/>
<rect x="296" y="627.9" width="1.5" height="1.6" fill="#a89a60"/>
<rect x="298" y="628.3" width="1.5" height="1.2" fill="#a89a60"/>
<rect x="306" y="628.3" width="1.5" height="1.2" fill="#a89a60"/>
<rect x="312" y="628.3" width="1.5" height="1.2" fill="#a89a60"/>
<rect x="324" y="628.3" width="1.5" height="1.2" fill="#a89a60"/>
<rect x="334" y="628.4" width="1.5" height="1.1" fill="#a89a60"/>
<rect x="340" y="627.5" width="1.5" height="2.0" fill="#a89a60"/>
<rect x="344" y="628.5" width="1.5" height="1.0" fill="#a89a60"/>
<rect x="348" y="628.7" width="1.5" height="0.8" fill="#a89a60"/>
<rect x="354" y="628.1" width="1.5" height="1.4" fill="#a89a60"/>
<rect x="366" y="628.3" width="1.5" height="1.2" fill="#a89a60"/>
<rect x="386" y="628.6" width="1.5" height="0.9" fill="#a89a60"/>
<rect x="388" y="627.7" width="1.5" height="1.8" fill="#a89a60"/>
<rect x="392" y="627.8" width="1.5" height="1.7" fill="#a89a60"/>
<rect x="394" y="627.7" width="1.5" height="1.8" fill="#a89a60"/>
<rect x="396" y="628.1" width="1.5" height="1.4" fill="#a89a60"/>
<rect x="408" y="627.7" width="1.5" height="1.8" fill="#a89a60"/>
<rect x="410" y="627.8" width="1.5" height="1.7" fill="#a89a60"/>
<rect x="412" y="628.8" width="1.5" height="0.7" fill="#a89a60"/>
<rect x="414" y="628.1" width="1.5" height="1.4" fill="#a89a60"/>
<rect x="416" y="628.7" width="1.5" height="0.8" fill="#a89a60"/>
<rect x="418" y="627.7" width="1.5" height="1.8" fill="#a89a60"/>
<rect x="448" y="628.4" width="1.5" height="1.1" fill="#a89a60"/>
<rect x="452" y="627.5" width="1.5" height="2.0" fill="#a89a60"/>
<rect x="454" y="627.5" width="1.5" height="2.0" fill="#a89a60"/>
<rect x="456" y="627.6" width="1.5" height="1.9" fill="#a89a60"/>
<rect x="458" y="627.7" width="1.5" height="1.8" fill="#a89a60"/>
<rect x="470" y="628.5" width="1.5" height="1.0" fill="#a89a60"/>
<rect x="474" y="628.8" width="1.5" height="0.7" fill="#a89a60"/>
<rect x="478" y="628.9" width="1.5" height="0.6" fill="#a89a60"/>
<rect x="482" y="628.6" width="1.5" height="0.9" fill="#a89a60"/>
<rect x="492" y="628.1" width="1.5" height="1.4" fill="#a89a60"/>
<rect x="494" y="628.1" width="1.5" height="1.4" fill="#a89a60"/>
<rect x="496" y="628.5" width="1.5" height="1.0" fill="#a89a60"/>
<rect x="500" y="627.7" width="1.5" height="1.8" fill="#a89a60"/>
<rect x="504" y="628.2" width="1.5" height="1.3" fill="#a89a60"/>
<rect x="510" y="628.4" width="1.5" height="1.1" fill="#a89a60"/>
<line x1="79.3" y1="291" x2="79.3" y2="631" stroke="#333" stroke-width="1"/>
<rect x="10" y="290.2" width="508" height="341.2" fill="none" stroke="#000" stroke-width="2"/>
<circle cx="11.1" cy="456.6" r="9.35" fill="#fff" stroke="#000" stroke-width="1.5"/>
<text x="11.1" y="462.6" font-family="'Liberation Sans',sans-serif" font-size="17.3" font-weight="bold" font-style="normal" text-anchor="middle" fill="#000"  stroke="#000" stroke-width="0.18">C</text>
</svg></body></html>
